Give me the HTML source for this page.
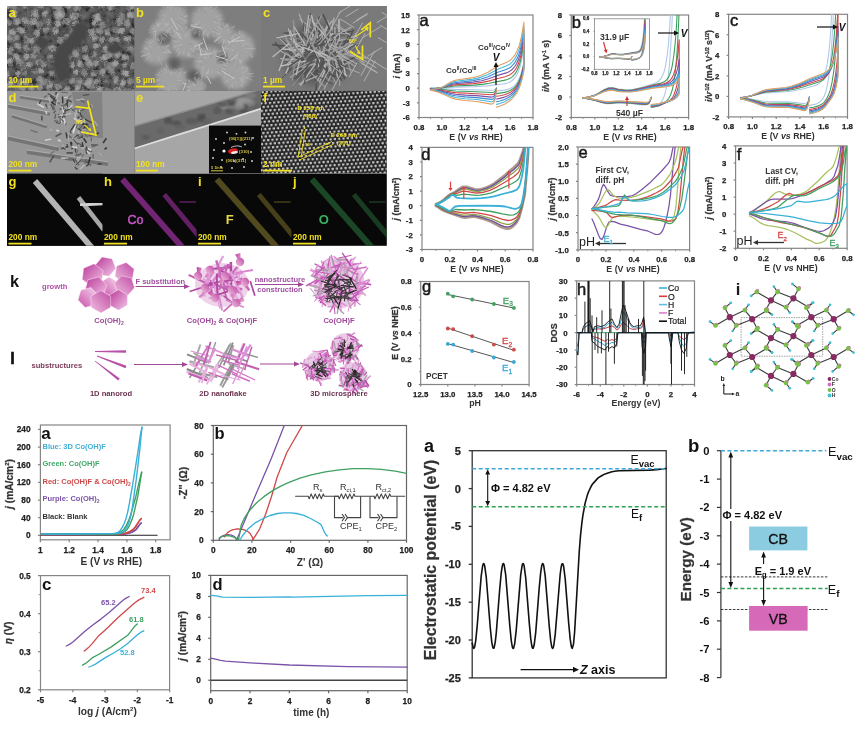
<!DOCTYPE html>
<html><head><meta charset="utf-8"><style>
html,body{margin:0;padding:0;background:#fff;width:858px;height:729px;overflow:hidden}
svg{position:absolute;left:0;top:0;display:block;will-change:transform}
text{font-family:"Liberation Sans",sans-serif}
</style></head><body>
<svg width="858" height="729" viewBox="0 0 858 729" font-family="Liberation Sans, sans-serif">
<defs>
<filter id="nzA" x="7" y="6" width="128" height="85" filterUnits="userSpaceOnUse">
 <feTurbulence type="fractalNoise" baseFrequency="0.16" numOctaves="3" seed="4"/>
 <feColorMatrix type="matrix" values="0 0 0 1.5 -0.42  0 0 0 1.5 -0.42  0 0 0 1.5 -0.42  0 0 0 0 1"/>
</filter>
<filter id="nzB" x="134" y="6" width="128" height="85" filterUnits="userSpaceOnUse">
 <feTurbulence type="fractalNoise" baseFrequency="0.09" numOctaves="4" seed="9"/>
 <feColorMatrix type="matrix" values="0 0 0 1.6 -0.35  0 0 0 1.6 -0.35  0 0 0 1.6 -0.35  0 0 0 0 1"/>
</filter>
<filter id="fuzz" x="7" y="6" width="128" height="85" filterUnits="userSpaceOnUse">
 <feTurbulence type="fractalNoise" baseFrequency="0.7" numOctaves="2" seed="3" result="t"/>
 <feDisplacementMap in="SourceGraphic" in2="t" scale="4" xChannelSelector="R" yChannelSelector="G"/>
</filter>
<filter id="blur03"><feGaussianBlur stdDeviation="0.3"/></filter>
<filter id="blur05"><feGaussianBlur stdDeviation="0.5"/></filter>
<filter id="blur1"><feGaussianBlur stdDeviation="1"/></filter>
<filter id="blur2"><feGaussianBlur stdDeviation="2"/></filter>
<filter id="blur4"><feGaussianBlur stdDeviation="4"/></filter>
<pattern id="lat" x="261" y="90.8" width="4.3" height="7.4" patternUnits="userSpaceOnUse" patternTransform="rotate(-4)">
 <circle cx="1.1" cy="1.0" r="1.3" fill="#c4c4c4"/><circle cx="3.25" cy="4.7" r="1.3" fill="#c4c4c4"/>
</pattern>
<clipPath id="cA"><rect x="7" y="6" width="127.5" height="84.8"/></clipPath>
<clipPath id="cB"><rect x="134.5" y="6" width="126.5" height="84.8"/></clipPath>
<clipPath id="cC"><rect x="261" y="6" width="125.8" height="84.8"/></clipPath>
<clipPath id="cD"><rect x="7" y="90.8" width="127.5" height="82.7"/></clipPath>
<clipPath id="cE"><rect x="134.5" y="90.8" width="126.5" height="82.7"/></clipPath>
<clipPath id="cF"><rect x="261" y="90.8" width="125.8" height="82.7"/></clipPath>
<clipPath id="cG"><rect x="7" y="173.5" width="95.5" height="72.3"/></clipPath>
<clipPath id="cH"><rect x="102.5" y="173.5" width="94.1" height="72.3"/></clipPath>
<clipPath id="cI"><rect x="196.6" y="173.5" width="94.8" height="72.3"/></clipPath>
<clipPath id="cJ"><rect x="291.4" y="173.5" width="95.4" height="72.3"/></clipPath>
</defs>
<rect x="7.0" y="173.5" width="379.8" height="72.3" fill="#080808" />
<rect x="7.0" y="6.0" width="379.8" height="167.5" fill="#777" />
<g clip-path="url(#cA)">
<rect x="7.0" y="6.0" width="127.5" height="84.8" fill="#3e3e3e" />
<g filter="url(#fuzz)">
<circle cx="6.1" cy="5.5" r="3.4" fill="#999" opacity="0.6"/>
<circle cx="8.7" cy="5.4" r="3.5" fill="#999" opacity="0.6"/>
<circle cx="6.9" cy="5.3" r="3.1" fill="#999" opacity="0.6"/>
<circle cx="13.1" cy="7.6" r="2.5" fill="#7e7e7e" opacity="0.6"/>
<circle cx="12.6" cy="6.6" r="2.4" fill="#7e7e7e" opacity="0.6"/>
<circle cx="14.4" cy="7.1" r="2.5" fill="#7e7e7e" opacity="0.6"/>
<circle cx="25.7" cy="6.3" r="2.3" fill="#8a8a8a" opacity="0.6"/>
<circle cx="25.9" cy="5.9" r="2.5" fill="#8a8a8a" opacity="0.6"/>
<circle cx="24.6" cy="6.5" r="2.3" fill="#8a8a8a" opacity="0.6"/>
<circle cx="41.0" cy="5.0" r="2.8" fill="#7e7e7e" opacity="0.6"/>
<circle cx="40.8" cy="4.9" r="3.3" fill="#7e7e7e" opacity="0.6"/>
<circle cx="38.8" cy="4.9" r="3.3" fill="#7e7e7e" opacity="0.6"/>
<circle cx="53.3" cy="3.7" r="3.1" fill="#999" opacity="0.6"/>
<circle cx="53.1" cy="5.8" r="3.1" fill="#999" opacity="0.6"/>
<circle cx="51.2" cy="3.9" r="3.1" fill="#999" opacity="0.6"/>
<circle cx="58.5" cy="7.9" r="3.1" fill="#929292" opacity="0.6"/>
<circle cx="59.4" cy="7.6" r="3.3" fill="#929292" opacity="0.6"/>
<circle cx="61.3" cy="8.9" r="3.0" fill="#929292" opacity="0.6"/>
<circle cx="67.2" cy="5.0" r="2.9" fill="#999" opacity="0.6"/>
<circle cx="69.3" cy="5.6" r="2.3" fill="#999" opacity="0.6"/>
<circle cx="68.6" cy="7.3" r="2.2" fill="#999" opacity="0.6"/>
<circle cx="75.7" cy="8.1" r="3.1" fill="#7e7e7e" opacity="0.6"/>
<circle cx="76.6" cy="8.9" r="2.8" fill="#7e7e7e" opacity="0.6"/>
<circle cx="77.8" cy="8.1" r="3.1" fill="#7e7e7e" opacity="0.6"/>
<circle cx="90.5" cy="3.4" r="2.7" fill="#7e7e7e" opacity="0.6"/>
<circle cx="90.7" cy="5.3" r="2.7" fill="#7e7e7e" opacity="0.6"/>
<circle cx="91.6" cy="5.2" r="2.3" fill="#7e7e7e" opacity="0.6"/>
<circle cx="100.6" cy="7.1" r="2.7" fill="#7e7e7e" opacity="0.6"/>
<circle cx="100.8" cy="5.9" r="2.4" fill="#7e7e7e" opacity="0.6"/>
<circle cx="102.9" cy="8.0" r="2.6" fill="#7e7e7e" opacity="0.6"/>
<circle cx="112.5" cy="6.2" r="3.6" fill="#999" opacity="0.6"/>
<circle cx="109.6" cy="7.1" r="3.5" fill="#999" opacity="0.6"/>
<circle cx="111.8" cy="7.2" r="3.3" fill="#999" opacity="0.6"/>
<circle cx="128.8" cy="8.2" r="2.3" fill="#999" opacity="0.6"/>
<circle cx="129.9" cy="7.3" r="2.3" fill="#999" opacity="0.6"/>
<circle cx="128.5" cy="6.7" r="2.7" fill="#999" opacity="0.6"/>
<circle cx="133.8" cy="4.3" r="2.4" fill="#929292" opacity="0.6"/>
<circle cx="134.0" cy="6.3" r="2.8" fill="#929292" opacity="0.6"/>
<circle cx="134.0" cy="4.8" r="2.6" fill="#929292" opacity="0.6"/>
<circle cx="14.7" cy="13.2" r="3.7" fill="#999" opacity="0.6"/>
<circle cx="13.3" cy="14.6" r="3.6" fill="#999" opacity="0.6"/>
<circle cx="13.8" cy="13.1" r="3.1" fill="#999" opacity="0.6"/>
<circle cx="35.0" cy="14.6" r="3.3" fill="#999" opacity="0.6"/>
<circle cx="36.8" cy="14.8" r="2.9" fill="#999" opacity="0.6"/>
<circle cx="34.6" cy="12.9" r="3.3" fill="#999" opacity="0.6"/>
<circle cx="45.5" cy="12.8" r="2.4" fill="#999" opacity="0.6"/>
<circle cx="44.1" cy="14.9" r="2.4" fill="#999" opacity="0.6"/>
<circle cx="44.2" cy="13.1" r="2.4" fill="#999" opacity="0.6"/>
<circle cx="56.4" cy="15.8" r="3.2" fill="#7e7e7e" opacity="0.6"/>
<circle cx="56.9" cy="13.9" r="3.6" fill="#7e7e7e" opacity="0.6"/>
<circle cx="55.4" cy="14.0" r="2.9" fill="#7e7e7e" opacity="0.6"/>
<circle cx="59.1" cy="13.8" r="2.8" fill="#999" opacity="0.6"/>
<circle cx="59.4" cy="16.6" r="3.5" fill="#999" opacity="0.6"/>
<circle cx="61.8" cy="14.2" r="3.4" fill="#999" opacity="0.6"/>
<circle cx="73.5" cy="15.7" r="3.2" fill="#929292" opacity="0.6"/>
<circle cx="73.7" cy="16.4" r="3.3" fill="#929292" opacity="0.6"/>
<circle cx="74.2" cy="16.1" r="3.6" fill="#929292" opacity="0.6"/>
<circle cx="77.2" cy="15.7" r="2.5" fill="#999" opacity="0.6"/>
<circle cx="76.7" cy="16.7" r="2.3" fill="#999" opacity="0.6"/>
<circle cx="76.7" cy="15.2" r="2.1" fill="#999" opacity="0.6"/>
<circle cx="96.5" cy="15.9" r="3.4" fill="#999" opacity="0.6"/>
<circle cx="98.6" cy="18.2" r="3.4" fill="#999" opacity="0.6"/>
<circle cx="97.5" cy="18.5" r="3.4" fill="#999" opacity="0.6"/>
<circle cx="122.0" cy="16.5" r="3.1" fill="#7e7e7e" opacity="0.6"/>
<circle cx="121.1" cy="16.5" r="3.1" fill="#7e7e7e" opacity="0.6"/>
<circle cx="121.0" cy="14.9" r="2.7" fill="#7e7e7e" opacity="0.6"/>
<circle cx="130.5" cy="14.7" r="3.3" fill="#929292" opacity="0.6"/>
<circle cx="132.5" cy="14.7" r="3.6" fill="#929292" opacity="0.6"/>
<circle cx="130.3" cy="15.0" r="3.5" fill="#929292" opacity="0.6"/>
<circle cx="139.3" cy="15.4" r="2.6" fill="#929292" opacity="0.6"/>
<circle cx="138.2" cy="13.4" r="2.4" fill="#929292" opacity="0.6"/>
<circle cx="139.1" cy="13.8" r="2.9" fill="#929292" opacity="0.6"/>
<circle cx="8.8" cy="22.6" r="2.9" fill="#7e7e7e" opacity="0.6"/>
<circle cx="9.2" cy="21.8" r="3.0" fill="#7e7e7e" opacity="0.6"/>
<circle cx="8.4" cy="22.9" r="2.9" fill="#7e7e7e" opacity="0.6"/>
<circle cx="15.9" cy="20.5" r="3.2" fill="#929292" opacity="0.6"/>
<circle cx="17.9" cy="21.5" r="3.1" fill="#929292" opacity="0.6"/>
<circle cx="16.4" cy="22.2" r="2.9" fill="#929292" opacity="0.6"/>
<circle cx="26.0" cy="20.3" r="3.0" fill="#8a8a8a" opacity="0.6"/>
<circle cx="26.5" cy="22.2" r="2.9" fill="#8a8a8a" opacity="0.6"/>
<circle cx="24.5" cy="19.9" r="2.6" fill="#8a8a8a" opacity="0.6"/>
<circle cx="34.5" cy="21.1" r="3.1" fill="#999" opacity="0.6"/>
<circle cx="32.4" cy="21.8" r="3.5" fill="#999" opacity="0.6"/>
<circle cx="34.4" cy="21.3" r="3.2" fill="#999" opacity="0.6"/>
<circle cx="39.2" cy="25.1" r="3.2" fill="#7e7e7e" opacity="0.6"/>
<circle cx="39.5" cy="25.6" r="2.9" fill="#7e7e7e" opacity="0.6"/>
<circle cx="40.1" cy="24.1" r="3.1" fill="#7e7e7e" opacity="0.6"/>
<circle cx="48.9" cy="21.3" r="2.8" fill="#929292" opacity="0.6"/>
<circle cx="49.1" cy="23.1" r="2.4" fill="#929292" opacity="0.6"/>
<circle cx="49.4" cy="20.6" r="2.4" fill="#929292" opacity="0.6"/>
<circle cx="57.9" cy="22.5" r="3.2" fill="#929292" opacity="0.6"/>
<circle cx="57.4" cy="24.0" r="2.6" fill="#929292" opacity="0.6"/>
<circle cx="57.8" cy="23.4" r="2.8" fill="#929292" opacity="0.6"/>
<circle cx="65.8" cy="21.1" r="3.1" fill="#8a8a8a" opacity="0.6"/>
<circle cx="67.1" cy="21.0" r="2.9" fill="#8a8a8a" opacity="0.6"/>
<circle cx="64.9" cy="22.2" r="3.2" fill="#8a8a8a" opacity="0.6"/>
<circle cx="76.2" cy="24.2" r="3.2" fill="#999" opacity="0.6"/>
<circle cx="75.8" cy="24.0" r="3.3" fill="#999" opacity="0.6"/>
<circle cx="76.4" cy="23.4" r="3.0" fill="#999" opacity="0.6"/>
<circle cx="94.1" cy="23.1" r="2.6" fill="#999" opacity="0.6"/>
<circle cx="94.3" cy="22.8" r="2.6" fill="#999" opacity="0.6"/>
<circle cx="94.5" cy="23.1" r="2.4" fill="#999" opacity="0.6"/>
<circle cx="101.5" cy="25.6" r="3.2" fill="#7e7e7e" opacity="0.6"/>
<circle cx="102.4" cy="24.7" r="3.2" fill="#7e7e7e" opacity="0.6"/>
<circle cx="102.6" cy="24.8" r="3.0" fill="#7e7e7e" opacity="0.6"/>
<circle cx="118.8" cy="21.2" r="3.3" fill="#929292" opacity="0.6"/>
<circle cx="119.4" cy="22.5" r="3.4" fill="#929292" opacity="0.6"/>
<circle cx="119.8" cy="21.6" r="3.0" fill="#929292" opacity="0.6"/>
<circle cx="127.7" cy="23.3" r="3.4" fill="#7e7e7e" opacity="0.6"/>
<circle cx="126.6" cy="23.7" r="3.0" fill="#7e7e7e" opacity="0.6"/>
<circle cx="126.7" cy="22.4" r="3.2" fill="#7e7e7e" opacity="0.6"/>
<circle cx="137.0" cy="24.0" r="2.3" fill="#929292" opacity="0.6"/>
<circle cx="137.9" cy="24.4" r="2.6" fill="#929292" opacity="0.6"/>
<circle cx="137.5" cy="24.3" r="2.3" fill="#929292" opacity="0.6"/>
<circle cx="12.4" cy="32.5" r="3.2" fill="#929292" opacity="0.6"/>
<circle cx="12.8" cy="32.5" r="3.0" fill="#929292" opacity="0.6"/>
<circle cx="11.7" cy="32.0" r="2.8" fill="#929292" opacity="0.6"/>
<circle cx="22.2" cy="30.5" r="3.1" fill="#999" opacity="0.6"/>
<circle cx="21.3" cy="30.3" r="3.3" fill="#999" opacity="0.6"/>
<circle cx="19.8" cy="29.6" r="3.0" fill="#999" opacity="0.6"/>
<circle cx="36.5" cy="31.8" r="3.3" fill="#929292" opacity="0.6"/>
<circle cx="36.8" cy="33.6" r="3.3" fill="#929292" opacity="0.6"/>
<circle cx="37.2" cy="33.9" r="2.9" fill="#929292" opacity="0.6"/>
<circle cx="46.0" cy="29.9" r="2.8" fill="#7e7e7e" opacity="0.6"/>
<circle cx="46.4" cy="29.8" r="2.9" fill="#7e7e7e" opacity="0.6"/>
<circle cx="46.2" cy="30.6" r="3.2" fill="#7e7e7e" opacity="0.6"/>
<circle cx="55.6" cy="30.4" r="3.1" fill="#999" opacity="0.6"/>
<circle cx="56.0" cy="29.2" r="2.8" fill="#999" opacity="0.6"/>
<circle cx="55.1" cy="31.0" r="2.7" fill="#999" opacity="0.6"/>
<circle cx="74.4" cy="33.4" r="3.3" fill="#929292" opacity="0.6"/>
<circle cx="74.4" cy="34.2" r="3.4" fill="#929292" opacity="0.6"/>
<circle cx="72.6" cy="32.2" r="2.9" fill="#929292" opacity="0.6"/>
<circle cx="77.0" cy="33.4" r="2.5" fill="#999" opacity="0.6"/>
<circle cx="79.1" cy="32.7" r="2.9" fill="#999" opacity="0.6"/>
<circle cx="78.2" cy="31.0" r="2.8" fill="#999" opacity="0.6"/>
<circle cx="91.3" cy="31.6" r="3.4" fill="#999" opacity="0.6"/>
<circle cx="91.3" cy="31.7" r="3.6" fill="#999" opacity="0.6"/>
<circle cx="90.6" cy="31.1" r="2.9" fill="#999" opacity="0.6"/>
<circle cx="97.8" cy="30.7" r="2.7" fill="#8a8a8a" opacity="0.6"/>
<circle cx="100.3" cy="31.5" r="2.9" fill="#8a8a8a" opacity="0.6"/>
<circle cx="99.2" cy="30.0" r="2.7" fill="#8a8a8a" opacity="0.6"/>
<circle cx="107.7" cy="32.4" r="2.5" fill="#999" opacity="0.6"/>
<circle cx="108.1" cy="33.5" r="2.7" fill="#999" opacity="0.6"/>
<circle cx="106.9" cy="31.6" r="2.6" fill="#999" opacity="0.6"/>
<circle cx="115.1" cy="29.9" r="2.9" fill="#7e7e7e" opacity="0.6"/>
<circle cx="117.2" cy="30.1" r="2.5" fill="#7e7e7e" opacity="0.6"/>
<circle cx="115.3" cy="30.4" r="3.0" fill="#7e7e7e" opacity="0.6"/>
<circle cx="121.4" cy="30.5" r="3.3" fill="#999" opacity="0.6"/>
<circle cx="122.1" cy="31.2" r="2.9" fill="#999" opacity="0.6"/>
<circle cx="120.1" cy="31.1" r="2.5" fill="#999" opacity="0.6"/>
<circle cx="132.3" cy="31.1" r="2.8" fill="#8a8a8a" opacity="0.6"/>
<circle cx="134.2" cy="31.6" r="3.0" fill="#8a8a8a" opacity="0.6"/>
<circle cx="134.0" cy="31.4" r="3.1" fill="#8a8a8a" opacity="0.6"/>
<circle cx="141.3" cy="29.7" r="2.8" fill="#999" opacity="0.6"/>
<circle cx="142.1" cy="29.0" r="3.4" fill="#999" opacity="0.6"/>
<circle cx="141.3" cy="29.4" r="3.3" fill="#999" opacity="0.6"/>
<circle cx="9.5" cy="39.6" r="3.2" fill="#7e7e7e" opacity="0.6"/>
<circle cx="10.3" cy="37.9" r="2.7" fill="#7e7e7e" opacity="0.6"/>
<circle cx="8.2" cy="37.3" r="2.9" fill="#7e7e7e" opacity="0.6"/>
<circle cx="16.3" cy="37.1" r="2.9" fill="#7e7e7e" opacity="0.6"/>
<circle cx="17.4" cy="37.6" r="2.8" fill="#7e7e7e" opacity="0.6"/>
<circle cx="16.2" cy="38.1" r="2.5" fill="#7e7e7e" opacity="0.6"/>
<circle cx="25.3" cy="38.2" r="2.7" fill="#8a8a8a" opacity="0.6"/>
<circle cx="26.4" cy="40.1" r="2.7" fill="#8a8a8a" opacity="0.6"/>
<circle cx="26.9" cy="41.2" r="2.5" fill="#8a8a8a" opacity="0.6"/>
<circle cx="31.7" cy="41.1" r="2.9" fill="#999" opacity="0.6"/>
<circle cx="30.6" cy="40.6" r="2.3" fill="#999" opacity="0.6"/>
<circle cx="30.8" cy="39.9" r="2.7" fill="#999" opacity="0.6"/>
<circle cx="60.0" cy="40.2" r="3.5" fill="#8a8a8a" opacity="0.6"/>
<circle cx="60.2" cy="40.5" r="3.2" fill="#8a8a8a" opacity="0.6"/>
<circle cx="59.6" cy="41.1" r="2.9" fill="#8a8a8a" opacity="0.6"/>
<circle cx="68.0" cy="37.5" r="2.8" fill="#999" opacity="0.6"/>
<circle cx="66.9" cy="36.5" r="3.0" fill="#999" opacity="0.6"/>
<circle cx="68.4" cy="38.6" r="2.9" fill="#999" opacity="0.6"/>
<circle cx="75.1" cy="39.2" r="3.2" fill="#7e7e7e" opacity="0.6"/>
<circle cx="73.6" cy="39.5" r="3.4" fill="#7e7e7e" opacity="0.6"/>
<circle cx="74.4" cy="40.4" r="3.5" fill="#7e7e7e" opacity="0.6"/>
<circle cx="95.4" cy="36.7" r="2.7" fill="#999" opacity="0.6"/>
<circle cx="94.7" cy="36.8" r="3.3" fill="#999" opacity="0.6"/>
<circle cx="93.8" cy="38.7" r="2.7" fill="#999" opacity="0.6"/>
<circle cx="102.7" cy="39.5" r="2.7" fill="#929292" opacity="0.6"/>
<circle cx="102.5" cy="40.9" r="2.4" fill="#929292" opacity="0.6"/>
<circle cx="101.6" cy="39.4" r="2.6" fill="#929292" opacity="0.6"/>
<circle cx="112.5" cy="39.9" r="2.5" fill="#8a8a8a" opacity="0.6"/>
<circle cx="111.4" cy="39.3" r="2.6" fill="#8a8a8a" opacity="0.6"/>
<circle cx="110.9" cy="39.8" r="2.8" fill="#8a8a8a" opacity="0.6"/>
<circle cx="117.7" cy="39.5" r="2.8" fill="#7e7e7e" opacity="0.6"/>
<circle cx="117.3" cy="39.3" r="2.4" fill="#7e7e7e" opacity="0.6"/>
<circle cx="117.9" cy="40.1" r="2.6" fill="#7e7e7e" opacity="0.6"/>
<circle cx="128.3" cy="37.8" r="3.1" fill="#999" opacity="0.6"/>
<circle cx="126.4" cy="38.2" r="2.7" fill="#999" opacity="0.6"/>
<circle cx="126.7" cy="39.3" r="2.8" fill="#999" opacity="0.6"/>
<circle cx="137.2" cy="40.1" r="2.8" fill="#8a8a8a" opacity="0.6"/>
<circle cx="137.8" cy="39.7" r="2.5" fill="#8a8a8a" opacity="0.6"/>
<circle cx="137.1" cy="40.3" r="2.8" fill="#8a8a8a" opacity="0.6"/>
<circle cx="10.6" cy="50.6" r="2.9" fill="#8a8a8a" opacity="0.6"/>
<circle cx="11.5" cy="49.4" r="2.7" fill="#8a8a8a" opacity="0.6"/>
<circle cx="11.1" cy="51.6" r="3.4" fill="#8a8a8a" opacity="0.6"/>
<circle cx="16.8" cy="45.8" r="3.0" fill="#8a8a8a" opacity="0.6"/>
<circle cx="18.3" cy="45.4" r="2.5" fill="#8a8a8a" opacity="0.6"/>
<circle cx="19.1" cy="46.6" r="2.9" fill="#8a8a8a" opacity="0.6"/>
<circle cx="27.6" cy="46.0" r="3.1" fill="#7e7e7e" opacity="0.6"/>
<circle cx="27.9" cy="48.1" r="3.4" fill="#7e7e7e" opacity="0.6"/>
<circle cx="26.2" cy="47.9" r="3.2" fill="#7e7e7e" opacity="0.6"/>
<circle cx="37.3" cy="49.9" r="3.2" fill="#7e7e7e" opacity="0.6"/>
<circle cx="36.7" cy="51.2" r="3.5" fill="#7e7e7e" opacity="0.6"/>
<circle cx="36.7" cy="48.7" r="3.3" fill="#7e7e7e" opacity="0.6"/>
<circle cx="52.3" cy="48.4" r="2.8" fill="#999" opacity="0.6"/>
<circle cx="51.6" cy="48.6" r="3.1" fill="#999" opacity="0.6"/>
<circle cx="53.1" cy="48.2" r="3.1" fill="#999" opacity="0.6"/>
<circle cx="63.2" cy="48.1" r="2.6" fill="#8a8a8a" opacity="0.6"/>
<circle cx="63.4" cy="49.6" r="2.7" fill="#8a8a8a" opacity="0.6"/>
<circle cx="62.0" cy="50.2" r="2.6" fill="#8a8a8a" opacity="0.6"/>
<circle cx="72.4" cy="48.0" r="2.7" fill="#999" opacity="0.6"/>
<circle cx="71.1" cy="45.7" r="3.0" fill="#999" opacity="0.6"/>
<circle cx="70.5" cy="47.2" r="3.1" fill="#999" opacity="0.6"/>
<circle cx="85.2" cy="47.5" r="2.8" fill="#7e7e7e" opacity="0.6"/>
<circle cx="85.7" cy="49.0" r="3.0" fill="#7e7e7e" opacity="0.6"/>
<circle cx="85.4" cy="49.1" r="3.3" fill="#7e7e7e" opacity="0.6"/>
<circle cx="95.9" cy="46.0" r="2.9" fill="#8a8a8a" opacity="0.6"/>
<circle cx="97.9" cy="45.1" r="2.3" fill="#8a8a8a" opacity="0.6"/>
<circle cx="96.0" cy="45.9" r="2.5" fill="#8a8a8a" opacity="0.6"/>
<circle cx="105.2" cy="49.5" r="2.5" fill="#999" opacity="0.6"/>
<circle cx="106.6" cy="49.5" r="2.9" fill="#999" opacity="0.6"/>
<circle cx="105.3" cy="48.4" r="2.6" fill="#999" opacity="0.6"/>
<circle cx="129.9" cy="49.7" r="3.2" fill="#7e7e7e" opacity="0.6"/>
<circle cx="131.5" cy="49.2" r="2.6" fill="#7e7e7e" opacity="0.6"/>
<circle cx="132.3" cy="51.0" r="2.9" fill="#7e7e7e" opacity="0.6"/>
<circle cx="139.8" cy="47.4" r="2.9" fill="#8a8a8a" opacity="0.6"/>
<circle cx="139.0" cy="44.9" r="3.0" fill="#8a8a8a" opacity="0.6"/>
<circle cx="141.1" cy="46.5" r="3.7" fill="#8a8a8a" opacity="0.6"/>
<circle cx="16.4" cy="56.3" r="3.2" fill="#929292" opacity="0.6"/>
<circle cx="16.6" cy="56.8" r="2.6" fill="#929292" opacity="0.6"/>
<circle cx="16.1" cy="56.2" r="2.9" fill="#929292" opacity="0.6"/>
<circle cx="27.3" cy="55.9" r="2.5" fill="#929292" opacity="0.6"/>
<circle cx="26.1" cy="57.1" r="3.0" fill="#929292" opacity="0.6"/>
<circle cx="26.6" cy="55.9" r="2.6" fill="#929292" opacity="0.6"/>
<circle cx="33.4" cy="55.7" r="2.9" fill="#929292" opacity="0.6"/>
<circle cx="34.5" cy="54.2" r="2.4" fill="#929292" opacity="0.6"/>
<circle cx="34.2" cy="54.8" r="2.6" fill="#929292" opacity="0.6"/>
<circle cx="51.7" cy="59.5" r="3.4" fill="#8a8a8a" opacity="0.6"/>
<circle cx="50.1" cy="57.5" r="2.9" fill="#8a8a8a" opacity="0.6"/>
<circle cx="49.5" cy="57.4" r="2.9" fill="#8a8a8a" opacity="0.6"/>
<circle cx="67.9" cy="54.7" r="2.7" fill="#929292" opacity="0.6"/>
<circle cx="69.1" cy="55.7" r="2.9" fill="#929292" opacity="0.6"/>
<circle cx="69.6" cy="55.8" r="2.9" fill="#929292" opacity="0.6"/>
<circle cx="75.2" cy="52.8" r="3.2" fill="#8a8a8a" opacity="0.6"/>
<circle cx="74.1" cy="54.0" r="3.4" fill="#8a8a8a" opacity="0.6"/>
<circle cx="75.9" cy="54.3" r="2.9" fill="#8a8a8a" opacity="0.6"/>
<circle cx="86.9" cy="58.4" r="2.3" fill="#929292" opacity="0.6"/>
<circle cx="85.6" cy="58.1" r="2.7" fill="#929292" opacity="0.6"/>
<circle cx="84.9" cy="56.7" r="2.8" fill="#929292" opacity="0.6"/>
<circle cx="93.6" cy="53.8" r="2.9" fill="#7e7e7e" opacity="0.6"/>
<circle cx="93.2" cy="54.6" r="2.7" fill="#7e7e7e" opacity="0.6"/>
<circle cx="92.6" cy="53.8" r="2.6" fill="#7e7e7e" opacity="0.6"/>
<circle cx="105.4" cy="56.7" r="2.9" fill="#999" opacity="0.6"/>
<circle cx="103.1" cy="58.0" r="3.1" fill="#999" opacity="0.6"/>
<circle cx="105.5" cy="57.5" r="2.8" fill="#999" opacity="0.6"/>
<circle cx="108.1" cy="54.5" r="3.0" fill="#8a8a8a" opacity="0.6"/>
<circle cx="108.6" cy="54.9" r="3.6" fill="#8a8a8a" opacity="0.6"/>
<circle cx="109.7" cy="55.1" r="3.4" fill="#8a8a8a" opacity="0.6"/>
<circle cx="118.7" cy="54.2" r="2.9" fill="#929292" opacity="0.6"/>
<circle cx="117.3" cy="54.2" r="3.1" fill="#929292" opacity="0.6"/>
<circle cx="116.6" cy="55.7" r="3.3" fill="#929292" opacity="0.6"/>
<circle cx="124.0" cy="57.7" r="2.8" fill="#999" opacity="0.6"/>
<circle cx="126.4" cy="58.0" r="2.9" fill="#999" opacity="0.6"/>
<circle cx="124.5" cy="56.4" r="3.1" fill="#999" opacity="0.6"/>
<circle cx="136.8" cy="55.3" r="2.4" fill="#7e7e7e" opacity="0.6"/>
<circle cx="137.5" cy="54.7" r="2.5" fill="#7e7e7e" opacity="0.6"/>
<circle cx="136.3" cy="53.9" r="2.7" fill="#7e7e7e" opacity="0.6"/>
<circle cx="9.4" cy="61.9" r="3.0" fill="#999" opacity="0.6"/>
<circle cx="9.7" cy="60.7" r="2.5" fill="#999" opacity="0.6"/>
<circle cx="10.1" cy="63.4" r="2.8" fill="#999" opacity="0.6"/>
<circle cx="21.5" cy="63.6" r="3.0" fill="#7e7e7e" opacity="0.6"/>
<circle cx="19.6" cy="61.8" r="3.3" fill="#7e7e7e" opacity="0.6"/>
<circle cx="18.8" cy="61.7" r="3.3" fill="#7e7e7e" opacity="0.6"/>
<circle cx="30.2" cy="64.2" r="2.8" fill="#999" opacity="0.6"/>
<circle cx="28.1" cy="64.6" r="2.5" fill="#999" opacity="0.6"/>
<circle cx="28.1" cy="64.2" r="2.3" fill="#999" opacity="0.6"/>
<circle cx="40.5" cy="62.3" r="2.8" fill="#929292" opacity="0.6"/>
<circle cx="38.7" cy="61.7" r="2.6" fill="#929292" opacity="0.6"/>
<circle cx="38.3" cy="62.3" r="2.6" fill="#929292" opacity="0.6"/>
<circle cx="43.7" cy="64.3" r="2.5" fill="#8a8a8a" opacity="0.6"/>
<circle cx="43.9" cy="65.4" r="2.6" fill="#8a8a8a" opacity="0.6"/>
<circle cx="43.6" cy="64.6" r="2.5" fill="#8a8a8a" opacity="0.6"/>
<circle cx="72.0" cy="64.1" r="2.7" fill="#999" opacity="0.6"/>
<circle cx="71.9" cy="66.7" r="2.8" fill="#999" opacity="0.6"/>
<circle cx="72.6" cy="66.1" r="2.3" fill="#999" opacity="0.6"/>
<circle cx="81.1" cy="64.4" r="3.0" fill="#999" opacity="0.6"/>
<circle cx="80.5" cy="64.1" r="3.2" fill="#999" opacity="0.6"/>
<circle cx="79.5" cy="62.7" r="3.2" fill="#999" opacity="0.6"/>
<circle cx="90.0" cy="63.7" r="3.2" fill="#8a8a8a" opacity="0.6"/>
<circle cx="88.7" cy="62.2" r="3.6" fill="#8a8a8a" opacity="0.6"/>
<circle cx="89.6" cy="63.7" r="3.0" fill="#8a8a8a" opacity="0.6"/>
<circle cx="96.1" cy="63.8" r="2.9" fill="#999" opacity="0.6"/>
<circle cx="96.6" cy="63.9" r="2.9" fill="#999" opacity="0.6"/>
<circle cx="96.3" cy="62.9" r="3.1" fill="#999" opacity="0.6"/>
<circle cx="106.9" cy="63.9" r="3.2" fill="#7e7e7e" opacity="0.6"/>
<circle cx="107.3" cy="66.8" r="3.1" fill="#7e7e7e" opacity="0.6"/>
<circle cx="107.9" cy="65.7" r="3.5" fill="#7e7e7e" opacity="0.6"/>
<circle cx="115.2" cy="63.2" r="2.9" fill="#929292" opacity="0.6"/>
<circle cx="115.5" cy="62.9" r="3.0" fill="#929292" opacity="0.6"/>
<circle cx="113.5" cy="65.3" r="3.3" fill="#929292" opacity="0.6"/>
<circle cx="125.2" cy="65.8" r="2.3" fill="#8a8a8a" opacity="0.6"/>
<circle cx="123.6" cy="65.8" r="2.3" fill="#8a8a8a" opacity="0.6"/>
<circle cx="125.6" cy="64.3" r="2.1" fill="#8a8a8a" opacity="0.6"/>
<circle cx="132.7" cy="65.8" r="3.1" fill="#8a8a8a" opacity="0.6"/>
<circle cx="133.6" cy="66.0" r="2.9" fill="#8a8a8a" opacity="0.6"/>
<circle cx="134.0" cy="64.8" r="3.0" fill="#8a8a8a" opacity="0.6"/>
<circle cx="140.9" cy="65.0" r="2.6" fill="#999" opacity="0.6"/>
<circle cx="142.1" cy="64.6" r="2.4" fill="#999" opacity="0.6"/>
<circle cx="141.6" cy="63.4" r="2.8" fill="#999" opacity="0.6"/>
<circle cx="5.0" cy="75.5" r="2.5" fill="#8a8a8a" opacity="0.6"/>
<circle cx="7.3" cy="75.2" r="2.4" fill="#8a8a8a" opacity="0.6"/>
<circle cx="5.6" cy="73.4" r="2.8" fill="#8a8a8a" opacity="0.6"/>
<circle cx="18.1" cy="74.2" r="2.6" fill="#929292" opacity="0.6"/>
<circle cx="17.9" cy="73.9" r="3.0" fill="#929292" opacity="0.6"/>
<circle cx="17.7" cy="73.1" r="2.7" fill="#929292" opacity="0.6"/>
<circle cx="23.8" cy="70.9" r="3.0" fill="#7e7e7e" opacity="0.6"/>
<circle cx="23.3" cy="69.6" r="2.9" fill="#7e7e7e" opacity="0.6"/>
<circle cx="24.2" cy="72.4" r="2.9" fill="#7e7e7e" opacity="0.6"/>
<circle cx="34.8" cy="70.6" r="2.3" fill="#8a8a8a" opacity="0.6"/>
<circle cx="35.6" cy="71.8" r="2.6" fill="#8a8a8a" opacity="0.6"/>
<circle cx="33.7" cy="70.4" r="2.1" fill="#8a8a8a" opacity="0.6"/>
<circle cx="40.6" cy="70.8" r="2.7" fill="#929292" opacity="0.6"/>
<circle cx="41.0" cy="70.7" r="2.5" fill="#929292" opacity="0.6"/>
<circle cx="40.8" cy="70.4" r="2.4" fill="#929292" opacity="0.6"/>
<circle cx="50.0" cy="72.6" r="2.4" fill="#7e7e7e" opacity="0.6"/>
<circle cx="52.6" cy="73.1" r="2.7" fill="#7e7e7e" opacity="0.6"/>
<circle cx="52.5" cy="73.7" r="2.5" fill="#7e7e7e" opacity="0.6"/>
<circle cx="67.1" cy="75.6" r="3.6" fill="#929292" opacity="0.6"/>
<circle cx="66.9" cy="75.0" r="3.1" fill="#929292" opacity="0.6"/>
<circle cx="66.6" cy="76.1" r="3.6" fill="#929292" opacity="0.6"/>
<circle cx="75.6" cy="73.0" r="2.8" fill="#929292" opacity="0.6"/>
<circle cx="76.2" cy="72.6" r="2.5" fill="#929292" opacity="0.6"/>
<circle cx="75.8" cy="71.6" r="2.4" fill="#929292" opacity="0.6"/>
<circle cx="85.9" cy="71.6" r="3.1" fill="#8a8a8a" opacity="0.6"/>
<circle cx="84.1" cy="71.8" r="3.0" fill="#8a8a8a" opacity="0.6"/>
<circle cx="84.9" cy="73.2" r="3.0" fill="#8a8a8a" opacity="0.6"/>
<circle cx="96.2" cy="72.7" r="2.7" fill="#999" opacity="0.6"/>
<circle cx="94.7" cy="73.0" r="3.0" fill="#999" opacity="0.6"/>
<circle cx="94.3" cy="74.4" r="2.5" fill="#999" opacity="0.6"/>
<circle cx="102.0" cy="72.3" r="2.9" fill="#929292" opacity="0.6"/>
<circle cx="103.2" cy="71.1" r="2.7" fill="#929292" opacity="0.6"/>
<circle cx="102.0" cy="70.5" r="2.3" fill="#929292" opacity="0.6"/>
<circle cx="111.7" cy="71.5" r="2.7" fill="#7e7e7e" opacity="0.6"/>
<circle cx="110.9" cy="70.2" r="2.7" fill="#7e7e7e" opacity="0.6"/>
<circle cx="111.7" cy="71.5" r="3.0" fill="#7e7e7e" opacity="0.6"/>
<circle cx="125.8" cy="73.7" r="3.0" fill="#999" opacity="0.6"/>
<circle cx="125.9" cy="73.4" r="2.9" fill="#999" opacity="0.6"/>
<circle cx="123.9" cy="72.9" r="2.8" fill="#999" opacity="0.6"/>
<circle cx="136.8" cy="71.1" r="2.8" fill="#7e7e7e" opacity="0.6"/>
<circle cx="137.9" cy="73.2" r="2.5" fill="#7e7e7e" opacity="0.6"/>
<circle cx="137.4" cy="72.2" r="2.7" fill="#7e7e7e" opacity="0.6"/>
<circle cx="10.4" cy="83.0" r="2.6" fill="#999" opacity="0.6"/>
<circle cx="12.9" cy="81.8" r="2.7" fill="#999" opacity="0.6"/>
<circle cx="11.2" cy="83.2" r="2.3" fill="#999" opacity="0.6"/>
<circle cx="19.3" cy="82.3" r="2.4" fill="#8a8a8a" opacity="0.6"/>
<circle cx="19.3" cy="84.2" r="2.3" fill="#8a8a8a" opacity="0.6"/>
<circle cx="18.5" cy="81.6" r="2.8" fill="#8a8a8a" opacity="0.6"/>
<circle cx="27.5" cy="81.2" r="2.7" fill="#999" opacity="0.6"/>
<circle cx="24.9" cy="82.0" r="2.8" fill="#999" opacity="0.6"/>
<circle cx="25.9" cy="83.6" r="2.8" fill="#999" opacity="0.6"/>
<circle cx="38.8" cy="81.0" r="2.9" fill="#7e7e7e" opacity="0.6"/>
<circle cx="39.3" cy="79.0" r="2.9" fill="#7e7e7e" opacity="0.6"/>
<circle cx="39.9" cy="78.7" r="2.9" fill="#7e7e7e" opacity="0.6"/>
<circle cx="44.7" cy="82.2" r="3.2" fill="#7e7e7e" opacity="0.6"/>
<circle cx="43.9" cy="80.3" r="3.3" fill="#7e7e7e" opacity="0.6"/>
<circle cx="42.8" cy="81.9" r="2.9" fill="#7e7e7e" opacity="0.6"/>
<circle cx="50.9" cy="81.2" r="2.5" fill="#8a8a8a" opacity="0.6"/>
<circle cx="51.2" cy="84.0" r="2.5" fill="#8a8a8a" opacity="0.6"/>
<circle cx="51.8" cy="83.9" r="2.4" fill="#8a8a8a" opacity="0.6"/>
<circle cx="72.7" cy="83.3" r="3.1" fill="#8a8a8a" opacity="0.6"/>
<circle cx="72.3" cy="80.6" r="3.1" fill="#8a8a8a" opacity="0.6"/>
<circle cx="71.8" cy="80.6" r="3.0" fill="#8a8a8a" opacity="0.6"/>
<circle cx="79.2" cy="80.4" r="2.9" fill="#8a8a8a" opacity="0.6"/>
<circle cx="80.5" cy="81.9" r="3.4" fill="#8a8a8a" opacity="0.6"/>
<circle cx="78.9" cy="81.5" r="3.1" fill="#8a8a8a" opacity="0.6"/>
<circle cx="87.7" cy="83.5" r="3.0" fill="#999" opacity="0.6"/>
<circle cx="87.6" cy="83.2" r="3.7" fill="#999" opacity="0.6"/>
<circle cx="89.7" cy="81.8" r="3.8" fill="#999" opacity="0.6"/>
<circle cx="96.0" cy="82.1" r="2.3" fill="#999" opacity="0.6"/>
<circle cx="98.5" cy="81.7" r="2.7" fill="#999" opacity="0.6"/>
<circle cx="96.4" cy="81.7" r="2.8" fill="#999" opacity="0.6"/>
<circle cx="104.0" cy="83.1" r="2.4" fill="#7e7e7e" opacity="0.6"/>
<circle cx="106.3" cy="82.0" r="2.4" fill="#7e7e7e" opacity="0.6"/>
<circle cx="104.4" cy="81.9" r="2.6" fill="#7e7e7e" opacity="0.6"/>
<circle cx="116.1" cy="78.7" r="2.9" fill="#929292" opacity="0.6"/>
<circle cx="115.8" cy="81.1" r="2.7" fill="#929292" opacity="0.6"/>
<circle cx="115.9" cy="80.4" r="2.4" fill="#929292" opacity="0.6"/>
<circle cx="123.2" cy="81.8" r="2.7" fill="#999" opacity="0.6"/>
<circle cx="123.0" cy="83.7" r="2.7" fill="#999" opacity="0.6"/>
<circle cx="123.4" cy="83.6" r="2.7" fill="#999" opacity="0.6"/>
<circle cx="131.1" cy="81.3" r="2.3" fill="#7e7e7e" opacity="0.6"/>
<circle cx="129.7" cy="81.5" r="2.9" fill="#7e7e7e" opacity="0.6"/>
<circle cx="131.5" cy="80.4" r="2.7" fill="#7e7e7e" opacity="0.6"/>
<circle cx="141.6" cy="79.0" r="2.8" fill="#7e7e7e" opacity="0.6"/>
<circle cx="141.2" cy="79.9" r="3.0" fill="#7e7e7e" opacity="0.6"/>
<circle cx="140.3" cy="79.9" r="3.0" fill="#7e7e7e" opacity="0.6"/>
<circle cx="5.8" cy="85.6" r="3.3" fill="#929292" opacity="0.6"/>
<circle cx="5.7" cy="86.8" r="3.0" fill="#929292" opacity="0.6"/>
<circle cx="4.9" cy="87.1" r="3.5" fill="#929292" opacity="0.6"/>
<circle cx="15.0" cy="86.1" r="2.8" fill="#7e7e7e" opacity="0.6"/>
<circle cx="16.5" cy="87.9" r="2.7" fill="#7e7e7e" opacity="0.6"/>
<circle cx="15.9" cy="86.6" r="2.5" fill="#7e7e7e" opacity="0.6"/>
<circle cx="23.7" cy="88.4" r="2.6" fill="#8a8a8a" opacity="0.6"/>
<circle cx="21.7" cy="88.9" r="2.7" fill="#8a8a8a" opacity="0.6"/>
<circle cx="20.9" cy="87.8" r="2.7" fill="#8a8a8a" opacity="0.6"/>
<circle cx="31.0" cy="86.0" r="2.2" fill="#999" opacity="0.6"/>
<circle cx="30.0" cy="88.5" r="2.2" fill="#999" opacity="0.6"/>
<circle cx="31.8" cy="88.1" r="2.5" fill="#999" opacity="0.6"/>
<circle cx="40.3" cy="88.2" r="2.6" fill="#8a8a8a" opacity="0.6"/>
<circle cx="39.7" cy="89.1" r="2.8" fill="#8a8a8a" opacity="0.6"/>
<circle cx="38.8" cy="86.9" r="3.0" fill="#8a8a8a" opacity="0.6"/>
<circle cx="48.8" cy="87.7" r="3.2" fill="#929292" opacity="0.6"/>
<circle cx="49.4" cy="88.5" r="2.8" fill="#929292" opacity="0.6"/>
<circle cx="49.9" cy="87.4" r="3.2" fill="#929292" opacity="0.6"/>
<circle cx="58.0" cy="86.8" r="2.9" fill="#8a8a8a" opacity="0.6"/>
<circle cx="58.8" cy="87.2" r="2.9" fill="#8a8a8a" opacity="0.6"/>
<circle cx="58.8" cy="86.9" r="3.4" fill="#8a8a8a" opacity="0.6"/>
<circle cx="66.7" cy="90.0" r="2.5" fill="#999" opacity="0.6"/>
<circle cx="67.3" cy="90.6" r="3.0" fill="#999" opacity="0.6"/>
<circle cx="68.0" cy="88.7" r="2.9" fill="#999" opacity="0.6"/>
<circle cx="77.6" cy="87.1" r="2.5" fill="#999" opacity="0.6"/>
<circle cx="77.4" cy="88.7" r="2.4" fill="#999" opacity="0.6"/>
<circle cx="78.2" cy="87.1" r="2.7" fill="#999" opacity="0.6"/>
<circle cx="84.5" cy="92.1" r="2.5" fill="#7e7e7e" opacity="0.6"/>
<circle cx="84.2" cy="91.5" r="2.7" fill="#7e7e7e" opacity="0.6"/>
<circle cx="84.1" cy="90.6" r="2.8" fill="#7e7e7e" opacity="0.6"/>
<circle cx="91.8" cy="87.4" r="3.3" fill="#7e7e7e" opacity="0.6"/>
<circle cx="89.9" cy="87.2" r="3.0" fill="#7e7e7e" opacity="0.6"/>
<circle cx="91.0" cy="85.6" r="3.2" fill="#7e7e7e" opacity="0.6"/>
<circle cx="100.5" cy="88.8" r="2.6" fill="#929292" opacity="0.6"/>
<circle cx="99.0" cy="89.2" r="2.8" fill="#929292" opacity="0.6"/>
<circle cx="99.5" cy="88.7" r="2.6" fill="#929292" opacity="0.6"/>
<circle cx="108.3" cy="91.9" r="3.3" fill="#7e7e7e" opacity="0.6"/>
<circle cx="107.5" cy="91.3" r="3.3" fill="#7e7e7e" opacity="0.6"/>
<circle cx="110.1" cy="92.1" r="3.2" fill="#7e7e7e" opacity="0.6"/>
<circle cx="116.2" cy="91.2" r="3.3" fill="#999" opacity="0.6"/>
<circle cx="118.1" cy="90.8" r="3.0" fill="#999" opacity="0.6"/>
<circle cx="117.4" cy="90.4" r="3.5" fill="#999" opacity="0.6"/>
<circle cx="128.6" cy="92.2" r="3.2" fill="#8a8a8a" opacity="0.6"/>
<circle cx="126.9" cy="92.6" r="3.1" fill="#8a8a8a" opacity="0.6"/>
<circle cx="126.4" cy="91.1" r="3.0" fill="#8a8a8a" opacity="0.6"/>
<circle cx="133.7" cy="90.9" r="2.4" fill="#999" opacity="0.6"/>
<circle cx="135.6" cy="89.3" r="2.4" fill="#999" opacity="0.6"/>
<circle cx="135.3" cy="88.5" r="2.5" fill="#999" opacity="0.6"/>
</g>
<rect x="7.0" y="6.0" width="127.5" height="84.8" fill="#000"  filter="url(#nzA)" opacity="0.25"/>
<path d="M76,22 C73,30 70,36 62.6,42.9 C57,48 54,53 54.2,62.6 C54.5,70 56,76 60,81 L72,79 C70,72 69,64 69,58 C70,53 73,50 78,46 C84,41 88,33 88,25 Z" fill="#474747" filter="url(#blur1)"/>
<ellipse cx="43" cy="43" rx="6" ry="5" fill="#474747" filter="url(#blur1)"/><ellipse cx="114" cy="49" rx="7" ry="4.5" fill="#474747" filter="url(#blur1)"/>
</g>
<g clip-path="url(#cB)">
<rect x="134.5" y="6.0" width="126.5" height="84.8" fill="#7e7e7e" />
<circle cx="172.8" cy="19.4" r="15.0" fill="#a2a2a2" filter="url(#blur2)"/>
<circle cx="207" cy="21" r="16.0" fill="#a2a2a2" filter="url(#blur2)"/>
<circle cx="186" cy="43" r="15.0" fill="#a2a2a2" filter="url(#blur2)"/>
<circle cx="156.4" cy="50.8" r="14.0" fill="#a2a2a2" filter="url(#blur2)"/>
<circle cx="238.5" cy="47.8" r="16.0" fill="#a2a2a2" filter="url(#blur2)"/>
<circle cx="210" cy="62.7" r="16.0" fill="#a2a2a2" filter="url(#blur2)"/>
<circle cx="171.3" cy="79" r="15.0" fill="#a2a2a2" filter="url(#blur2)"/>
<circle cx="235.5" cy="75" r="15.0" fill="#a2a2a2" filter="url(#blur2)"/>
<circle cx="195" cy="88" r="10.0" fill="#a2a2a2" filter="url(#blur2)"/>
<circle cx="224" cy="34" r="10.0" fill="#a2a2a2" filter="url(#blur2)"/>
<circle cx="160" cy="30" r="9.0" fill="#a2a2a2" filter="url(#blur2)"/>
<circle cx="163.8" cy="38.8" r="6" fill="#5e5e5e" filter="url(#blur2)"/>
<circle cx="174.3" cy="64.2" r="6" fill="#5e5e5e" filter="url(#blur2)"/>
<circle cx="196.7" cy="34.4" r="5" fill="#5e5e5e" filter="url(#blur2)"/>
<circle cx="193.7" cy="76" r="6" fill="#5e5e5e" filter="url(#blur2)"/>
<circle cx="222" cy="58" r="5" fill="#5e5e5e" filter="url(#blur2)"/>
<line x1="179.6" y1="28.5" x2="181.1" y2="30.5" stroke="#b0b0b0" stroke-width="0.6" opacity="0.75"/>
<line x1="164.3" y1="27.0" x2="161.5" y2="29.4" stroke="#bdbdbd" stroke-width="0.6" opacity="0.75"/>
<line x1="171.1" y1="8.8" x2="170.4" y2="4.6" stroke="#b0b0b0" stroke-width="0.6" opacity="0.75"/>
<line x1="172.0" y1="10.3" x2="171.7" y2="7.7" stroke="#b0b0b0" stroke-width="0.6" opacity="0.75"/>
<line x1="176.7" y1="21.7" x2="178.9" y2="23.0" stroke="#8c8c8c" stroke-width="0.6" opacity="0.75"/>
<line x1="183.3" y1="11.6" x2="186.6" y2="9.1" stroke="#b0b0b0" stroke-width="0.6" opacity="0.75"/>
<line x1="163.3" y1="19.9" x2="159.9" y2="20.1" stroke="#bdbdbd" stroke-width="0.6" opacity="0.75"/>
<line x1="172.9" y1="24.7" x2="173.0" y2="27.7" stroke="#b0b0b0" stroke-width="0.6" opacity="0.75"/>
<line x1="160.4" y1="18.6" x2="157.1" y2="18.4" stroke="#8c8c8c" stroke-width="0.6" opacity="0.75"/>
<line x1="181.4" y1="29.0" x2="183.5" y2="31.3" stroke="#bdbdbd" stroke-width="0.6" opacity="0.75"/>
<line x1="163.1" y1="13.3" x2="160.3" y2="11.6" stroke="#8c8c8c" stroke-width="0.6" opacity="0.75"/>
<line x1="185.1" y1="16.6" x2="187.8" y2="16.0" stroke="#c6c6c6" stroke-width="0.6" opacity="0.75"/>
<line x1="166.4" y1="11.7" x2="163.3" y2="8.0" stroke="#8c8c8c" stroke-width="0.6" opacity="0.75"/>
<line x1="182.7" y1="9.2" x2="185.2" y2="6.7" stroke="#b0b0b0" stroke-width="0.6" opacity="0.75"/>
<line x1="163.2" y1="27.3" x2="160.3" y2="29.7" stroke="#b0b0b0" stroke-width="0.6" opacity="0.75"/>
<line x1="159.0" y1="16.4" x2="155.5" y2="15.7" stroke="#8c8c8c" stroke-width="0.6" opacity="0.75"/>
<line x1="180.2" y1="26.3" x2="183.6" y2="29.4" stroke="#c6c6c6" stroke-width="0.6" opacity="0.75"/>
<line x1="184.7" y1="25.2" x2="188.9" y2="27.3" stroke="#8c8c8c" stroke-width="0.6" opacity="0.75"/>
<line x1="171.4" y1="10.0" x2="170.7" y2="5.4" stroke="#b0b0b0" stroke-width="0.6" opacity="0.75"/>
<line x1="175.1" y1="29.0" x2="176.0" y2="32.8" stroke="#b0b0b0" stroke-width="0.6" opacity="0.75"/>
<line x1="166.8" y1="18.8" x2="163.0" y2="18.4" stroke="#b0b0b0" stroke-width="0.6" opacity="0.75"/>
<line x1="180.3" y1="19.9" x2="183.1" y2="20.1" stroke="#bdbdbd" stroke-width="0.6" opacity="0.75"/>
<line x1="177.4" y1="23.7" x2="179.8" y2="25.9" stroke="#c6c6c6" stroke-width="0.6" opacity="0.75"/>
<line x1="171.8" y1="29.1" x2="171.3" y2="33.4" stroke="#8c8c8c" stroke-width="0.6" opacity="0.75"/>
<line x1="175.9" y1="27.0" x2="177.5" y2="30.9" stroke="#b0b0b0" stroke-width="0.6" opacity="0.75"/>
<line x1="179.5" y1="20.4" x2="183.8" y2="21.0" stroke="#8c8c8c" stroke-width="0.6" opacity="0.75"/>
<line x1="166.4" y1="16.3" x2="162.6" y2="14.5" stroke="#c6c6c6" stroke-width="0.6" opacity="0.75"/>
<line x1="178.3" y1="23.0" x2="181.9" y2="25.4" stroke="#8c8c8c" stroke-width="0.6" opacity="0.75"/>
<line x1="166.7" y1="8.4" x2="164.4" y2="4.2" stroke="#8c8c8c" stroke-width="0.6" opacity="0.75"/>
<line x1="177.7" y1="25.3" x2="179.8" y2="27.8" stroke="#b0b0b0" stroke-width="0.6" opacity="0.75"/>
<line x1="165.7" y1="9.7" x2="162.8" y2="5.8" stroke="#b0b0b0" stroke-width="0.6" opacity="0.75"/>
<line x1="184.0" y1="16.5" x2="187.3" y2="15.6" stroke="#b0b0b0" stroke-width="0.6" opacity="0.75"/>
<line x1="170.9" y1="31.9" x2="170.3" y2="36.1" stroke="#bdbdbd" stroke-width="0.6" opacity="0.75"/>
<line x1="168.8" y1="8.3" x2="167.2" y2="3.8" stroke="#b0b0b0" stroke-width="0.6" opacity="0.75"/>
<line x1="162.1" y1="22.8" x2="158.8" y2="23.8" stroke="#bdbdbd" stroke-width="0.6" opacity="0.75"/>
<line x1="181.2" y1="17.0" x2="183.5" y2="16.3" stroke="#8c8c8c" stroke-width="0.6" opacity="0.75"/>
<line x1="167.5" y1="7.8" x2="165.7" y2="4.0" stroke="#c6c6c6" stroke-width="0.6" opacity="0.75"/>
<line x1="165.8" y1="15.4" x2="162.7" y2="13.6" stroke="#8c8c8c" stroke-width="0.6" opacity="0.75"/>
<line x1="179.7" y1="18.8" x2="182.0" y2="18.6" stroke="#b0b0b0" stroke-width="0.6" opacity="0.75"/>
<line x1="176.7" y1="18.4" x2="180.1" y2="17.5" stroke="#b0b0b0" stroke-width="0.6" opacity="0.75"/>
<line x1="165.0" y1="20.8" x2="160.4" y2="21.7" stroke="#b0b0b0" stroke-width="0.6" opacity="0.75"/>
<line x1="183.3" y1="16.7" x2="185.4" y2="16.1" stroke="#bdbdbd" stroke-width="0.6" opacity="0.75"/>
<line x1="182.1" y1="28.4" x2="185.0" y2="31.1" stroke="#b0b0b0" stroke-width="0.6" opacity="0.75"/>
<line x1="174.8" y1="7.5" x2="175.6" y2="3.0" stroke="#8c8c8c" stroke-width="0.6" opacity="0.75"/>
<line x1="174.7" y1="32.7" x2="175.0" y2="35.1" stroke="#c6c6c6" stroke-width="0.6" opacity="0.75"/>
<line x1="172.8" y1="11.5" x2="172.8" y2="8.7" stroke="#8c8c8c" stroke-width="0.6" opacity="0.75"/>
<line x1="173.4" y1="29.6" x2="173.6" y2="32.2" stroke="#bdbdbd" stroke-width="0.6" opacity="0.75"/>
<line x1="184.2" y1="22.3" x2="187.1" y2="23.1" stroke="#bdbdbd" stroke-width="0.6" opacity="0.75"/>
<line x1="162.4" y1="12.2" x2="159.7" y2="10.3" stroke="#b0b0b0" stroke-width="0.6" opacity="0.75"/>
<line x1="182.6" y1="20.5" x2="187.6" y2="21.1" stroke="#c6c6c6" stroke-width="0.6" opacity="0.75"/>
<line x1="159.0" y1="16.8" x2="156.8" y2="16.4" stroke="#8c8c8c" stroke-width="0.6" opacity="0.75"/>
<line x1="184.6" y1="16.8" x2="186.8" y2="16.3" stroke="#b0b0b0" stroke-width="0.6" opacity="0.75"/>
<line x1="164.1" y1="22.3" x2="159.9" y2="23.7" stroke="#b0b0b0" stroke-width="0.6" opacity="0.75"/>
<line x1="172.6" y1="26.1" x2="172.6" y2="29.0" stroke="#b0b0b0" stroke-width="0.6" opacity="0.75"/>
<line x1="179.3" y1="9.9" x2="180.9" y2="7.5" stroke="#bdbdbd" stroke-width="0.6" opacity="0.75"/>
<line x1="215.7" y1="28.6" x2="219.1" y2="31.5" stroke="#c6c6c6" stroke-width="0.6" opacity="0.75"/>
<line x1="204.3" y1="31.8" x2="203.6" y2="34.3" stroke="#bdbdbd" stroke-width="0.6" opacity="0.75"/>
<line x1="214.0" y1="22.0" x2="216.6" y2="22.4" stroke="#c6c6c6" stroke-width="0.6" opacity="0.75"/>
<line x1="212.3" y1="9.4" x2="214.4" y2="4.9" stroke="#8c8c8c" stroke-width="0.6" opacity="0.75"/>
<line x1="198.8" y1="15.3" x2="195.6" y2="13.2" stroke="#b0b0b0" stroke-width="0.6" opacity="0.75"/>
<line x1="205.4" y1="10.2" x2="204.9" y2="6.7" stroke="#bdbdbd" stroke-width="0.6" opacity="0.75"/>
<line x1="199.1" y1="24.4" x2="197.1" y2="25.2" stroke="#b0b0b0" stroke-width="0.6" opacity="0.75"/>
<line x1="204.1" y1="26.0" x2="202.5" y2="28.7" stroke="#bdbdbd" stroke-width="0.6" opacity="0.75"/>
<line x1="195.3" y1="27.1" x2="192.2" y2="28.7" stroke="#b0b0b0" stroke-width="0.6" opacity="0.75"/>
<line x1="197.5" y1="31.5" x2="194.4" y2="35.0" stroke="#bdbdbd" stroke-width="0.6" opacity="0.75"/>
<line x1="204.5" y1="29.7" x2="203.3" y2="34.1" stroke="#bdbdbd" stroke-width="0.6" opacity="0.75"/>
<line x1="205.8" y1="13.8" x2="205.3" y2="10.7" stroke="#8c8c8c" stroke-width="0.6" opacity="0.75"/>
<line x1="200.1" y1="33.2" x2="198.8" y2="35.4" stroke="#bdbdbd" stroke-width="0.6" opacity="0.75"/>
<line x1="216.8" y1="26.6" x2="220.7" y2="28.8" stroke="#bdbdbd" stroke-width="0.6" opacity="0.75"/>
<line x1="215.9" y1="16.9" x2="218.8" y2="15.5" stroke="#bdbdbd" stroke-width="0.6" opacity="0.75"/>
<line x1="215.0" y1="9.1" x2="217.4" y2="5.6" stroke="#c6c6c6" stroke-width="0.6" opacity="0.75"/>
<line x1="208.3" y1="6.0" x2="208.6" y2="1.2" stroke="#c6c6c6" stroke-width="0.6" opacity="0.75"/>
<line x1="203.9" y1="33.0" x2="202.8" y2="37.6" stroke="#b0b0b0" stroke-width="0.6" opacity="0.75"/>
<line x1="206.1" y1="28.2" x2="205.6" y2="32.5" stroke="#b0b0b0" stroke-width="0.6" opacity="0.75"/>
<line x1="202.7" y1="24.7" x2="199.7" y2="27.2" stroke="#c6c6c6" stroke-width="0.6" opacity="0.75"/>
<line x1="213.0" y1="34.1" x2="214.4" y2="37.0" stroke="#c6c6c6" stroke-width="0.6" opacity="0.75"/>
<line x1="213.9" y1="20.1" x2="217.0" y2="19.7" stroke="#8c8c8c" stroke-width="0.6" opacity="0.75"/>
<line x1="193.4" y1="24.3" x2="189.9" y2="25.1" stroke="#bdbdbd" stroke-width="0.6" opacity="0.75"/>
<line x1="200.4" y1="33.7" x2="198.7" y2="37.0" stroke="#b0b0b0" stroke-width="0.6" opacity="0.75"/>
<line x1="213.0" y1="22.4" x2="217.7" y2="23.4" stroke="#b0b0b0" stroke-width="0.6" opacity="0.75"/>
<line x1="211.9" y1="7.2" x2="212.6" y2="5.3" stroke="#8c8c8c" stroke-width="0.6" opacity="0.75"/>
<line x1="212.6" y1="11.3" x2="213.9" y2="9.2" stroke="#b0b0b0" stroke-width="0.6" opacity="0.75"/>
<line x1="195.2" y1="14.5" x2="192.2" y2="12.8" stroke="#b0b0b0" stroke-width="0.6" opacity="0.75"/>
<line x1="210.4" y1="33.2" x2="211.5" y2="37.4" stroke="#8c8c8c" stroke-width="0.6" opacity="0.75"/>
<line x1="213.6" y1="17.7" x2="215.9" y2="16.6" stroke="#b0b0b0" stroke-width="0.6" opacity="0.75"/>
<line x1="197.7" y1="23.6" x2="193.6" y2="24.7" stroke="#c6c6c6" stroke-width="0.6" opacity="0.75"/>
<line x1="200.0" y1="21.9" x2="197.8" y2="22.2" stroke="#bdbdbd" stroke-width="0.6" opacity="0.75"/>
<line x1="221.0" y1="26.0" x2="224.8" y2="27.4" stroke="#8c8c8c" stroke-width="0.6" opacity="0.75"/>
<line x1="203.1" y1="32.3" x2="201.6" y2="36.6" stroke="#b0b0b0" stroke-width="0.6" opacity="0.75"/>
<line x1="207.6" y1="33.3" x2="207.8" y2="37.2" stroke="#c6c6c6" stroke-width="0.6" opacity="0.75"/>
<line x1="208.2" y1="31.9" x2="208.6" y2="35.8" stroke="#b0b0b0" stroke-width="0.6" opacity="0.75"/>
<line x1="200.6" y1="10.7" x2="199.4" y2="8.8" stroke="#8c8c8c" stroke-width="0.6" opacity="0.75"/>
<line x1="200.0" y1="30.9" x2="197.6" y2="34.2" stroke="#c6c6c6" stroke-width="0.6" opacity="0.75"/>
<line x1="215.8" y1="9.6" x2="218.7" y2="5.8" stroke="#8c8c8c" stroke-width="0.6" opacity="0.75"/>
<line x1="203.7" y1="11.7" x2="202.9" y2="9.5" stroke="#8c8c8c" stroke-width="0.6" opacity="0.75"/>
<line x1="217.8" y1="19.7" x2="222.3" y2="19.2" stroke="#bdbdbd" stroke-width="0.6" opacity="0.75"/>
<line x1="217.2" y1="29.9" x2="220.8" y2="33.1" stroke="#b0b0b0" stroke-width="0.6" opacity="0.75"/>
<line x1="217.9" y1="16.8" x2="222.3" y2="15.2" stroke="#b0b0b0" stroke-width="0.6" opacity="0.75"/>
<line x1="202.6" y1="25.4" x2="199.6" y2="28.4" stroke="#8c8c8c" stroke-width="0.6" opacity="0.75"/>
<line x1="210.8" y1="8.0" x2="211.4" y2="6.0" stroke="#c6c6c6" stroke-width="0.6" opacity="0.75"/>
<line x1="200.4" y1="24.8" x2="197.5" y2="26.4" stroke="#8c8c8c" stroke-width="0.6" opacity="0.75"/>
<line x1="197.7" y1="24.0" x2="195.0" y2="24.9" stroke="#c6c6c6" stroke-width="0.6" opacity="0.75"/>
<line x1="206.6" y1="7.6" x2="206.6" y2="5.0" stroke="#8c8c8c" stroke-width="0.6" opacity="0.75"/>
<line x1="212.7" y1="29.1" x2="215.0" y2="32.4" stroke="#8c8c8c" stroke-width="0.6" opacity="0.75"/>
<line x1="197.1" y1="11.7" x2="195.0" y2="9.7" stroke="#8c8c8c" stroke-width="0.6" opacity="0.75"/>
<line x1="196.7" y1="13.3" x2="193.8" y2="11.2" stroke="#8c8c8c" stroke-width="0.6" opacity="0.75"/>
<line x1="213.2" y1="34.4" x2="214.3" y2="36.8" stroke="#bdbdbd" stroke-width="0.6" opacity="0.75"/>
<line x1="207.6" y1="10.1" x2="207.8" y2="5.6" stroke="#b0b0b0" stroke-width="0.6" opacity="0.75"/>
<line x1="209.6" y1="13.5" x2="211.3" y2="8.9" stroke="#b0b0b0" stroke-width="0.6" opacity="0.75"/>
<line x1="200.0" y1="10.1" x2="197.8" y2="6.6" stroke="#b0b0b0" stroke-width="0.6" opacity="0.75"/>
<line x1="176.7" y1="41.4" x2="172.9" y2="40.8" stroke="#c6c6c6" stroke-width="0.6" opacity="0.75"/>
<line x1="179.8" y1="34.9" x2="177.1" y2="31.4" stroke="#bdbdbd" stroke-width="0.6" opacity="0.75"/>
<line x1="186.0" y1="49.7" x2="186.0" y2="51.8" stroke="#8c8c8c" stroke-width="0.6" opacity="0.75"/>
<line x1="188.6" y1="53.7" x2="189.5" y2="57.2" stroke="#bdbdbd" stroke-width="0.6" opacity="0.75"/>
<line x1="196.8" y1="38.6" x2="199.2" y2="37.6" stroke="#8c8c8c" stroke-width="0.6" opacity="0.75"/>
<line x1="182.4" y1="36.4" x2="180.3" y2="32.4" stroke="#b0b0b0" stroke-width="0.6" opacity="0.75"/>
<line x1="176.8" y1="33.4" x2="173.3" y2="29.8" stroke="#c6c6c6" stroke-width="0.6" opacity="0.75"/>
<line x1="192.4" y1="48.5" x2="194.3" y2="50.1" stroke="#b0b0b0" stroke-width="0.6" opacity="0.75"/>
<line x1="176.5" y1="50.0" x2="174.3" y2="51.6" stroke="#8c8c8c" stroke-width="0.6" opacity="0.75"/>
<line x1="193.7" y1="33.2" x2="196.4" y2="29.8" stroke="#b0b0b0" stroke-width="0.6" opacity="0.75"/>
<line x1="197.0" y1="48.4" x2="200.4" y2="50.0" stroke="#c6c6c6" stroke-width="0.6" opacity="0.75"/>
<line x1="190.5" y1="48.1" x2="193.8" y2="51.7" stroke="#c6c6c6" stroke-width="0.6" opacity="0.75"/>
<line x1="177.7" y1="52.5" x2="176.0" y2="54.5" stroke="#8c8c8c" stroke-width="0.6" opacity="0.75"/>
<line x1="189.9" y1="53.7" x2="191.4" y2="57.9" stroke="#c6c6c6" stroke-width="0.6" opacity="0.75"/>
<line x1="176.6" y1="40.4" x2="172.7" y2="39.2" stroke="#8c8c8c" stroke-width="0.6" opacity="0.75"/>
<line x1="176.9" y1="45.8" x2="172.4" y2="47.1" stroke="#bdbdbd" stroke-width="0.6" opacity="0.75"/>
<line x1="186.4" y1="52.3" x2="186.7" y2="57.0" stroke="#8c8c8c" stroke-width="0.6" opacity="0.75"/>
<line x1="176.8" y1="36.2" x2="174.7" y2="34.6" stroke="#c6c6c6" stroke-width="0.6" opacity="0.75"/>
<line x1="185.8" y1="33.2" x2="185.7" y2="30.0" stroke="#8c8c8c" stroke-width="0.6" opacity="0.75"/>
<line x1="188.3" y1="52.5" x2="189.0" y2="55.5" stroke="#bdbdbd" stroke-width="0.6" opacity="0.75"/>
<line x1="180.3" y1="52.0" x2="177.7" y2="56.2" stroke="#c6c6c6" stroke-width="0.6" opacity="0.75"/>
<line x1="195.1" y1="43.9" x2="197.4" y2="44.2" stroke="#c6c6c6" stroke-width="0.6" opacity="0.75"/>
<line x1="186.3" y1="28.9" x2="186.4" y2="26.0" stroke="#c6c6c6" stroke-width="0.6" opacity="0.75"/>
<line x1="184.3" y1="50.2" x2="183.4" y2="53.8" stroke="#c6c6c6" stroke-width="0.6" opacity="0.75"/>
<line x1="176.8" y1="39.3" x2="173.1" y2="37.9" stroke="#8c8c8c" stroke-width="0.6" opacity="0.75"/>
<line x1="189.3" y1="43.8" x2="191.6" y2="44.4" stroke="#8c8c8c" stroke-width="0.6" opacity="0.75"/>
<line x1="188.2" y1="56.3" x2="189.0" y2="61.0" stroke="#8c8c8c" stroke-width="0.6" opacity="0.75"/>
<line x1="181.9" y1="56.6" x2="180.5" y2="61.2" stroke="#8c8c8c" stroke-width="0.6" opacity="0.75"/>
<line x1="196.4" y1="43.0" x2="199.9" y2="43.0" stroke="#8c8c8c" stroke-width="0.6" opacity="0.75"/>
<line x1="185.5" y1="37.7" x2="185.1" y2="34.5" stroke="#c6c6c6" stroke-width="0.6" opacity="0.75"/>
<line x1="186.8" y1="52.1" x2="187.3" y2="56.7" stroke="#c6c6c6" stroke-width="0.6" opacity="0.75"/>
<line x1="194.0" y1="39.6" x2="197.6" y2="38.1" stroke="#8c8c8c" stroke-width="0.6" opacity="0.75"/>
<line x1="185.4" y1="29.9" x2="185.1" y2="25.4" stroke="#b0b0b0" stroke-width="0.6" opacity="0.75"/>
<line x1="177.5" y1="52.8" x2="175.6" y2="55.0" stroke="#8c8c8c" stroke-width="0.6" opacity="0.75"/>
<line x1="194.8" y1="52.1" x2="198.1" y2="55.6" stroke="#8c8c8c" stroke-width="0.6" opacity="0.75"/>
<line x1="191.8" y1="41.1" x2="195.6" y2="39.9" stroke="#b0b0b0" stroke-width="0.6" opacity="0.75"/>
<line x1="190.1" y1="31.0" x2="190.8" y2="29.1" stroke="#c6c6c6" stroke-width="0.6" opacity="0.75"/>
<line x1="180.8" y1="35.8" x2="178.1" y2="32.2" stroke="#bdbdbd" stroke-width="0.6" opacity="0.75"/>
<line x1="193.7" y1="48.0" x2="195.4" y2="49.1" stroke="#c6c6c6" stroke-width="0.6" opacity="0.75"/>
<line x1="175.2" y1="37.0" x2="171.2" y2="34.8" stroke="#c6c6c6" stroke-width="0.6" opacity="0.75"/>
<line x1="192.4" y1="55.5" x2="193.5" y2="57.8" stroke="#c6c6c6" stroke-width="0.6" opacity="0.75"/>
<line x1="187.6" y1="53.7" x2="188.3" y2="58.6" stroke="#b0b0b0" stroke-width="0.6" opacity="0.75"/>
<line x1="178.5" y1="45.7" x2="174.1" y2="47.3" stroke="#bdbdbd" stroke-width="0.6" opacity="0.75"/>
<line x1="182.7" y1="44.2" x2="178.4" y2="45.7" stroke="#c6c6c6" stroke-width="0.6" opacity="0.75"/>
<line x1="186.4" y1="35.4" x2="186.7" y2="31.7" stroke="#bdbdbd" stroke-width="0.6" opacity="0.75"/>
<line x1="191.4" y1="51.3" x2="193.6" y2="54.8" stroke="#8c8c8c" stroke-width="0.6" opacity="0.75"/>
<line x1="193.4" y1="54.4" x2="196.1" y2="58.6" stroke="#bdbdbd" stroke-width="0.6" opacity="0.75"/>
<line x1="194.7" y1="49.6" x2="198.2" y2="52.3" stroke="#8c8c8c" stroke-width="0.6" opacity="0.75"/>
<line x1="193.7" y1="34.0" x2="196.1" y2="31.2" stroke="#bdbdbd" stroke-width="0.6" opacity="0.75"/>
<line x1="179.0" y1="51.6" x2="177.4" y2="53.6" stroke="#bdbdbd" stroke-width="0.6" opacity="0.75"/>
<line x1="192.4" y1="30.6" x2="193.7" y2="28.1" stroke="#b0b0b0" stroke-width="0.6" opacity="0.75"/>
<line x1="175.7" y1="38.1" x2="171.9" y2="36.3" stroke="#b0b0b0" stroke-width="0.6" opacity="0.75"/>
<line x1="180.1" y1="41.4" x2="177.4" y2="40.6" stroke="#bdbdbd" stroke-width="0.6" opacity="0.75"/>
<line x1="179.0" y1="48.7" x2="175.7" y2="51.3" stroke="#c6c6c6" stroke-width="0.6" opacity="0.75"/>
<line x1="176.4" y1="52.2" x2="174.6" y2="53.9" stroke="#8c8c8c" stroke-width="0.6" opacity="0.75"/>
<line x1="149.0" y1="54.0" x2="145.0" y2="55.7" stroke="#bdbdbd" stroke-width="0.6" opacity="0.75"/>
<line x1="145.9" y1="48.8" x2="143.8" y2="48.4" stroke="#bdbdbd" stroke-width="0.6" opacity="0.75"/>
<line x1="166.1" y1="46.6" x2="168.8" y2="45.4" stroke="#c6c6c6" stroke-width="0.6" opacity="0.75"/>
<line x1="145.1" y1="45.8" x2="143.1" y2="44.9" stroke="#8c8c8c" stroke-width="0.6" opacity="0.75"/>
<line x1="152.3" y1="38.7" x2="151.0" y2="34.9" stroke="#8c8c8c" stroke-width="0.6" opacity="0.75"/>
<line x1="149.9" y1="53.1" x2="147.8" y2="53.8" stroke="#c6c6c6" stroke-width="0.6" opacity="0.75"/>
<line x1="155.8" y1="39.8" x2="155.5" y2="35.2" stroke="#bdbdbd" stroke-width="0.6" opacity="0.75"/>
<line x1="145.5" y1="55.0" x2="141.0" y2="56.7" stroke="#c6c6c6" stroke-width="0.6" opacity="0.75"/>
<line x1="164.8" y1="42.3" x2="168.2" y2="38.9" stroke="#8c8c8c" stroke-width="0.6" opacity="0.75"/>
<line x1="150.3" y1="44.3" x2="147.5" y2="41.3" stroke="#bdbdbd" stroke-width="0.6" opacity="0.75"/>
<line x1="144.5" y1="55.0" x2="140.9" y2="56.3" stroke="#bdbdbd" stroke-width="0.6" opacity="0.75"/>
<line x1="158.4" y1="55.5" x2="159.8" y2="59.0" stroke="#bdbdbd" stroke-width="0.6" opacity="0.75"/>
<line x1="152.8" y1="50.9" x2="150.4" y2="51.0" stroke="#8c8c8c" stroke-width="0.6" opacity="0.75"/>
<line x1="161.2" y1="52.8" x2="164.0" y2="54.0" stroke="#bdbdbd" stroke-width="0.6" opacity="0.75"/>
<line x1="148.9" y1="41.3" x2="147.0" y2="38.8" stroke="#8c8c8c" stroke-width="0.6" opacity="0.75"/>
<line x1="162.1" y1="53.1" x2="164.3" y2="54.0" stroke="#8c8c8c" stroke-width="0.6" opacity="0.75"/>
<line x1="149.5" y1="47.4" x2="146.3" y2="45.8" stroke="#b0b0b0" stroke-width="0.6" opacity="0.75"/>
<line x1="160.7" y1="49.0" x2="163.0" y2="48.1" stroke="#8c8c8c" stroke-width="0.6" opacity="0.75"/>
<line x1="147.5" y1="43.3" x2="144.5" y2="40.8" stroke="#bdbdbd" stroke-width="0.6" opacity="0.75"/>
<line x1="149.4" y1="50.0" x2="145.3" y2="49.5" stroke="#b0b0b0" stroke-width="0.6" opacity="0.75"/>
<line x1="160.2" y1="43.9" x2="161.7" y2="41.1" stroke="#bdbdbd" stroke-width="0.6" opacity="0.75"/>
<line x1="150.1" y1="48.2" x2="146.2" y2="46.5" stroke="#8c8c8c" stroke-width="0.6" opacity="0.75"/>
<line x1="152.7" y1="61.9" x2="151.4" y2="65.9" stroke="#8c8c8c" stroke-width="0.6" opacity="0.75"/>
<line x1="148.0" y1="48.4" x2="144.7" y2="47.5" stroke="#c6c6c6" stroke-width="0.6" opacity="0.75"/>
<line x1="163.0" y1="52.2" x2="166.9" y2="53.1" stroke="#c6c6c6" stroke-width="0.6" opacity="0.75"/>
<line x1="162.0" y1="40.0" x2="163.6" y2="37.0" stroke="#c6c6c6" stroke-width="0.6" opacity="0.75"/>
<line x1="166.6" y1="46.1" x2="170.1" y2="44.6" stroke="#b0b0b0" stroke-width="0.6" opacity="0.75"/>
<line x1="157.6" y1="41.0" x2="157.9" y2="38.1" stroke="#c6c6c6" stroke-width="0.6" opacity="0.75"/>
<line x1="166.9" y1="51.8" x2="171.6" y2="52.3" stroke="#bdbdbd" stroke-width="0.6" opacity="0.75"/>
<line x1="151.5" y1="43.3" x2="149.2" y2="39.7" stroke="#c6c6c6" stroke-width="0.6" opacity="0.75"/>
<line x1="166.5" y1="50.3" x2="169.5" y2="50.1" stroke="#c6c6c6" stroke-width="0.6" opacity="0.75"/>
<line x1="155.0" y1="60.6" x2="154.5" y2="63.6" stroke="#8c8c8c" stroke-width="0.6" opacity="0.75"/>
<line x1="148.5" y1="53.9" x2="144.9" y2="55.4" stroke="#b0b0b0" stroke-width="0.6" opacity="0.75"/>
<line x1="167.5" y1="50.7" x2="169.5" y2="50.7" stroke="#c6c6c6" stroke-width="0.6" opacity="0.75"/>
<line x1="154.3" y1="46.4" x2="153.1" y2="43.8" stroke="#bdbdbd" stroke-width="0.6" opacity="0.75"/>
<line x1="148.2" y1="40.7" x2="146.9" y2="39.1" stroke="#bdbdbd" stroke-width="0.6" opacity="0.75"/>
<line x1="160.8" y1="49.7" x2="162.9" y2="49.1" stroke="#b0b0b0" stroke-width="0.6" opacity="0.75"/>
<line x1="160.5" y1="47.4" x2="163.0" y2="45.2" stroke="#8c8c8c" stroke-width="0.6" opacity="0.75"/>
<line x1="153.3" y1="48.8" x2="151.1" y2="47.3" stroke="#b0b0b0" stroke-width="0.6" opacity="0.75"/>
<line x1="155.0" y1="47.2" x2="153.4" y2="43.2" stroke="#8c8c8c" stroke-width="0.6" opacity="0.75"/>
<line x1="151.1" y1="47.6" x2="149.0" y2="46.4" stroke="#c6c6c6" stroke-width="0.6" opacity="0.75"/>
<line x1="151.0" y1="55.3" x2="147.8" y2="58.0" stroke="#c6c6c6" stroke-width="0.6" opacity="0.75"/>
<line x1="167.4" y1="51.8" x2="170.9" y2="52.1" stroke="#c6c6c6" stroke-width="0.6" opacity="0.75"/>
<line x1="147.9" y1="44.5" x2="146.1" y2="43.2" stroke="#8c8c8c" stroke-width="0.6" opacity="0.75"/>
<line x1="147.1" y1="59.9" x2="145.5" y2="61.5" stroke="#8c8c8c" stroke-width="0.6" opacity="0.75"/>
<line x1="164.4" y1="40.5" x2="167.2" y2="36.9" stroke="#8c8c8c" stroke-width="0.6" opacity="0.75"/>
<line x1="148.2" y1="58.2" x2="144.8" y2="61.3" stroke="#c6c6c6" stroke-width="0.6" opacity="0.75"/>
<line x1="167.9" y1="52.4" x2="172.7" y2="53.1" stroke="#bdbdbd" stroke-width="0.6" opacity="0.75"/>
<line x1="158.6" y1="57.4" x2="160.1" y2="61.8" stroke="#b0b0b0" stroke-width="0.6" opacity="0.75"/>
<line x1="152.8" y1="41.5" x2="151.9" y2="39.1" stroke="#bdbdbd" stroke-width="0.6" opacity="0.75"/>
<line x1="153.8" y1="38.7" x2="153.4" y2="36.5" stroke="#bdbdbd" stroke-width="0.6" opacity="0.75"/>
<line x1="161.5" y1="50.4" x2="164.5" y2="50.1" stroke="#8c8c8c" stroke-width="0.6" opacity="0.75"/>
<line x1="144.6" y1="51.4" x2="140.5" y2="51.6" stroke="#b0b0b0" stroke-width="0.6" opacity="0.75"/>
<line x1="160.7" y1="62.4" x2="161.8" y2="65.5" stroke="#bdbdbd" stroke-width="0.6" opacity="0.75"/>
<line x1="159.3" y1="41.5" x2="159.9" y2="39.4" stroke="#c6c6c6" stroke-width="0.6" opacity="0.75"/>
<line x1="237.9" y1="51.7" x2="237.2" y2="56.5" stroke="#bdbdbd" stroke-width="0.6" opacity="0.75"/>
<line x1="239.9" y1="32.8" x2="240.1" y2="30.4" stroke="#c6c6c6" stroke-width="0.6" opacity="0.75"/>
<line x1="240.6" y1="37.6" x2="241.5" y2="33.2" stroke="#bdbdbd" stroke-width="0.6" opacity="0.75"/>
<line x1="242.7" y1="37.3" x2="244.3" y2="33.2" stroke="#bdbdbd" stroke-width="0.6" opacity="0.75"/>
<line x1="240.4" y1="42.2" x2="241.6" y2="39.0" stroke="#b0b0b0" stroke-width="0.6" opacity="0.75"/>
<line x1="231.0" y1="45.3" x2="228.3" y2="44.4" stroke="#8c8c8c" stroke-width="0.6" opacity="0.75"/>
<line x1="230.3" y1="60.4" x2="228.0" y2="64.1" stroke="#8c8c8c" stroke-width="0.6" opacity="0.75"/>
<line x1="248.0" y1="37.9" x2="250.1" y2="35.6" stroke="#8c8c8c" stroke-width="0.6" opacity="0.75"/>
<line x1="234.4" y1="49.8" x2="232.2" y2="50.8" stroke="#c6c6c6" stroke-width="0.6" opacity="0.75"/>
<line x1="251.4" y1="48.4" x2="253.6" y2="48.5" stroke="#b0b0b0" stroke-width="0.6" opacity="0.75"/>
<line x1="235.6" y1="57.7" x2="234.8" y2="60.8" stroke="#bdbdbd" stroke-width="0.6" opacity="0.75"/>
<line x1="235.9" y1="61.8" x2="235.3" y2="65.3" stroke="#bdbdbd" stroke-width="0.6" opacity="0.75"/>
<line x1="232.9" y1="49.3" x2="229.2" y2="50.3" stroke="#bdbdbd" stroke-width="0.6" opacity="0.75"/>
<line x1="234.6" y1="46.1" x2="231.8" y2="44.8" stroke="#b0b0b0" stroke-width="0.6" opacity="0.75"/>
<line x1="251.3" y1="46.4" x2="253.6" y2="46.1" stroke="#bdbdbd" stroke-width="0.6" opacity="0.75"/>
<line x1="249.5" y1="54.2" x2="253.6" y2="56.6" stroke="#bdbdbd" stroke-width="0.6" opacity="0.75"/>
<line x1="247.2" y1="37.3" x2="250.1" y2="33.8" stroke="#8c8c8c" stroke-width="0.6" opacity="0.75"/>
<line x1="226.9" y1="47.1" x2="224.4" y2="46.9" stroke="#bdbdbd" stroke-width="0.6" opacity="0.75"/>
<line x1="247.9" y1="56.3" x2="250.3" y2="58.5" stroke="#8c8c8c" stroke-width="0.6" opacity="0.75"/>
<line x1="248.8" y1="57.1" x2="252.3" y2="60.3" stroke="#8c8c8c" stroke-width="0.6" opacity="0.75"/>
<line x1="251.0" y1="56.1" x2="253.0" y2="57.3" stroke="#c6c6c6" stroke-width="0.6" opacity="0.75"/>
<line x1="245.5" y1="46.3" x2="249.2" y2="45.6" stroke="#8c8c8c" stroke-width="0.6" opacity="0.75"/>
<line x1="242.3" y1="34.5" x2="243.4" y2="30.6" stroke="#b0b0b0" stroke-width="0.6" opacity="0.75"/>
<line x1="239.6" y1="34.6" x2="239.9" y2="30.6" stroke="#bdbdbd" stroke-width="0.6" opacity="0.75"/>
<line x1="237.2" y1="56.9" x2="236.7" y2="60.1" stroke="#c6c6c6" stroke-width="0.6" opacity="0.75"/>
<line x1="241.8" y1="54.1" x2="242.9" y2="56.1" stroke="#b0b0b0" stroke-width="0.6" opacity="0.75"/>
<line x1="230.7" y1="56.7" x2="228.4" y2="59.4" stroke="#bdbdbd" stroke-width="0.6" opacity="0.75"/>
<line x1="242.1" y1="46.2" x2="244.6" y2="45.2" stroke="#bdbdbd" stroke-width="0.6" opacity="0.75"/>
<line x1="239.5" y1="58.7" x2="239.8" y2="62.5" stroke="#bdbdbd" stroke-width="0.6" opacity="0.75"/>
<line x1="239.9" y1="60.8" x2="240.2" y2="63.9" stroke="#bdbdbd" stroke-width="0.6" opacity="0.75"/>
<line x1="232.7" y1="55.7" x2="231.0" y2="58.0" stroke="#8c8c8c" stroke-width="0.6" opacity="0.75"/>
<line x1="251.7" y1="48.7" x2="255.7" y2="49.0" stroke="#c6c6c6" stroke-width="0.6" opacity="0.75"/>
<line x1="233.5" y1="38.5" x2="232.4" y2="36.4" stroke="#c6c6c6" stroke-width="0.6" opacity="0.75"/>
<line x1="240.5" y1="60.0" x2="241.1" y2="63.5" stroke="#c6c6c6" stroke-width="0.6" opacity="0.75"/>
<line x1="225.7" y1="47.9" x2="222.2" y2="47.9" stroke="#c6c6c6" stroke-width="0.6" opacity="0.75"/>
<line x1="241.6" y1="44.9" x2="245.0" y2="41.7" stroke="#c6c6c6" stroke-width="0.6" opacity="0.75"/>
<line x1="249.1" y1="48.4" x2="252.1" y2="48.6" stroke="#bdbdbd" stroke-width="0.6" opacity="0.75"/>
<line x1="237.5" y1="43.6" x2="236.6" y2="39.7" stroke="#b0b0b0" stroke-width="0.6" opacity="0.75"/>
<line x1="228.6" y1="48.5" x2="224.5" y2="48.8" stroke="#c6c6c6" stroke-width="0.6" opacity="0.75"/>
<line x1="252.3" y1="45.4" x2="255.5" y2="44.9" stroke="#8c8c8c" stroke-width="0.6" opacity="0.75"/>
<line x1="230.6" y1="59.3" x2="227.9" y2="63.4" stroke="#8c8c8c" stroke-width="0.6" opacity="0.75"/>
<line x1="245.2" y1="34.2" x2="246.8" y2="30.9" stroke="#8c8c8c" stroke-width="0.6" opacity="0.75"/>
<line x1="244.8" y1="44.6" x2="248.5" y2="42.7" stroke="#bdbdbd" stroke-width="0.6" opacity="0.75"/>
<line x1="231.9" y1="36.0" x2="229.5" y2="31.7" stroke="#8c8c8c" stroke-width="0.6" opacity="0.75"/>
<line x1="236.2" y1="38.0" x2="235.2" y2="33.5" stroke="#8c8c8c" stroke-width="0.6" opacity="0.75"/>
<line x1="243.4" y1="39.3" x2="244.6" y2="37.3" stroke="#bdbdbd" stroke-width="0.6" opacity="0.75"/>
<line x1="229.8" y1="37.7" x2="227.3" y2="34.8" stroke="#8c8c8c" stroke-width="0.6" opacity="0.75"/>
<line x1="232.6" y1="35.7" x2="231.0" y2="32.5" stroke="#b0b0b0" stroke-width="0.6" opacity="0.75"/>
<line x1="244.8" y1="48.2" x2="249.7" y2="48.4" stroke="#bdbdbd" stroke-width="0.6" opacity="0.75"/>
<line x1="241.0" y1="40.2" x2="241.6" y2="38.1" stroke="#b0b0b0" stroke-width="0.6" opacity="0.75"/>
<line x1="233.7" y1="43.5" x2="232.2" y2="42.1" stroke="#b0b0b0" stroke-width="0.6" opacity="0.75"/>
<line x1="243.0" y1="50.1" x2="246.9" y2="52.1" stroke="#b0b0b0" stroke-width="0.6" opacity="0.75"/>
<line x1="228.7" y1="43.4" x2="225.2" y2="41.9" stroke="#bdbdbd" stroke-width="0.6" opacity="0.75"/>
<line x1="248.3" y1="39.6" x2="250.5" y2="37.7" stroke="#b0b0b0" stroke-width="0.6" opacity="0.75"/>
<line x1="246.4" y1="45.5" x2="250.2" y2="44.4" stroke="#bdbdbd" stroke-width="0.6" opacity="0.75"/>
<line x1="206.9" y1="54.9" x2="205.3" y2="50.8" stroke="#bdbdbd" stroke-width="0.6" opacity="0.75"/>
<line x1="223.8" y1="64.9" x2="227.4" y2="65.5" stroke="#bdbdbd" stroke-width="0.6" opacity="0.75"/>
<line x1="207.1" y1="59.0" x2="204.1" y2="55.2" stroke="#bdbdbd" stroke-width="0.6" opacity="0.75"/>
<line x1="209.1" y1="49.0" x2="208.9" y2="46.1" stroke="#8c8c8c" stroke-width="0.6" opacity="0.75"/>
<line x1="210.5" y1="57.8" x2="210.9" y2="53.6" stroke="#8c8c8c" stroke-width="0.6" opacity="0.75"/>
<line x1="225.0" y1="61.0" x2="229.5" y2="60.5" stroke="#b0b0b0" stroke-width="0.6" opacity="0.75"/>
<line x1="203.5" y1="68.5" x2="200.2" y2="71.3" stroke="#b0b0b0" stroke-width="0.6" opacity="0.75"/>
<line x1="207.0" y1="71.7" x2="205.6" y2="75.8" stroke="#c6c6c6" stroke-width="0.6" opacity="0.75"/>
<line x1="215.8" y1="59.8" x2="218.6" y2="58.5" stroke="#bdbdbd" stroke-width="0.6" opacity="0.75"/>
<line x1="205.8" y1="75.0" x2="204.6" y2="78.4" stroke="#b0b0b0" stroke-width="0.6" opacity="0.75"/>
<line x1="218.8" y1="50.5" x2="220.6" y2="48.1" stroke="#8c8c8c" stroke-width="0.6" opacity="0.75"/>
<line x1="222.0" y1="58.3" x2="226.5" y2="56.6" stroke="#b0b0b0" stroke-width="0.6" opacity="0.75"/>
<line x1="202.0" y1="64.6" x2="199.9" y2="65.1" stroke="#8c8c8c" stroke-width="0.6" opacity="0.75"/>
<line x1="211.9" y1="49.6" x2="212.3" y2="46.7" stroke="#8c8c8c" stroke-width="0.6" opacity="0.75"/>
<line x1="202.7" y1="61.6" x2="198.2" y2="60.9" stroke="#c6c6c6" stroke-width="0.6" opacity="0.75"/>
<line x1="204.1" y1="69.5" x2="202.8" y2="71.0" stroke="#bdbdbd" stroke-width="0.6" opacity="0.75"/>
<line x1="198.2" y1="71.7" x2="194.6" y2="74.5" stroke="#bdbdbd" stroke-width="0.6" opacity="0.75"/>
<line x1="217.4" y1="57.3" x2="219.9" y2="55.4" stroke="#b0b0b0" stroke-width="0.6" opacity="0.75"/>
<line x1="214.5" y1="55.3" x2="216.7" y2="51.7" stroke="#bdbdbd" stroke-width="0.6" opacity="0.75"/>
<line x1="208.9" y1="70.3" x2="208.4" y2="73.7" stroke="#b0b0b0" stroke-width="0.6" opacity="0.75"/>
<line x1="203.3" y1="55.1" x2="201.8" y2="53.4" stroke="#8c8c8c" stroke-width="0.6" opacity="0.75"/>
<line x1="207.1" y1="55.5" x2="205.9" y2="52.4" stroke="#c6c6c6" stroke-width="0.6" opacity="0.75"/>
<line x1="203.5" y1="50.0" x2="202.1" y2="47.3" stroke="#8c8c8c" stroke-width="0.6" opacity="0.75"/>
<line x1="208.7" y1="68.8" x2="207.7" y2="73.6" stroke="#c6c6c6" stroke-width="0.6" opacity="0.75"/>
<line x1="216.7" y1="59.5" x2="220.9" y2="57.4" stroke="#b0b0b0" stroke-width="0.6" opacity="0.75"/>
<line x1="201.9" y1="72.2" x2="199.7" y2="74.7" stroke="#c6c6c6" stroke-width="0.6" opacity="0.75"/>
<line x1="223.1" y1="63.4" x2="227.7" y2="63.7" stroke="#bdbdbd" stroke-width="0.6" opacity="0.75"/>
<line x1="219.5" y1="51.8" x2="221.0" y2="50.0" stroke="#b0b0b0" stroke-width="0.6" opacity="0.75"/>
<line x1="211.7" y1="70.0" x2="212.6" y2="73.6" stroke="#bdbdbd" stroke-width="0.6" opacity="0.75"/>
<line x1="214.2" y1="70.6" x2="215.9" y2="73.9" stroke="#b0b0b0" stroke-width="0.6" opacity="0.75"/>
<line x1="222.1" y1="55.1" x2="226.1" y2="52.5" stroke="#c6c6c6" stroke-width="0.6" opacity="0.75"/>
<line x1="197.6" y1="55.2" x2="195.9" y2="54.2" stroke="#bdbdbd" stroke-width="0.6" opacity="0.75"/>
<line x1="218.7" y1="73.1" x2="221.9" y2="76.9" stroke="#b0b0b0" stroke-width="0.6" opacity="0.75"/>
<line x1="213.1" y1="75.2" x2="213.9" y2="78.2" stroke="#b0b0b0" stroke-width="0.6" opacity="0.75"/>
<line x1="198.9" y1="71.4" x2="195.8" y2="73.8" stroke="#b0b0b0" stroke-width="0.6" opacity="0.75"/>
<line x1="203.8" y1="52.8" x2="201.5" y2="49.2" stroke="#c6c6c6" stroke-width="0.6" opacity="0.75"/>
<line x1="222.3" y1="64.9" x2="227.3" y2="65.8" stroke="#b0b0b0" stroke-width="0.6" opacity="0.75"/>
<line x1="204.4" y1="60.1" x2="201.2" y2="58.7" stroke="#8c8c8c" stroke-width="0.6" opacity="0.75"/>
<line x1="208.8" y1="57.6" x2="208.1" y2="54.9" stroke="#bdbdbd" stroke-width="0.6" opacity="0.75"/>
<line x1="204.6" y1="71.1" x2="202.0" y2="75.1" stroke="#b0b0b0" stroke-width="0.6" opacity="0.75"/>
<line x1="202.8" y1="74.4" x2="201.4" y2="76.7" stroke="#bdbdbd" stroke-width="0.6" opacity="0.75"/>
<line x1="202.7" y1="50.6" x2="201.1" y2="48.0" stroke="#c6c6c6" stroke-width="0.6" opacity="0.75"/>
<line x1="213.5" y1="53.8" x2="214.9" y2="50.2" stroke="#c6c6c6" stroke-width="0.6" opacity="0.75"/>
<line x1="220.3" y1="58.8" x2="224.7" y2="57.1" stroke="#b0b0b0" stroke-width="0.6" opacity="0.75"/>
<line x1="205.0" y1="58.9" x2="203.0" y2="57.4" stroke="#c6c6c6" stroke-width="0.6" opacity="0.75"/>
<line x1="208.2" y1="71.0" x2="207.5" y2="74.1" stroke="#c6c6c6" stroke-width="0.6" opacity="0.75"/>
<line x1="221.9" y1="62.2" x2="224.3" y2="62.1" stroke="#c6c6c6" stroke-width="0.6" opacity="0.75"/>
<line x1="203.5" y1="74.8" x2="201.5" y2="78.4" stroke="#bdbdbd" stroke-width="0.6" opacity="0.75"/>
<line x1="215.6" y1="56.6" x2="218.8" y2="53.1" stroke="#8c8c8c" stroke-width="0.6" opacity="0.75"/>
<line x1="204.3" y1="66.8" x2="202.1" y2="68.4" stroke="#c6c6c6" stroke-width="0.6" opacity="0.75"/>
<line x1="216.8" y1="70.9" x2="219.3" y2="73.9" stroke="#c6c6c6" stroke-width="0.6" opacity="0.75"/>
<line x1="198.5" y1="61.7" x2="195.9" y2="61.5" stroke="#c6c6c6" stroke-width="0.6" opacity="0.75"/>
<line x1="212.2" y1="50.9" x2="213.0" y2="46.7" stroke="#8c8c8c" stroke-width="0.6" opacity="0.75"/>
<line x1="218.9" y1="56.1" x2="222.3" y2="53.6" stroke="#c6c6c6" stroke-width="0.6" opacity="0.75"/>
<line x1="219.1" y1="61.8" x2="222.1" y2="61.4" stroke="#c6c6c6" stroke-width="0.6" opacity="0.75"/>
<line x1="168.8" y1="71.8" x2="167.9" y2="69.3" stroke="#c6c6c6" stroke-width="0.6" opacity="0.75"/>
<line x1="170.2" y1="83.7" x2="169.5" y2="86.7" stroke="#b0b0b0" stroke-width="0.6" opacity="0.75"/>
<line x1="178.2" y1="75.3" x2="180.0" y2="74.4" stroke="#bdbdbd" stroke-width="0.6" opacity="0.75"/>
<line x1="167.4" y1="67.6" x2="165.8" y2="63.0" stroke="#bdbdbd" stroke-width="0.6" opacity="0.75"/>
<line x1="184.1" y1="73.2" x2="186.5" y2="72.1" stroke="#bdbdbd" stroke-width="0.6" opacity="0.75"/>
<line x1="166.1" y1="73.9" x2="164.5" y2="72.3" stroke="#c6c6c6" stroke-width="0.6" opacity="0.75"/>
<line x1="169.5" y1="92.8" x2="169.0" y2="96.2" stroke="#c6c6c6" stroke-width="0.6" opacity="0.75"/>
<line x1="179.0" y1="74.7" x2="181.2" y2="73.5" stroke="#b0b0b0" stroke-width="0.6" opacity="0.75"/>
<line x1="178.5" y1="83.1" x2="181.3" y2="84.6" stroke="#b0b0b0" stroke-width="0.6" opacity="0.75"/>
<line x1="165.8" y1="86.1" x2="163.7" y2="88.8" stroke="#c6c6c6" stroke-width="0.6" opacity="0.75"/>
<line x1="183.7" y1="84.2" x2="187.3" y2="85.8" stroke="#8c8c8c" stroke-width="0.6" opacity="0.75"/>
<line x1="158.1" y1="82.9" x2="155.8" y2="83.6" stroke="#b0b0b0" stroke-width="0.6" opacity="0.75"/>
<line x1="184.3" y1="79.9" x2="187.1" y2="80.1" stroke="#c6c6c6" stroke-width="0.6" opacity="0.75"/>
<line x1="182.9" y1="83.0" x2="185.9" y2="84.0" stroke="#c6c6c6" stroke-width="0.6" opacity="0.75"/>
<line x1="159.9" y1="83.8" x2="157.4" y2="84.8" stroke="#bdbdbd" stroke-width="0.6" opacity="0.75"/>
<line x1="173.7" y1="83.7" x2="175.5" y2="87.3" stroke="#b0b0b0" stroke-width="0.6" opacity="0.75"/>
<line x1="166.4" y1="72.5" x2="163.7" y2="68.8" stroke="#b0b0b0" stroke-width="0.6" opacity="0.75"/>
<line x1="165.7" y1="84.4" x2="162.8" y2="87.1" stroke="#8c8c8c" stroke-width="0.6" opacity="0.75"/>
<line x1="161.8" y1="76.8" x2="157.9" y2="76.0" stroke="#8c8c8c" stroke-width="0.6" opacity="0.75"/>
<line x1="177.8" y1="74.2" x2="181.7" y2="71.4" stroke="#bdbdbd" stroke-width="0.6" opacity="0.75"/>
<line x1="181.0" y1="88.6" x2="184.0" y2="91.5" stroke="#b0b0b0" stroke-width="0.6" opacity="0.75"/>
<line x1="179.7" y1="88.8" x2="181.7" y2="91.1" stroke="#b0b0b0" stroke-width="0.6" opacity="0.75"/>
<line x1="162.2" y1="73.4" x2="158.4" y2="71.1" stroke="#8c8c8c" stroke-width="0.6" opacity="0.75"/>
<line x1="160.9" y1="87.7" x2="157.8" y2="90.3" stroke="#c6c6c6" stroke-width="0.6" opacity="0.75"/>
<line x1="177.4" y1="74.2" x2="179.3" y2="72.7" stroke="#8c8c8c" stroke-width="0.6" opacity="0.75"/>
<line x1="159.3" y1="84.3" x2="155.2" y2="86.1" stroke="#bdbdbd" stroke-width="0.6" opacity="0.75"/>
<line x1="183.1" y1="73.1" x2="186.3" y2="71.5" stroke="#bdbdbd" stroke-width="0.6" opacity="0.75"/>
<line x1="159.5" y1="80.6" x2="154.7" y2="81.3" stroke="#c6c6c6" stroke-width="0.6" opacity="0.75"/>
<line x1="165.8" y1="70.4" x2="164.4" y2="68.2" stroke="#bdbdbd" stroke-width="0.6" opacity="0.75"/>
<line x1="175.7" y1="88.2" x2="177.2" y2="91.1" stroke="#bdbdbd" stroke-width="0.6" opacity="0.75"/>
<line x1="181.1" y1="69.6" x2="182.8" y2="67.9" stroke="#c6c6c6" stroke-width="0.6" opacity="0.75"/>
<line x1="168.3" y1="66.1" x2="167.4" y2="62.1" stroke="#8c8c8c" stroke-width="0.6" opacity="0.75"/>
<line x1="160.6" y1="88.0" x2="156.8" y2="91.1" stroke="#b0b0b0" stroke-width="0.6" opacity="0.75"/>
<line x1="176.8" y1="80.0" x2="181.5" y2="80.9" stroke="#bdbdbd" stroke-width="0.6" opacity="0.75"/>
<line x1="165.2" y1="68.1" x2="163.4" y2="65.0" stroke="#8c8c8c" stroke-width="0.6" opacity="0.75"/>
<line x1="168.0" y1="73.0" x2="167.0" y2="71.1" stroke="#b0b0b0" stroke-width="0.6" opacity="0.75"/>
<line x1="174.0" y1="70.9" x2="174.8" y2="68.6" stroke="#c6c6c6" stroke-width="0.6" opacity="0.75"/>
<line x1="160.5" y1="73.2" x2="158.6" y2="72.2" stroke="#c6c6c6" stroke-width="0.6" opacity="0.75"/>
<line x1="170.9" y1="75.3" x2="170.5" y2="70.6" stroke="#b0b0b0" stroke-width="0.6" opacity="0.75"/>
<line x1="165.3" y1="90.9" x2="164.2" y2="93.1" stroke="#bdbdbd" stroke-width="0.6" opacity="0.75"/>
<line x1="159.2" y1="75.4" x2="155.6" y2="74.3" stroke="#c6c6c6" stroke-width="0.6" opacity="0.75"/>
<line x1="176.1" y1="77.4" x2="180.7" y2="75.8" stroke="#b0b0b0" stroke-width="0.6" opacity="0.75"/>
<line x1="160.9" y1="76.4" x2="157.8" y2="75.7" stroke="#b0b0b0" stroke-width="0.6" opacity="0.75"/>
<line x1="178.5" y1="69.8" x2="180.2" y2="67.7" stroke="#bdbdbd" stroke-width="0.6" opacity="0.75"/>
<line x1="174.9" y1="73.4" x2="177.4" y2="69.5" stroke="#bdbdbd" stroke-width="0.6" opacity="0.75"/>
<line x1="160.2" y1="79.2" x2="156.4" y2="79.3" stroke="#bdbdbd" stroke-width="0.6" opacity="0.75"/>
<line x1="162.3" y1="71.7" x2="160.6" y2="70.3" stroke="#c6c6c6" stroke-width="0.6" opacity="0.75"/>
<line x1="178.4" y1="81.9" x2="181.4" y2="83.2" stroke="#8c8c8c" stroke-width="0.6" opacity="0.75"/>
<line x1="168.3" y1="87.4" x2="167.1" y2="90.8" stroke="#b0b0b0" stroke-width="0.6" opacity="0.75"/>
<line x1="171.8" y1="74.7" x2="172.2" y2="70.4" stroke="#bdbdbd" stroke-width="0.6" opacity="0.75"/>
<line x1="169.9" y1="71.0" x2="169.3" y2="67.9" stroke="#8c8c8c" stroke-width="0.6" opacity="0.75"/>
<line x1="168.6" y1="89.6" x2="167.4" y2="94.3" stroke="#b0b0b0" stroke-width="0.6" opacity="0.75"/>
<line x1="168.8" y1="88.6" x2="167.6" y2="92.9" stroke="#bdbdbd" stroke-width="0.6" opacity="0.75"/>
<line x1="179.7" y1="86.6" x2="182.3" y2="88.9" stroke="#8c8c8c" stroke-width="0.6" opacity="0.75"/>
<line x1="182.0" y1="83.0" x2="186.2" y2="84.6" stroke="#c6c6c6" stroke-width="0.6" opacity="0.75"/>
<line x1="243.0" y1="76.1" x2="246.4" y2="76.6" stroke="#b0b0b0" stroke-width="0.6" opacity="0.75"/>
<line x1="230.8" y1="74.6" x2="227.5" y2="74.4" stroke="#bdbdbd" stroke-width="0.6" opacity="0.75"/>
<line x1="249.0" y1="79.1" x2="252.8" y2="80.3" stroke="#bdbdbd" stroke-width="0.6" opacity="0.75"/>
<line x1="241.5" y1="80.2" x2="244.3" y2="82.5" stroke="#bdbdbd" stroke-width="0.6" opacity="0.75"/>
<line x1="248.5" y1="76.0" x2="253.4" y2="76.4" stroke="#bdbdbd" stroke-width="0.6" opacity="0.75"/>
<line x1="236.7" y1="72.0" x2="237.5" y2="69.8" stroke="#b0b0b0" stroke-width="0.6" opacity="0.75"/>
<line x1="240.8" y1="69.9" x2="243.8" y2="67.0" stroke="#c6c6c6" stroke-width="0.6" opacity="0.75"/>
<line x1="227.0" y1="69.7" x2="223.9" y2="67.8" stroke="#8c8c8c" stroke-width="0.6" opacity="0.75"/>
<line x1="230.8" y1="85.4" x2="228.9" y2="89.6" stroke="#b0b0b0" stroke-width="0.6" opacity="0.75"/>
<line x1="241.9" y1="77.2" x2="244.0" y2="78.0" stroke="#b0b0b0" stroke-width="0.6" opacity="0.75"/>
<line x1="247.4" y1="74.0" x2="250.4" y2="73.7" stroke="#c6c6c6" stroke-width="0.6" opacity="0.75"/>
<line x1="241.3" y1="76.5" x2="243.8" y2="77.1" stroke="#b0b0b0" stroke-width="0.6" opacity="0.75"/>
<line x1="244.8" y1="71.8" x2="248.3" y2="70.6" stroke="#bdbdbd" stroke-width="0.6" opacity="0.75"/>
<line x1="239.6" y1="77.5" x2="242.9" y2="79.5" stroke="#c6c6c6" stroke-width="0.6" opacity="0.75"/>
<line x1="241.0" y1="62.8" x2="242.9" y2="58.7" stroke="#bdbdbd" stroke-width="0.6" opacity="0.75"/>
<line x1="242.6" y1="64.6" x2="244.7" y2="61.5" stroke="#b0b0b0" stroke-width="0.6" opacity="0.75"/>
<line x1="243.3" y1="73.9" x2="245.8" y2="73.5" stroke="#b0b0b0" stroke-width="0.6" opacity="0.75"/>
<line x1="246.0" y1="77.4" x2="249.4" y2="78.2" stroke="#c6c6c6" stroke-width="0.6" opacity="0.75"/>
<line x1="233.0" y1="78.0" x2="230.8" y2="80.6" stroke="#c6c6c6" stroke-width="0.6" opacity="0.75"/>
<line x1="228.7" y1="64.7" x2="226.8" y2="61.9" stroke="#c6c6c6" stroke-width="0.6" opacity="0.75"/>
<line x1="243.4" y1="77.7" x2="247.3" y2="79.0" stroke="#b0b0b0" stroke-width="0.6" opacity="0.75"/>
<line x1="231.8" y1="86.6" x2="230.7" y2="89.9" stroke="#8c8c8c" stroke-width="0.6" opacity="0.75"/>
<line x1="242.7" y1="68.0" x2="244.8" y2="66.0" stroke="#c6c6c6" stroke-width="0.6" opacity="0.75"/>
<line x1="245.0" y1="70.4" x2="249.4" y2="68.3" stroke="#b0b0b0" stroke-width="0.6" opacity="0.75"/>
<line x1="241.6" y1="78.4" x2="243.5" y2="79.4" stroke="#c6c6c6" stroke-width="0.6" opacity="0.75"/>
<line x1="226.9" y1="66.4" x2="224.0" y2="63.5" stroke="#bdbdbd" stroke-width="0.6" opacity="0.75"/>
<line x1="222.8" y1="75.0" x2="217.9" y2="75.0" stroke="#b0b0b0" stroke-width="0.6" opacity="0.75"/>
<line x1="240.7" y1="84.2" x2="242.5" y2="87.5" stroke="#c6c6c6" stroke-width="0.6" opacity="0.75"/>
<line x1="231.8" y1="84.0" x2="229.9" y2="88.4" stroke="#b0b0b0" stroke-width="0.6" opacity="0.75"/>
<line x1="241.0" y1="80.3" x2="243.8" y2="83.0" stroke="#c6c6c6" stroke-width="0.6" opacity="0.75"/>
<line x1="222.1" y1="73.2" x2="217.5" y2="72.5" stroke="#bdbdbd" stroke-width="0.6" opacity="0.75"/>
<line x1="225.2" y1="69.4" x2="222.0" y2="67.7" stroke="#c6c6c6" stroke-width="0.6" opacity="0.75"/>
<line x1="228.8" y1="73.3" x2="226.0" y2="72.5" stroke="#8c8c8c" stroke-width="0.6" opacity="0.75"/>
<line x1="235.4" y1="66.9" x2="235.4" y2="64.8" stroke="#b0b0b0" stroke-width="0.6" opacity="0.75"/>
<line x1="235.6" y1="81.3" x2="235.6" y2="83.5" stroke="#c6c6c6" stroke-width="0.6" opacity="0.75"/>
<line x1="233.1" y1="84.4" x2="232.2" y2="87.8" stroke="#bdbdbd" stroke-width="0.6" opacity="0.75"/>
<line x1="243.2" y1="64.7" x2="245.2" y2="62.0" stroke="#8c8c8c" stroke-width="0.6" opacity="0.75"/>
<line x1="241.6" y1="72.9" x2="244.5" y2="71.9" stroke="#bdbdbd" stroke-width="0.6" opacity="0.75"/>
<line x1="245.7" y1="69.3" x2="248.1" y2="68.0" stroke="#c6c6c6" stroke-width="0.6" opacity="0.75"/>
<line x1="226.2" y1="69.9" x2="222.9" y2="68.1" stroke="#c6c6c6" stroke-width="0.6" opacity="0.75"/>
<line x1="236.8" y1="67.2" x2="237.3" y2="63.9" stroke="#8c8c8c" stroke-width="0.6" opacity="0.75"/>
<line x1="233.0" y1="81.7" x2="231.4" y2="86.2" stroke="#b0b0b0" stroke-width="0.6" opacity="0.75"/>
<line x1="228.6" y1="79.6" x2="224.5" y2="82.3" stroke="#c6c6c6" stroke-width="0.6" opacity="0.75"/>
<line x1="227.5" y1="74.4" x2="223.5" y2="74.2" stroke="#c6c6c6" stroke-width="0.6" opacity="0.75"/>
<line x1="244.5" y1="68.4" x2="247.3" y2="66.3" stroke="#bdbdbd" stroke-width="0.6" opacity="0.75"/>
<line x1="249.6" y1="73.9" x2="253.8" y2="73.6" stroke="#c6c6c6" stroke-width="0.6" opacity="0.75"/>
<line x1="227.0" y1="73.3" x2="224.5" y2="72.8" stroke="#b0b0b0" stroke-width="0.6" opacity="0.75"/>
<line x1="241.6" y1="83.6" x2="243.0" y2="85.6" stroke="#bdbdbd" stroke-width="0.6" opacity="0.75"/>
<line x1="229.2" y1="80.6" x2="226.9" y2="82.6" stroke="#bdbdbd" stroke-width="0.6" opacity="0.75"/>
<line x1="234.5" y1="61.9" x2="234.3" y2="58.5" stroke="#8c8c8c" stroke-width="0.6" opacity="0.75"/>
<line x1="228.2" y1="63.5" x2="226.3" y2="60.4" stroke="#c6c6c6" stroke-width="0.6" opacity="0.75"/>
<line x1="225.6" y1="77.0" x2="222.7" y2="77.6" stroke="#c6c6c6" stroke-width="0.6" opacity="0.75"/>
<line x1="239.8" y1="79.1" x2="242.5" y2="81.7" stroke="#c6c6c6" stroke-width="0.6" opacity="0.75"/>
<line x1="249.0" y1="75.3" x2="253.1" y2="75.4" stroke="#8c8c8c" stroke-width="0.6" opacity="0.75"/>
<line x1="232.3" y1="75.2" x2="229.8" y2="75.4" stroke="#8c8c8c" stroke-width="0.6" opacity="0.75"/>
<line x1="195.3" y1="81.2" x2="195.5" y2="76.7" stroke="#bdbdbd" stroke-width="0.6" opacity="0.75"/>
<line x1="192.8" y1="83.3" x2="191.7" y2="80.7" stroke="#b0b0b0" stroke-width="0.6" opacity="0.75"/>
<line x1="189.8" y1="84.1" x2="187.9" y2="82.6" stroke="#bdbdbd" stroke-width="0.6" opacity="0.75"/>
<line x1="186.6" y1="83.8" x2="183.6" y2="82.3" stroke="#c6c6c6" stroke-width="0.6" opacity="0.75"/>
<line x1="197.8" y1="82.5" x2="199.4" y2="79.5" stroke="#bdbdbd" stroke-width="0.6" opacity="0.75"/>
<line x1="198.0" y1="81.5" x2="200.0" y2="77.3" stroke="#8c8c8c" stroke-width="0.6" opacity="0.75"/>
<line x1="197.2" y1="81.9" x2="198.9" y2="77.3" stroke="#c6c6c6" stroke-width="0.6" opacity="0.75"/>
<line x1="195.6" y1="83.6" x2="196.3" y2="79.1" stroke="#8c8c8c" stroke-width="0.6" opacity="0.75"/>
<line x1="189.9" y1="90.2" x2="187.1" y2="91.5" stroke="#c6c6c6" stroke-width="0.6" opacity="0.75"/>
<line x1="187.1" y1="90.1" x2="184.9" y2="90.7" stroke="#b0b0b0" stroke-width="0.6" opacity="0.75"/>
<line x1="201.9" y1="85.5" x2="206.1" y2="84.0" stroke="#bdbdbd" stroke-width="0.6" opacity="0.75"/>
<line x1="200.8" y1="81.1" x2="202.0" y2="79.6" stroke="#c6c6c6" stroke-width="0.6" opacity="0.75"/>
<line x1="200.6" y1="84.0" x2="203.7" y2="81.7" stroke="#c6c6c6" stroke-width="0.6" opacity="0.75"/>
<line x1="192.4" y1="93.5" x2="190.5" y2="97.3" stroke="#bdbdbd" stroke-width="0.6" opacity="0.75"/>
<line x1="200.9" y1="91.2" x2="204.5" y2="93.2" stroke="#8c8c8c" stroke-width="0.6" opacity="0.75"/>
<line x1="190.9" y1="82.3" x2="188.7" y2="79.2" stroke="#bdbdbd" stroke-width="0.6" opacity="0.75"/>
<line x1="198.2" y1="83.1" x2="199.5" y2="81.2" stroke="#bdbdbd" stroke-width="0.6" opacity="0.75"/>
<line x1="196.1" y1="97.0" x2="196.7" y2="102.0" stroke="#b0b0b0" stroke-width="0.6" opacity="0.75"/>
<line x1="200.3" y1="81.9" x2="203.4" y2="78.5" stroke="#8c8c8c" stroke-width="0.6" opacity="0.75"/>
<line x1="187.8" y1="92.5" x2="185.7" y2="93.8" stroke="#c6c6c6" stroke-width="0.6" opacity="0.75"/>
<line x1="199.9" y1="81.0" x2="201.8" y2="78.2" stroke="#b0b0b0" stroke-width="0.6" opacity="0.75"/>
<line x1="190.3" y1="83.5" x2="188.3" y2="81.6" stroke="#8c8c8c" stroke-width="0.6" opacity="0.75"/>
<line x1="191.4" y1="92.4" x2="188.8" y2="95.7" stroke="#c6c6c6" stroke-width="0.6" opacity="0.75"/>
<line x1="192.8" y1="83.2" x2="191.0" y2="79.0" stroke="#8c8c8c" stroke-width="0.6" opacity="0.75"/>
<line x1="193.2" y1="95.4" x2="192.5" y2="98.1" stroke="#8c8c8c" stroke-width="0.6" opacity="0.75"/>
<line x1="194.2" y1="92.9" x2="193.6" y2="96.1" stroke="#8c8c8c" stroke-width="0.6" opacity="0.75"/>
<line x1="197.5" y1="89.3" x2="199.6" y2="90.5" stroke="#b0b0b0" stroke-width="0.6" opacity="0.75"/>
<line x1="190.1" y1="84.9" x2="186.3" y2="82.5" stroke="#8c8c8c" stroke-width="0.6" opacity="0.75"/>
<line x1="186.0" y1="86.3" x2="182.2" y2="85.6" stroke="#8c8c8c" stroke-width="0.6" opacity="0.75"/>
<line x1="187.3" y1="87.0" x2="184.2" y2="86.5" stroke="#bdbdbd" stroke-width="0.6" opacity="0.75"/>
<line x1="189.5" y1="81.6" x2="188.2" y2="80.0" stroke="#c6c6c6" stroke-width="0.6" opacity="0.75"/>
<line x1="190.4" y1="87.2" x2="187.1" y2="86.6" stroke="#c6c6c6" stroke-width="0.6" opacity="0.75"/>
<line x1="196.4" y1="92.6" x2="197.2" y2="95.4" stroke="#b0b0b0" stroke-width="0.6" opacity="0.75"/>
<line x1="191.3" y1="96.5" x2="190.4" y2="98.6" stroke="#c6c6c6" stroke-width="0.6" opacity="0.75"/>
<line x1="199.3" y1="88.1" x2="203.0" y2="88.2" stroke="#b0b0b0" stroke-width="0.6" opacity="0.75"/>
<line x1="204.0" y1="86.8" x2="206.4" y2="86.5" stroke="#bdbdbd" stroke-width="0.6" opacity="0.75"/>
<line x1="196.3" y1="95.5" x2="196.9" y2="99.0" stroke="#b0b0b0" stroke-width="0.6" opacity="0.75"/>
<line x1="190.3" y1="82.7" x2="188.5" y2="80.5" stroke="#bdbdbd" stroke-width="0.6" opacity="0.75"/>
<line x1="190.7" y1="89.7" x2="187.0" y2="91.0" stroke="#bdbdbd" stroke-width="0.6" opacity="0.75"/>
<line x1="201.3" y1="93.7" x2="202.8" y2="95.1" stroke="#c6c6c6" stroke-width="0.6" opacity="0.75"/>
<line x1="189.5" y1="93.6" x2="186.3" y2="96.9" stroke="#8c8c8c" stroke-width="0.6" opacity="0.75"/>
<line x1="194.3" y1="79.9" x2="194.1" y2="76.7" stroke="#c6c6c6" stroke-width="0.6" opacity="0.75"/>
<line x1="189.8" y1="89.8" x2="185.7" y2="91.3" stroke="#c6c6c6" stroke-width="0.6" opacity="0.75"/>
<line x1="200.0" y1="92.8" x2="203.1" y2="95.9" stroke="#c6c6c6" stroke-width="0.6" opacity="0.75"/>
<line x1="198.4" y1="90.5" x2="200.8" y2="92.3" stroke="#bdbdbd" stroke-width="0.6" opacity="0.75"/>
<line x1="189.8" y1="94.6" x2="188.5" y2="96.3" stroke="#c6c6c6" stroke-width="0.6" opacity="0.75"/>
<line x1="193.7" y1="85.0" x2="192.5" y2="82.3" stroke="#bdbdbd" stroke-width="0.6" opacity="0.75"/>
<line x1="189.2" y1="92.0" x2="185.7" y2="94.3" stroke="#8c8c8c" stroke-width="0.6" opacity="0.75"/>
<line x1="198.4" y1="94.6" x2="200.4" y2="98.6" stroke="#b0b0b0" stroke-width="0.6" opacity="0.75"/>
<line x1="195.3" y1="95.7" x2="195.5" y2="100.0" stroke="#b0b0b0" stroke-width="0.6" opacity="0.75"/>
<line x1="189.9" y1="95.8" x2="187.8" y2="99.0" stroke="#c6c6c6" stroke-width="0.6" opacity="0.75"/>
<line x1="190.4" y1="92.6" x2="187.7" y2="95.3" stroke="#bdbdbd" stroke-width="0.6" opacity="0.75"/>
<line x1="196.6" y1="80.6" x2="197.1" y2="78.2" stroke="#b0b0b0" stroke-width="0.6" opacity="0.75"/>
<line x1="199.9" y1="83.7" x2="201.6" y2="82.2" stroke="#b0b0b0" stroke-width="0.6" opacity="0.75"/>
<line x1="194.3" y1="86.0" x2="193.5" y2="83.7" stroke="#c6c6c6" stroke-width="0.6" opacity="0.75"/>
<line x1="221.9" y1="40.1" x2="221.2" y2="42.0" stroke="#8c8c8c" stroke-width="0.6" opacity="0.75"/>
<line x1="225.0" y1="39.7" x2="225.5" y2="42.1" stroke="#c6c6c6" stroke-width="0.6" opacity="0.75"/>
<line x1="215.4" y1="32.3" x2="211.8" y2="31.6" stroke="#b0b0b0" stroke-width="0.6" opacity="0.75"/>
<line x1="227.9" y1="42.6" x2="229.1" y2="45.1" stroke="#b0b0b0" stroke-width="0.6" opacity="0.75"/>
<line x1="230.7" y1="37.9" x2="234.5" y2="40.2" stroke="#bdbdbd" stroke-width="0.6" opacity="0.75"/>
<line x1="220.6" y1="42.0" x2="218.6" y2="46.6" stroke="#8c8c8c" stroke-width="0.6" opacity="0.75"/>
<line x1="231.7" y1="28.7" x2="235.0" y2="26.4" stroke="#bdbdbd" stroke-width="0.6" opacity="0.75"/>
<line x1="230.6" y1="33.1" x2="233.0" y2="32.8" stroke="#8c8c8c" stroke-width="0.6" opacity="0.75"/>
<line x1="222.2" y1="35.8" x2="219.8" y2="38.3" stroke="#b0b0b0" stroke-width="0.6" opacity="0.75"/>
<line x1="216.9" y1="39.3" x2="215.1" y2="40.6" stroke="#bdbdbd" stroke-width="0.6" opacity="0.75"/>
<line x1="217.0" y1="38.8" x2="213.8" y2="41.0" stroke="#b0b0b0" stroke-width="0.6" opacity="0.75"/>
<line x1="218.0" y1="39.3" x2="216.5" y2="40.6" stroke="#c6c6c6" stroke-width="0.6" opacity="0.75"/>
<line x1="233.4" y1="34.7" x2="236.9" y2="34.9" stroke="#c6c6c6" stroke-width="0.6" opacity="0.75"/>
<line x1="218.3" y1="34.3" x2="214.7" y2="34.5" stroke="#8c8c8c" stroke-width="0.6" opacity="0.75"/>
<line x1="226.5" y1="31.8" x2="229.7" y2="28.9" stroke="#b0b0b0" stroke-width="0.6" opacity="0.75"/>
<line x1="227.1" y1="37.5" x2="229.1" y2="39.7" stroke="#b0b0b0" stroke-width="0.6" opacity="0.75"/>
<line x1="227.1" y1="41.4" x2="228.4" y2="44.5" stroke="#8c8c8c" stroke-width="0.6" opacity="0.75"/>
<line x1="215.4" y1="35.0" x2="210.6" y2="35.5" stroke="#8c8c8c" stroke-width="0.6" opacity="0.75"/>
<line x1="229.7" y1="30.3" x2="232.9" y2="28.2" stroke="#8c8c8c" stroke-width="0.6" opacity="0.75"/>
<line x1="223.4" y1="41.4" x2="223.1" y2="45.0" stroke="#c6c6c6" stroke-width="0.6" opacity="0.75"/>
<line x1="217.0" y1="32.4" x2="212.6" y2="31.4" stroke="#c6c6c6" stroke-width="0.6" opacity="0.75"/>
<line x1="227.8" y1="41.2" x2="230.0" y2="45.3" stroke="#c6c6c6" stroke-width="0.6" opacity="0.75"/>
<line x1="227.8" y1="39.7" x2="229.8" y2="42.7" stroke="#c6c6c6" stroke-width="0.6" opacity="0.75"/>
<line x1="219.3" y1="42.0" x2="218.1" y2="44.1" stroke="#b0b0b0" stroke-width="0.6" opacity="0.75"/>
<line x1="230.8" y1="34.0" x2="233.9" y2="34.0" stroke="#8c8c8c" stroke-width="0.6" opacity="0.75"/>
<line x1="225.8" y1="28.0" x2="227.1" y2="23.5" stroke="#c6c6c6" stroke-width="0.6" opacity="0.75"/>
<line x1="221.6" y1="40.4" x2="220.6" y2="42.9" stroke="#bdbdbd" stroke-width="0.6" opacity="0.75"/>
<line x1="221.1" y1="41.9" x2="219.5" y2="46.3" stroke="#8c8c8c" stroke-width="0.6" opacity="0.75"/>
<line x1="228.1" y1="36.8" x2="230.8" y2="38.7" stroke="#b0b0b0" stroke-width="0.6" opacity="0.75"/>
<line x1="218.0" y1="29.0" x2="216.2" y2="27.6" stroke="#8c8c8c" stroke-width="0.6" opacity="0.75"/>
<line x1="226.8" y1="26.7" x2="227.6" y2="24.7" stroke="#c6c6c6" stroke-width="0.6" opacity="0.75"/>
<line x1="227.7" y1="37.9" x2="230.2" y2="40.5" stroke="#8c8c8c" stroke-width="0.6" opacity="0.75"/>
<line x1="224.5" y1="28.9" x2="224.9" y2="25.5" stroke="#bdbdbd" stroke-width="0.6" opacity="0.75"/>
<line x1="222.3" y1="26.0" x2="221.4" y2="21.3" stroke="#8c8c8c" stroke-width="0.6" opacity="0.75"/>
<line x1="220.4" y1="25.9" x2="218.5" y2="21.8" stroke="#c6c6c6" stroke-width="0.6" opacity="0.75"/>
<line x1="226.7" y1="30.1" x2="228.9" y2="26.9" stroke="#c6c6c6" stroke-width="0.6" opacity="0.75"/>
<line x1="220.5" y1="34.1" x2="216.5" y2="34.3" stroke="#c6c6c6" stroke-width="0.6" opacity="0.75"/>
<line x1="228.2" y1="31.0" x2="230.0" y2="29.7" stroke="#c6c6c6" stroke-width="0.6" opacity="0.75"/>
<line x1="218.5" y1="34.4" x2="215.1" y2="34.6" stroke="#b0b0b0" stroke-width="0.6" opacity="0.75"/>
<line x1="230.9" y1="28.5" x2="234.5" y2="25.6" stroke="#bdbdbd" stroke-width="0.6" opacity="0.75"/>
<line x1="228.2" y1="32.9" x2="231.6" y2="32.1" stroke="#bdbdbd" stroke-width="0.6" opacity="0.75"/>
<line x1="230.7" y1="36.1" x2="235.5" y2="37.6" stroke="#b0b0b0" stroke-width="0.6" opacity="0.75"/>
<line x1="223.9" y1="39.1" x2="223.7" y2="43.6" stroke="#c6c6c6" stroke-width="0.6" opacity="0.75"/>
<line x1="231.7" y1="29.3" x2="235.1" y2="27.2" stroke="#8c8c8c" stroke-width="0.6" opacity="0.75"/>
<line x1="216.8" y1="31.6" x2="214.7" y2="30.9" stroke="#8c8c8c" stroke-width="0.6" opacity="0.75"/>
<line x1="222.4" y1="42.5" x2="221.6" y2="47.3" stroke="#8c8c8c" stroke-width="0.6" opacity="0.75"/>
<line x1="225.6" y1="29.3" x2="226.6" y2="26.6" stroke="#8c8c8c" stroke-width="0.6" opacity="0.75"/>
<line x1="223.0" y1="25.5" x2="222.7" y2="22.7" stroke="#c6c6c6" stroke-width="0.6" opacity="0.75"/>
<line x1="226.8" y1="27.1" x2="227.7" y2="24.7" stroke="#c6c6c6" stroke-width="0.6" opacity="0.75"/>
<line x1="227.5" y1="40.6" x2="229.1" y2="43.4" stroke="#c6c6c6" stroke-width="0.6" opacity="0.75"/>
<line x1="219.2" y1="33.6" x2="216.8" y2="33.4" stroke="#b0b0b0" stroke-width="0.6" opacity="0.75"/>
<line x1="225.0" y1="40.7" x2="225.5" y2="43.5" stroke="#b0b0b0" stroke-width="0.6" opacity="0.75"/>
<line x1="221.8" y1="30.4" x2="220.4" y2="28.2" stroke="#c6c6c6" stroke-width="0.6" opacity="0.75"/>
<line x1="219.2" y1="28.0" x2="217.4" y2="25.8" stroke="#c6c6c6" stroke-width="0.6" opacity="0.75"/>
<line x1="226.9" y1="29.1" x2="228.5" y2="26.3" stroke="#8c8c8c" stroke-width="0.6" opacity="0.75"/>
<line x1="157.9" y1="25.2" x2="156.0" y2="21.0" stroke="#bdbdbd" stroke-width="0.6" opacity="0.75"/>
<line x1="161.2" y1="34.6" x2="162.1" y2="38.5" stroke="#bdbdbd" stroke-width="0.6" opacity="0.75"/>
<line x1="165.7" y1="30.9" x2="167.6" y2="31.3" stroke="#c6c6c6" stroke-width="0.6" opacity="0.75"/>
<line x1="167.1" y1="34.4" x2="169.1" y2="35.6" stroke="#8c8c8c" stroke-width="0.6" opacity="0.75"/>
<line x1="161.0" y1="37.6" x2="161.6" y2="41.7" stroke="#bdbdbd" stroke-width="0.6" opacity="0.75"/>
<line x1="164.1" y1="36.8" x2="166.1" y2="40.0" stroke="#bdbdbd" stroke-width="0.6" opacity="0.75"/>
<line x1="163.8" y1="25.5" x2="166.4" y2="22.4" stroke="#b0b0b0" stroke-width="0.6" opacity="0.75"/>
<line x1="156.7" y1="33.4" x2="153.5" y2="36.7" stroke="#c6c6c6" stroke-width="0.6" opacity="0.75"/>
<line x1="165.3" y1="34.7" x2="167.0" y2="36.2" stroke="#c6c6c6" stroke-width="0.6" opacity="0.75"/>
<line x1="152.6" y1="28.1" x2="150.5" y2="27.6" stroke="#8c8c8c" stroke-width="0.6" opacity="0.75"/>
<line x1="165.6" y1="25.6" x2="167.3" y2="24.3" stroke="#b0b0b0" stroke-width="0.6" opacity="0.75"/>
<line x1="155.8" y1="32.5" x2="152.9" y2="34.1" stroke="#c6c6c6" stroke-width="0.6" opacity="0.75"/>
<line x1="166.7" y1="30.6" x2="170.0" y2="30.9" stroke="#bdbdbd" stroke-width="0.6" opacity="0.75"/>
<line x1="153.7" y1="26.9" x2="150.7" y2="25.5" stroke="#b0b0b0" stroke-width="0.6" opacity="0.75"/>
<line x1="162.9" y1="37.4" x2="164.5" y2="41.3" stroke="#bdbdbd" stroke-width="0.6" opacity="0.75"/>
<line x1="160.6" y1="34.6" x2="161.2" y2="38.6" stroke="#8c8c8c" stroke-width="0.6" opacity="0.75"/>
<line x1="165.7" y1="26.7" x2="168.8" y2="25.0" stroke="#b0b0b0" stroke-width="0.6" opacity="0.75"/>
<line x1="151.9" y1="30.0" x2="147.9" y2="29.9" stroke="#b0b0b0" stroke-width="0.6" opacity="0.75"/>
<line x1="153.6" y1="29.7" x2="151.3" y2="29.6" stroke="#b0b0b0" stroke-width="0.6" opacity="0.75"/>
<line x1="166.1" y1="25.8" x2="168.8" y2="24.0" stroke="#b0b0b0" stroke-width="0.6" opacity="0.75"/>
<line x1="161.1" y1="21.8" x2="161.7" y2="17.6" stroke="#8c8c8c" stroke-width="0.6" opacity="0.75"/>
<line x1="157.2" y1="30.8" x2="152.7" y2="32.1" stroke="#c6c6c6" stroke-width="0.6" opacity="0.75"/>
<line x1="164.3" y1="24.5" x2="166.2" y2="22.0" stroke="#bdbdbd" stroke-width="0.6" opacity="0.75"/>
<line x1="167.7" y1="31.3" x2="172.4" y2="32.0" stroke="#c6c6c6" stroke-width="0.6" opacity="0.75"/>
<line x1="165.4" y1="26.1" x2="168.9" y2="23.5" stroke="#c6c6c6" stroke-width="0.6" opacity="0.75"/>
<line x1="168.5" y1="31.3" x2="172.6" y2="31.9" stroke="#8c8c8c" stroke-width="0.6" opacity="0.75"/>
<line x1="166.7" y1="32.1" x2="168.7" y2="32.8" stroke="#bdbdbd" stroke-width="0.6" opacity="0.75"/>
<line x1="162.4" y1="35.1" x2="163.5" y2="37.5" stroke="#8c8c8c" stroke-width="0.6" opacity="0.75"/>
<line x1="156.9" y1="26.5" x2="155.5" y2="24.9" stroke="#b0b0b0" stroke-width="0.6" opacity="0.75"/>
<line x1="165.9" y1="35.6" x2="169.1" y2="38.8" stroke="#b0b0b0" stroke-width="0.6" opacity="0.75"/>
<line x1="159.3" y1="23.3" x2="158.9" y2="19.0" stroke="#bdbdbd" stroke-width="0.6" opacity="0.75"/>
<line x1="158.5" y1="25.1" x2="157.9" y2="23.0" stroke="#bdbdbd" stroke-width="0.6" opacity="0.75"/>
<line x1="159.9" y1="24.6" x2="159.8" y2="22.0" stroke="#8c8c8c" stroke-width="0.6" opacity="0.75"/>
<line x1="168.2" y1="28.9" x2="171.3" y2="28.6" stroke="#c6c6c6" stroke-width="0.6" opacity="0.75"/>
<line x1="159.0" y1="21.9" x2="158.6" y2="19.5" stroke="#8c8c8c" stroke-width="0.6" opacity="0.75"/>
<line x1="156.0" y1="27.0" x2="152.2" y2="24.0" stroke="#bdbdbd" stroke-width="0.6" opacity="0.75"/>
<line x1="158.7" y1="26.6" x2="157.5" y2="23.6" stroke="#c6c6c6" stroke-width="0.6" opacity="0.75"/>
<line x1="152.2" y1="31.5" x2="149.0" y2="32.2" stroke="#b0b0b0" stroke-width="0.6" opacity="0.75"/>
<line x1="162.6" y1="32.6" x2="165.3" y2="35.3" stroke="#bdbdbd" stroke-width="0.6" opacity="0.75"/>
<line x1="165.2" y1="25.2" x2="168.6" y2="22.1" stroke="#c6c6c6" stroke-width="0.6" opacity="0.75"/>
<line x1="162.3" y1="37.6" x2="163.3" y2="41.1" stroke="#8c8c8c" stroke-width="0.6" opacity="0.75"/>
<line x1="156.4" y1="34.7" x2="155.2" y2="36.4" stroke="#b0b0b0" stroke-width="0.6" opacity="0.75"/>
<line x1="158.7" y1="38.2" x2="158.3" y2="41.2" stroke="#b0b0b0" stroke-width="0.6" opacity="0.75"/>
<line x1="154.5" y1="25.5" x2="152.5" y2="24.0" stroke="#8c8c8c" stroke-width="0.6" opacity="0.75"/>
<line x1="155.9" y1="31.0" x2="153.5" y2="31.6" stroke="#c6c6c6" stroke-width="0.6" opacity="0.75"/>
<line x1="159.9" y1="26.3" x2="159.7" y2="22.8" stroke="#c6c6c6" stroke-width="0.6" opacity="0.75"/>
<line x1="163.6" y1="33.4" x2="166.6" y2="36.2" stroke="#c6c6c6" stroke-width="0.6" opacity="0.75"/>
<line x1="165.2" y1="32.3" x2="168.4" y2="33.7" stroke="#b0b0b0" stroke-width="0.6" opacity="0.75"/>
<line x1="152.4" y1="32.1" x2="148.0" y2="33.3" stroke="#b0b0b0" stroke-width="0.6" opacity="0.75"/>
<line x1="158.5" y1="27.2" x2="157.3" y2="24.8" stroke="#c6c6c6" stroke-width="0.6" opacity="0.75"/>
<line x1="151.5" y1="29.0" x2="149.5" y2="28.8" stroke="#8c8c8c" stroke-width="0.6" opacity="0.75"/>
<line x1="155.2" y1="28.8" x2="150.5" y2="27.6" stroke="#c6c6c6" stroke-width="0.6" opacity="0.75"/>
<line x1="167.3" y1="28.8" x2="171.6" y2="28.1" stroke="#b0b0b0" stroke-width="0.6" opacity="0.75"/>
<line x1="165.6" y1="27.2" x2="169.2" y2="25.4" stroke="#b0b0b0" stroke-width="0.6" opacity="0.75"/>
<line x1="153.4" y1="33.8" x2="150.8" y2="35.3" stroke="#b0b0b0" stroke-width="0.6" opacity="0.75"/>
<line x1="222.3" y1="45.6" x2="225.8" y2="56.7" stroke="#c8c8c8" stroke-width="1.0" />
<line x1="176.1" y1="32.1" x2="181.3" y2="39.1" stroke="#c8c8c8" stroke-width="1.0" />
<line x1="206.9" y1="75.9" x2="211.0" y2="83.8" stroke="#c8c8c8" stroke-width="1.0" />
<line x1="185.7" y1="83.0" x2="182.9" y2="90.9" stroke="#c8c8c8" stroke-width="1.0" />
<line x1="199.0" y1="44.1" x2="201.3" y2="55.5" stroke="#c8c8c8" stroke-width="1.0" />
<line x1="203.2" y1="37.9" x2="207.6" y2="49.9" stroke="#c8c8c8" stroke-width="1.0" />
<line x1="171.0" y1="18.1" x2="177.8" y2="30.3" stroke="#c8c8c8" stroke-width="1.0" />
<line x1="215.6" y1="55.9" x2="228.1" y2="60.0" stroke="#c8c8c8" stroke-width="1.0" />
<line x1="237.6" y1="54.5" x2="229.9" y2="61.1" stroke="#c8c8c8" stroke-width="1.0" />
<line x1="191.0" y1="25.7" x2="201.8" y2="28.2" stroke="#c8c8c8" stroke-width="1.0" />
<line x1="220.1" y1="36.3" x2="214.3" y2="42.5" stroke="#c8c8c8" stroke-width="1.0" />
<line x1="239.9" y1="36.9" x2="228.9" y2="42.6" stroke="#c8c8c8" stroke-width="1.0" />
<line x1="202.9" y1="42.9" x2="193.9" y2="47.0" stroke="#c8c8c8" stroke-width="1.0" />
<line x1="211.6" y1="53.6" x2="199.9" y2="54.9" stroke="#c8c8c8" stroke-width="1.0" />
<line x1="244.4" y1="40.5" x2="231.0" y2="41.4" stroke="#c8c8c8" stroke-width="1.0" />
<line x1="221.1" y1="70.5" x2="234.7" y2="78.7" stroke="#c8c8c8" stroke-width="1.0" />
</g>
<g clip-path="url(#cC)">
<rect x="261.0" y="6.0" width="125.8" height="84.8" fill="#7a7a7a" />
<ellipse cx="318" cy="55" rx="36" ry="30" fill="#5a5a5a" filter="url(#blur4)"/>
<line x1="332.9" y1="46.3" x2="355.3" y2="52.4" stroke="#949494" stroke-width="1.4512680177571653" />
<line x1="337.8" y1="41.0" x2="355.4" y2="36.0" stroke="#acacac" stroke-width="1.5977202336507603" />
<line x1="314.1" y1="54.8" x2="338.3" y2="60.9" stroke="#a0a0a0" stroke-width="0.9352473153184822" />
<line x1="341.9" y1="46.4" x2="357.1" y2="45.7" stroke="#505050" stroke-width="1.227554672127581" />
<line x1="317.6" y1="38.3" x2="311.4" y2="15.0" stroke="#b8b8b8" stroke-width="1.5170886267838486" />
<line x1="316.4" y1="47.5" x2="302.7" y2="44.7" stroke="#505050" stroke-width="1.3946719438427904" />
<line x1="304.6" y1="50.7" x2="292.8" y2="58.0" stroke="#b8b8b8" stroke-width="1.6092682647903032" />
<line x1="333.0" y1="40.8" x2="347.7" y2="36.4" stroke="#7e7e7e" stroke-width="1.5662379571529712" />
<line x1="337.0" y1="58.4" x2="336.9" y2="77.1" stroke="#acacac" stroke-width="0.9773466994790978" />
<line x1="333.7" y1="37.7" x2="327.4" y2="20.0" stroke="#a0a0a0" stroke-width="1.6894898826660771" />
<line x1="291.9" y1="47.1" x2="281.0" y2="36.5" stroke="#b8b8b8" stroke-width="1.2818675017174472" />
<line x1="303.4" y1="46.0" x2="297.7" y2="32.5" stroke="#a0a0a0" stroke-width="1.041241660385645" />
<line x1="322.9" y1="40.2" x2="321.0" y2="30.2" stroke="#949494" stroke-width="1.3523135974274234" />
<line x1="313.2" y1="47.5" x2="296.0" y2="36.5" stroke="#505050" stroke-width="1.4360047601465131" />
<line x1="338.5" y1="58.9" x2="349.2" y2="52.2" stroke="#a0a0a0" stroke-width="1.1622138695408744" />
<line x1="308.4" y1="39.7" x2="299.1" y2="13.6" stroke="#acacac" stroke-width="1.2172969276879027" />
<line x1="322.6" y1="56.5" x2="330.3" y2="75.7" stroke="#505050" stroke-width="1.3915926434889032" />
<line x1="337.0" y1="34.7" x2="351.4" y2="27.2" stroke="#acacac" stroke-width="1.4178353824087528" />
<line x1="315.9" y1="32.7" x2="319.4" y2="16.2" stroke="#505050" stroke-width="1.030288764300341" />
<line x1="306.5" y1="60.6" x2="291.7" y2="57.4" stroke="#505050" stroke-width="1.6342154606806338" />
<line x1="298.9" y1="46.3" x2="288.5" y2="48.1" stroke="#b8b8b8" stroke-width="1.2610553761014756" />
<line x1="331.5" y1="35.1" x2="325.4" y2="17.9" stroke="#7e7e7e" stroke-width="1.6160236834205128" />
<line x1="302.8" y1="44.9" x2="309.1" y2="18.8" stroke="#a0a0a0" stroke-width="0.9953476219635907" />
<line x1="344.7" y1="48.2" x2="353.6" y2="29.4" stroke="#505050" stroke-width="1.4418390415706366" />
<line x1="333.3" y1="54.0" x2="328.2" y2="26.5" stroke="#505050" stroke-width="1.3402735146450626" />
<line x1="324.0" y1="46.7" x2="325.6" y2="66.2" stroke="#a0a0a0" stroke-width="1.5008843593675985" />
<line x1="325.7" y1="46.6" x2="323.7" y2="29.0" stroke="#a0a0a0" stroke-width="1.5353921311726184" />
<line x1="319.4" y1="35.9" x2="319.4" y2="22.4" stroke="#505050" stroke-width="1.642766759715232" />
<line x1="300.1" y1="46.7" x2="288.8" y2="38.1" stroke="#acacac" stroke-width="0.9857154807789092" />
<line x1="315.0" y1="68.5" x2="306.8" y2="81.2" stroke="#7e7e7e" stroke-width="1.2686926805978913" />
<line x1="320.4" y1="50.1" x2="317.3" y2="40.2" stroke="#949494" stroke-width="1.317520360779703" />
<line x1="340.3" y1="49.9" x2="353.8" y2="40.5" stroke="#7e7e7e" stroke-width="1.1630337309720056" />
<line x1="325.9" y1="45.6" x2="324.4" y2="69.3" stroke="#505050" stroke-width="1.6401834861881852" />
<line x1="340.4" y1="63.0" x2="339.6" y2="85.9" stroke="#acacac" stroke-width="0.9788110647271075" />
<line x1="314.8" y1="55.4" x2="300.3" y2="60.3" stroke="#505050" stroke-width="1.2861784418515376" />
<line x1="302.9" y1="44.8" x2="303.4" y2="22.2" stroke="#505050" stroke-width="1.1167833032133951" />
<line x1="313.9" y1="35.1" x2="305.8" y2="28.8" stroke="#acacac" stroke-width="1.40857179100509" />
<line x1="322.5" y1="31.8" x2="343.5" y2="25.8" stroke="#7e7e7e" stroke-width="0.9818053082668883" />
<line x1="306.3" y1="66.8" x2="289.7" y2="77.7" stroke="#a0a0a0" stroke-width="1.4386957945099415" />
<line x1="338.5" y1="34.1" x2="338.5" y2="19.0" stroke="#acacac" stroke-width="1.1093526131302167" />
<line x1="334.5" y1="35.6" x2="349.0" y2="32.7" stroke="#505050" stroke-width="1.0244991552669043" />
<line x1="301.9" y1="49.1" x2="286.0" y2="65.3" stroke="#b8b8b8" stroke-width="1.0741506264121998" />
<line x1="329.9" y1="41.5" x2="349.8" y2="25.9" stroke="#7e7e7e" stroke-width="1.160927825665103" />
<line x1="324.5" y1="55.0" x2="339.2" y2="61.4" stroke="#949494" stroke-width="1.2568831960617242" />
<line x1="319.2" y1="36.6" x2="332.4" y2="20.5" stroke="#acacac" stroke-width="1.5022144421574675" />
<line x1="311.6" y1="28.1" x2="299.7" y2="19.0" stroke="#b8b8b8" stroke-width="0.9943766690841147" />
<line x1="298.8" y1="60.2" x2="280.3" y2="58.7" stroke="#b8b8b8" stroke-width="1.1555673425703823" />
<line x1="315.9" y1="71.9" x2="333.0" y2="81.5" stroke="#7e7e7e" stroke-width="1.0143032355136978" />
<line x1="318.2" y1="61.2" x2="293.9" y2="72.4" stroke="#505050" stroke-width="1.2588083089067732" />
<line x1="321.7" y1="47.4" x2="329.2" y2="69.2" stroke="#7e7e7e" stroke-width="1.0597673288494607" />
<line x1="318.6" y1="53.1" x2="318.9" y2="69.7" stroke="#7e7e7e" stroke-width="1.3807662018437603" />
<line x1="300.3" y1="32.5" x2="283.5" y2="33.2" stroke="#505050" stroke-width="1.3573047672675569" />
<line x1="331.1" y1="57.9" x2="352.2" y2="61.3" stroke="#7e7e7e" stroke-width="1.046090720901965" />
<line x1="308.0" y1="57.2" x2="292.6" y2="57.3" stroke="#505050" stroke-width="1.5375695652519914" />
<line x1="329.5" y1="52.4" x2="332.5" y2="25.3" stroke="#b8b8b8" stroke-width="0.9140851860610127" />
<line x1="325.2" y1="33.1" x2="327.9" y2="23.0" stroke="#b8b8b8" stroke-width="1.195602608011567" />
<line x1="307.0" y1="46.0" x2="284.6" y2="39.9" stroke="#acacac" stroke-width="0.916801815213523" />
<line x1="305.2" y1="58.0" x2="302.2" y2="83.1" stroke="#7e7e7e" stroke-width="1.4706579714405432" />
<line x1="330.6" y1="72.1" x2="336.0" y2="84.1" stroke="#949494" stroke-width="1.4994455218258471" />
<line x1="312.2" y1="51.1" x2="300.4" y2="65.2" stroke="#7e7e7e" stroke-width="1.4570921305191282" />
<line x1="293.6" y1="42.8" x2="293.6" y2="19.7" stroke="#949494" stroke-width="1.270980129810442" />
<line x1="329.6" y1="44.1" x2="353.1" y2="43.9" stroke="#7e7e7e" stroke-width="1.4446337927571107" />
<line x1="336.7" y1="58.2" x2="348.8" y2="35.4" stroke="#505050" stroke-width="1.376644565563235" />
<line x1="338.5" y1="56.6" x2="361.7" y2="56.5" stroke="#949494" stroke-width="1.1668035091194382" />
<line x1="295.5" y1="45.8" x2="293.0" y2="29.1" stroke="#949494" stroke-width="1.4754272885533974" />
<line x1="342.4" y1="58.8" x2="345.5" y2="75.2" stroke="#b8b8b8" stroke-width="1.4595703563074154" />
<line x1="328.2" y1="43.9" x2="334.2" y2="17.6" stroke="#acacac" stroke-width="1.551632809496635" />
<line x1="297.1" y1="47.3" x2="293.1" y2="20.7" stroke="#949494" stroke-width="1.3088618519760025" />
<line x1="317.2" y1="69.6" x2="315.9" y2="93.4" stroke="#505050" stroke-width="1.6063174654977326" />
<line x1="324.0" y1="60.3" x2="350.4" y2="52.2" stroke="#a0a0a0" stroke-width="1.3757300974612106" />
<line x1="336.7" y1="60.8" x2="346.8" y2="56.9" stroke="#7e7e7e" stroke-width="1.0180385341586065" />
<line x1="332.1" y1="53.3" x2="339.6" y2="38.3" stroke="#acacac" stroke-width="1.3813809294358455" />
<line x1="321.9" y1="51.4" x2="341.2" y2="47.0" stroke="#a0a0a0" stroke-width="1.067941092699887" />
<line x1="348.9" y1="47.4" x2="361.0" y2="43.4" stroke="#505050" stroke-width="1.4811957162223124" />
<line x1="289.1" y1="45.3" x2="278.0" y2="41.7" stroke="#7e7e7e" stroke-width="1.0844853546454445" />
<line x1="287.8" y1="43.6" x2="280.4" y2="35.1" stroke="#7e7e7e" stroke-width="1.6730288875093353" />
<line x1="308.2" y1="52.6" x2="289.4" y2="58.1" stroke="#a0a0a0" stroke-width="1.2253556480829402" />
<line x1="300.6" y1="62.9" x2="281.5" y2="50.0" stroke="#949494" stroke-width="1.6118168065122003" />
<line x1="335.1" y1="45.0" x2="334.9" y2="27.0" stroke="#a0a0a0" stroke-width="1.6013128670947752" />
<line x1="319.7" y1="64.0" x2="329.5" y2="82.9" stroke="#7e7e7e" stroke-width="1.3661828105154452" />
<line x1="292.3" y1="47.2" x2="272.1" y2="44.8" stroke="#505050" stroke-width="1.580804921173666" />
<line x1="287.9" y1="56.1" x2="274.8" y2="42.5" stroke="#505050" stroke-width="1.6249551071037143" />
<line x1="331.2" y1="44.9" x2="346.6" y2="51.4" stroke="#acacac" stroke-width="1.4140783047461283" />
<line x1="299.2" y1="61.8" x2="289.7" y2="66.4" stroke="#acacac" stroke-width="1.6107875213515475" />
<line x1="334.9" y1="65.3" x2="342.2" y2="75.9" stroke="#505050" stroke-width="1.3029601157315336" />
<line x1="327.7" y1="72.4" x2="341.0" y2="79.2" stroke="#505050" stroke-width="1.1300704450478185" />
<line x1="295.4" y1="54.1" x2="284.4" y2="58.3" stroke="#505050" stroke-width="1.064832151798201" />
<line x1="327.5" y1="59.7" x2="322.6" y2="70.1" stroke="#b8b8b8" stroke-width="1.5329404328585614" />
<line x1="336.9" y1="56.7" x2="351.4" y2="42.4" stroke="#acacac" stroke-width="0.9216038668357469" />
<line x1="317.0" y1="56.4" x2="309.5" y2="35.9" stroke="#a0a0a0" stroke-width="1.479415231752257" />
<line x1="298.0" y1="50.5" x2="290.0" y2="30.3" stroke="#b8b8b8" stroke-width="1.523029052586392" />
<line x1="310.8" y1="33.7" x2="302.8" y2="21.0" stroke="#7e7e7e" stroke-width="1.0282160319304223" />
<line x1="342.1" y1="56.4" x2="351.8" y2="61.2" stroke="#acacac" stroke-width="1.5034929314817655" />
<line x1="337.7" y1="52.3" x2="353.4" y2="44.3" stroke="#b8b8b8" stroke-width="1.4786612029583102" />
<line x1="293.6" y1="52.9" x2="284.3" y2="33.9" stroke="#949494" stroke-width="1.6810995393339327" />
<line x1="311.6" y1="68.9" x2="294.0" y2="79.0" stroke="#505050" stroke-width="1.3605482314522719" />
<line x1="314.3" y1="44.2" x2="339.9" y2="33.0" stroke="#505050" stroke-width="1.5500989161292587" />
<line x1="302.3" y1="42.1" x2="285.7" y2="45.4" stroke="#949494" stroke-width="1.2200874648146078" />
<line x1="320.6" y1="49.7" x2="314.2" y2="64.5" stroke="#949494" stroke-width="1.2660263326616399" />
<line x1="338.4" y1="48.3" x2="344.4" y2="37.7" stroke="#949494" stroke-width="1.172129705895532" />
<line x1="299.4" y1="60.9" x2="280.6" y2="79.5" stroke="#505050" stroke-width="0.920643351960429" />
<line x1="311.6" y1="33.8" x2="322.4" y2="14.2" stroke="#a0a0a0" stroke-width="0.9290396287092787" />
<line x1="321.5" y1="74.6" x2="315.6" y2="83.2" stroke="#7e7e7e" stroke-width="1.0566997004277248" />
<line x1="304.3" y1="34.2" x2="310.7" y2="12.9" stroke="#505050" stroke-width="0.9523334187811523" />
<line x1="307.6" y1="36.5" x2="310.4" y2="18.2" stroke="#acacac" stroke-width="1.1053377104985704" />
<line x1="344.1" y1="51.7" x2="363.4" y2="56.2" stroke="#7e7e7e" stroke-width="1.4830995262616973" />
<line x1="319.1" y1="40.7" x2="330.6" y2="23.3" stroke="#acacac" stroke-width="0.9654031408928792" />
<line x1="325.1" y1="52.2" x2="335.8" y2="52.0" stroke="#505050" stroke-width="1.5919574400293364" />
<line x1="322.8" y1="46.3" x2="334.4" y2="56.0" stroke="#949494" stroke-width="1.130564053552865" />
<line x1="336.5" y1="51.5" x2="342.2" y2="61.4" stroke="#a0a0a0" stroke-width="1.479671089410703" />
<line x1="346.3" y1="55.3" x2="365.1" y2="35.8" stroke="#a0a0a0" stroke-width="0.9001448537308322" />
<line x1="311.8" y1="48.6" x2="303.8" y2="54.5" stroke="#505050" stroke-width="1.0273437658640703" />
<line x1="291.9" y1="58.3" x2="285.9" y2="73.7" stroke="#b8b8b8" stroke-width="1.40678002393709" />
<line x1="335.4" y1="58.5" x2="337.7" y2="78.1" stroke="#acacac" stroke-width="1.4185296309702191" />
<line x1="330.9" y1="57.8" x2="319.3" y2="82.6" stroke="#b8b8b8" stroke-width="1.5157971313956862" />
<line x1="306.4" y1="60.9" x2="281.0" y2="66.0" stroke="#b8b8b8" stroke-width="1.4399943733647014" />
<line x1="316.6" y1="58.9" x2="292.7" y2="70.6" stroke="#acacac" stroke-width="0.9969005519981575" />
<line x1="328.1" y1="39.4" x2="312.2" y2="20.7" stroke="#b8b8b8" stroke-width="1.3443411140598818" />
<line x1="331.8" y1="33.2" x2="322.8" y2="14.1" stroke="#505050" stroke-width="1.6265319862672265" />
<line x1="339.0" y1="70.0" x2="347.2" y2="76.2" stroke="#b8b8b8" stroke-width="1.5490587056488931" />
<line x1="313.5" y1="50.9" x2="330.8" y2="30.5" stroke="#a0a0a0" stroke-width="1.1894392574277333" />
<line x1="315.3" y1="46.6" x2="335.0" y2="40.7" stroke="#505050" stroke-width="1.3270685301009535" />
<line x1="314.6" y1="63.6" x2="301.8" y2="68.0" stroke="#a0a0a0" stroke-width="1.6492491604174733" />
<line x1="319.7" y1="59.3" x2="318.1" y2="69.7" stroke="#b8b8b8" stroke-width="1.325755626118738" />
<line x1="336.2" y1="65.0" x2="324.0" y2="89.5" stroke="#a0a0a0" stroke-width="1.4744120999059416" />
<line x1="325.0" y1="61.0" x2="309.0" y2="79.6" stroke="#505050" stroke-width="1.4760655839689587" />
<line x1="314.0" y1="50.7" x2="300.1" y2="58.0" stroke="#acacac" stroke-width="1.080093294090107" />
<line x1="326.4" y1="61.1" x2="327.1" y2="73.9" stroke="#505050" stroke-width="1.5176731565756318" />
<line x1="315.8" y1="51.9" x2="326.3" y2="58.9" stroke="#b8b8b8" stroke-width="1.3737511773403492" />
<line x1="300.1" y1="61.7" x2="292.3" y2="68.1" stroke="#7e7e7e" stroke-width="1.5973223414768718" />
<line x1="340.7" y1="36.7" x2="366.2" y2="45.2" stroke="#7e7e7e" stroke-width="1.4796748160709834" />
<line x1="330.8" y1="48.9" x2="322.0" y2="26.0" stroke="#949494" stroke-width="1.4444614128857722" />
<line x1="347.1" y1="56.6" x2="361.7" y2="65.8" stroke="#7e7e7e" stroke-width="1.354945689218137" />
<line x1="286.7" y1="43.7" x2="278.1" y2="36.2" stroke="#505050" stroke-width="0.9265381072125111" />
<line x1="332.0" y1="58.9" x2="341.5" y2="80.8" stroke="#505050" stroke-width="1.3467627938382238" />
<line x1="305.8" y1="34.7" x2="308.8" y2="15.2" stroke="#b8b8b8" stroke-width="1.3783709728978408" />
<line x1="326.3" y1="36.2" x2="316.8" y2="19.1" stroke="#a0a0a0" stroke-width="1.5114829592417798" />
<line x1="336.2" y1="67.5" x2="353.7" y2="60.9" stroke="#a0a0a0" stroke-width="1.42744928919885" />
<line x1="346.6" y1="57.8" x2="351.3" y2="72.8" stroke="#949494" stroke-width="1.4587563817686986" />
<line x1="330.1" y1="52.5" x2="328.7" y2="73.9" stroke="#949494" stroke-width="1.5407609669544708" />
<line x1="291.7" y1="39.8" x2="288.3" y2="28.3" stroke="#b8b8b8" stroke-width="1.140952697135241" />
<line x1="313.7" y1="51.6" x2="323.0" y2="71.2" stroke="#505050" stroke-width="1.265590372782134" />
<line x1="300.8" y1="51.5" x2="289.0" y2="50.0" stroke="#b8b8b8" stroke-width="1.46811982573246" />
<line x1="304.0" y1="44.5" x2="304.6" y2="29.5" stroke="#949494" stroke-width="1.6208500657804679" />
<line x1="330.7" y1="67.0" x2="333.9" y2="81.2" stroke="#acacac" stroke-width="1.0238266415763713" />
<line x1="335.8" y1="63.9" x2="359.9" y2="73.1" stroke="#acacac" stroke-width="0.9402520160796642" />
<line x1="320.2" y1="56.8" x2="310.2" y2="45.8" stroke="#acacac" stroke-width="0.948305863656275" />
<line x1="308.2" y1="50.5" x2="313.3" y2="34.5" stroke="#b8b8b8" stroke-width="1.4615935461124625" />
<line x1="327.8" y1="49.5" x2="334.1" y2="65.8" stroke="#7e7e7e" stroke-width="1.2602743783295474" />
<line x1="285.4" y1="53.3" x2="278.9" y2="70.9" stroke="#b8b8b8" stroke-width="1.2992885996571502" />
<line x1="299.0" y1="62.4" x2="282.2" y2="59.4" stroke="#949494" stroke-width="1.374302620310839" />
<line x1="299.5" y1="48.2" x2="287.9" y2="61.4" stroke="#7e7e7e" stroke-width="1.422268159995217" />
<line x1="319.2" y1="50.8" x2="305.3" y2="41.5" stroke="#949494" stroke-width="1.410600057421676" />
<line x1="304.4" y1="49.2" x2="282.8" y2="49.2" stroke="#b8b8b8" stroke-width="1.6216476832277535" />
<line x1="304.0" y1="49.3" x2="293.5" y2="41.7" stroke="#b8b8b8" stroke-width="1.2072276457180862" />
<line x1="295.0" y1="62.1" x2="292.2" y2="80.5" stroke="#949494" stroke-width="1.3486597619505312" />
<line x1="333.4" y1="59.5" x2="346.2" y2="67.5" stroke="#505050" stroke-width="1.012162385700209" />
<line x1="327.8" y1="56.5" x2="333.9" y2="82.1" stroke="#7e7e7e" stroke-width="1.2937620946926038" />
<line x1="299.5" y1="58.3" x2="279.7" y2="38.7" stroke="#acacac" stroke-width="1.0150862851154199" />
<line x1="318.5" y1="50.8" x2="339.5" y2="63.1" stroke="#acacac" stroke-width="1.5664418234730482" />
<line x1="310.1" y1="43.1" x2="316.6" y2="34.1" stroke="#949494" stroke-width="1.2722021189910444" />
<line x1="313.5" y1="51.0" x2="303.2" y2="34.7" stroke="#505050" stroke-width="1.3589541034223847" />
<line x1="295.8" y1="65.6" x2="288.0" y2="76.7" stroke="#7e7e7e" stroke-width="1.335962048983144" />
<line x1="295.2" y1="53.6" x2="287.0" y2="40.0" stroke="#a0a0a0" stroke-width="1.5485943636531325" />
<line x1="339.6" y1="39.5" x2="339.6" y2="19.1" stroke="#b8b8b8" stroke-width="0.9018081253472799" />
<line x1="327.7" y1="56.1" x2="330.6" y2="71.2" stroke="#acacac" stroke-width="1.3377750072253618" />
<line x1="329.7" y1="58.8" x2="317.5" y2="80.8" stroke="#acacac" stroke-width="1.3100603923748122" />
<line x1="316.5" y1="42.9" x2="292.3" y2="37.3" stroke="#7e7e7e" stroke-width="1.5925682981556406" />
<line x1="322.5" y1="66.9" x2="334.0" y2="76.8" stroke="#505050" stroke-width="1.6242597410486608" />
<line x1="303.0" y1="48.8" x2="296.1" y2="75.0" stroke="#b8b8b8" stroke-width="1.5101985129752422" />
<line x1="299.3" y1="33.3" x2="276.5" y2="37.9" stroke="#b8b8b8" stroke-width="1.2862238826389343" />
<line x1="342.9" y1="54.2" x2="367.3" y2="58.1" stroke="#a0a0a0" stroke-width="1.6354727266802955" />
<line x1="315.6" y1="63.6" x2="300.3" y2="85.7" stroke="#acacac" stroke-width="1.6028770724238859" />
<line x1="314.5" y1="38.9" x2="301.4" y2="31.6" stroke="#7e7e7e" stroke-width="0.9311400477799836" />
<line x1="310.0" y1="52.2" x2="288.5" y2="66.8" stroke="#505050" stroke-width="1.571418734804425" />
<line x1="336.8" y1="53.3" x2="358.0" y2="58.9" stroke="#7e7e7e" stroke-width="1.1370270120442831" />
<line x1="305.5" y1="45.1" x2="293.9" y2="26.5" stroke="#b8b8b8" stroke-width="1.337749381960183" />
<line x1="347.5" y1="57.1" x2="354.4" y2="66.8" stroke="#7e7e7e" stroke-width="1.1111594566561886" />
<line x1="312.0" y1="46.9" x2="318.5" y2="26.4" stroke="#949494" stroke-width="1.0791682578811206" />
<line x1="295.1" y1="59.1" x2="281.0" y2="51.1" stroke="#a0a0a0" stroke-width="1.4666674761365401" />
<line x1="333.6" y1="34.2" x2="351.9" y2="31.3" stroke="#505050" stroke-width="1.2394078056111308" />
<line x1="313.1" y1="59.1" x2="301.3" y2="74.0" stroke="#505050" stroke-width="1.2623426960490298" />
<line x1="304.9" y1="58.2" x2="287.7" y2="39.3" stroke="#7e7e7e" stroke-width="1.4954065549842719" />
<line x1="327.4" y1="62.0" x2="343.7" y2="75.5" stroke="#acacac" stroke-width="0.9499107517425317" />
<line x1="317.6" y1="75.9" x2="298.4" y2="84.2" stroke="#acacac" stroke-width="1.2132408862346524" />
<line x1="309.3" y1="71.1" x2="325.3" y2="87.3" stroke="#a0a0a0" stroke-width="1.017724853849672" />
<line x1="330.4" y1="34.0" x2="349.1" y2="33.5" stroke="#acacac" stroke-width="0.9548713416468914" />
<line x1="321.8" y1="76.4" x2="319.5" y2="87.2" stroke="#949494" stroke-width="1.053056647699726" />
<line x1="309.1" y1="65.9" x2="292.7" y2="85.4" stroke="#949494" stroke-width="0.9352924473345091" />
<line x1="307.2" y1="66.2" x2="304.2" y2="84.2" stroke="#505050" stroke-width="0.9992821351197054" />
<line x1="319.5" y1="77.2" x2="332.3" y2="84.2" stroke="#505050" stroke-width="0.9308691771794507" />
<line x1="337.5" y1="59.5" x2="344.8" y2="79.2" stroke="#505050" stroke-width="1.6670269572741847" />
<line x1="343.4" y1="62.4" x2="356.5" y2="56.5" stroke="#505050" stroke-width="1.5078144440113972" />
<line x1="330.0" y1="53.2" x2="346.6" y2="45.0" stroke="#949494" stroke-width="1.5648749735551486" />
<line x1="328.4" y1="45.1" x2="343.7" y2="55.6" stroke="#a0a0a0" stroke-width="1.4697921588254326" />
<line x1="305.7" y1="45.8" x2="316.6" y2="22.6" stroke="#a0a0a0" stroke-width="1.2885203617104968" />
<line x1="313.1" y1="44.0" x2="318.3" y2="32.0" stroke="#949494" stroke-width="1.4727822179609644" />
<line x1="289.4" y1="43.2" x2="272.6" y2="57.1" stroke="#b8b8b8" stroke-width="1.320711550198374" />
<line x1="341.2" y1="49.7" x2="368.2" y2="55.4" stroke="#7e7e7e" stroke-width="1.3167184641018104" />
<line x1="327.7" y1="55.9" x2="301.7" y2="46.8" stroke="#b8b8b8" stroke-width="1.337153982636674" />
<line x1="361.6" y1="63.4" x2="377.7" y2="73.3" stroke="#b0b0b0" stroke-width="1.0" />
<line x1="359.4" y1="61.5" x2="377.2" y2="72.4" stroke="#b0b0b0" stroke-width="1.0" />
<line x1="362.6" y1="22.7" x2="351.3" y2="43.3" stroke="#b0b0b0" stroke-width="1.0" />
<line x1="374.5" y1="50.9" x2="367.3" y2="64.1" stroke="#b0b0b0" stroke-width="1.0" />
<line x1="330.7" y1="67.1" x2="318.3" y2="89.8" stroke="#b0b0b0" stroke-width="1.0" />
<line x1="381.7" y1="12.3" x2="402.2" y2="24.9" stroke="#b0b0b0" stroke-width="1.0" />
<line x1="336.1" y1="51.6" x2="356.2" y2="63.9" stroke="#b0b0b0" stroke-width="1.0" />
<line x1="356.2" y1="20.4" x2="367.7" y2="13.3" stroke="#b0b0b0" stroke-width="1.0" />
<line x1="375.3" y1="60.6" x2="364.0" y2="81.3" stroke="#b0b0b0" stroke-width="1.0" />
<line x1="342.9" y1="70.4" x2="330.9" y2="92.4" stroke="#b0b0b0" stroke-width="1.0" />
<line x1="370.8" y1="59.7" x2="390.8" y2="72.0" stroke="#b0b0b0" stroke-width="1.0" />
<line x1="339.5" y1="46.0" x2="357.7" y2="57.1" stroke="#b0b0b0" stroke-width="1.0" />
<line x1="336.7" y1="55.2" x2="355.4" y2="66.6" stroke="#b0b0b0" stroke-width="1.0" />
<line x1="335.5" y1="24.3" x2="347.0" y2="31.4" stroke="#b0b0b0" stroke-width="1.0" />
<line x1="352.7" y1="23.3" x2="367.4" y2="14.3" stroke="#b0b0b0" stroke-width="1.0" />
<line x1="336.9" y1="26.9" x2="350.4" y2="35.1" stroke="#b0b0b0" stroke-width="1.0" />
<line x1="360.5" y1="58.1" x2="376.3" y2="67.8" stroke="#b0b0b0" stroke-width="1.0" />
<line x1="369.5" y1="60.0" x2="360.9" y2="75.8" stroke="#b0b0b0" stroke-width="1.0" />
<line x1="340.8" y1="10.8" x2="329.6" y2="31.4" stroke="#b0b0b0" stroke-width="1.0" />
<line x1="332.1" y1="34.0" x2="321.6" y2="53.2" stroke="#b0b0b0" stroke-width="1.0" />
<line x1="377.9" y1="37.5" x2="393.2" y2="46.8" stroke="#b0b0b0" stroke-width="1.0" />
<line x1="345.6" y1="16.8" x2="358.4" y2="8.9" stroke="#b0b0b0" stroke-width="1.0" />
<line x1="344.7" y1="50.8" x2="364.9" y2="63.1" stroke="#b0b0b0" stroke-width="1.0" />
<line x1="376.8" y1="22.6" x2="390.8" y2="14.0" stroke="#b0b0b0" stroke-width="1.0" />
<line x1="367.5" y1="56.4" x2="382.1" y2="47.5" stroke="#b0b0b0" stroke-width="1.0" />
<line x1="363.0" y1="37.5" x2="380.7" y2="26.6" stroke="#b0b0b0" stroke-width="1.0" />
<line x1="334.7" y1="36.7" x2="345.8" y2="29.9" stroke="#b0b0b0" stroke-width="1.0" />
<line x1="340.1" y1="18.9" x2="354.4" y2="27.7" stroke="#b0b0b0" stroke-width="1.0" />
<line x1="337.2" y1="34.6" x2="328.0" y2="51.4" stroke="#b0b0b0" stroke-width="1.0" />
<line x1="356.9" y1="62.9" x2="349.1" y2="77.2" stroke="#b0b0b0" stroke-width="1.0" />
<line x1="345.3" y1="45.0" x2="358.2" y2="37.1" stroke="#b0b0b0" stroke-width="1.0" />
<line x1="338.3" y1="13.2" x2="360.0" y2="-0.1" stroke="#b0b0b0" stroke-width="1.0" />
<line x1="365.0" y1="33.3" x2="356.0" y2="49.8" stroke="#b0b0b0" stroke-width="1.0" />
<line x1="359.6" y1="53.2" x2="374.4" y2="62.3" stroke="#b0b0b0" stroke-width="1.0" />
<line x1="380.1" y1="25.2" x2="400.8" y2="37.9" stroke="#b0b0b0" stroke-width="1.0" />
<line x1="356.6" y1="32.4" x2="346.8" y2="50.4" stroke="#b0b0b0" stroke-width="1.0" />
</g>
<g clip-path="url(#cD)">
<rect x="7.0" y="90.8" width="127.5" height="82.7" fill="#979797" />
<path d="M71.7,92 L102,92 L103,138 L80.8,136.5 Z" fill="#828282"/>
<line x1="8.0" y1="106.0" x2="50.0" y2="114.0" stroke="#6e6e6e" stroke-width="3.5" opacity="0.85"/>
<line x1="8.0" y1="104.2" x2="50.0" y2="112.2" stroke="#c8c8c8" stroke-width="0.6" />
<line x1="12.0" y1="116.0" x2="47.0" y2="127.0" stroke="#6e6e6e" stroke-width="3" opacity="0.85"/>
<line x1="12.0" y1="114.5" x2="47.0" y2="125.5" stroke="#c8c8c8" stroke-width="0.6" />
<line x1="8.0" y1="138.0" x2="58.0" y2="149.0" stroke="#6e6e6e" stroke-width="4" opacity="0.85"/>
<line x1="8.0" y1="136.0" x2="58.0" y2="147.0" stroke="#c8c8c8" stroke-width="0.6" />
<line x1="27.0" y1="152.0" x2="108.0" y2="164.0" stroke="#6e6e6e" stroke-width="4" opacity="0.85"/>
<line x1="27.0" y1="150.0" x2="108.0" y2="162.0" stroke="#c8c8c8" stroke-width="0.6" />
<line x1="20.0" y1="97.0" x2="60.0" y2="103.0" stroke="#6e6e6e" stroke-width="3" opacity="0.85"/>
<line x1="20.0" y1="95.5" x2="60.0" y2="101.5" stroke="#c8c8c8" stroke-width="0.6" />
<line x1="99.0" y1="153.0" x2="102.2" y2="155.8" stroke="#bbb" stroke-width="0.9251128227018521" opacity="0.8"/>
<line x1="86.4" y1="148.7" x2="89.0" y2="150.0" stroke="#666" stroke-width="1.1297044066246436" opacity="0.8"/>
<line x1="88.5" y1="131.9" x2="90.0" y2="135.9" stroke="#222" stroke-width="0.9715585338198637" opacity="0.8"/>
<line x1="80.3" y1="114.0" x2="85.9" y2="119.4" stroke="#666" stroke-width="1.3685805085231824" opacity="0.8"/>
<line x1="47.1" y1="95.6" x2="43.7" y2="97.6" stroke="#555" stroke-width="1.1418697038546062" opacity="0.8"/>
<line x1="53.4" y1="94.7" x2="50.9" y2="96.4" stroke="#bbb" stroke-width="1.4675775607001267" opacity="0.8"/>
<line x1="68.4" y1="146.6" x2="60.7" y2="148.8" stroke="#444" stroke-width="1.6605171928009543" opacity="0.8"/>
<line x1="63.1" y1="105.3" x2="63.6" y2="108.9" stroke="#555" stroke-width="0.8844850544792348" opacity="0.8"/>
<line x1="88.6" y1="105.0" x2="90.7" y2="107.0" stroke="#222" stroke-width="1.3613520496902707" opacity="0.8"/>
<line x1="77.6" y1="117.1" x2="81.6" y2="119.8" stroke="#333" stroke-width="1.6426256758212419" opacity="0.8"/>
<line x1="98.9" y1="132.7" x2="94.2" y2="135.3" stroke="#222" stroke-width="1.513946444792206" opacity="0.8"/>
<line x1="61.2" y1="92.3" x2="68.0" y2="92.8" stroke="#555" stroke-width="0.9248920939362784" opacity="0.8"/>
<line x1="69.9" y1="109.2" x2="64.2" y2="111.3" stroke="#333" stroke-width="1.3649173170261641" opacity="0.8"/>
<line x1="66.5" y1="152.8" x2="72.8" y2="153.0" stroke="#444" stroke-width="1.7994152721971566" opacity="0.8"/>
<line x1="59.5" y1="118.6" x2="65.5" y2="122.5" stroke="#666" stroke-width="1.0494380369126506" opacity="0.8"/>
<line x1="86.9" y1="150.5" x2="92.1" y2="151.4" stroke="#444" stroke-width="1.308664857825542" opacity="0.8"/>
<line x1="61.0" y1="158.1" x2="68.2" y2="158.2" stroke="#e0e0e0" stroke-width="1.362570013754794" opacity="0.8"/>
<line x1="41.8" y1="115.8" x2="41.9" y2="120.5" stroke="#444" stroke-width="1.7266629247396508" opacity="0.8"/>
<line x1="86.8" y1="133.3" x2="92.0" y2="134.5" stroke="#222" stroke-width="1.1558256703615601" opacity="0.8"/>
<line x1="91.0" y1="144.9" x2="96.6" y2="145.1" stroke="#555" stroke-width="1.6863750772881052" opacity="0.8"/>
<line x1="55.5" y1="110.5" x2="53.5" y2="113.2" stroke="#555" stroke-width="1.5977589825072287" opacity="0.8"/>
<line x1="59.4" y1="108.9" x2="64.3" y2="109.1" stroke="#333" stroke-width="1.0443909928162638" opacity="0.8"/>
<line x1="85.1" y1="131.2" x2="81.0" y2="137.2" stroke="#e0e0e0" stroke-width="0.8948385727003904" opacity="0.8"/>
<line x1="63.8" y1="118.1" x2="65.6" y2="125.8" stroke="#bbb" stroke-width="1.6210647326810506" opacity="0.8"/>
<line x1="65.8" y1="104.8" x2="67.0" y2="107.7" stroke="#e0e0e0" stroke-width="0.9427471388907253" opacity="0.8"/>
<line x1="74.8" y1="167.1" x2="77.6" y2="169.5" stroke="#444" stroke-width="1.6699202971429037" opacity="0.8"/>
<line x1="53.7" y1="100.3" x2="50.9" y2="102.0" stroke="#bbb" stroke-width="0.8325486273012475" opacity="0.8"/>
<line x1="97.5" y1="164.0" x2="101.6" y2="164.0" stroke="#222" stroke-width="1.2631530581617738" opacity="0.8"/>
<line x1="37.4" y1="103.6" x2="44.0" y2="107.6" stroke="#e0e0e0" stroke-width="1.7892346543366666" opacity="0.8"/>
<line x1="89.5" y1="131.4" x2="88.2" y2="135.0" stroke="#555" stroke-width="1.1710349629932124" opacity="0.8"/>
<line x1="52.3" y1="103.3" x2="55.5" y2="105.1" stroke="#666" stroke-width="0.9175011394221537" opacity="0.8"/>
<line x1="61.2" y1="117.5" x2="61.7" y2="122.4" stroke="#e0e0e0" stroke-width="1.2703223161575468" opacity="0.8"/>
<line x1="55.3" y1="97.0" x2="52.0" y2="103.2" stroke="#333" stroke-width="1.1983326652394475" opacity="0.8"/>
<line x1="58.0" y1="139.8" x2="60.7" y2="141.3" stroke="#e0e0e0" stroke-width="1.6483286519163522" opacity="0.8"/>
<line x1="63.3" y1="148.2" x2="65.8" y2="149.3" stroke="#333" stroke-width="1.2903562743522254" opacity="0.8"/>
<line x1="76.0" y1="135.1" x2="82.8" y2="137.7" stroke="#333" stroke-width="1.0765443855159993" opacity="0.8"/>
<line x1="86.2" y1="124.8" x2="83.4" y2="128.7" stroke="#444" stroke-width="1.5668675199384883" opacity="0.8"/>
<line x1="45.6" y1="111.2" x2="46.9" y2="114.1" stroke="#e0e0e0" stroke-width="1.6002414540105467" opacity="0.8"/>
<line x1="61.0" y1="89.3" x2="65.5" y2="90.6" stroke="#222" stroke-width="0.8395725823788251" opacity="0.8"/>
<line x1="73.8" y1="118.2" x2="79.6" y2="122.4" stroke="#e0e0e0" stroke-width="1.4969502937067185" opacity="0.8"/>
<line x1="85.1" y1="160.7" x2="91.2" y2="165.6" stroke="#555" stroke-width="1.3875905875271242" opacity="0.8"/>
<line x1="75.6" y1="125.1" x2="73.1" y2="132.6" stroke="#e0e0e0" stroke-width="1.759303835296575" opacity="0.8"/>
<line x1="78.4" y1="98.7" x2="84.6" y2="102.6" stroke="#333" stroke-width="0.841086258183041" opacity="0.8"/>
<line x1="54.2" y1="151.3" x2="49.8" y2="154.8" stroke="#666" stroke-width="1.2722641449674277" opacity="0.8"/>
<line x1="82.9" y1="136.7" x2="77.4" y2="138.3" stroke="#444" stroke-width="1.5224003114516227" opacity="0.8"/>
<line x1="91.4" y1="104.4" x2="92.9" y2="107.3" stroke="#bbb" stroke-width="0.897188685667861" opacity="0.8"/>
<line x1="48.7" y1="97.0" x2="50.3" y2="103.4" stroke="#bbb" stroke-width="1.3996726854907835" opacity="0.8"/>
<line x1="72.2" y1="146.5" x2="76.8" y2="149.7" stroke="#555" stroke-width="0.8627010962288058" opacity="0.8"/>
<line x1="58.4" y1="114.2" x2="60.5" y2="117.4" stroke="#444" stroke-width="1.6207201605384682" opacity="0.8"/>
<line x1="70.8" y1="142.0" x2="71.9" y2="144.4" stroke="#222" stroke-width="1.7727950105685977" opacity="0.8"/>
<line x1="86.5" y1="126.3" x2="84.2" y2="127.8" stroke="#333" stroke-width="1.487988499600342" opacity="0.8"/>
<line x1="55.6" y1="113.8" x2="54.8" y2="118.9" stroke="#555" stroke-width="1.3662851467415214" opacity="0.8"/>
<line x1="77.7" y1="112.1" x2="80.6" y2="113.5" stroke="#333" stroke-width="1.576576645044869" opacity="0.8"/>
<line x1="77.6" y1="123.9" x2="76.1" y2="128.2" stroke="#555" stroke-width="1.1445878775080653" opacity="0.8"/>
<line x1="86.9" y1="108.0" x2="79.9" y2="111.0" stroke="#444" stroke-width="1.285449378312089" opacity="0.8"/>
<line x1="65.5" y1="159.1" x2="72.2" y2="159.8" stroke="#666" stroke-width="1.668912937510993" opacity="0.8"/>
<line x1="90.3" y1="157.1" x2="88.3" y2="163.5" stroke="#222" stroke-width="1.7234418760491024" opacity="0.8"/>
<line x1="66.9" y1="103.3" x2="64.7" y2="105.1" stroke="#222" stroke-width="1.16046453717005" opacity="0.8"/>
<line x1="84.2" y1="99.0" x2="76.5" y2="100.0" stroke="#bbb" stroke-width="1.706046344745472" opacity="0.8"/>
<line x1="52.1" y1="129.3" x2="49.7" y2="130.5" stroke="#bbb" stroke-width="1.0659420803569386" opacity="0.8"/>
<line x1="70.7" y1="141.9" x2="72.3" y2="149.3" stroke="#333" stroke-width="1.7829149771050148" opacity="0.8"/>
<line x1="74.0" y1="129.6" x2="73.2" y2="133.4" stroke="#e0e0e0" stroke-width="1.1509462016044931" opacity="0.8"/>
<line x1="94.4" y1="134.4" x2="90.2" y2="135.9" stroke="#555" stroke-width="1.5779605067307585" opacity="0.8"/>
<line x1="57.7" y1="100.0" x2="56.3" y2="105.0" stroke="#bbb" stroke-width="1.3322942742861508" opacity="0.8"/>
<line x1="63.6" y1="112.7" x2="65.7" y2="114.7" stroke="#444" stroke-width="1.2816389502864705" opacity="0.8"/>
<line x1="63.2" y1="111.0" x2="64.7" y2="115.1" stroke="#e0e0e0" stroke-width="1.6303078858611864" opacity="0.8"/>
<line x1="67.7" y1="99.9" x2="71.9" y2="102.0" stroke="#444" stroke-width="1.7669860051394428" opacity="0.8"/>
<line x1="80.1" y1="109.0" x2="79.1" y2="114.1" stroke="#e0e0e0" stroke-width="0.9465216278238805" opacity="0.8"/>
<line x1="81.4" y1="153.6" x2="76.3" y2="155.9" stroke="#555" stroke-width="1.7233548458523553" opacity="0.8"/>
<line x1="73.3" y1="158.2" x2="78.0" y2="163.7" stroke="#bbb" stroke-width="1.5266154837114743" opacity="0.8"/>
<line x1="85.7" y1="148.5" x2="86.7" y2="154.2" stroke="#444" stroke-width="1.3584188090122726" opacity="0.8"/>
<line x1="68.0" y1="99.4" x2="67.6" y2="103.3" stroke="#555" stroke-width="1.394929330176316" opacity="0.8"/>
<line x1="67.3" y1="105.1" x2="61.3" y2="105.6" stroke="#666" stroke-width="1.693708442426629" opacity="0.8"/>
<line x1="66.9" y1="134.3" x2="71.5" y2="137.9" stroke="#555" stroke-width="1.6153214670993972" opacity="0.8"/>
<line x1="98.1" y1="144.6" x2="91.9" y2="146.9" stroke="#555" stroke-width="1.2889991324644077" opacity="0.8"/>
<line x1="61.5" y1="133.4" x2="55.5" y2="136.5" stroke="#444" stroke-width="1.5176466942565523" opacity="0.8"/>
<line x1="62.6" y1="144.7" x2="66.1" y2="149.5" stroke="#bbb" stroke-width="0.942312388730319" opacity="0.8"/>
<line x1="68.1" y1="133.0" x2="68.5" y2="140.1" stroke="#bbb" stroke-width="1.1115818690221277" opacity="0.8"/>
<line x1="50.9" y1="103.9" x2="53.6" y2="109.9" stroke="#444" stroke-width="1.4046225505942784" opacity="0.8"/>
<line x1="78.2" y1="156.9" x2="76.7" y2="160.1" stroke="#bbb" stroke-width="1.7992028678860734" opacity="0.8"/>
<line x1="62.4" y1="112.8" x2="65.3" y2="117.2" stroke="#444" stroke-width="1.7532577459099061" opacity="0.8"/>
<line x1="82.5" y1="131.6" x2="87.9" y2="137.2" stroke="#666" stroke-width="1.471526814942555" opacity="0.8"/>
<line x1="106.9" y1="147.6" x2="104.6" y2="149.3" stroke="#222" stroke-width="1.7140524746199708" opacity="0.8"/>
<line x1="63.5" y1="118.6" x2="65.3" y2="124.1" stroke="#e0e0e0" stroke-width="1.7668107483343274" opacity="0.8"/>
<line x1="89.4" y1="126.3" x2="83.4" y2="129.3" stroke="#555" stroke-width="1.5517613207586394" opacity="0.8"/>
<line x1="45.5" y1="103.9" x2="47.6" y2="108.4" stroke="#444" stroke-width="1.428753741833932" opacity="0.8"/>
<line x1="56.4" y1="130.1" x2="59.0" y2="131.3" stroke="#e0e0e0" stroke-width="1.7152052857570588" opacity="0.8"/>
<line x1="86.4" y1="146.8" x2="87.7" y2="150.1" stroke="#444" stroke-width="1.302778903980209" opacity="0.8"/>
<line x1="52.1" y1="86.3" x2="55.9" y2="90.7" stroke="#555" stroke-width="0.9944026218923933" opacity="0.8"/>
<line x1="106.4" y1="138.2" x2="103.1" y2="143.0" stroke="#222" stroke-width="1.5435425171369364" opacity="0.8"/>
<line x1="52.9" y1="102.9" x2="54.7" y2="109.6" stroke="#444" stroke-width="0.865747881541529" opacity="0.8"/>
<line x1="50.9" y1="101.9" x2="55.7" y2="105.0" stroke="#222" stroke-width="1.0771177537208385" opacity="0.8"/>
<line x1="71.1" y1="113.4" x2="66.4" y2="114.5" stroke="#bbb" stroke-width="1.7640637446924061" opacity="0.8"/>
<line x1="77.3" y1="143.0" x2="81.7" y2="144.7" stroke="#444" stroke-width="1.0763288454626496" opacity="0.8"/>
<line x1="94.1" y1="120.7" x2="97.6" y2="126.0" stroke="#bbb" stroke-width="1.1562755652966623" opacity="0.8"/>
<line x1="72.4" y1="104.9" x2="68.6" y2="108.8" stroke="#e0e0e0" stroke-width="1.1598718395833667" opacity="0.8"/>
<line x1="80.6" y1="160.7" x2="75.4" y2="165.2" stroke="#222" stroke-width="0.9007880700842665" opacity="0.8"/>
<line x1="79.5" y1="112.3" x2="82.4" y2="118.5" stroke="#333" stroke-width="0.9945663101550978" opacity="0.8"/>
<line x1="84.0" y1="154.1" x2="81.2" y2="157.3" stroke="#666" stroke-width="1.3588571295311567" opacity="0.8"/>
<line x1="84.6" y1="145.9" x2="81.6" y2="148.9" stroke="#bbb" stroke-width="1.7331161149120828" opacity="0.8"/>
<line x1="90.4" y1="85.5" x2="93.3" y2="89.2" stroke="#222" stroke-width="1.3797604395826908" opacity="0.8"/>
<line x1="82.2" y1="142.1" x2="82.9" y2="146.1" stroke="#222" stroke-width="1.260057331451501" opacity="0.8"/>
<line x1="84.8" y1="164.6" x2="79.7" y2="169.3" stroke="#bbb" stroke-width="1.4937981490921473" opacity="0.8"/>
<line x1="65.7" y1="108.9" x2="64.8" y2="111.5" stroke="#555" stroke-width="1.470066631206164" opacity="0.8"/>
<line x1="65.9" y1="132.3" x2="67.1" y2="138.3" stroke="#222" stroke-width="1.334767218395462" opacity="0.8"/>
<line x1="83.7" y1="123.7" x2="78.7" y2="129.6" stroke="#555" stroke-width="1.1194987121857611" opacity="0.8"/>
<line x1="82.9" y1="134.2" x2="78.5" y2="138.4" stroke="#666" stroke-width="1.3494910080508788" opacity="0.8"/>
<line x1="74.8" y1="124.4" x2="70.7" y2="130.7" stroke="#222" stroke-width="1.356365300904199" opacity="0.8"/>
<line x1="47.7" y1="93.4" x2="53.8" y2="96.7" stroke="#333" stroke-width="1.143225589900375" opacity="0.8"/>
<line x1="51.1" y1="139.1" x2="44.9" y2="140.2" stroke="#e0e0e0" stroke-width="1.396113808552978" opacity="0.8"/>
<line x1="66.1" y1="122.7" x2="65.5" y2="125.4" stroke="#333" stroke-width="0.970161716528506" opacity="0.8"/>
<line x1="40.9" y1="100.2" x2="39.2" y2="103.9" stroke="#333" stroke-width="1.339377257364963" opacity="0.8"/>
<line x1="75.1" y1="111.5" x2="75.7" y2="118.9" stroke="#bbb" stroke-width="1.5353614981258152" opacity="0.8"/>
<line x1="77.6" y1="128.4" x2="81.7" y2="130.9" stroke="#222" stroke-width="1.016115529546512" opacity="0.8"/>
<line x1="80.7" y1="136.3" x2="78.1" y2="138.2" stroke="#bbb" stroke-width="0.8757685608559741" opacity="0.8"/>
<line x1="77.4" y1="120.0" x2="82.8" y2="120.9" stroke="#e0e0e0" stroke-width="0.9910698859938395" opacity="0.8"/>
<line x1="86.8" y1="132.6" x2="94.0" y2="134.0" stroke="#e0e0e0" stroke-width="1.124665567771845" opacity="0.8"/>
<line x1="62.4" y1="109.2" x2="62.6" y2="114.7" stroke="#bbb" stroke-width="1.1287382032938518" opacity="0.8"/>
<line x1="75.2" y1="148.6" x2="75.6" y2="152.5" stroke="#333" stroke-width="1.1596886234810628" opacity="0.8"/>
<line x1="75.6" y1="108.6" x2="72.0" y2="110.2" stroke="#444" stroke-width="0.909846550615031" opacity="0.8"/>
<line x1="70.3" y1="107.9" x2="75.8" y2="112.3" stroke="#555" stroke-width="1.0234021366312769" opacity="0.8"/>
<line x1="68.0" y1="97.0" x2="63.9" y2="97.8" stroke="#e0e0e0" stroke-width="0.9161029554002661" opacity="0.8"/>
<line x1="91.4" y1="137.6" x2="91.2" y2="141.1" stroke="#555" stroke-width="1.116992558339341" opacity="0.8"/>
<line x1="59.6" y1="120.3" x2="60.7" y2="122.6" stroke="#444" stroke-width="1.0317348419563168" opacity="0.8"/>
<line x1="58.2" y1="116.4" x2="63.8" y2="121.8" stroke="#666" stroke-width="1.5312966910325283" opacity="0.8"/>
<line x1="67.7" y1="87.7" x2="60.1" y2="89.2" stroke="#666" stroke-width="1.2433303731645875" opacity="0.8"/>
<line x1="50.4" y1="95.9" x2="56.2" y2="101.4" stroke="#333" stroke-width="1.7799953567319702" opacity="0.8"/>
<line x1="81.5" y1="117.6" x2="78.2" y2="119.9" stroke="#bbb" stroke-width="1.3093752590424383" opacity="0.8"/>
<line x1="84.1" y1="118.7" x2="85.1" y2="124.5" stroke="#bbb" stroke-width="1.6199430660496232" opacity="0.8"/>
<line x1="56.5" y1="92.0" x2="55.5" y2="94.8" stroke="#333" stroke-width="1.449063278028158" opacity="0.8"/>
<line x1="89.3" y1="94.6" x2="82.7" y2="95.3" stroke="#444" stroke-width="1.2516741320675924" opacity="0.8"/>
<line x1="69.9" y1="130.8" x2="71.3" y2="133.6" stroke="#333" stroke-width="1.1278404068209147" opacity="0.8"/>
<line x1="85.7" y1="129.2" x2="81.8" y2="130.3" stroke="#bbb" stroke-width="1.260153119778559" opacity="0.8"/>
<line x1="80.9" y1="156.3" x2="76.9" y2="162.7" stroke="#bbb" stroke-width="1.487328380316329" opacity="0.8"/>
<line x1="65.5" y1="111.7" x2="62.3" y2="117.7" stroke="#222" stroke-width="1.045373170575445" opacity="0.8"/>
<line x1="55.8" y1="122.4" x2="60.2" y2="123.6" stroke="#333" stroke-width="1.0178233981703526" opacity="0.8"/>
<line x1="79.1" y1="134.2" x2="74.4" y2="137.6" stroke="#444" stroke-width="1.1468040008885705" opacity="0.8"/>
<line x1="87.8" y1="148.2" x2="91.2" y2="150.4" stroke="#e0e0e0" stroke-width="1.7834725816895154" opacity="0.8"/>
<line x1="77.8" y1="149.7" x2="75.7" y2="156.4" stroke="#666" stroke-width="1.4790252449204382" opacity="0.8"/>
<line x1="73.1" y1="139.0" x2="77.8" y2="144.7" stroke="#444" stroke-width="1.0469902825241773" opacity="0.8"/>
<line x1="81.7" y1="123.7" x2="88.3" y2="124.5" stroke="#222" stroke-width="1.5483949707090474" opacity="0.8"/>
<line x1="58.3" y1="93.5" x2="56.4" y2="98.2" stroke="#e0e0e0" stroke-width="0.9336660676322335" opacity="0.8"/>
<line x1="53.8" y1="155.6" x2="49.7" y2="162.3" stroke="#444" stroke-width="1.536914614215054" opacity="0.8"/>
<line x1="62.5" y1="96.5" x2="62.8" y2="103.4" stroke="#222" stroke-width="1.4409615513533267" opacity="0.8"/>
<line x1="86.5" y1="146.5" x2="86.1" y2="149.4" stroke="#444" stroke-width="1.1246901491517705" opacity="0.8"/>
<line x1="67.0" y1="99.9" x2="67.4" y2="107.4" stroke="#222" stroke-width="1.1043997306620532" opacity="0.8"/>
<line x1="58.6" y1="147.9" x2="57.5" y2="150.7" stroke="#666" stroke-width="1.170784445491818" opacity="0.8"/>
<line x1="75.6" y1="110.0" x2="77.6" y2="115.1" stroke="#bbb" stroke-width="1.5928076890006417" opacity="0.8"/>
<line x1="67.2" y1="143.9" x2="67.1" y2="147.1" stroke="#222" stroke-width="1.181490557097808" opacity="0.8"/>
<line x1="88.8" y1="164.3" x2="86.3" y2="166.1" stroke="#222" stroke-width="1.3472686410824037" opacity="0.8"/>
<line x1="61.8" y1="107.0" x2="63.7" y2="111.4" stroke="#e0e0e0" stroke-width="1.128459918119192" opacity="0.8"/>
<line x1="78.4" y1="130.9" x2="79.0" y2="133.8" stroke="#bbb" stroke-width="1.4128177599316682" opacity="0.8"/>
<line x1="71.4" y1="146.6" x2="76.9" y2="147.7" stroke="#e0e0e0" stroke-width="1.7408128726414023" opacity="0.8"/>
<line x1="80.3" y1="146.2" x2="84.0" y2="146.3" stroke="#333" stroke-width="1.4453793300749442" opacity="0.8"/>
<line x1="50.3" y1="106.4" x2="46.6" y2="107.5" stroke="#bbb" stroke-width="0.8650225101198398" opacity="0.8"/>
<line x1="86.7" y1="159.0" x2="84.8" y2="163.9" stroke="#666" stroke-width="1.5657373636037528" opacity="0.8"/>
<line x1="54.2" y1="120.6" x2="58.2" y2="121.4" stroke="#555" stroke-width="1.317412427677882" opacity="0.8"/>
<line x1="78.6" y1="121.3" x2="83.0" y2="123.1" stroke="#e0e0e0" stroke-width="1.0996013581226198" opacity="0.8"/>
<line x1="56.5" y1="88.2" x2="63.8" y2="90.9" stroke="#e0e0e0" stroke-width="0.9121695655716822" opacity="0.8"/>
<line x1="74.5" y1="158.7" x2="78.9" y2="165.3" stroke="#555" stroke-width="1.6285119813624864" opacity="0.8"/>
<line x1="71.3" y1="95.2" x2="68.6" y2="98.0" stroke="#666" stroke-width="1.3680500499594" opacity="0.8"/>
<line x1="85.0" y1="119.3" x2="91.9" y2="122.8" stroke="#222" stroke-width="1.0138984355931928" opacity="0.8"/>
<line x1="48.5" y1="87.4" x2="44.6" y2="90.4" stroke="#222" stroke-width="1.139973151359869" opacity="0.8"/>
<line x1="30.4" y1="130.1" x2="37.5" y2="132.5" stroke="#666" stroke-width="1.359300701378734" opacity="0.8"/>
<line x1="72.8" y1="158.5" x2="74.9" y2="162.8" stroke="#222" stroke-width="1.0880625047115127" opacity="0.8"/>
<line x1="83.6" y1="138.2" x2="86.5" y2="142.9" stroke="#222" stroke-width="1.671398578094637" opacity="0.8"/>
<line x1="92.9" y1="154.1" x2="93.3" y2="158.5" stroke="#555" stroke-width="1.2741963340500986" opacity="0.8"/>
<line x1="82.9" y1="135.6" x2="78.6" y2="138.6" stroke="#555" stroke-width="1.6984133340283476" opacity="0.8"/>
<line x1="66.3" y1="114.7" x2="58.5" y2="115.5" stroke="#e0e0e0" stroke-width="1.1013095289132495" opacity="0.8"/>
<line x1="87.0" y1="150.7" x2="89.9" y2="154.1" stroke="#e0e0e0" stroke-width="1.343894926361871" opacity="0.8"/>
</g>
<g clip-path="url(#cE)">
<rect x="134.5" y="90.8" width="126.5" height="82.7" fill="#a6a6a6" />
<path d="M134.5,126 L180,113 L225,100 L262,89 L262,108 L225,120 L180,133 L134.5,148 Z" fill="#6a6a6a" filter="url(#blur05)"/>
<ellipse cx="246.0" cy="101.7" rx="6.2" ry="3.9" fill="#8a8a8a" opacity="0.7" filter="url(#blur1)"/>
<ellipse cx="201.1" cy="118.2" rx="4.2" ry="3.7" fill="#4a4a4a" opacity="0.7" filter="url(#blur1)"/>
<ellipse cx="229.9" cy="103.4" rx="5.6" ry="2.7" fill="#4a4a4a" opacity="0.7" filter="url(#blur1)"/>
<ellipse cx="242.0" cy="106.9" rx="6.3" ry="3.0" fill="#4a4a4a" opacity="0.7" filter="url(#blur1)"/>
<ellipse cx="224.3" cy="105.6" rx="4.2" ry="3.8" fill="#9a9a9a" opacity="0.7" filter="url(#blur1)"/>
<ellipse cx="251.0" cy="96.0" rx="4.3" ry="3.6" fill="#555" opacity="0.7" filter="url(#blur1)"/>
<ellipse cx="180.0" cy="126.6" rx="5.7" ry="2.4" fill="#606060" opacity="0.7" filter="url(#blur1)"/>
<ellipse cx="256.0" cy="106.8" rx="5.3" ry="3.3" fill="#606060" opacity="0.7" filter="url(#blur1)"/>
<ellipse cx="239.4" cy="106.2" rx="5.4" ry="3.9" fill="#9a9a9a" opacity="0.7" filter="url(#blur1)"/>
<ellipse cx="223.2" cy="105.0" rx="4.7" ry="2.6" fill="#8a8a8a" opacity="0.7" filter="url(#blur1)"/>
<ellipse cx="206.3" cy="121.9" rx="5.2" ry="3.7" fill="#606060" opacity="0.7" filter="url(#blur1)"/>
<ellipse cx="244.7" cy="111.4" rx="5.3" ry="2.0" fill="#4a4a4a" opacity="0.7" filter="url(#blur1)"/>
<ellipse cx="160.4" cy="130.6" rx="3.7" ry="3.5" fill="#606060" opacity="0.7" filter="url(#blur1)"/>
<ellipse cx="191.8" cy="121.1" rx="6.4" ry="3.3" fill="#555" opacity="0.7" filter="url(#blur1)"/>
<ellipse cx="222.9" cy="104.4" rx="5.3" ry="2.6" fill="#4a4a4a" opacity="0.7" filter="url(#blur1)"/>
<ellipse cx="217.2" cy="110.4" rx="4.2" ry="3.7" fill="#555" opacity="0.7" filter="url(#blur1)"/>
<ellipse cx="251.2" cy="102.4" rx="3.7" ry="3.7" fill="#8a8a8a" opacity="0.7" filter="url(#blur1)"/>
<ellipse cx="145.6" cy="137.2" rx="4.1" ry="2.4" fill="#555" opacity="0.7" filter="url(#blur1)"/>
<ellipse cx="244.0" cy="99.9" rx="7.0" ry="3.0" fill="#9a9a9a" opacity="0.7" filter="url(#blur1)"/>
<ellipse cx="239.8" cy="102.5" rx="3.5" ry="3.7" fill="#9a9a9a" opacity="0.7" filter="url(#blur1)"/>
<ellipse cx="202.4" cy="116.3" rx="3.0" ry="2.3" fill="#4a4a4a" opacity="0.7" filter="url(#blur1)"/>
<ellipse cx="231.1" cy="109.5" rx="3.2" ry="3.5" fill="#8a8a8a" opacity="0.7" filter="url(#blur1)"/>
<ellipse cx="229.8" cy="111.2" rx="4.4" ry="2.7" fill="#4a4a4a" opacity="0.7" filter="url(#blur1)"/>
<ellipse cx="176.1" cy="122.7" rx="5.6" ry="2.2" fill="#4a4a4a" opacity="0.7" filter="url(#blur1)"/>
<ellipse cx="168.0" cy="120.5" rx="4.1" ry="3.6" fill="#4a4a4a" opacity="0.7" filter="url(#blur1)"/>
<ellipse cx="251.0" cy="95.6" rx="5.7" ry="3.1" fill="#8a8a8a" opacity="0.7" filter="url(#blur1)"/>
<path d="M134.5,126 L262,89" stroke="#8e8e8e" stroke-width="1.5" fill="none"/>
<path d="M134.5,148.5 L262,108.5" stroke="#dedede" stroke-width="1.8" fill="none"/>
<rect x="209.0" y="125.6" width="52.0" height="48.0" fill="#0a0a0a" />
<circle cx="227" cy="132.5" r="0.9" fill="#e0e0e0"/>
<circle cx="236.5" cy="133.8" r="0.9" fill="#e0e0e0"/>
<circle cx="245.5" cy="132.5" r="0.9" fill="#e0e0e0"/>
<circle cx="216" cy="139" r="0.9" fill="#e0e0e0"/>
<circle cx="253" cy="138" r="0.9" fill="#e0e0e0"/>
<circle cx="224" cy="143" r="0.9" fill="#e0e0e0"/>
<circle cx="245" cy="144.5" r="0.9" fill="#e0e0e0"/>
<circle cx="214" cy="150" r="0.9" fill="#e0e0e0"/>
<circle cx="224" cy="151" r="0.9" fill="#e0e0e0"/>
<circle cx="251" cy="152" r="0.9" fill="#e0e0e0"/>
<circle cx="213" cy="158" r="0.9" fill="#e0e0e0"/>
<circle cx="222" cy="160" r="0.9" fill="#e0e0e0"/>
<circle cx="234" cy="161" r="0.9" fill="#e0e0e0"/>
<circle cx="243" cy="159" r="0.9" fill="#e0e0e0"/>
<circle cx="252" cy="161" r="0.9" fill="#e0e0e0"/>
<circle cx="221" cy="167" r="0.9" fill="#e0e0e0"/>
<circle cx="232" cy="168" r="0.9" fill="#e0e0e0"/>
<circle cx="244" cy="167" r="0.9" fill="#e0e0e0"/>
<circle cx="224" cy="151" r="1.6" fill="#fff" filter="url(#blur05)"/>
<ellipse cx="233" cy="151" rx="5" ry="2.6" fill="#d82020" transform="rotate(-10 233 151)"/>
<ellipse cx="234.5" cy="152.5" rx="3.5" ry="1.3" fill="#fff" opacity="0.9" transform="rotate(-10 234.5 152.5)"/>
<path d="M231,147.5 C236,145 240,146 242,147" stroke="#eee" stroke-width="0.8" fill="none"/>
<text x="229.0" y="139.9" font-size="4.4" font-weight="bold" text-anchor="start" fill="#d8c840" >(00[1])(211)</text>
<text x="239.0" y="153.3" font-size="4.4" font-weight="bold" text-anchor="start" fill="#d8c840" >(310)</text>
<text x="226.0" y="162.0" font-size="4.4" font-weight="bold" text-anchor="start" fill="#d8c840" >(001)(311)</text>
<text x="211.0" y="169.0" font-size="3.8" font-weight="bold" text-anchor="start" fill="#d8c840" >5 1/nm</text>
<rect x="211.0" y="170.3" width="12.0" height="1.0" fill="#d8c840" />
</g>
<g clip-path="url(#cF)">
<rect x="261.0" y="90.8" width="125.8" height="82.7" fill="#262626" />
<rect x="261.0" y="90.8" width="125.8" height="82.7" fill="url(#lat)" filter="url(#blur05)"/>
</g>
<g clip-path="url(#cG)">
<rect x="7.0" y="173.5" width="95.5" height="72.3" fill="#080808" />
<path d="M35,181 L92,248" stroke="#b4b4b4" stroke-width="5.8" fill="none" filter="url(#blur05)"/>
<path d="M78.5,197.5 L104,230" stroke="#a8a8a8" stroke-width="4.5" fill="none" filter="url(#blur05)"/>
<path d="M80,205 L103,203.8" stroke="#d0d0d0" stroke-width="3" fill="none" filter="url(#blur05)"/>
</g>
<g clip-path="url(#cH)">
<path d="M122.4,179.3 L182,247" stroke="#a030a0" stroke-width="6" fill="none" opacity="0.7" filter="url(#blur05)"/>
<path d="M164.3,194.5 L202,240" stroke="#a030a0" stroke-width="5" fill="none" opacity="0.59" filter="url(#blur05)"/>
<path d="M179.5,202.6 L196,201.5" stroke="#a030a0" stroke-width="3" fill="none" opacity="0.42" filter="url(#blur05)"/>
</g>
<g clip-path="url(#cI)">
<path d="M216.9,179.3 L276.5,247" stroke="#6a6026" stroke-width="6" fill="none" opacity="0.75" filter="url(#blur05)"/>
<path d="M258.8,194.5 L296.5,240" stroke="#6a6026" stroke-width="5" fill="none" opacity="0.64" filter="url(#blur05)"/>
<path d="M274.0,202.6 L290.5,201.5" stroke="#6a6026" stroke-width="3" fill="none" opacity="0.45" filter="url(#blur05)"/>
</g>
<g clip-path="url(#cJ)">
<path d="M311.9,179.3 L371.5,247" stroke="#245c30" stroke-width="6" fill="none" opacity="0.75" filter="url(#blur05)"/>
<path d="M353.8,194.5 L391.5,240" stroke="#245c30" stroke-width="5" fill="none" opacity="0.64" filter="url(#blur05)"/>
<path d="M369.0,202.6 L385.5,201.5" stroke="#245c30" stroke-width="3" fill="none" opacity="0.45" filter="url(#blur05)"/>
</g>
<text x="8.5" y="17.0" font-size="13" font-weight="bold" text-anchor="start" fill="#f0e020" >a</text>
<text x="136.0" y="17.0" font-size="13" font-weight="bold" text-anchor="start" fill="#f0e020" >b</text>
<text x="263.0" y="17.0" font-size="13" font-weight="bold" text-anchor="start" fill="#f0e020" >c</text>
<text x="8.5" y="102.0" font-size="13" font-weight="bold" text-anchor="start" fill="#f0e020" >d</text>
<text x="136.0" y="102.0" font-size="13" font-weight="bold" text-anchor="start" fill="#f0e020" >e</text>
<text x="263.0" y="102.0" font-size="13" font-weight="bold" text-anchor="start" fill="#f0e020" >f</text>
<text x="8.5" y="186.0" font-size="13" font-weight="bold" text-anchor="start" fill="#f0e020" >g</text>
<text x="104.0" y="186.0" font-size="13" font-weight="bold" text-anchor="start" fill="#f0e020" >h</text>
<text x="198.0" y="186.0" font-size="13" font-weight="bold" text-anchor="start" fill="#f0e020" >i</text>
<text x="293.0" y="186.0" font-size="13" font-weight="bold" text-anchor="start" fill="#f0e020" >j</text>
<text x="8.5" y="82.8" font-size="8.3" font-weight="bold" text-anchor="start" fill="#f0e020" >10 µm</text>
<rect x="8.5" y="85.7" width="30.0" height="1.8" fill="#f0e020" />
<text x="136.0" y="82.8" font-size="8.3" font-weight="bold" text-anchor="start" fill="#f0e020" >5 µm</text>
<rect x="136.0" y="85.7" width="28.0" height="1.8" fill="#f0e020" />
<text x="263.0" y="82.8" font-size="8.3" font-weight="bold" text-anchor="start" fill="#f0e020" >1 µm</text>
<rect x="263.0" y="85.7" width="22.0" height="1.8" fill="#f0e020" />
<text x="8.5" y="166.8" font-size="8.3" font-weight="bold" text-anchor="start" fill="#f0e020" >200 nm</text>
<rect x="8.5" y="169.7" width="23.0" height="1.8" fill="#f0e020" />
<text x="136.0" y="166.8" font-size="8.3" font-weight="bold" text-anchor="start" fill="#f0e020" >100 nm</text>
<rect x="136.0" y="169.7" width="22.0" height="1.8" fill="#f0e020" />
<text x="263.0" y="166.8" font-size="8.3" font-weight="bold" text-anchor="start" fill="#f0e020" >2 nm</text>
<rect x="263.0" y="169.7" width="29.0" height="1.8" fill="#f0e020" />
<text x="8.5" y="239.8" font-size="8.3" font-weight="bold" text-anchor="start" fill="#f0e020" >200 nm</text>
<rect x="8.5" y="242.7" width="23.0" height="1.8" fill="#f0e020" />
<text x="104.0" y="239.8" font-size="8.3" font-weight="bold" text-anchor="start" fill="#f0e020" >200 nm</text>
<rect x="104.0" y="242.7" width="23.0" height="1.8" fill="#f0e020" />
<text x="198.0" y="239.8" font-size="8.3" font-weight="bold" text-anchor="start" fill="#f0e020" >200 nm</text>
<rect x="198.0" y="242.7" width="23.0" height="1.8" fill="#f0e020" />
<text x="293.0" y="239.8" font-size="8.3" font-weight="bold" text-anchor="start" fill="#f0e020" >200 nm</text>
<rect x="293.0" y="242.7" width="23.0" height="1.8" fill="#f0e020" />
<text x="127.5" y="223.5" font-size="12.5" font-weight="normal" text-anchor="start" fill="#c456c4" stroke="#c456c4" stroke-width="0.5">Co</text>
<text x="225.8" y="223.7" font-size="13" font-weight="bold" text-anchor="start" fill="#e8d848" >F</text>
<text x="318.8" y="223.7" font-size="13" font-weight="bold" text-anchor="start" fill="#38b060" >O</text>
<path d="M361.3,29.8 L370.3,22.8 L370.3,37.2 M349.8,51.2 L362.5,59.4 L362.5,45.4" stroke="#f0e020" stroke-width="1.7" fill="none" stroke-linejoin="miter"/>
<path d="M355,37 L367,28.8 M355.3,45.6 L358.8,52.5" stroke="#f0e020" stroke-width="1.1" fill="none"/>
<path d="M368.2,27 L367.6,30.6 L365.2,28.2 Z M357.5,53.2 L360,53.4 L358.8,50.5 Z" fill="#f0e020" stroke="#f0e020" stroke-width="0.8"/>
<text x="349.0" y="42.6" font-size="5.2" font-weight="bold" text-anchor="start" fill="#f0e020" >60°</text>
<path d="M75.5,106.6 L89.5,108.4 M87.6,100.5 L96,135.2 L81,131.8" stroke="#f0e020" stroke-width="1.7" fill="none"/>
<path d="M84.5,125 L90,129.8" stroke="#f0e020" stroke-width="1.1" fill="none"/><path d="M91.6,131 L88,130.6 L90.4,128 Z" fill="#f0e020"/>
<text x="76.0" y="123.5" font-size="6" font-weight="bold" text-anchor="start" fill="#f0e020" >60°</text>
<path d="M302.2,130.5 L298.2,157.2 M305.2,130.5 L301.2,157.2 M298.2,157.2 L332,141.5 M299.5,160 L333.3,144.3" stroke="#f0e020" stroke-width="0.9" fill="none"/>
<circle cx="304.5" cy="128" r="1" fill="#f0e020"/><circle cx="327" cy="144" r="1" fill="#f0e020"/>
<text x="297.5" y="110.0" font-size="6" font-weight="bold" text-anchor="start" fill="#f0e020" >D 258 nm</text>
<text x="303.0" y="118.2" font-size="6" font-weight="bold" text-anchor="start" fill="#f0e020" >(400)</text>
<text x="330.5" y="136.7" font-size="6" font-weight="bold" text-anchor="start" fill="#f0e020" >D 268 nm</text>
<text x="336.8" y="145.4" font-size="6" font-weight="bold" text-anchor="start" fill="#f0e020" >(201)</text>
<text x="305.3" y="146.0" font-size="4" font-weight="bold" text-anchor="start" fill="#f0e020" >50°</text>
<rect x="419.0" y="15.0" width="114.0" height="102.5" fill="none" stroke="#858585" stroke-width="1.2"/>
<line x1="430.4" y1="117.5" x2="430.4" y2="119.1" stroke="#858585" stroke-width="0.8" />
<line x1="453.2" y1="117.5" x2="453.2" y2="119.1" stroke="#858585" stroke-width="0.8" />
<line x1="476.0" y1="117.5" x2="476.0" y2="119.1" stroke="#858585" stroke-width="0.8" />
<line x1="498.8" y1="117.5" x2="498.8" y2="119.1" stroke="#858585" stroke-width="0.8" />
<line x1="521.6" y1="117.5" x2="521.6" y2="119.1" stroke="#858585" stroke-width="0.8" />
<line x1="419.0" y1="117.5" x2="419.0" y2="119.5" stroke="#858585" stroke-width="1.2" />
<text x="419.0" y="129.8" font-size="7.8" font-weight="bold" text-anchor="middle" fill="#222" stroke="#222" stroke-width="0.25">0.8</text>
<line x1="441.8" y1="117.5" x2="441.8" y2="119.5" stroke="#858585" stroke-width="1.2" />
<text x="441.8" y="129.8" font-size="7.8" font-weight="bold" text-anchor="middle" fill="#222" stroke="#222" stroke-width="0.25">1.0</text>
<line x1="464.6" y1="117.5" x2="464.6" y2="119.5" stroke="#858585" stroke-width="1.2" />
<text x="464.6" y="129.8" font-size="7.8" font-weight="bold" text-anchor="middle" fill="#222" stroke="#222" stroke-width="0.25">1.2</text>
<line x1="487.4" y1="117.5" x2="487.4" y2="119.5" stroke="#858585" stroke-width="1.2" />
<text x="487.4" y="129.8" font-size="7.8" font-weight="bold" text-anchor="middle" fill="#222" stroke="#222" stroke-width="0.25">1.4</text>
<line x1="510.2" y1="117.5" x2="510.2" y2="119.5" stroke="#858585" stroke-width="1.2" />
<text x="510.2" y="129.8" font-size="7.8" font-weight="bold" text-anchor="middle" fill="#222" stroke="#222" stroke-width="0.25">1.6</text>
<line x1="533.0" y1="117.5" x2="533.0" y2="119.5" stroke="#858585" stroke-width="1.2" />
<text x="533.0" y="129.8" font-size="7.8" font-weight="bold" text-anchor="middle" fill="#222" stroke="#222" stroke-width="0.25">1.8</text>
<line x1="419.0" y1="117.5" x2="417.0" y2="117.5" stroke="#858585" stroke-width="1.2" />
<text x="409.8" y="120.3" font-size="7.8" font-weight="bold" text-anchor="end" fill="#222" stroke="#222" stroke-width="0.25">-6</text>
<line x1="419.0" y1="102.9" x2="417.0" y2="102.9" stroke="#858585" stroke-width="1.2" />
<text x="409.8" y="105.7" font-size="7.8" font-weight="bold" text-anchor="end" fill="#222" stroke="#222" stroke-width="0.25">-3</text>
<line x1="419.0" y1="88.2" x2="417.0" y2="88.2" stroke="#858585" stroke-width="1.2" />
<text x="409.8" y="91.0" font-size="7.8" font-weight="bold" text-anchor="end" fill="#222" stroke="#222" stroke-width="0.25">0</text>
<line x1="419.0" y1="73.6" x2="417.0" y2="73.6" stroke="#858585" stroke-width="1.2" />
<text x="409.8" y="76.4" font-size="7.8" font-weight="bold" text-anchor="end" fill="#222" stroke="#222" stroke-width="0.25">3</text>
<line x1="419.0" y1="58.9" x2="417.0" y2="58.9" stroke="#858585" stroke-width="1.2" />
<text x="409.8" y="61.7" font-size="7.8" font-weight="bold" text-anchor="end" fill="#222" stroke="#222" stroke-width="0.25">6</text>
<line x1="419.0" y1="44.3" x2="417.0" y2="44.3" stroke="#858585" stroke-width="1.2" />
<text x="409.8" y="47.1" font-size="7.8" font-weight="bold" text-anchor="end" fill="#222" stroke="#222" stroke-width="0.25">9</text>
<line x1="419.0" y1="29.6" x2="417.0" y2="29.6" stroke="#858585" stroke-width="1.2" />
<text x="409.8" y="32.5" font-size="7.8" font-weight="bold" text-anchor="end" fill="#222" stroke="#222" stroke-width="0.25">12</text>
<line x1="419.0" y1="15.0" x2="417.0" y2="15.0" stroke="#858585" stroke-width="1.2" />
<text x="409.8" y="17.8" font-size="7.8" font-weight="bold" text-anchor="end" fill="#222" stroke="#222" stroke-width="0.25">15</text>
<g clip-path="url(#ca)">
<path d="M430.4 88.4 441.8 88.1 454.3 87.1 474.9 86.6 486.8 85.9 502.8 84 506.2 83.4 509.1 82.4 511.9 80.8 514.2 78.7 516.5 75.5 518.2 72 519.9 67.1 521 62.9 522.7 54.5 523.9 47.2 523.9 62.2 522.7 67.7 521 74 519.3 78.5 517.6 81.8 515.9 84.2 514.2 85.9 512.5 87.2 510.2 88.4 507.4 89.4 504.5 90.1 496.5 90.9" fill="none" stroke="#b0c8e8" stroke-width="1.1" stroke-linejoin="round" stroke-linecap="round" />
<path d="M496.5 87.9 495.9 88.8 494.8 89.7 493.7 90 491.4 90.2 455.5 89.4 430.4 88.1" fill="none" stroke="#b0c8e8" stroke-width="1.1" stroke-linejoin="round" stroke-linecap="round" />
<path d="M430.4 88.6 441.8 87.9 454.3 86 474.3 85.1 484 84.1 489.1 83.3 503.9 80.4 507.4 79.5 509.6 78.6 512.5 76.6 514.8 74.2 516.5 71.6 518.2 68 519.9 63.1 521 58.8 522.7 50.4 523.9 43.1 523.9 63.6 522.7 69.1 521 75.5 519.9 78.7 518.2 82.4 516.5 85.1 514.8 87.1 512.5 89.1 510.2 90.4 507.4 91.6 504.5 92.4 496.5 93.6" fill="none" stroke="#3aa060" stroke-width="1.1" stroke-linejoin="round" stroke-linecap="round" />
<path d="M496.5 88.1 495.9 89.8 494.8 91.5 493.7 92.2 491.4 92.5 476.6 91.7 455.5 91 438.4 89.1 430.4 88.4" fill="none" stroke="#3aa060" stroke-width="1.1" stroke-linejoin="round" stroke-linecap="round" />
<path d="M430.4 88.8 436.7 88.4 441.8 87.8 450.9 85.5 454.3 84.9 473.7 83.6 482.3 82.4 488.5 81.1 497.7 78.5 505.1 76.7 509.6 75 512.5 72.9 514.8 70.3 516.5 67.7 518.2 64.1 519.9 59.1 521 54.8 522.7 46.3 523.9 38.9 523.9 65 521.6 75 520.5 78.6 518.8 82.8 517 85.9 515.3 88.2 513 90.5 510.8 92.1 507.9 93.5 504.5 94.8 499.9 95.8 496.5 96.3" fill="none" stroke="#d04848" stroke-width="1.1" stroke-linejoin="round" stroke-linecap="round" />
<path d="M496.5 88.4 495.9 90.8 494.8 93.4 493.7 94.4 491.4 94.8 476.6 93.7 455.5 92.6 451.5 92.1 438.4 89.7 430.4 88.8" fill="none" stroke="#d04848" stroke-width="1.1" stroke-linejoin="round" stroke-linecap="round" />
<path d="M430.4 89.1 436.7 88.5 441.8 87.7 450.9 84.6 454.3 83.8 473.1 82.1 481.7 80.7 488.5 78.8 497.7 75.4 506.2 72.9 509.6 71.4 512.5 69.2 514.8 66.5 516.5 63.8 518.2 60.1 519.9 55 521 50.7 522.7 42.2 523.9 34.8 523.9 66.4 521.6 76.5 519.3 83.1 517.6 86.6 515.9 89.2 513.6 91.8 511.3 93.7 508.5 95.4 504.5 97.1 499.9 98.4 496.5 99" fill="none" stroke="#7a52a8" stroke-width="1.1" stroke-linejoin="round" stroke-linecap="round" />
<path d="M496.5 88.6 495.9 91.8 494.8 95.2 493.7 96.5 492.5 97 491.4 97.1 476.6 95.6 465.2 95.1 455.5 94.2 451.5 93.6 438.4 90.4 430.4 89.1" fill="none" stroke="#7a52a8" stroke-width="1.1" stroke-linejoin="round" stroke-linecap="round" />
<path d="M430.4 89.3 436.7 88.6 441.8 87.5 444.6 86.5 450.9 83.7 454.3 82.7 473.1 80.6 481.1 79 488 76.8 497.7 72.3 506.2 69.4 510.2 67.5 512.5 65.4 514.8 62.7 517 58.8 518.8 54.6 520.5 48.9 521.6 44.1 523.9 30.6 523.9 67.8 522.2 75.7 519.9 83.2 518.2 87.1 516.5 90 514.2 93 511.3 95.6 508.5 97.5 504.5 99.5 499.9 101 496.5 101.7" fill="none" stroke="#3c8cd0" stroke-width="1.1" stroke-linejoin="round" stroke-linecap="round" />
<path d="M496.5 88.8 495.9 92.8 494.8 97 493.7 98.7 492.5 99.3 491.4 99.4 476.6 97.6 465.2 96.9 455.5 95.8 451.5 95 443.5 92.4 438.4 91 430.4 89.5" fill="none" stroke="#3c8cd0" stroke-width="1.1" stroke-linejoin="round" stroke-linecap="round" />
<path d="M430.4 89.5 436.7 88.7 441.8 87.4 444.6 86.2 450.9 82.8 454.3 81.6 457.8 81 473.1 79.1 476.6 78.4 481.1 77.1 488 74.5 497.7 69.2 506.8 65.7 510.2 63.9 512.5 61.7 514.8 58.9 517 54.8 518.8 50.6 520.5 44.9 521.6 40 523.9 26.5 523.9 69.1 522.2 77.2 520.5 83.1 518.8 87.5 517 90.8 514.8 94 511.9 97.1 508.5 99.6 504.5 101.8 499.9 103.5 496.5 104.4" fill="none" stroke="#48b8d8" stroke-width="1.1" stroke-linejoin="round" stroke-linecap="round" />
<path d="M496.5 89 495.9 93.8 494.8 98.9 493.7 100.9 492.5 101.6 491.4 101.7 476.6 99.5 465.2 98.7 455.5 97.5 451.5 96.4 443.5 93.3 438.4 91.7 433.8 90.4 430.4 89.8" fill="none" stroke="#48b8d8" stroke-width="1.1" stroke-linejoin="round" stroke-linecap="round" />
<path d="M430.4 89.7 436.7 88.7 441.8 87.2 444.6 85.8 450.9 81.9 454.3 80.5 457.8 79.8 473.1 77.6 476.6 76.8 480.6 75.5 488 72.3 498.2 65.8 506.8 62.2 510.2 60.3 513 57.4 514.8 55.1 517 50.9 518.8 46.6 520.5 40.8 521.6 35.9 523.9 22.3 523.9 70.5 522.2 78.6 520.5 84.6 518.8 89 517 92.4 514.8 95.7 511.9 99 508.5 101.7 504.5 104.2 499.4 106.3 496.5 107.1" fill="none" stroke="#e0a064" stroke-width="1.1" stroke-linejoin="round" stroke-linecap="round" />
<path d="M496.5 89.2 495.9 94.8 494.8 100.7 493.7 103 492.5 103.8 491.4 104.1 476.6 101.5 465.2 100.5 455.5 99.1 451.5 97.9 443.5 94.3 438.4 92.3 433.8 90.9 430.4 90.2" fill="none" stroke="#e0a064" stroke-width="1.1" stroke-linejoin="round" stroke-linecap="round" />
</g>
<clipPath id="ca"><rect x="419" y="15" width="114" height="102.5"/></clipPath>
<text x="419.6" y="25.9" font-size="16.5" font-weight="normal" text-anchor="start" fill="#1a1a1a" stroke="#1a1a1a" stroke-width="0.5">a</text>
<text x="0" y="0" font-size="8.8" font-weight="bold" text-anchor="middle" fill="#333" stroke="#333" stroke-width="0.25" transform="translate(400.0,66.0) rotate(-90)"><tspan font-style="italic">i</tspan> (mA)</text>
<text x="476.0" y="140.0" font-size="8.8" font-weight="bold" text-anchor="middle" fill="#333" >E (V <tspan font-style="italic">vs</tspan> RHE)</text>
<text x="478.0" y="50.0" font-size="8" font-weight="bold" text-anchor="start" fill="#333" >Co<tspan font-size="5" dy="-3">III</tspan><tspan dy="3">/Co</tspan><tspan font-size="5" dy="-3">IV</tspan></text>
<text x="446.0" y="73.0" font-size="8" font-weight="bold" text-anchor="start" fill="#333" >Co<tspan font-size="5" dy="-3">II</tspan><tspan dy="3">/Co</tspan><tspan font-size="5" dy="-3">III</tspan></text>
<text x="496.0" y="61.0" font-size="10" font-weight="bold" text-anchor="middle" fill="#111" font-style="italic">V</text>
<line x1="496.0" y1="85.0" x2="496.0" y2="66.0" stroke="#111" stroke-width="1.3" />
<path d="M493.5,67 L496,62 L498.5,67 Z" fill="#111"/>
<rect x="571.3" y="15.0" width="117.3" height="102.5" fill="none" stroke="#858585" stroke-width="1.2"/>
<line x1="583.0" y1="117.5" x2="583.0" y2="119.1" stroke="#858585" stroke-width="0.8" />
<line x1="606.5" y1="117.5" x2="606.5" y2="119.1" stroke="#858585" stroke-width="0.8" />
<line x1="630.0" y1="117.5" x2="630.0" y2="119.1" stroke="#858585" stroke-width="0.8" />
<line x1="653.4" y1="117.5" x2="653.4" y2="119.1" stroke="#858585" stroke-width="0.8" />
<line x1="676.9" y1="117.5" x2="676.9" y2="119.1" stroke="#858585" stroke-width="0.8" />
<line x1="571.3" y1="117.5" x2="571.3" y2="119.5" stroke="#858585" stroke-width="1.2" />
<text x="571.3" y="129.8" font-size="7.8" font-weight="bold" text-anchor="middle" fill="#222" stroke="#222" stroke-width="0.25">0.8</text>
<line x1="594.8" y1="117.5" x2="594.8" y2="119.5" stroke="#858585" stroke-width="1.2" />
<text x="594.8" y="129.8" font-size="7.8" font-weight="bold" text-anchor="middle" fill="#222" stroke="#222" stroke-width="0.25">1.0</text>
<line x1="618.2" y1="117.5" x2="618.2" y2="119.5" stroke="#858585" stroke-width="1.2" />
<text x="618.2" y="129.8" font-size="7.8" font-weight="bold" text-anchor="middle" fill="#222" stroke="#222" stroke-width="0.25">1.2</text>
<line x1="641.7" y1="117.5" x2="641.7" y2="119.5" stroke="#858585" stroke-width="1.2" />
<text x="641.7" y="129.8" font-size="7.8" font-weight="bold" text-anchor="middle" fill="#222" stroke="#222" stroke-width="0.25">1.4</text>
<line x1="665.1" y1="117.5" x2="665.1" y2="119.5" stroke="#858585" stroke-width="1.2" />
<text x="665.1" y="129.8" font-size="7.8" font-weight="bold" text-anchor="middle" fill="#222" stroke="#222" stroke-width="0.25">1.6</text>
<line x1="688.6" y1="117.5" x2="688.6" y2="119.5" stroke="#858585" stroke-width="1.2" />
<text x="688.6" y="129.8" font-size="7.8" font-weight="bold" text-anchor="middle" fill="#222" stroke="#222" stroke-width="0.25">1.8</text>
<line x1="571.3" y1="117.5" x2="569.3" y2="117.5" stroke="#858585" stroke-width="1.2" />
<text x="562.1" y="120.3" font-size="7.8" font-weight="bold" text-anchor="end" fill="#222" stroke="#222" stroke-width="0.25">-2</text>
<line x1="571.3" y1="97.0" x2="569.3" y2="97.0" stroke="#858585" stroke-width="1.2" />
<text x="562.1" y="99.8" font-size="7.8" font-weight="bold" text-anchor="end" fill="#222" stroke="#222" stroke-width="0.25">0</text>
<line x1="571.3" y1="76.5" x2="569.3" y2="76.5" stroke="#858585" stroke-width="1.2" />
<text x="562.1" y="79.3" font-size="7.8" font-weight="bold" text-anchor="end" fill="#222" stroke="#222" stroke-width="0.25">2</text>
<line x1="571.3" y1="56.0" x2="569.3" y2="56.0" stroke="#858585" stroke-width="1.2" />
<text x="562.1" y="58.8" font-size="7.8" font-weight="bold" text-anchor="end" fill="#222" stroke="#222" stroke-width="0.25">4</text>
<line x1="571.3" y1="35.5" x2="569.3" y2="35.5" stroke="#858585" stroke-width="1.2" />
<text x="562.1" y="38.3" font-size="7.8" font-weight="bold" text-anchor="end" fill="#222" stroke="#222" stroke-width="0.25">6</text>
<line x1="571.3" y1="15.0" x2="569.3" y2="15.0" stroke="#858585" stroke-width="1.2" />
<text x="562.1" y="17.8" font-size="7.8" font-weight="bold" text-anchor="end" fill="#222" stroke="#222" stroke-width="0.25">8</text>
<clipPath id="cb"><rect x="571.3" y="15" width="117.3" height="102.5"/></clipPath><g clip-path="url(#cb)">
<path d="M583 98.2 588.9 97.1 594.8 95.1 597.1 93.9 604.1 89.5 608.8 87.5 612.9 87.5 618.2 89 623.5 89.6 627.6 89.9 631.1 89.7 635.8 88.9 644 86.8 653.4 83.7 656.9 82.2 658.7 81 660.4 79.2 662.2 76.4 663.4 73.7 664.6 70 665.7 64.8 667.5 53.1 668.7 41.4 669.8 25.1 671 2.5 672.2 -29.1 673.9 -101.3 675.1 -173.8 676.3 -274.9 677.5 -416 679.2 -738.7 679.2 -513.2 677.5 -271 676.3 -165.1 675.1 -89.2 673.9 -34.7 672.8 4.4 671.6 32.5 669.8 60.6 668.1 77.7 666.3 88.3 664.6 94.9 663.4 98.1 662.2 100.6 660.4 103.2 659.3 104.5 656.9 106 654 107.1 651.1 107.7" fill="none" stroke="#b0c8e8" stroke-width="1.1" stroke-linejoin="round" stroke-linecap="round" />
<path d="M651.1 97.5 650.5 100.1 649.3 103 648.7 103.7 647.5 104.5 645.2 104.9 640.5 104.6 630.5 103.5 621.7 102.9 617 102.9 610 103.7 606.5 103.7 603 103 595.9 100.8 589.5 99.2 583 98" fill="none" stroke="#b0c8e8" stroke-width="1.1" stroke-linejoin="round" stroke-linecap="round" />
<path d="M583 98.1 588.9 97.1 594.8 95.2 597.1 94.1 604.1 89.9 608.8 88 612.9 88 618.2 89.4 624.7 90.1 628.8 90.2 632.9 89.8 642.3 87.8 651.7 85.2 661 83.1 664.6 81.5 666.3 80.1 667.5 78.7 668.7 76.9 669.8 74.3 671 70.8 672.2 66 673.9 55 675.1 44.1 676.3 28.8 677.5 7.6 679.2 -40.9 679.2 9.3 678.6 23.5 677.5 45.8 676.3 61.8 675.1 73.3 673.4 84.9 672.2 90.1 670.4 95.3 668.7 98.6 666.9 100.7 662.8 103.9 659.3 105.8 655.2 106.8 651.1 107.3" fill="none" stroke="#3aa060" stroke-width="1.1" stroke-linejoin="round" stroke-linecap="round" />
<path d="M651.1 97.4 650.5 99.9 649.3 102.7 648.7 103.4 647.5 104.1 645.2 104.5 640.5 104.2 630.5 103.1 621.7 102.6 617 102.6 610 103.4 606.5 103.3 603 102.7 595.9 100.6 589.5 99.1 583 97.9" fill="none" stroke="#3aa060" stroke-width="1.1" stroke-linejoin="round" stroke-linecap="round" />
<path d="M583 98.1 588.9 97.1 594.8 95.3 597.1 94.3 604.1 90.3 608.8 88.5 612.9 88.4 618.2 89.8 623.5 90.4 627.6 90.6 631.1 90.5 637.6 89.3 652.8 85.6 663.4 83.8 666.3 82.9 668.1 82 670.4 80 672.2 77.6 673.9 73.6 675.1 69.7 676.3 64.4 677.5 56.9 679.2 39.8 679.2 69 678 78.3 676.9 85 675.7 89.8 673.9 94.7 672.8 97 671 99.3 669.2 100.9 667.5 101.9 659.3 105.5 655.2 106.3 651.1 106.8" fill="none" stroke="#d04848" stroke-width="1.1" stroke-linejoin="round" stroke-linecap="round" />
<path d="M651.1 97.4 650.5 99.8 649.3 102.4 648.7 103 647.5 103.7 645.2 104.1 640.5 103.8 630.5 102.8 621.7 102.3 617 102.3 610 103 606.5 103 603 102.4 595.9 100.4 589.5 98.9 583 97.9" fill="none" stroke="#d04848" stroke-width="1.1" stroke-linejoin="round" stroke-linecap="round" />
<path d="M583 98 588.9 97.1 594.8 95.4 597.1 94.4 604.1 90.7 608.8 89 612.9 88.9 618.2 90.2 623.5 90.7 627.6 91 631.1 90.8 637.6 89.7 652.8 86.3 664 84.6 668.1 83.5 670.4 82.3 672.2 80.8 673.9 78.5 675.1 76.3 676.3 73.2 677.5 68.9 679.2 59.1 679.2 82.6 677.5 90 676.3 93.3 675.1 95.8 673.9 97.6 672.2 99.4 670.4 100.7 668.7 101.6 659.3 105.1 651.1 106.2" fill="none" stroke="#7a52a8" stroke-width="1.1" stroke-linejoin="round" stroke-linecap="round" />
<path d="M651.1 97.4 650.5 99.6 649.3 102.1 648.7 102.7 647.5 103.3 645.2 103.7 640.5 103.4 630.5 102.5 621.7 102 617 102 610 102.6 606.5 102.6 603 102.1 595.9 100.2 589.5 98.8 583 97.8" fill="none" stroke="#7a52a8" stroke-width="1.1" stroke-linejoin="round" stroke-linecap="round" />
<path d="M583 98 588.9 97.1 594.8 95.5 597.1 94.6 604.1 91 608.8 89.5 612.9 89.4 618.2 90.6 623.5 91.1 627.6 91.3 631.1 91.2 637.6 90.2 652.8 86.9 664 85.5 668.7 84.5 672.2 83 673.9 81.6 675.1 80.3 676.3 78.4 677.5 75.9 679.2 70.1 679.2 90.1 677.5 94.4 675.7 97.2 674.5 98.5 672.8 99.8 669.2 101.5 665.1 102.5 659.3 104.6 651.1 105.7" fill="none" stroke="#3c8cd0" stroke-width="1.1" stroke-linejoin="round" stroke-linecap="round" />
<path d="M651.1 97.3 650.5 99.4 649.3 101.7 648.7 102.3 647.5 103 645.2 103.3 640.5 103 630.5 102.1 621.7 101.7 617 101.7 610 102.3 606.5 102.3 603 101.7 595.9 100 589.5 98.7 583 97.7" fill="none" stroke="#3c8cd0" stroke-width="1.1" stroke-linejoin="round" stroke-linecap="round" />
<path d="M583 97.9 588.9 97.1 594.8 95.6 604.1 91.4 608.8 89.9 612.9 89.9 618.2 91 623.5 91.5 630.5 91.6 637 90.7 652.8 87.6 664 86.2 668.7 85.4 672.2 84.2 673.9 83.1 675.1 82 676.3 80.5 677.5 78.5 679.2 74 679.2 92.1 678 94.6 676.3 97.2 675.1 98.3 673.4 99.6 669.8 101.1 665.1 102.2 659.3 104.1 651.1 105.1" fill="none" stroke="#48b8d8" stroke-width="1.1" stroke-linejoin="round" stroke-linecap="round" />
<path d="M651.1 97.3 650.5 99.3 649.3 101.4 647.5 102.6 645.2 102.8 621.7 101.4 617 101.4 610 101.9 606.5 101.9 603 101.4 589.5 98.6 583 97.7" fill="none" stroke="#48b8d8" stroke-width="1.1" stroke-linejoin="round" stroke-linecap="round" />
<path d="M583 97.8 588.9 97.1 594.8 95.7 604.1 91.8 608.8 90.4 612.9 90.4 618.2 91.5 623.5 91.9 630.5 92 637 91.2 653.4 88.1 664.6 86.9 669.2 86.2 672.8 85.1 675.1 83.7 677.5 81.2 679.2 77.9 679.2 94.2 676.9 97.4 673.9 99.5 670.4 100.8 665.1 101.9 659.3 103.6 651.1 104.6" fill="none" stroke="#e0a064" stroke-width="1.1" stroke-linejoin="round" stroke-linecap="round" />
<path d="M651.1 97.2 650.5 99.1 649.3 101.1 647.5 102.2 645.2 102.4 621.7 101.1 617 101.1 610 101.6 606.5 101.6 603 101.1 589.5 98.4 583 97.6" fill="none" stroke="#e0a064" stroke-width="1.1" stroke-linejoin="round" stroke-linecap="round" />
</g>
<text x="571.7" y="27.5" font-size="16.5" font-weight="normal" text-anchor="start" fill="#1a1a1a" stroke="#1a1a1a" stroke-width="0.5">b</text>
<text x="0" y="0" font-size="8.8" font-weight="bold" text-anchor="middle" fill="#333" stroke="#333" stroke-width="0.25" transform="translate(549.0,66.0) rotate(-90)"><tspan font-style="italic">i/ν</tspan> (mA V<tspan font-size="5" dy="-3">-1</tspan><tspan dy="3"> s)</tspan></text>
<text x="630.0" y="140.0" font-size="8.8" font-weight="bold" text-anchor="middle" fill="#333" >E (V <tspan font-style="italic">vs</tspan> RHE)</text>
<rect x="594.5" y="18.8" width="54.9" height="50.5" fill="#fff" />
<rect x="594.5" y="18.8" width="54.9" height="50.5" fill="none" stroke="#858585" stroke-width="0.8"/>
<line x1="594.5" y1="69.3" x2="594.5" y2="70.3" stroke="#858585" stroke-width="0.8" />
<text x="594.5" y="75.3" font-size="4.5" font-weight="bold" text-anchor="middle" fill="#222" stroke="#222" stroke-width="0.25">0.8</text>
<line x1="605.5" y1="69.3" x2="605.5" y2="70.3" stroke="#858585" stroke-width="0.8" />
<text x="605.5" y="75.3" font-size="4.5" font-weight="bold" text-anchor="middle" fill="#222" stroke="#222" stroke-width="0.25">1.0</text>
<line x1="616.5" y1="69.3" x2="616.5" y2="70.3" stroke="#858585" stroke-width="0.8" />
<text x="616.5" y="75.3" font-size="4.5" font-weight="bold" text-anchor="middle" fill="#222" stroke="#222" stroke-width="0.25">1.2</text>
<line x1="627.4" y1="69.3" x2="627.4" y2="70.3" stroke="#858585" stroke-width="0.8" />
<text x="627.4" y="75.3" font-size="4.5" font-weight="bold" text-anchor="middle" fill="#222" stroke="#222" stroke-width="0.25">1.4</text>
<line x1="638.4" y1="69.3" x2="638.4" y2="70.3" stroke="#858585" stroke-width="0.8" />
<text x="638.4" y="75.3" font-size="4.5" font-weight="bold" text-anchor="middle" fill="#222" stroke="#222" stroke-width="0.25">1.6</text>
<line x1="649.4" y1="69.3" x2="649.4" y2="70.3" stroke="#858585" stroke-width="0.8" />
<text x="649.4" y="75.3" font-size="4.5" font-weight="bold" text-anchor="middle" fill="#222" stroke="#222" stroke-width="0.25">1.8</text>
<line x1="594.5" y1="69.3" x2="593.5" y2="69.3" stroke="#858585" stroke-width="0.8" />
<text x="589.2" y="70.9" font-size="4.5" font-weight="bold" text-anchor="end" fill="#222" stroke="#222" stroke-width="0.25">-0.2</text>
<line x1="594.5" y1="56.7" x2="593.5" y2="56.7" stroke="#858585" stroke-width="0.8" />
<text x="589.2" y="58.3" font-size="4.5" font-weight="bold" text-anchor="end" fill="#222" stroke="#222" stroke-width="0.25">0.0</text>
<line x1="594.5" y1="44.0" x2="593.5" y2="44.0" stroke="#858585" stroke-width="0.8" />
<text x="589.2" y="45.7" font-size="4.5" font-weight="bold" text-anchor="end" fill="#222" stroke="#222" stroke-width="0.25">0.2</text>
<line x1="594.5" y1="31.4" x2="593.5" y2="31.4" stroke="#858585" stroke-width="0.8" />
<text x="589.2" y="33.0" font-size="4.5" font-weight="bold" text-anchor="end" fill="#222" stroke="#222" stroke-width="0.25">0.4</text>
<line x1="594.5" y1="18.8" x2="593.5" y2="18.8" stroke="#858585" stroke-width="0.8" />
<text x="589.2" y="20.4" font-size="4.5" font-weight="bold" text-anchor="end" fill="#222" stroke="#222" stroke-width="0.25">0.6</text>
<clipPath id="cbi"><rect x="594.5" y="18.8" width="54.9" height="50.5"/></clipPath><g clip-path="url(#cbi)">
<path d="M600 57.1 605.5 56.1 611.8 53.6 614 53.6 616.5 54.1 620 54.3 623.6 54.2 636.5 51.8 638.1 51.2 639.5 50.1 640.6 48.3 641.7 44.9 643.1 35.9 644.2 20.9 645 1 645 20.4 644.7 26.2 643.6 41.9 642.3 51.4 640.9 55.6 639.2 57.8 635.9 59.6 631.8 60.2" fill="none" stroke="#b0c8e8" stroke-width="0.8" stroke-linejoin="round" stroke-linecap="round" />
<path d="M631.8 56.8 631 58.6 630.2 59.1 629.1 59.3 618.1 58.6 611 58.9 600 57" fill="none" stroke="#b0c8e8" stroke-width="0.8" stroke-linejoin="round" stroke-linecap="round" />
<path d="M600 57 605.5 56.1 609.9 54.3 612.1 53.7 614 53.7 616.5 54.2 619.5 54.4 623.3 54.3 636.8 52 638.4 51.5 639.5 50.7 640.6 49.4 641.7 46.8 643.1 40.1 644.2 28.8 645 13.9 645 29.8 644.7 34.1 643.6 45.9 642.3 53.1 640.9 56.3 639.2 58 635.7 59.6 631.8 60.1" fill="none" stroke="#3aa060" stroke-width="0.8" stroke-linejoin="round" stroke-linecap="round" />
<path d="M631.8 56.8 631 58.6 630.2 59 629.1 59.2 618.1 58.5 611 58.8 600 57" fill="none" stroke="#3aa060" stroke-width="0.8" stroke-linejoin="round" stroke-linecap="round" />
<path d="M600 57 605.5 56.1 609.9 54.4 612.1 53.8 614 53.8 616.5 54.3 619.5 54.5 623 54.4 636.8 52.3 638.4 51.8 639.5 51.2 640.6 50 641.7 47.9 643.1 42.2 644.2 32.9 645 20.4 645 34.4 644.7 38.1 643.6 47.9 642.3 53.9 640.9 56.6 639.2 58 635.7 59.5 631.8 59.9" fill="none" stroke="#d04848" stroke-width="0.8" stroke-linejoin="round" stroke-linecap="round" />
<path d="M631.8 56.8 631 58.5 630.2 58.9 629.1 59 618.1 58.4 611 58.7 600 57" fill="none" stroke="#d04848" stroke-width="0.8" stroke-linejoin="round" stroke-linecap="round" />
<path d="M600 57 605.5 56.1 612.1 54 614 54 616.5 54.4 619.5 54.6 623 54.6 636.8 52.5 638.4 52.1 639.8 51.3 640.9 50.1 641.7 48.5 643.1 43.4 644.2 35 645 23.8 645 36.7 644.7 40 643.6 48.9 642.3 54.3 640.9 56.7 639.2 58 635.7 59.3 631.8 59.8" fill="none" stroke="#7a52a8" stroke-width="0.8" stroke-linejoin="round" stroke-linecap="round" />
<path d="M631.8 56.8 631 58.4 630.2 58.8 629.1 58.9 618.1 58.4 611 58.6 600 56.9" fill="none" stroke="#7a52a8" stroke-width="0.8" stroke-linejoin="round" stroke-linecap="round" />
<path d="M600 57 605.5 56.2 612.1 54.1 614 54.1 619.5 54.7 623 54.7 637 52.7 638.7 52.2 639.8 51.6 640.9 50.6 641.7 49.2 643.1 44.6 644.2 37.1 645 27.2 645 39 644.7 42 643.6 49.8 642.3 54.6 640.9 56.8 639.2 58 635.7 59.2 631.8 59.6" fill="none" stroke="#3c8cd0" stroke-width="0.8" stroke-linejoin="round" stroke-linecap="round" />
<path d="M631.8 56.8 631 58.3 630.2 58.7 629.1 58.8 618.1 58.3 611 58.5 600 56.9" fill="none" stroke="#3c8cd0" stroke-width="0.8" stroke-linejoin="round" stroke-linecap="round" />
<path d="M600 57 605.5 56.2 612.1 54.2 614 54.2 619.5 54.8 623 54.8 637 52.9 639.8 52 640.9 51 641.7 49.8 643.1 45.8 644.2 39.3 645 30.6 645 41.3 643.9 49.5 642.5 54.4 641.2 56.6 639.5 57.8 635.7 59.1 631.8 59.5" fill="none" stroke="#48b8d8" stroke-width="0.8" stroke-linejoin="round" stroke-linecap="round" />
<path d="M631.8 56.8 631 58.2 630.2 58.6 629.1 58.7 618.1 58.2 611 58.4 600 56.9" fill="none" stroke="#48b8d8" stroke-width="0.8" stroke-linejoin="round" stroke-linecap="round" />
<path d="M600 57 605.5 56.2 612.1 54.4 619.5 54.9 623 54.9 637 53.1 639.8 52.3 640.9 51.5 641.7 50.5 643.1 47 644.2 41.4 645 33.9 645 43.6 643.9 50.6 642.5 54.8 641.2 56.8 639.5 57.8 635.7 58.9 631.8 59.3" fill="none" stroke="#e0a064" stroke-width="0.8" stroke-linejoin="round" stroke-linecap="round" />
<path d="M631.8 56.8 631 58.1 630.2 58.5 629.1 58.6 618.1 58.1 611 58.3 600 56.9" fill="none" stroke="#e0a064" stroke-width="0.8" stroke-linejoin="round" stroke-linecap="round" />
</g>
<text x="600.0" y="39.5" font-size="8.6" font-weight="bold" text-anchor="start" fill="#333" >31.9 µF</text>
<line x1="603.5" y1="42.0" x2="606.0" y2="51.0" stroke="#d03030" stroke-width="1.1" />
<path d="M603.8,50 L606.5,53.5 L607.5,49.5 Z" fill="#d03030"/>
<text x="616.0" y="115.5" font-size="8.6" font-weight="bold" text-anchor="start" fill="#333" >540 µF</text>
<line x1="627.0" y1="106.0" x2="627.0" y2="99.0" stroke="#d03030" stroke-width="1.1" />
<path d="M625,100 L627,96 L629,100 Z" fill="#d03030"/>
<line x1="658.0" y1="33.0" x2="675.0" y2="33.0" stroke="#111" stroke-width="1.2" />
<path d="M674,30.5 L679,33 L674,35.5 Z" fill="#111"/>
<text x="684.0" y="37.0" font-size="10" font-weight="bold" text-anchor="middle" fill="#111" font-style="italic">V</text>
<rect x="728.6" y="14.3" width="118.9" height="102.6" fill="none" stroke="#858585" stroke-width="1.2"/>
<line x1="740.5" y1="116.9" x2="740.5" y2="118.5" stroke="#858585" stroke-width="0.8" />
<line x1="764.3" y1="116.9" x2="764.3" y2="118.5" stroke="#858585" stroke-width="0.8" />
<line x1="788.0" y1="116.9" x2="788.0" y2="118.5" stroke="#858585" stroke-width="0.8" />
<line x1="811.8" y1="116.9" x2="811.8" y2="118.5" stroke="#858585" stroke-width="0.8" />
<line x1="835.6" y1="116.9" x2="835.6" y2="118.5" stroke="#858585" stroke-width="0.8" />
<line x1="728.6" y1="116.9" x2="728.6" y2="118.9" stroke="#858585" stroke-width="1.2" />
<text x="728.6" y="129.2" font-size="7.8" font-weight="bold" text-anchor="middle" fill="#222" stroke="#222" stroke-width="0.25">0.8</text>
<line x1="752.4" y1="116.9" x2="752.4" y2="118.9" stroke="#858585" stroke-width="1.2" />
<text x="752.4" y="129.2" font-size="7.8" font-weight="bold" text-anchor="middle" fill="#222" stroke="#222" stroke-width="0.25">1.0</text>
<line x1="776.2" y1="116.9" x2="776.2" y2="118.9" stroke="#858585" stroke-width="1.2" />
<text x="776.2" y="129.2" font-size="7.8" font-weight="bold" text-anchor="middle" fill="#222" stroke="#222" stroke-width="0.25">1.2</text>
<line x1="799.9" y1="116.9" x2="799.9" y2="118.9" stroke="#858585" stroke-width="1.2" />
<text x="799.9" y="129.2" font-size="7.8" font-weight="bold" text-anchor="middle" fill="#222" stroke="#222" stroke-width="0.25">1.4</text>
<line x1="823.7" y1="116.9" x2="823.7" y2="118.9" stroke="#858585" stroke-width="1.2" />
<text x="823.7" y="129.2" font-size="7.8" font-weight="bold" text-anchor="middle" fill="#222" stroke="#222" stroke-width="0.25">1.6</text>
<line x1="847.5" y1="116.9" x2="847.5" y2="118.9" stroke="#858585" stroke-width="1.2" />
<text x="847.5" y="129.2" font-size="7.8" font-weight="bold" text-anchor="middle" fill="#222" stroke="#222" stroke-width="0.25">1.8</text>
<line x1="728.6" y1="116.9" x2="726.6" y2="116.9" stroke="#858585" stroke-width="1.2" />
<text x="719.4" y="119.7" font-size="7.8" font-weight="bold" text-anchor="end" fill="#222" stroke="#222" stroke-width="0.25">-2</text>
<line x1="728.6" y1="96.4" x2="726.6" y2="96.4" stroke="#858585" stroke-width="1.2" />
<text x="719.4" y="99.2" font-size="7.8" font-weight="bold" text-anchor="end" fill="#222" stroke="#222" stroke-width="0.25">0</text>
<line x1="728.6" y1="75.9" x2="726.6" y2="75.9" stroke="#858585" stroke-width="1.2" />
<text x="719.4" y="78.7" font-size="7.8" font-weight="bold" text-anchor="end" fill="#222" stroke="#222" stroke-width="0.25">2</text>
<line x1="728.6" y1="55.3" x2="726.6" y2="55.3" stroke="#858585" stroke-width="1.2" />
<text x="719.4" y="58.1" font-size="7.8" font-weight="bold" text-anchor="end" fill="#222" stroke="#222" stroke-width="0.25">4</text>
<line x1="728.6" y1="34.8" x2="726.6" y2="34.8" stroke="#858585" stroke-width="1.2" />
<text x="719.4" y="37.6" font-size="7.8" font-weight="bold" text-anchor="end" fill="#222" stroke="#222" stroke-width="0.25">6</text>
<line x1="728.6" y1="14.3" x2="726.6" y2="14.3" stroke="#858585" stroke-width="1.2" />
<text x="719.4" y="17.1" font-size="7.8" font-weight="bold" text-anchor="end" fill="#222" stroke="#222" stroke-width="0.25">8</text>
<clipPath id="cc"><rect x="728.6" y="14.3" width="118.9" height="102.6"/></clipPath><g clip-path="url(#cc)">
<path d="M740.5 97.4 745.8 96.9 751.8 95.9 761.9 93.6 765.5 93 785.7 91.8 791 91.2 801.7 89.2 813.6 86 816 85.2 818.4 83.9 820.2 82.6 821.3 81.3 822.5 79.6 823.7 77.3 824.9 74 826.1 69.6 827.3 63.6 828.5 55.3 829.7 43.9 830.9 28 832.6 -8.3 833.8 -44.7 835 -95.4 836.2 -166 838 -327.6 838 -209.1 836.8 -121.8 835.6 -59.2 834.4 -14.3 833.2 18 831.4 50.2 830.3 64.4 828.5 78.9 826.7 88.3 825.5 92.6 824.3 95.8 823.1 98.2 821.9 99.9 820.7 101.2 819 102.6 817.2 103.5 814.8 104.4 809.5 105.4" fill="none" stroke="#b0c8e8" stroke-width="1.1" stroke-linejoin="round" stroke-linecap="round" />
<path d="M809.5 96.5 808.3 100.5 807.1 102.5 805.9 103.3 804.1 103.6 788.6 101.9 771.4 101.8 765.5 101.5 761.9 101 749.4 98.6 740.5 97.5" fill="none" stroke="#b0c8e8" stroke-width="1.1" stroke-linejoin="round" stroke-linecap="round" />
<path d="M740.5 97.7 745.8 97 751.8 95.8 761.9 92.9 765.5 92.2 770.2 91.6 786.9 90.5 796.4 88.7 802.9 87 819.6 81.8 821.9 80.7 823.7 79.5 826.1 76.7 827.3 74.7 828.5 72 829.7 68.4 830.9 63.5 832.6 52.4 833.8 41.3 835 26 836.2 4.7 838 -43.9 838 6.9 837.4 21.1 836.2 43.4 835 59.4 833.8 71 832 82.6 830.3 89.9 828.5 94.9 826.7 98.6 824.3 102.1 821.9 104.1 818.4 105.9 813.6 107.2 809.5 107.8" fill="none" stroke="#3aa060" stroke-width="1.1" stroke-linejoin="round" stroke-linecap="round" />
<path d="M809.5 96.7 808.3 101.7 807.1 104.2 805.9 105.2 804.1 105.5 799.9 104.8 788.6 103.4 771.4 103.3 765.5 103 761.9 102.4 749.4 99.3 740.5 97.9" fill="none" stroke="#3aa060" stroke-width="1.1" stroke-linejoin="round" stroke-linecap="round" />
<path d="M740.5 97.9 745.8 97.1 751.8 95.7 761.9 92.4 765.5 91.5 770.2 90.9 786.3 89.7 793.4 88.3 801.1 86.1 820.2 79.9 823.7 78.4 826.1 76.4 828.5 73.6 830.9 68.7 832.6 62.5 833.8 56.4 835 48 836.2 36.4 838 9.9 838 49.7 836.8 64 835.6 74.3 834.4 81.7 832.6 89.3 830.9 94.2 829.1 97.5 826.1 102.1 823.7 104.7 821.3 106.2 817.8 107.7 813 108.9 809.5 109.5" fill="none" stroke="#d04848" stroke-width="1.1" stroke-linejoin="round" stroke-linecap="round" />
<path d="M809.5 96.8 808.3 102.6 807.1 105.4 805.9 106.6 804.1 107 799.9 106.1 788.6 104.5 771.4 104.4 765.5 104 761.9 103.3 754.2 101 749.4 99.8 740.5 98.2" fill="none" stroke="#d04848" stroke-width="1.1" stroke-linejoin="round" stroke-linecap="round" />
<path d="M740.5 98 745.8 97.1 751.8 95.6 761.9 92 765.5 91 770.2 90.4 785.7 89.1 792.2 87.8 800.5 85.3 810.6 81.5 820.7 78.1 823.7 77 825.5 75.7 827.9 73.7 830.3 70.4 832 66.4 833.2 62.6 834.4 57.3 835.6 50.1 836.8 40.1 838 26.3 838 63.8 836.8 74.2 835.6 81.7 834.4 87.2 833.2 91.2 832 94.2 830.3 97.5 826.1 103.4 823.7 105.9 821.3 107.4 817.8 109 813 110.3 809.5 110.9" fill="none" stroke="#7a52a8" stroke-width="1.1" stroke-linejoin="round" stroke-linecap="round" />
<path d="M809.5 96.9 808.3 103.3 807.1 106.4 805.9 107.7 804.1 108.1 799.9 107.2 788.6 105.4 771.4 105.3 765.5 104.9 761.9 104.1 754.2 101.5 749.4 100.3 744.7 99.1 740.5 98.5" fill="none" stroke="#7a52a8" stroke-width="1.1" stroke-linejoin="round" stroke-linecap="round" />
<path d="M740.5 98.1 745.8 97.2 751.8 95.6 761.9 91.6 765.5 90.6 770.2 89.9 785.7 88.5 791.6 87.3 801.1 84.2 810.6 80.3 822.5 76.1 824.9 74.8 827.9 72.6 830.3 69.7 832 66.3 833.2 63.1 834.4 58.6 835.6 52.6 836.8 44.3 838 32.8 838 70.3 836.2 82.3 835 87.7 833.8 91.6 832.6 94.6 830.9 97.7 826.1 104.3 823.7 106.8 821.3 108.4 817.8 110 813 111.4 809.5 112.1" fill="none" stroke="#3c8cd0" stroke-width="1.1" stroke-linejoin="round" stroke-linecap="round" />
<path d="M809.5 97 808.3 103.9 807.1 107.2 805.9 108.6 804.1 109.1 799.9 108.1 788.6 106.2 771.4 106 765.5 105.6 761.9 104.8 754.2 102 749.4 100.6 744.7 99.4 740.5 98.7" fill="none" stroke="#3c8cd0" stroke-width="1.1" stroke-linejoin="round" stroke-linecap="round" />
<path d="M740.5 98.3 745.8 97.2 751.8 95.5 761.9 91.3 765.5 90.2 770.2 89.5 785.7 88 791.6 86.7 800.5 83.6 810.6 79.3 823.7 74.4 827.3 71.9 829.7 69.6 831.4 67 833.2 62.9 834.4 59 835.6 53.7 836.8 46.4 838 36.4 838 74.4 836.2 84.9 835 89.6 833.8 93.1 832.6 95.7 830.9 98.6 826.1 105 823.7 107.6 821.3 109.2 817.8 110.9 813 112.4 809.5 113.1" fill="none" stroke="#48b8d8" stroke-width="1.1" stroke-linejoin="round" stroke-linecap="round" />
<path d="M809.5 97 808.3 104.4 807.1 107.9 805.9 109.5 804.1 110 799.9 108.9 788.6 106.9 771.4 106.7 765.5 106.2 761.9 105.3 754.2 102.4 749.4 100.9 744.7 99.6 740.5 98.9" fill="none" stroke="#48b8d8" stroke-width="1.1" stroke-linejoin="round" stroke-linecap="round" />
<path d="M740.5 98.4 745.8 97.3 751.8 95.5 761.9 91 765.5 89.9 770.2 89.1 785.7 87.5 791 86.3 800.5 82.9 811.2 78.1 823.7 73.3 827.3 70.9 829.7 68.6 831.4 66.1 833.2 62.4 834.4 58.8 835.6 53.9 836.8 47.3 838 38.1 838 76.9 836.2 86.6 834.4 92.6 833.2 95.4 831.4 98.4 825.5 106.4 823.7 108.3 821.3 110 817.8 111.7 813 113.3 809.5 114" fill="none" stroke="#e0a064" stroke-width="1.1" stroke-linejoin="round" stroke-linecap="round" />
<path d="M809.5 97.1 808.3 104.9 807.1 108.6 805.9 110.2 805.3 110.5 804.1 110.7 799.9 109.6 788.6 107.5 785.1 107.3 777.9 107.4 771.4 107.3 765.5 106.8 761.9 105.8 754.2 102.7 749.4 101.2 744.7 99.8 740.5 99" fill="none" stroke="#e0a064" stroke-width="1.1" stroke-linejoin="round" stroke-linecap="round" />
</g>
<text x="729.9" y="26.1" font-size="16.5" font-weight="normal" text-anchor="start" fill="#1a1a1a" stroke="#1a1a1a" stroke-width="0.5">c</text>
<text x="0" y="0" font-size="8.8" font-weight="bold" text-anchor="middle" fill="#333" stroke="#333" stroke-width="0.25" transform="translate(712.0,66.0) rotate(-90)"><tspan font-style="italic">i/ν</tspan><tspan font-size="5" dy="-3">-1/2</tspan><tspan dy="3"> (mA V</tspan><tspan font-size="5" dy="-3">-1/2</tspan><tspan dy="3"> s</tspan><tspan font-size="5" dy="-3">1/2</tspan><tspan dy="3">)</tspan></text>
<text x="788.0" y="139.0" font-size="8.8" font-weight="bold" text-anchor="middle" fill="#333" >E (V <tspan font-style="italic">vs</tspan> RHE)</text>
<line x1="817.0" y1="27.0" x2="834.0" y2="27.0" stroke="#111" stroke-width="1.2" />
<path d="M833,24.5 L838,27 L833,29.5 Z" fill="#111"/>
<text x="842.0" y="31.0" font-size="10" font-weight="bold" text-anchor="middle" fill="#111" font-style="italic">V</text>
<rect x="422.0" y="147.4" width="111.0" height="102.1" fill="none" stroke="#858585" stroke-width="1.2"/>
<line x1="435.9" y1="249.5" x2="435.9" y2="251.1" stroke="#858585" stroke-width="0.8" />
<line x1="463.6" y1="249.5" x2="463.6" y2="251.1" stroke="#858585" stroke-width="0.8" />
<line x1="491.4" y1="249.5" x2="491.4" y2="251.1" stroke="#858585" stroke-width="0.8" />
<line x1="519.1" y1="249.5" x2="519.1" y2="251.1" stroke="#858585" stroke-width="0.8" />
<line x1="422.0" y1="249.5" x2="422.0" y2="251.5" stroke="#858585" stroke-width="1.2" />
<text x="422.0" y="261.8" font-size="7.8" font-weight="bold" text-anchor="middle" fill="#222" stroke="#222" stroke-width="0.25">0</text>
<line x1="449.8" y1="249.5" x2="449.8" y2="251.5" stroke="#858585" stroke-width="1.2" />
<text x="449.8" y="261.8" font-size="7.8" font-weight="bold" text-anchor="middle" fill="#222" stroke="#222" stroke-width="0.25">0.2</text>
<line x1="477.5" y1="249.5" x2="477.5" y2="251.5" stroke="#858585" stroke-width="1.2" />
<text x="477.5" y="261.8" font-size="7.8" font-weight="bold" text-anchor="middle" fill="#222" stroke="#222" stroke-width="0.25">0.4</text>
<line x1="505.2" y1="249.5" x2="505.2" y2="251.5" stroke="#858585" stroke-width="1.2" />
<text x="505.2" y="261.8" font-size="7.8" font-weight="bold" text-anchor="middle" fill="#222" stroke="#222" stroke-width="0.25">0.6</text>
<line x1="533.0" y1="249.5" x2="533.0" y2="251.5" stroke="#858585" stroke-width="1.2" />
<text x="533.0" y="261.8" font-size="7.8" font-weight="bold" text-anchor="middle" fill="#222" stroke="#222" stroke-width="0.25">0.8</text>
<line x1="422.0" y1="249.5" x2="420.0" y2="249.5" stroke="#858585" stroke-width="1.2" />
<text x="412.8" y="252.3" font-size="7.8" font-weight="bold" text-anchor="end" fill="#222" stroke="#222" stroke-width="0.25">-3</text>
<line x1="422.0" y1="234.9" x2="420.0" y2="234.9" stroke="#858585" stroke-width="1.2" />
<text x="412.8" y="237.7" font-size="7.8" font-weight="bold" text-anchor="end" fill="#222" stroke="#222" stroke-width="0.25">-2</text>
<line x1="422.0" y1="220.3" x2="420.0" y2="220.3" stroke="#858585" stroke-width="1.2" />
<text x="412.8" y="223.1" font-size="7.8" font-weight="bold" text-anchor="end" fill="#222" stroke="#222" stroke-width="0.25">-1</text>
<line x1="422.0" y1="205.7" x2="420.0" y2="205.7" stroke="#858585" stroke-width="1.2" />
<text x="412.8" y="208.6" font-size="7.8" font-weight="bold" text-anchor="end" fill="#222" stroke="#222" stroke-width="0.25">0</text>
<line x1="422.0" y1="191.2" x2="420.0" y2="191.2" stroke="#858585" stroke-width="1.2" />
<text x="412.8" y="194.0" font-size="7.8" font-weight="bold" text-anchor="end" fill="#222" stroke="#222" stroke-width="0.25">1</text>
<line x1="422.0" y1="176.6" x2="420.0" y2="176.6" stroke="#858585" stroke-width="1.2" />
<text x="412.8" y="179.4" font-size="7.8" font-weight="bold" text-anchor="end" fill="#222" stroke="#222" stroke-width="0.25">2</text>
<line x1="422.0" y1="162.0" x2="420.0" y2="162.0" stroke="#858585" stroke-width="1.2" />
<text x="412.8" y="164.8" font-size="7.8" font-weight="bold" text-anchor="end" fill="#222" stroke="#222" stroke-width="0.25">3</text>
<line x1="422.0" y1="147.4" x2="420.0" y2="147.4" stroke="#858585" stroke-width="1.2" />
<text x="412.8" y="150.2" font-size="7.8" font-weight="bold" text-anchor="end" fill="#222" stroke="#222" stroke-width="0.25">4</text>
<clipPath id="cd"><rect x="421.7" y="147.3" width="111.3" height="102.2"/></clipPath><g clip-path="url(#cd)">
<path d="M435.9 204.3 438.6 203.2 441.4 201.6 444.2 199.6 448.4 195.8 449.8 194.8 455.3 191.9 460.9 187.9 462.2 187.2 463.6 186.8 466.4 186.9 474.7 189.4 476.1 189.7 478.9 189.6 481.7 189.1 485.8 187.8 490 186 494.1 183.6 505.2 175.1 509.4 171.2 513.6 167.8 517.7 163.8 519.1 162 520.5 158.5 523.3 150.3 524.7 144.5 526.1 140.1 528.8 140.1 527.5 162 524.7 194.1 521.9 207.2 519.1 217.4 517.7 220.3 516.4 222.6 515 224.3 512.2 226.9 510.8 227.8 509.4 228.4 508 228.7 506.6 228.7 503.9 228 501.1 226.9 491.4 221.8 481.7 218.3 476.1 216.9 473.3 216.5 471.9 216.6 465 217.5 460.9 216.8 449.8 213 444.2 210.8 441.4 209.3 437.3 206.4 435.9 205.7" fill="none" stroke="#a08878" stroke-width="2.8" stroke-linejoin="round" stroke-linecap="round" opacity="0.85"/>
<path d="M435.9 204.3 438.6 203.2 442.8 200.7 448.4 195.9 451.1 194.1 455.3 192.3 462.2 188.1 463.6 187.7 466.4 187.8 474.7 190.2 476.1 190.4 478.9 190.3 481.7 189.8 485.8 188.6 490 186.9 494.1 184.6 505.2 176.6 508 174 513.6 169.7 517.7 165.8 519.1 164 523.3 151.8 524.7 145.2 526.1 140.1 528.8 140.1 527.5 161.6 524.7 193.5 521.9 206.8 519.1 216.6 517.7 219.4 516.4 221.5 515 223.1 512.2 225.4 510.8 226.2 508 227 506.6 226.9 503.9 226.3 501.1 225.3 491.4 220.5 481.7 217.3 476.1 216 471.9 215.7 465 216.6 460.9 216 453.9 213.8 449.8 212.9 442.8 209.9 437.3 206.2 435.9 205.6" fill="none" stroke="#7050a0" stroke-width="1.3" stroke-linejoin="round" stroke-linecap="round" />
<path d="M435.9 204.3 438.6 203.2 442.8 200.8 448.4 196.2 451.1 194.2 456.7 192.3 462.2 189.4 463.6 189.1 466.4 189.2 473.3 191 476.1 191.4 478.9 191.3 483.1 190.6 487.2 189.4 492.8 187 505.2 178.8 508 176.4 513.6 172.5 516.4 170.1 517.7 168.8 519.1 166.9 520.5 163.2 523.3 154.1 524.7 146.3 526.1 140.1 528.8 140.1 527.5 160.9 524.7 192.6 521.9 206.3 520.5 211.4 519.1 215.4 517.7 217.9 516.4 219.8 513.6 222.3 510.8 223.9 509.4 224.3 506.6 224.3 501.1 222.8 491.4 218.6 478.9 215.1 473.3 214.4 466.4 215.1 463.6 215.1 460.9 214.6 455.3 213.2 449.8 212.6 442.8 209.5 437.3 206 435.9 205.5" fill="none" stroke="#90a050" stroke-width="1.3" stroke-linejoin="round" stroke-linecap="round" />
<path d="M435.9 204.3 438.6 203.3 442.8 200.9 451.1 194.5 453.9 193.7 456.7 193.5 462.2 191.4 463.6 191.2 466.4 191.3 474.7 192.9 477.5 193 483.1 192.3 490 190.3 495.5 187.7 505.2 182 513.6 176.7 517.7 173.3 519.1 171.4 520.5 167.5 523.3 157.5 526.1 140.1 528.8 140.1 526.1 177.4 524.7 191.3 521.9 205.5 520.5 210.2 519.1 213.7 517.7 215.7 516.4 217.3 515 218.4 513.6 219.2 510.8 220.3 508 220.5 502.5 219.4 491.4 215.7 483.1 213.8 477.5 212.8 473.3 212.4 466.4 213 463.6 213 455.3 211.7 449.8 212.2 445.6 210.4 437.3 205.7 435.9 205.2" fill="none" stroke="#d04848" stroke-width="1.3" stroke-linejoin="round" stroke-linecap="round" />
<path d="M435.9 204.3 438.6 203.3 442.8 201.1 449.8 196.2 451.1 194.9 452.5 194.3 453.9 194.4 456.7 195.3 463.6 194.2 476.1 195.3 480.3 195.1 485.8 194.2 491.4 192.8 495.5 191.2 512.2 183.5 516.4 181 517.7 179.8 519.1 177.9 520.5 173.8 521.9 168.5 523.3 162.5 526.1 140.1 528.8 140.1 526.1 177.1 524.7 189.4 523.3 197.7 521.9 204.4 520.5 208.4 519.1 211.1 517.7 212.6 516.4 213.7 513.6 214.8 509.4 215.1 502.5 213.9 491.4 211.5 480.3 210.1 473.3 209.6 465 210 455.3 209.5 451.1 211.4 449.8 211.6 447 210.6 438.6 205.9 435.9 204.8" fill="none" stroke="#40a060" stroke-width="1.3" stroke-linejoin="round" stroke-linecap="round" />
<path d="M435.9 204.3 438.6 203.4 442.8 201.4 449.8 197 451.1 195.4 452.5 194.8 453.9 195.5 456.7 197.7 459.5 198.2 471.9 198.6 481.7 198.2 488.6 197.4 494.1 196.4 502.5 194 512.2 191.6 516.4 189.9 517.7 188.8 519.1 186.8 520.5 182.4 521.9 176.5 523.3 169.3 526.1 140.1 528.8 140.1 526.1 176.6 524.7 186.8 523.3 196 521.9 202.8 520.5 205.9 519.1 207.5 516.4 208.7 515 208.8 512.2 208.4 505.2 206.5 499.7 206 483.1 205.7 459.5 205.8 455.3 206.5 453.9 207.5 451.1 210.2 449.8 210.8 448.4 210.6 442.8 207.2 438.6 205.2 435.9 204.3" fill="none" stroke="#38b0d8" stroke-width="1.8" stroke-linejoin="round" stroke-linecap="round" />
</g>
<text x="421.3" y="159.7" font-size="16.5" font-weight="normal" text-anchor="start" fill="#1a1a1a" stroke="#1a1a1a" stroke-width="0.5">d</text>
<text x="0" y="0" font-size="8.8" font-weight="bold" text-anchor="middle" fill="#333" stroke="#333" stroke-width="0.25" transform="translate(399.0,199.0) rotate(-90)"><tspan font-style="italic">j</tspan> (mA/cm<tspan font-size="5" dy="-3">2</tspan><tspan dy="3">)</tspan></text>
<text x="477.0" y="272.0" font-size="8.8" font-weight="bold" text-anchor="middle" fill="#333" >E (V <tspan font-style="italic">vs</tspan> NHE)</text>
<line x1="450.5" y1="181.6" x2="450.5" y2="188.0" stroke="#e04040" stroke-width="1.2" />
<path d="M448.3,188.0 L450.5,191.0 L452.7,188.0 Z" fill="#e04040"/>
<line x1="463.8" y1="198.5" x2="463.8" y2="189.2" stroke="#e04040" stroke-width="1.2" />
<path d="M461.6,189.2 L463.8,186.2 L466.0,189.2 Z" fill="#e04040"/>
<line x1="508.9" y1="188.6" x2="508.9" y2="173.5" stroke="#e04040" stroke-width="1.2" />
<path d="M506.7,173.5 L508.9,170.5 L511.1,173.5 Z" fill="#e04040"/>
<rect x="578.0" y="147.0" width="111.6" height="102.8" fill="none" stroke="#858585" stroke-width="1.2"/>
<line x1="592.0" y1="249.8" x2="592.0" y2="251.4" stroke="#858585" stroke-width="0.8" />
<line x1="619.9" y1="249.8" x2="619.9" y2="251.4" stroke="#858585" stroke-width="0.8" />
<line x1="647.8" y1="249.8" x2="647.8" y2="251.4" stroke="#858585" stroke-width="0.8" />
<line x1="675.6" y1="249.8" x2="675.6" y2="251.4" stroke="#858585" stroke-width="0.8" />
<line x1="578.0" y1="249.8" x2="578.0" y2="251.8" stroke="#858585" stroke-width="1.2" />
<text x="578.0" y="262.1" font-size="7.8" font-weight="bold" text-anchor="middle" fill="#222" stroke="#222" stroke-width="0.25">0</text>
<line x1="605.9" y1="249.8" x2="605.9" y2="251.8" stroke="#858585" stroke-width="1.2" />
<text x="605.9" y="262.1" font-size="7.8" font-weight="bold" text-anchor="middle" fill="#222" stroke="#222" stroke-width="0.25">0.2</text>
<line x1="633.8" y1="249.8" x2="633.8" y2="251.8" stroke="#858585" stroke-width="1.2" />
<text x="633.8" y="262.1" font-size="7.8" font-weight="bold" text-anchor="middle" fill="#222" stroke="#222" stroke-width="0.25">0.4</text>
<line x1="661.7" y1="249.8" x2="661.7" y2="251.8" stroke="#858585" stroke-width="1.2" />
<text x="661.7" y="262.1" font-size="7.8" font-weight="bold" text-anchor="middle" fill="#222" stroke="#222" stroke-width="0.25">0.6</text>
<line x1="689.6" y1="249.8" x2="689.6" y2="251.8" stroke="#858585" stroke-width="1.2" />
<text x="689.6" y="262.1" font-size="7.8" font-weight="bold" text-anchor="middle" fill="#222" stroke="#222" stroke-width="0.25">0.8</text>
<line x1="578.0" y1="249.8" x2="576.0" y2="249.8" stroke="#858585" stroke-width="1.2" />
<text x="568.8" y="252.6" font-size="7.8" font-weight="bold" text-anchor="end" fill="#222" stroke="#222" stroke-width="0.25">-1.0</text>
<line x1="578.0" y1="232.7" x2="576.0" y2="232.7" stroke="#858585" stroke-width="1.2" />
<text x="568.8" y="235.5" font-size="7.8" font-weight="bold" text-anchor="end" fill="#222" stroke="#222" stroke-width="0.25">-0.5</text>
<line x1="578.0" y1="215.5" x2="576.0" y2="215.5" stroke="#858585" stroke-width="1.2" />
<text x="568.8" y="218.3" font-size="7.8" font-weight="bold" text-anchor="end" fill="#222" stroke="#222" stroke-width="0.25">0.0</text>
<line x1="578.0" y1="198.4" x2="576.0" y2="198.4" stroke="#858585" stroke-width="1.2" />
<text x="568.8" y="201.2" font-size="7.8" font-weight="bold" text-anchor="end" fill="#222" stroke="#222" stroke-width="0.25">0.5</text>
<line x1="578.0" y1="181.3" x2="576.0" y2="181.3" stroke="#858585" stroke-width="1.2" />
<text x="568.8" y="184.1" font-size="7.8" font-weight="bold" text-anchor="end" fill="#222" stroke="#222" stroke-width="0.25">1.0</text>
<line x1="578.0" y1="164.1" x2="576.0" y2="164.1" stroke="#858585" stroke-width="1.2" />
<text x="568.8" y="166.9" font-size="7.8" font-weight="bold" text-anchor="end" fill="#222" stroke="#222" stroke-width="0.25">1.5</text>
<line x1="578.0" y1="147.0" x2="576.0" y2="147.0" stroke="#858585" stroke-width="1.2" />
<text x="568.8" y="149.8" font-size="7.8" font-weight="bold" text-anchor="end" fill="#222" stroke="#222" stroke-width="0.25">2.0</text>
<clipPath id="ce"><rect x="577.3" y="146.9" width="112.3" height="102.6"/></clipPath><g clip-path="url(#ce)">
<path d="M592 208.7 593.6 207 595.2 204.7 598.5 199.1 600.2 194 601.8 187.7 603.5 184.3 605.1 186.4 608.4 192.4 610.1 194.9 611.7 195.6 615 196.4 618.3 196.7 624.9 196.7 628.2 196.4 631.5 195.8 633.1 195.3 636.4 193.6 641.3 190.1 649.6 183.1 661.1 171.5 667.7 164.1 669.3 161.9 671 157.2 672.6 149.4 674.3 143.6 675.6 143.6 674 156.9 670.6 193.8 669 205.9 667.3 215 665.6 222 663.9 227.5 662.3 231.2 660.6 233.3 658.9 234.4 657.2 234.5 655.6 234.3 653.9 233.8 647.2 230.8 640.5 229.3 627.1 225.6 620.4 224.2 615.4 222.1 613.7 221.6 612 221.4 610.4 221.6 608.7 222.4 607 225.9 603.7 236.4 602 239.4 600.3 238.6 598.6 235.2 593.6 222.2 592 219" fill="none" stroke="#7a52a8" stroke-width="1.25" stroke-linejoin="round" stroke-linecap="round" />
<path d="M592 208.7 595.5 206.9 597.2 205.5 599 203.5 600.7 200.8 604.3 193.8 606 191 607.8 189.6 609.5 190.6 613 195.1 616.6 197.2 618.3 198 620.1 198.4 623.6 198.4 630.6 197.4 635.9 196.1 639.4 194.9 651.7 189.8 660.5 185.4 662.3 184.1 665.8 180.1 669.3 175.5 671 172.3 674.6 163.6 676.3 158 678.1 149.7 679.8 143.6 681.2 143.6 679.4 161.4 677.7 186.5 675.9 207 674.1 216.2 672.3 219.3 668.7 221.4 666.9 221.7 665.2 221.5 661.6 220.7 654.4 219.9 636.6 217.5 624.1 216.4 616.9 216.5 613.4 217.1 611.6 218.8 608 225.6 606.2 227.5 604.4 226.7 602.7 223.9 599.1 217.5 597.3 215.3 593.7 211.6 592 210.4" fill="none" stroke="#a8c060" stroke-width="1.25" stroke-linejoin="round" stroke-linecap="round" />
<path d="M592 208.7 597.5 207.7 604.8 205.6 606.7 204.8 612.2 201.1 614 200.2 615.9 199.7 619.6 200.1 630.6 200.3 636.1 199.8 641.7 198.6 647.2 196.9 650.9 195.4 656.4 192.7 661.9 189.6 665.6 186.2 669.3 182.3 673 177.3 676.7 171.3 678.5 167.4 682.2 150.1 684 143.6 685.4 143.6 683.5 157.7 679.8 198.3 677.9 211.8 676.1 218.2 674.2 219.9 672.3 220.9 670.5 221.2 668.6 221.1 661.1 218.9 640.6 216.2 629.3 215.2 620 215.5 614.4 217.1 612.5 217.3 610.6 216.8 606.9 212.9 605 211.9 599.4 211 592 210.4" fill="none" stroke="#d04848" stroke-width="1.25" stroke-linejoin="round" stroke-linecap="round" />
<path d="M592 208.7 607.4 206.8 615.1 206.5 618.9 205.6 620.8 203.1 622.8 197.3 624.7 195 628.5 200.2 630.5 200.6 642 199.4 649.7 197.9 653.6 196.9 657.4 195.5 661.3 193.5 663.2 192.3 667 189.3 674.7 182.1 676.7 179.5 678.6 176.2 680.5 172.5 682.4 168.1 684.4 160.1 686.3 150.5 688.2 143.6 689.6 143.6 687.6 154 683.7 185.3 681.8 198.9 679.8 207.7 677.9 213.8 675.9 218.1 674 221.1 672 223 670.1 223.6 668.1 223.4 662.3 220.9 636.9 215.9 631 215.1 623.2 214.9 615.4 214.4 607.6 212.7 595.9 209.4 592 208.7" fill="none" stroke="#40a060" stroke-width="1.25" stroke-linejoin="round" stroke-linecap="round" />
<path d="M592 208.7 599.8 207.9 605.6 207 613.4 205.4 619.3 203.7 621.2 201.1 623.2 197.5 625.2 196.8 629.1 199.8 631 200.7 633 201.1 634.9 201.1 642.7 200.9 648.6 199.9 654.4 198.2 660.3 195.7 664.2 193.5 670.1 189.3 675.9 184.3 679.8 178.7 681.8 175.5 683.7 171.6 685.7 163.8 687.6 154 689.6 147 689.6 181.3 687.6 189.6 685.7 201 683.7 209.1 681.8 211.8 679.8 213.8 677.9 215.3 675.9 216.3 674 217 672 217.3 668.1 217.3 662.3 216.5 652.5 214.5 648.6 213.9 640.8 213.3 627.1 212.8 619.3 212.1 615.4 212.3 613.4 212.2 607.6 211.4 595.9 209.2 592 208.7" fill="none" stroke="#38b0d8" stroke-width="1.25" stroke-linejoin="round" stroke-linecap="round" />
</g>
<text x="578.5" y="157.7" font-size="16.5" font-weight="normal" text-anchor="start" fill="#1a1a1a" stroke="#1a1a1a" stroke-width="0.5">e</text>
<text x="0" y="0" font-size="8.8" font-weight="bold" text-anchor="middle" fill="#333" stroke="#333" stroke-width="0.25" transform="translate(555.0,199.0) rotate(-90)"><tspan font-style="italic">j</tspan> (mA/cm<tspan font-size="5" dy="-3">2</tspan><tspan dy="3">)</tspan></text>
<text x="633.0" y="272.0" font-size="8.8" font-weight="bold" text-anchor="middle" fill="#333" >E (V <tspan font-style="italic">vs</tspan> NHE)</text>
<text x="595.5" y="173.0" font-size="8.4" font-weight="bold" text-anchor="start" fill="#333" >First CV,</text>
<text x="595.5" y="183.0" font-size="8.4" font-weight="bold" text-anchor="start" fill="#333" >diff. pH</text>
<text x="579.0" y="246.0" font-size="12.5" font-weight="normal" text-anchor="start" fill="#222" >pH</text>
<line x1="597.0" y1="243.5" x2="626.0" y2="243.5" stroke="#333" stroke-width="1.3" />
<path d="M600,241 L595,243.5 L600,246 Z" fill="#333"/>
<text x="603.5" y="241.5" font-size="9" font-weight="normal" text-anchor="start" fill="#38b0d8" stroke="#38b0d8" stroke-width="0.3">E<tspan font-size="6" dy="2.5">1</tspan></text>
<rect x="735.6" y="145.9" width="111.5" height="102.4" fill="none" stroke="#858585" stroke-width="1.2"/>
<line x1="749.5" y1="248.3" x2="749.5" y2="249.9" stroke="#858585" stroke-width="0.8" />
<line x1="777.4" y1="248.3" x2="777.4" y2="249.9" stroke="#858585" stroke-width="0.8" />
<line x1="805.3" y1="248.3" x2="805.3" y2="249.9" stroke="#858585" stroke-width="0.8" />
<line x1="833.2" y1="248.3" x2="833.2" y2="249.9" stroke="#858585" stroke-width="0.8" />
<line x1="735.6" y1="248.3" x2="735.6" y2="250.3" stroke="#858585" stroke-width="1.2" />
<text x="735.6" y="260.6" font-size="7.8" font-weight="bold" text-anchor="middle" fill="#222" stroke="#222" stroke-width="0.25">0</text>
<line x1="763.5" y1="248.3" x2="763.5" y2="250.3" stroke="#858585" stroke-width="1.2" />
<text x="763.5" y="260.6" font-size="7.8" font-weight="bold" text-anchor="middle" fill="#222" stroke="#222" stroke-width="0.25">0.2</text>
<line x1="791.4" y1="248.3" x2="791.4" y2="250.3" stroke="#858585" stroke-width="1.2" />
<text x="791.4" y="260.6" font-size="7.8" font-weight="bold" text-anchor="middle" fill="#222" stroke="#222" stroke-width="0.25">0.4</text>
<line x1="819.2" y1="248.3" x2="819.2" y2="250.3" stroke="#858585" stroke-width="1.2" />
<text x="819.2" y="260.6" font-size="7.8" font-weight="bold" text-anchor="middle" fill="#222" stroke="#222" stroke-width="0.25">0.6</text>
<line x1="847.1" y1="248.3" x2="847.1" y2="250.3" stroke="#858585" stroke-width="1.2" />
<text x="847.1" y="260.6" font-size="7.8" font-weight="bold" text-anchor="middle" fill="#222" stroke="#222" stroke-width="0.25">0.8</text>
<line x1="735.6" y1="248.3" x2="733.6" y2="248.3" stroke="#858585" stroke-width="1.2" />
<text x="726.4" y="251.1" font-size="7.8" font-weight="bold" text-anchor="end" fill="#222" stroke="#222" stroke-width="0.25">-2</text>
<line x1="735.6" y1="231.2" x2="733.6" y2="231.2" stroke="#858585" stroke-width="1.2" />
<text x="726.4" y="234.0" font-size="7.8" font-weight="bold" text-anchor="end" fill="#222" stroke="#222" stroke-width="0.25">-1</text>
<line x1="735.6" y1="214.2" x2="733.6" y2="214.2" stroke="#858585" stroke-width="1.2" />
<text x="726.4" y="217.0" font-size="7.8" font-weight="bold" text-anchor="end" fill="#222" stroke="#222" stroke-width="0.25">0</text>
<line x1="735.6" y1="197.1" x2="733.6" y2="197.1" stroke="#858585" stroke-width="1.2" />
<text x="726.4" y="199.9" font-size="7.8" font-weight="bold" text-anchor="end" fill="#222" stroke="#222" stroke-width="0.25">1</text>
<line x1="735.6" y1="180.0" x2="733.6" y2="180.0" stroke="#858585" stroke-width="1.2" />
<text x="726.4" y="182.8" font-size="7.8" font-weight="bold" text-anchor="end" fill="#222" stroke="#222" stroke-width="0.25">2</text>
<line x1="735.6" y1="163.0" x2="733.6" y2="163.0" stroke="#858585" stroke-width="1.2" />
<text x="726.4" y="165.8" font-size="7.8" font-weight="bold" text-anchor="end" fill="#222" stroke="#222" stroke-width="0.25">3</text>
<line x1="735.6" y1="145.9" x2="733.6" y2="145.9" stroke="#858585" stroke-width="1.2" />
<text x="726.4" y="148.7" font-size="7.8" font-weight="bold" text-anchor="end" fill="#222" stroke="#222" stroke-width="0.25">4</text>
<clipPath id="cf"><rect x="735.6" y="145.9" width="111.5" height="102.4"/></clipPath><g clip-path="url(#cf)">
<path d="M749.5 212.5 753.2 210.9 758.6 207.5 765.8 201.9 773.1 194.8 774.9 193.3 778.5 191.5 780.3 191.7 784 193.6 787.6 194.8 789.4 195.3 791.2 195.4 796.6 194.9 800.3 194.1 803.9 192.7 807.5 190.5 818.4 180.7 825.6 173.2 829.3 169.9 831.1 168.7 832.9 166.8 834.7 162.5 836.5 156.9 840.1 142.5 841.5 142.5 839.7 164.3 837.8 191.5 836 207.8 834.2 217.9 832.3 225.7 830.5 231.4 828.6 235.9 826.8 239 825 240.7 823.1 241.8 821.3 242.6 817.6 243.4 815.8 243.3 813.9 242.6 812.1 241.4 806.6 239.1 795.5 233 788.2 229.8 784.5 228.6 777.1 226.9 767.9 225.6 764.3 224.7 760.6 222.9 753.2 217.7 749.5 215.9" fill="none" stroke="#a8c060" stroke-width="1.25" stroke-linejoin="round" stroke-linecap="round" />
<path d="M749.5 212.5 753.2 210.7 766.1 201.8 769.8 199.9 771.6 199.4 773.5 199.2 788.2 199.2 791.9 198.7 795.5 197.7 801.1 195.5 812.1 190.6 825 183.8 830.5 180.4 832.3 179 834.2 176 837.8 165.8 839.7 155.6 841.5 142.5 842.9 142.5 841.1 160.7 839.2 185.9 837.3 205.9 835.4 217.1 833.6 221.6 831.7 224.9 829.8 226.9 828 228.4 824.2 230.5 822.4 231.1 820.5 231.3 816.8 231 813 230.2 805.6 227.9 794.4 223.6 790.6 222.5 786.9 221.9 770.1 220.3 764.5 219.5 760.7 218.4 753.3 215.3 749.5 214.2" fill="none" stroke="#7a52a8" stroke-width="1.25" stroke-linejoin="round" stroke-linecap="round" />
<path d="M749.5 212.5 753.3 211.9 759 210.5 764.7 208.6 768.5 206.9 778 201.8 783.7 196.8 787.4 194.1 789.3 193.4 791.2 194 793.1 195.2 795 195.4 800.7 194.9 804.5 194 810.2 191.7 817.8 187.6 832.9 180.2 836.7 177.1 838.6 174.7 840.5 169.5 842.4 154.8 844.3 142.5 842.4 163.6 840.5 192.8 838.6 215 836.7 224.8 834.8 228.7 831 235.1 829.1 236.3 827.3 236.3 825.4 235.8 819.7 233.1 804.5 227.6 791.2 224.4 779.9 222.4 776.1 221.5 762.8 217.4 755.2 214.7 749.5 213.3" fill="none" stroke="#d04848" stroke-width="1.25" stroke-linejoin="round" stroke-linecap="round" />
<path d="M749.5 212.5 757.3 211.7 767.1 210.1 773 208.9 776.9 207.6 778.8 206.5 786.6 200.1 788.6 198.8 790.5 197.1 792.5 196 794.4 195.4 796.4 195.3 802.2 195.8 804.2 195.7 806.1 195.2 810 193.6 819.8 188.3 829.5 183.8 833.4 181.5 837.3 178 839.3 175.7 841.2 172.1 843.2 163.3 845.1 151.2 847.1 142.5 845.1 164.4 843.2 194.4 841.2 216.3 839.3 225.5 835.4 232.3 833.4 234.8 831.5 236.1 829.5 236.4 827.6 236.1 825.6 235.6 819.8 233.2 804.2 227.5 765.1 218 753.4 214.2 749.5 213.3" fill="none" stroke="#40a060" stroke-width="1.25" stroke-linejoin="round" stroke-linecap="round" />
<path d="M749.5 212.5 759.3 211.5 778.8 208.7 790.5 205.9 792.5 204.8 796.4 201.6 798.3 201.2 804.2 202.2 808.1 202.1 825.6 199.6 829.5 198.8 833.4 196.9 835.4 195.3 843.2 186.6 845.1 184.7 847.1 183.4 847.1 205.6 845.1 210.4 843.2 216.8 841.2 221.3 839.3 222.7 837.3 223.3 829.5 223.6 819.8 222.8 808.1 220.7 794.4 217.4 788.6 216.3 765.1 213.5 749.5 212.5" fill="none" stroke="#38b0d8" stroke-width="1.25" stroke-linejoin="round" stroke-linecap="round" />
</g>
<text x="736.8" y="159.6" font-size="16.5" font-weight="normal" text-anchor="start" fill="#1a1a1a" stroke="#1a1a1a" stroke-width="0.5">f</text>
<text x="0" y="0" font-size="8.8" font-weight="bold" text-anchor="middle" fill="#333" stroke="#333" stroke-width="0.25" transform="translate(712.0,198.0) rotate(-90)"><tspan font-style="italic">j</tspan> (mA/cm<tspan font-size="5" dy="-3">2</tspan><tspan dy="3">)</tspan></text>
<text x="791.0" y="271.0" font-size="8.8" font-weight="bold" text-anchor="middle" fill="#333" >E (V <tspan font-style="italic">vs</tspan> NHE)</text>
<text x="765.3" y="174.0" font-size="8.4" font-weight="bold" text-anchor="start" fill="#333" >Last CV,</text>
<text x="765.3" y="184.0" font-size="8.4" font-weight="bold" text-anchor="start" fill="#333" >diff. pH</text>
<text x="736.5" y="245.0" font-size="12.5" font-weight="normal" text-anchor="start" fill="#222" >pH</text>
<line x1="755.0" y1="242.5" x2="784.0" y2="242.5" stroke="#333" stroke-width="1.3" />
<path d="M758,240 L753,242.5 L758,245 Z" fill="#333"/>
<text x="777.5" y="238.0" font-size="9" font-weight="normal" text-anchor="start" fill="#d04848" stroke="#d04848" stroke-width="0.3">E<tspan font-size="6" dy="2.5">2</tspan></text>
<text x="829.5" y="245.5" font-size="9" font-weight="normal" text-anchor="start" fill="#40a060" stroke="#40a060" stroke-width="0.3">E<tspan font-size="6" dy="2.5">3</tspan></text>
<rect x="420.7" y="281.5" width="108.4" height="103.0" fill="none" stroke="#858585" stroke-width="1.2"/>
<line x1="420.7" y1="371.6" x2="419.1" y2="371.6" stroke="#858585" stroke-width="0.8" />
<line x1="420.7" y1="345.9" x2="419.1" y2="345.9" stroke="#858585" stroke-width="0.8" />
<line x1="420.7" y1="320.1" x2="419.1" y2="320.1" stroke="#858585" stroke-width="0.8" />
<line x1="420.7" y1="294.4" x2="419.1" y2="294.4" stroke="#858585" stroke-width="0.8" />
<line x1="420.7" y1="384.5" x2="420.7" y2="386.5" stroke="#858585" stroke-width="1.2" />
<text x="420.7" y="396.8" font-size="7.8" font-weight="bold" text-anchor="middle" fill="#222" stroke="#222" stroke-width="0.25">12.5</text>
<line x1="447.8" y1="384.5" x2="447.8" y2="386.5" stroke="#858585" stroke-width="1.2" />
<text x="447.8" y="396.8" font-size="7.8" font-weight="bold" text-anchor="middle" fill="#222" stroke="#222" stroke-width="0.25">13.0</text>
<line x1="474.9" y1="384.5" x2="474.9" y2="386.5" stroke="#858585" stroke-width="1.2" />
<text x="474.9" y="396.8" font-size="7.8" font-weight="bold" text-anchor="middle" fill="#222" stroke="#222" stroke-width="0.25">13.5</text>
<line x1="502.0" y1="384.5" x2="502.0" y2="386.5" stroke="#858585" stroke-width="1.2" />
<text x="502.0" y="396.8" font-size="7.8" font-weight="bold" text-anchor="middle" fill="#222" stroke="#222" stroke-width="0.25">14.0</text>
<line x1="529.1" y1="384.5" x2="529.1" y2="386.5" stroke="#858585" stroke-width="1.2" />
<text x="529.1" y="396.8" font-size="7.8" font-weight="bold" text-anchor="middle" fill="#222" stroke="#222" stroke-width="0.25">14.5</text>
<line x1="420.7" y1="384.5" x2="418.7" y2="384.5" stroke="#858585" stroke-width="1.2" />
<text x="411.5" y="387.3" font-size="7.8" font-weight="bold" text-anchor="end" fill="#222" stroke="#222" stroke-width="0.25">0</text>
<line x1="420.7" y1="358.8" x2="418.7" y2="358.8" stroke="#858585" stroke-width="1.2" />
<text x="411.5" y="361.6" font-size="7.8" font-weight="bold" text-anchor="end" fill="#222" stroke="#222" stroke-width="0.25">0.2</text>
<line x1="420.7" y1="333.0" x2="418.7" y2="333.0" stroke="#858585" stroke-width="1.2" />
<text x="411.5" y="335.8" font-size="7.8" font-weight="bold" text-anchor="end" fill="#222" stroke="#222" stroke-width="0.25">0.4</text>
<line x1="420.7" y1="307.2" x2="418.7" y2="307.2" stroke="#858585" stroke-width="1.2" />
<text x="411.5" y="310.1" font-size="7.8" font-weight="bold" text-anchor="end" fill="#222" stroke="#222" stroke-width="0.25">0.6</text>
<line x1="420.7" y1="281.5" x2="418.7" y2="281.5" stroke="#858585" stroke-width="1.2" />
<text x="411.5" y="284.3" font-size="7.8" font-weight="bold" text-anchor="end" fill="#222" stroke="#222" stroke-width="0.25">0.8</text>
<line x1="447.8" y1="294.5" x2="513.9" y2="308.0" stroke="#444" stroke-width="0.9" />
<circle cx="447.8" cy="293.7" r="1.9" fill="#40a060"/>
<circle cx="453.2" cy="296.3" r="1.9" fill="#40a060"/>
<circle cx="472.2" cy="299.5" r="1.9" fill="#40a060"/>
<circle cx="493.9" cy="304.0" r="1.9" fill="#40a060"/>
<circle cx="513.9" cy="307.9" r="1.9" fill="#40a060"/>
<line x1="447.8" y1="328.1" x2="513.9" y2="350.3" stroke="#444" stroke-width="0.9" />
<circle cx="447.8" cy="328.5" r="1.9" fill="#d04848"/>
<circle cx="453.2" cy="329.1" r="1.9" fill="#d04848"/>
<circle cx="472.2" cy="336.2" r="1.9" fill="#d04848"/>
<circle cx="493.9" cy="344.6" r="1.9" fill="#d04848"/>
<circle cx="513.9" cy="349.7" r="1.9" fill="#d04848"/>
<line x1="447.8" y1="343.7" x2="513.9" y2="362.5" stroke="#444" stroke-width="0.9" />
<circle cx="447.8" cy="343.9" r="1.9" fill="#38a8d8"/>
<circle cx="453.2" cy="344.6" r="1.9" fill="#38a8d8"/>
<circle cx="472.2" cy="351.0" r="1.9" fill="#38a8d8"/>
<circle cx="493.9" cy="357.5" r="1.9" fill="#38a8d8"/>
<circle cx="513.9" cy="362.0" r="1.9" fill="#38a8d8"/>
<text x="422.0" y="291.5" font-size="16.5" font-weight="normal" text-anchor="start" fill="#1a1a1a" stroke="#1a1a1a" stroke-width="0.5">g</text>
<text x="0" y="0" font-size="8.8" font-weight="bold" text-anchor="middle" fill="#333" stroke="#333" stroke-width="0.25" transform="translate(398.0,333.0) rotate(-90)">E (V <tspan font-style="italic">vs</tspan> NHE)</text>
<text x="475.0" y="406.0" font-size="8.8" font-weight="bold" text-anchor="middle" fill="#333" >pH</text>
<text x="426.0" y="379.0" font-size="8.2" font-weight="bold" text-anchor="start" fill="#333" >PCET</text>
<text x="502.8" y="303.5" font-size="9.6" font-weight="normal" text-anchor="start" fill="#40a060" stroke="#40a060" stroke-width="0.3">E<tspan font-size="6.5" dy="2.5">3</tspan></text>
<text x="502.0" y="344.3" font-size="9.6" font-weight="normal" text-anchor="start" fill="#d04848" stroke="#d04848" stroke-width="0.3">E<tspan font-size="6.5" dy="2.5">2</tspan></text>
<text x="502.0" y="371.4" font-size="9.6" font-weight="normal" text-anchor="start" fill="#38a8d8" stroke="#38a8d8" stroke-width="0.3">E<tspan font-size="6.5" dy="2.5">1</tspan></text>
<rect x="576.7" y="280.9" width="117.8" height="103.6" fill="none" stroke="#858585" stroke-width="1.2"/>
<line x1="588.5" y1="384.5" x2="588.5" y2="386.1" stroke="#858585" stroke-width="0.8" />
<line x1="612.0" y1="384.5" x2="612.0" y2="386.1" stroke="#858585" stroke-width="0.8" />
<line x1="635.6" y1="384.5" x2="635.6" y2="386.1" stroke="#858585" stroke-width="0.8" />
<line x1="659.2" y1="384.5" x2="659.2" y2="386.1" stroke="#858585" stroke-width="0.8" />
<line x1="682.7" y1="384.5" x2="682.7" y2="386.1" stroke="#858585" stroke-width="0.8" />
<line x1="576.7" y1="384.5" x2="576.7" y2="386.5" stroke="#858585" stroke-width="1.2" />
<text x="576.7" y="396.8" font-size="7.8" font-weight="bold" text-anchor="middle" fill="#222" stroke="#222" stroke-width="0.25">-6</text>
<line x1="600.3" y1="384.5" x2="600.3" y2="386.5" stroke="#858585" stroke-width="1.2" />
<text x="600.3" y="396.8" font-size="7.8" font-weight="bold" text-anchor="middle" fill="#222" stroke="#222" stroke-width="0.25">-4</text>
<line x1="623.8" y1="384.5" x2="623.8" y2="386.5" stroke="#858585" stroke-width="1.2" />
<text x="623.8" y="396.8" font-size="7.8" font-weight="bold" text-anchor="middle" fill="#222" stroke="#222" stroke-width="0.25">-2</text>
<line x1="647.4" y1="384.5" x2="647.4" y2="386.5" stroke="#858585" stroke-width="1.2" />
<text x="647.4" y="396.8" font-size="7.8" font-weight="bold" text-anchor="middle" fill="#222" stroke="#222" stroke-width="0.25">0</text>
<line x1="670.9" y1="384.5" x2="670.9" y2="386.5" stroke="#858585" stroke-width="1.2" />
<text x="670.9" y="396.8" font-size="7.8" font-weight="bold" text-anchor="middle" fill="#222" stroke="#222" stroke-width="0.25">2</text>
<line x1="694.5" y1="384.5" x2="694.5" y2="386.5" stroke="#858585" stroke-width="1.2" />
<text x="694.5" y="396.8" font-size="7.8" font-weight="bold" text-anchor="middle" fill="#222" stroke="#222" stroke-width="0.25">4</text>
<line x1="576.7" y1="384.5" x2="574.7" y2="384.5" stroke="#858585" stroke-width="1.2" />
<text x="567.5" y="387.3" font-size="7.8" font-weight="bold" text-anchor="end" fill="#222" stroke="#222" stroke-width="0.25">-30</text>
<line x1="576.7" y1="367.2" x2="574.7" y2="367.2" stroke="#858585" stroke-width="1.2" />
<text x="567.5" y="370.0" font-size="7.8" font-weight="bold" text-anchor="end" fill="#222" stroke="#222" stroke-width="0.25">-20</text>
<line x1="576.7" y1="350.0" x2="574.7" y2="350.0" stroke="#858585" stroke-width="1.2" />
<text x="567.5" y="352.8" font-size="7.8" font-weight="bold" text-anchor="end" fill="#222" stroke="#222" stroke-width="0.25">-10</text>
<line x1="576.7" y1="332.7" x2="574.7" y2="332.7" stroke="#858585" stroke-width="1.2" />
<text x="567.5" y="335.5" font-size="7.8" font-weight="bold" text-anchor="end" fill="#222" stroke="#222" stroke-width="0.25">0</text>
<line x1="576.7" y1="315.4" x2="574.7" y2="315.4" stroke="#858585" stroke-width="1.2" />
<text x="567.5" y="318.2" font-size="7.8" font-weight="bold" text-anchor="end" fill="#222" stroke="#222" stroke-width="0.25">10</text>
<line x1="576.7" y1="298.2" x2="574.7" y2="298.2" stroke="#858585" stroke-width="1.2" />
<text x="567.5" y="301.0" font-size="7.8" font-weight="bold" text-anchor="end" fill="#222" stroke="#222" stroke-width="0.25">20</text>
<line x1="576.7" y1="280.9" x2="574.7" y2="280.9" stroke="#858585" stroke-width="1.2" />
<text x="567.5" y="283.7" font-size="7.8" font-weight="bold" text-anchor="end" fill="#222" stroke="#222" stroke-width="0.25">30</text>
<clipPath id="ch"><rect x="576.7" y="280.9" width="117.8" height="103.6"/></clipPath><g clip-path="url(#ch)">
<line x1="576.7" y1="332.7" x2="694.5" y2="332.7" stroke="#40a060" stroke-width="1.0" />
<path d="M576.7 332.7 582 332.7 583.2 328.4 584.9 326.7 589.7 324.9 591.4 327.5 593 331.8 594.4 329.2 597.9 328.9 601.4 329.2 605 328.4 612 325.8 614.4 327.5 616.8 330.1 619.1 328.4 621.5 324.1 623.2 322.3 625 324.1 627.4 325.8 629.7 328.4 632.1 329.2 634.4 329.6 636.8 328.9 640.3 328.4 642.1 327.5 643.6 318.9 644.4 324.1 645.3 332.7 694.5 332.7" fill="none" stroke="#d04040" stroke-width="1.0" stroke-linejoin="round" stroke-linecap="round" />
<path d="M576.7 343.1 577.9 346.5 579.1 332.7 591.4 332.7 592 336.2 594.4 337 597.9 337.9 605 341.3 607.3 339.6 609.7 340.5 612 339.6 614.4 340.5 616.8 337.9 617.9 332.7 641.5 332.7 642.1 336.2 643.8 337.9 646.2 332.7 668.6 332.7 670.9 336.2 672.7 332.7 678 332.7 679.2 336.2 683.9 339.6 686.3 337.9 687.4 332.7 694.5 332.7" fill="none" stroke="#d04040" stroke-width="1.0" stroke-linejoin="round" stroke-linecap="round" />
<path d="M576.7 332.7 582 332.7 583.2 329.2 584.9 327.5 589.7 324.1 591.4 327.5 593 331.8 594.4 328.4 597.9 327.5 601.4 328.4 605 327.2 607.3 324.1 612 322.3 614.4 325.8 616.8 328.4 619.1 326.7 621.5 318.9 623.2 312 625 313.7 629.7 324.1 632.1 327.5 634.4 328.4 636.8 327.5 640.3 327.5 643.8 324.1 645.3 332.7 694.5 332.7" fill="none" stroke="#38a8d8" stroke-width="1.0" stroke-linejoin="round" stroke-linecap="round" />
<path d="M576.7 350 577.9 353.4 579.1 332.7 591.4 332.7 592 337.9 594.4 338.7 597.9 341.3 601.4 343.1 605 345.6 607.3 343.1 609.7 343.9 612 342.2 614.4 343.1 616.8 339.6 617.9 332.7 641.5 332.7 642.1 339.6 643.8 343.1 645.6 339.6 646.2 332.7 668.6 332.7 669.2 336.2 670.9 341.3 672.1 337.9 672.7 332.7 678 332.7 679.2 337.9 681.5 343.1 683.9 346.5 686.3 343.1 687.4 334.4 688.6 332.7 693.3 331.8 694.5 331" fill="none" stroke="#38a8d8" stroke-width="1.0" stroke-linejoin="round" stroke-linecap="round" />
<path d="M576.7 332.7 582 332.7 583.2 327.5 584.9 324.1 589.7 320.6 591.4 325.8 593 331.8 594.4 326.7 597.9 325.8 601.4 326.7 605 324.9 607.3 322.3 612 318.9 614.4 324.1 616.8 327.5 619.1 324.1 621.5 312 623.2 305.1 625 308.5 629.7 322.3 632.1 325.8 634.4 326.7 636.8 325.8 640.3 325.8 642.1 322.3 643.6 317.2 644.4 322.3 645.3 332.7 694.5 332.7" fill="none" stroke="#111" stroke-width="0.9" stroke-linejoin="round" stroke-linecap="round" />
<path d="M576.7 351.7 577.9 355.1 579.1 332.7 591.4 332.7 592 341.3 594.4 343.1 597.9 346.5 605 350 607.3 346.5 609.7 348.2 612 346.5 614.4 348.2 616.8 343.1 617.9 332.7 641.5 332.7 642.1 346.5 643.8 353.4 645.6 346.5 646.2 332.7 668.6 332.7 669.2 337.9 670.9 346.5 672.1 339.6 672.7 332.7 678 332.7 679.2 341.3 681.5 350 683.9 353.4 686.3 348.2 687.4 336.2 688.6 332.7 694.5 332.7" fill="none" stroke="#111" stroke-width="0.9" stroke-linejoin="round" stroke-linecap="round" />
<line x1="584.9" y1="332.7" x2="584.9" y2="301.6" stroke="#111" stroke-width="0.9" />
<line x1="587.9" y1="332.7" x2="587.9" y2="277.4" stroke="#111" stroke-width="0.9" />
<line x1="588.5" y1="332.7" x2="588.5" y2="277.4" stroke="#111" stroke-width="0.9" />
<line x1="589.1" y1="332.7" x2="589.1" y2="277.4" stroke="#111" stroke-width="0.9" />
<line x1="590.2" y1="332.7" x2="590.2" y2="298.2" stroke="#111" stroke-width="0.9" />
<line x1="592.0" y1="332.7" x2="592.0" y2="315.4" stroke="#111" stroke-width="0.9" />
<line x1="596.7" y1="332.7" x2="596.7" y2="317.2" stroke="#111" stroke-width="0.9" />
<line x1="602.0" y1="332.7" x2="602.0" y2="310.3" stroke="#111" stroke-width="0.9" />
<line x1="609.7" y1="332.7" x2="609.7" y2="277.4" stroke="#111" stroke-width="0.9" />
<line x1="610.9" y1="332.7" x2="610.9" y2="308.5" stroke="#111" stroke-width="0.9" />
<line x1="622.4" y1="332.7" x2="622.4" y2="277.4" stroke="#111" stroke-width="0.9" />
<line x1="623.2" y1="332.7" x2="623.2" y2="277.4" stroke="#111" stroke-width="0.9" />
<line x1="624.1" y1="332.7" x2="624.1" y2="280.9" stroke="#111" stroke-width="0.9" />
<line x1="625.0" y1="332.7" x2="625.0" y2="305.1" stroke="#111" stroke-width="0.9" />
<line x1="626.2" y1="332.7" x2="626.2" y2="312.0" stroke="#111" stroke-width="0.9" />
<line x1="628.5" y1="332.7" x2="628.5" y2="318.9" stroke="#111" stroke-width="0.9" />
<line x1="638.5" y1="332.7" x2="638.5" y2="318.9" stroke="#111" stroke-width="0.9" />
<line x1="643.8" y1="332.7" x2="643.8" y2="277.4" stroke="#111" stroke-width="0.9" />
<line x1="592.2" y1="332.7" x2="592.2" y2="388.0" stroke="#111" stroke-width="0.9" />
<line x1="595.0" y1="332.7" x2="595.0" y2="350.0" stroke="#111" stroke-width="0.9" />
<line x1="597.9" y1="332.7" x2="597.9" y2="353.4" stroke="#111" stroke-width="0.9" />
<line x1="601.4" y1="332.7" x2="601.4" y2="353.4" stroke="#111" stroke-width="0.9" />
<line x1="605.9" y1="332.7" x2="605.9" y2="388.0" stroke="#111" stroke-width="0.9" />
<line x1="608.5" y1="332.7" x2="608.5" y2="351.7" stroke="#111" stroke-width="0.9" />
<line x1="614.4" y1="332.7" x2="614.4" y2="363.8" stroke="#111" stroke-width="0.9" />
<line x1="616.8" y1="332.7" x2="616.8" y2="346.5" stroke="#111" stroke-width="0.9" />
<line x1="642.4" y1="332.7" x2="642.4" y2="375.9" stroke="#111" stroke-width="0.9" />
<line x1="643.3" y1="332.7" x2="643.3" y2="384.5" stroke="#111" stroke-width="0.9" />
<line x1="644.1" y1="332.7" x2="644.1" y2="388.0" stroke="#111" stroke-width="0.9" />
<line x1="645.0" y1="332.7" x2="645.0" y2="381.0" stroke="#111" stroke-width="0.9" />
<line x1="645.6" y1="332.7" x2="645.6" y2="370.7" stroke="#111" stroke-width="0.9" />
<line x1="670.9" y1="332.7" x2="670.9" y2="363.8" stroke="#111" stroke-width="0.9" />
<line x1="671.5" y1="332.7" x2="671.5" y2="388.0" stroke="#111" stroke-width="0.9" />
<line x1="681.5" y1="332.7" x2="681.5" y2="370.7" stroke="#111" stroke-width="0.9" />
<line x1="684.5" y1="332.7" x2="684.5" y2="374.1" stroke="#111" stroke-width="0.9" />
<line x1="686.8" y1="332.7" x2="686.8" y2="356.9" stroke="#111" stroke-width="0.9" />
</g>
<line x1="659.0" y1="288.0" x2="667.0" y2="288.0" stroke="#38b0d8" stroke-width="1.6" />
<text x="668.0" y="291.2" font-size="8.7" font-weight="normal" text-anchor="start" fill="#222" stroke="#222" stroke-width="0.2">Co</text>
<line x1="659.0" y1="296.3" x2="667.0" y2="296.3" stroke="#d04040" stroke-width="1.6" />
<text x="668.0" y="299.5" font-size="8.7" font-weight="normal" text-anchor="start" fill="#222" stroke="#222" stroke-width="0.2">O</text>
<line x1="659.0" y1="304.6" x2="667.0" y2="304.6" stroke="#60c0e0" stroke-width="1.6" />
<text x="668.0" y="307.8" font-size="8.7" font-weight="normal" text-anchor="start" fill="#222" stroke="#222" stroke-width="0.2">H</text>
<line x1="659.0" y1="312.9" x2="667.0" y2="312.9" stroke="#e080c8" stroke-width="1.6" />
<text x="668.0" y="316.1" font-size="8.7" font-weight="normal" text-anchor="start" fill="#222" stroke="#222" stroke-width="0.2">F</text>
<line x1="659.0" y1="321.2" x2="667.0" y2="321.2" stroke="#111" stroke-width="1.6" />
<text x="668.0" y="324.4" font-size="8.7" font-weight="normal" text-anchor="start" fill="#222" stroke="#222" stroke-width="0.2">Total</text>
<text x="577.0" y="294.6" font-size="16.5" font-weight="normal" text-anchor="start" fill="#1a1a1a" stroke="#1a1a1a" stroke-width="0.5">h</text>
<text x="0" y="0" font-size="8.8" font-weight="bold" text-anchor="middle" fill="#333" stroke="#333" stroke-width="0.25" transform="translate(557.0,333.0) rotate(-90)">DOS</text>
<text x="636.0" y="406.0" font-size="8.8" font-weight="bold" text-anchor="middle" fill="#333" >Energy (eV)</text>
<text x="735.8" y="294.9" font-size="16.5" font-weight="bold" text-anchor="start" fill="#1a1a1a" >i</text>
<rect x="741.1" y="317.6" width="81.6" height="38.6" fill="none" stroke="#888" stroke-width="0.8" stroke-dasharray="1.5,1"/>
<line x1="771.0" y1="300.3" x2="777.4" y2="291.9" stroke="#3a3a3a" stroke-width="1.1" />
<line x1="777.4" y1="291.9" x2="793.4" y2="298.3" stroke="#3a3a3a" stroke-width="1.1" />
<line x1="793.4" y1="298.3" x2="785.9" y2="307.3" stroke="#3a3a3a" stroke-width="1.1" />
<line x1="785.9" y1="307.3" x2="771.0" y2="300.3" stroke="#3a3a3a" stroke-width="1.1" />
<line x1="771.0" y1="300.3" x2="756.6" y2="291.9" stroke="#3a3a3a" stroke-width="1.1" />
<line x1="771.0" y1="300.3" x2="766.0" y2="309.7" stroke="#3a3a3a" stroke-width="1.1" />
<line x1="793.4" y1="298.3" x2="807.8" y2="306.7" stroke="#3a3a3a" stroke-width="1.1" />
<line x1="793.4" y1="298.3" x2="798.4" y2="288.9" stroke="#3a3a3a" stroke-width="1.1" />
<line x1="777.4" y1="291.9" x2="773.9" y2="286.5" stroke="#3a3a3a" stroke-width="1.1" />
<line x1="785.9" y1="307.3" x2="789.8" y2="312.7" stroke="#3a3a3a" stroke-width="1.1" />
<line x1="756.6" y1="291.9" x2="751.2" y2="295.9" stroke="#3a3a3a" stroke-width="1.1" />
<line x1="766.0" y1="309.7" x2="772.0" y2="314.7" stroke="#3a3a3a" stroke-width="1.1" />
<line x1="807.8" y1="306.7" x2="813.2" y2="302.7" stroke="#3a3a3a" stroke-width="1.1" />
<line x1="798.4" y1="288.9" x2="792.4" y2="283.9" stroke="#3a3a3a" stroke-width="1.1" />
<line x1="771.0" y1="338.1" x2="777.4" y2="329.7" stroke="#3a3a3a" stroke-width="1.1" />
<line x1="777.4" y1="329.7" x2="793.4" y2="336.1" stroke="#3a3a3a" stroke-width="1.1" />
<line x1="793.4" y1="336.1" x2="785.9" y2="345.1" stroke="#3a3a3a" stroke-width="1.1" />
<line x1="785.9" y1="345.1" x2="771.0" y2="338.1" stroke="#3a3a3a" stroke-width="1.1" />
<line x1="771.0" y1="338.1" x2="756.6" y2="329.7" stroke="#3a3a3a" stroke-width="1.1" />
<line x1="771.0" y1="338.1" x2="766.0" y2="347.5" stroke="#3a3a3a" stroke-width="1.1" />
<line x1="793.4" y1="336.1" x2="807.8" y2="344.5" stroke="#3a3a3a" stroke-width="1.1" />
<line x1="793.4" y1="336.1" x2="798.4" y2="326.7" stroke="#3a3a3a" stroke-width="1.1" />
<line x1="777.4" y1="329.7" x2="773.9" y2="324.3" stroke="#3a3a3a" stroke-width="1.1" />
<line x1="785.9" y1="345.1" x2="789.8" y2="350.5" stroke="#3a3a3a" stroke-width="1.1" />
<line x1="756.6" y1="329.7" x2="751.2" y2="333.7" stroke="#3a3a3a" stroke-width="1.1" />
<line x1="766.0" y1="347.5" x2="772.0" y2="352.5" stroke="#3a3a3a" stroke-width="1.1" />
<line x1="807.8" y1="344.5" x2="813.2" y2="340.5" stroke="#3a3a3a" stroke-width="1.1" />
<line x1="798.4" y1="326.7" x2="792.4" y2="321.7" stroke="#3a3a3a" stroke-width="1.1" />
<line x1="771.0" y1="375.9" x2="777.4" y2="367.5" stroke="#3a3a3a" stroke-width="1.1" />
<line x1="777.4" y1="367.5" x2="793.4" y2="373.9" stroke="#3a3a3a" stroke-width="1.1" />
<line x1="793.4" y1="373.9" x2="785.9" y2="382.9" stroke="#3a3a3a" stroke-width="1.1" />
<line x1="785.9" y1="382.9" x2="771.0" y2="375.9" stroke="#3a3a3a" stroke-width="1.1" />
<line x1="771.0" y1="375.9" x2="756.6" y2="367.5" stroke="#3a3a3a" stroke-width="1.1" />
<line x1="771.0" y1="375.9" x2="766.0" y2="385.3" stroke="#3a3a3a" stroke-width="1.1" />
<line x1="793.4" y1="373.9" x2="807.8" y2="382.3" stroke="#3a3a3a" stroke-width="1.1" />
<line x1="793.4" y1="373.9" x2="798.4" y2="364.5" stroke="#3a3a3a" stroke-width="1.1" />
<line x1="777.4" y1="367.5" x2="773.9" y2="362.1" stroke="#3a3a3a" stroke-width="1.1" />
<line x1="785.9" y1="382.9" x2="789.8" y2="388.3" stroke="#3a3a3a" stroke-width="1.1" />
<line x1="756.6" y1="367.5" x2="751.2" y2="371.5" stroke="#3a3a3a" stroke-width="1.1" />
<line x1="766.0" y1="385.3" x2="772.0" y2="390.3" stroke="#3a3a3a" stroke-width="1.1" />
<line x1="807.8" y1="382.3" x2="813.2" y2="378.3" stroke="#3a3a3a" stroke-width="1.1" />
<line x1="798.4" y1="364.5" x2="792.4" y2="359.5" stroke="#3a3a3a" stroke-width="1.1" />
<line x1="729.8" y1="317.2" x2="736.2" y2="325.6" stroke="#3a3a3a" stroke-width="1.1" />
<line x1="736.2" y1="325.6" x2="752.2" y2="319.2" stroke="#3a3a3a" stroke-width="1.1" />
<line x1="752.2" y1="319.2" x2="744.7" y2="310.2" stroke="#3a3a3a" stroke-width="1.1" />
<line x1="744.7" y1="310.2" x2="729.8" y2="317.2" stroke="#3a3a3a" stroke-width="1.1" />
<line x1="729.8" y1="317.2" x2="715.4" y2="325.6" stroke="#3a3a3a" stroke-width="1.1" />
<line x1="729.8" y1="317.2" x2="724.8" y2="307.8" stroke="#3a3a3a" stroke-width="1.1" />
<line x1="752.2" y1="319.2" x2="766.6" y2="310.8" stroke="#3a3a3a" stroke-width="1.1" />
<line x1="752.2" y1="319.2" x2="757.2" y2="328.6" stroke="#3a3a3a" stroke-width="1.1" />
<line x1="736.2" y1="325.6" x2="732.7" y2="331.0" stroke="#3a3a3a" stroke-width="1.1" />
<line x1="744.7" y1="310.2" x2="748.6" y2="304.8" stroke="#3a3a3a" stroke-width="1.1" />
<line x1="715.4" y1="325.6" x2="710.0" y2="321.6" stroke="#3a3a3a" stroke-width="1.1" />
<line x1="724.8" y1="307.8" x2="730.8" y2="302.8" stroke="#3a3a3a" stroke-width="1.1" />
<line x1="766.6" y1="310.8" x2="772.0" y2="314.8" stroke="#3a3a3a" stroke-width="1.1" />
<line x1="757.2" y1="328.6" x2="751.2" y2="333.6" stroke="#3a3a3a" stroke-width="1.1" />
<line x1="729.8" y1="355.0" x2="736.2" y2="363.4" stroke="#3a3a3a" stroke-width="1.1" />
<line x1="736.2" y1="363.4" x2="752.2" y2="357.0" stroke="#3a3a3a" stroke-width="1.1" />
<line x1="752.2" y1="357.0" x2="744.7" y2="348.0" stroke="#3a3a3a" stroke-width="1.1" />
<line x1="744.7" y1="348.0" x2="729.8" y2="355.0" stroke="#3a3a3a" stroke-width="1.1" />
<line x1="729.8" y1="355.0" x2="715.4" y2="363.4" stroke="#3a3a3a" stroke-width="1.1" />
<line x1="729.8" y1="355.0" x2="724.8" y2="345.6" stroke="#3a3a3a" stroke-width="1.1" />
<line x1="752.2" y1="357.0" x2="766.6" y2="348.6" stroke="#3a3a3a" stroke-width="1.1" />
<line x1="752.2" y1="357.0" x2="757.2" y2="366.4" stroke="#3a3a3a" stroke-width="1.1" />
<line x1="736.2" y1="363.4" x2="732.7" y2="368.8" stroke="#3a3a3a" stroke-width="1.1" />
<line x1="744.7" y1="348.0" x2="748.6" y2="342.6" stroke="#3a3a3a" stroke-width="1.1" />
<line x1="715.4" y1="363.4" x2="710.0" y2="359.4" stroke="#3a3a3a" stroke-width="1.1" />
<line x1="724.8" y1="345.6" x2="730.8" y2="340.6" stroke="#3a3a3a" stroke-width="1.1" />
<line x1="766.6" y1="348.6" x2="772.0" y2="352.6" stroke="#3a3a3a" stroke-width="1.1" />
<line x1="757.2" y1="366.4" x2="751.2" y2="371.4" stroke="#3a3a3a" stroke-width="1.1" />
<line x1="811.3" y1="317.2" x2="817.7" y2="325.6" stroke="#3a3a3a" stroke-width="1.1" />
<line x1="817.7" y1="325.6" x2="833.7" y2="319.2" stroke="#3a3a3a" stroke-width="1.1" />
<line x1="833.7" y1="319.2" x2="826.2" y2="310.2" stroke="#3a3a3a" stroke-width="1.1" />
<line x1="826.2" y1="310.2" x2="811.3" y2="317.2" stroke="#3a3a3a" stroke-width="1.1" />
<line x1="811.3" y1="317.2" x2="796.9" y2="325.6" stroke="#3a3a3a" stroke-width="1.1" />
<line x1="811.3" y1="317.2" x2="806.3" y2="307.8" stroke="#3a3a3a" stroke-width="1.1" />
<line x1="833.7" y1="319.2" x2="848.1" y2="310.8" stroke="#3a3a3a" stroke-width="1.1" />
<line x1="833.7" y1="319.2" x2="838.7" y2="328.6" stroke="#3a3a3a" stroke-width="1.1" />
<line x1="817.7" y1="325.6" x2="814.2" y2="331.0" stroke="#3a3a3a" stroke-width="1.1" />
<line x1="826.2" y1="310.2" x2="830.1" y2="304.8" stroke="#3a3a3a" stroke-width="1.1" />
<line x1="796.9" y1="325.6" x2="791.5" y2="321.6" stroke="#3a3a3a" stroke-width="1.1" />
<line x1="806.3" y1="307.8" x2="812.3" y2="302.8" stroke="#3a3a3a" stroke-width="1.1" />
<line x1="848.1" y1="310.8" x2="853.5" y2="314.8" stroke="#3a3a3a" stroke-width="1.1" />
<line x1="838.7" y1="328.6" x2="832.7" y2="333.6" stroke="#3a3a3a" stroke-width="1.1" />
<line x1="811.3" y1="355.0" x2="817.7" y2="363.4" stroke="#3a3a3a" stroke-width="1.1" />
<line x1="817.7" y1="363.4" x2="833.7" y2="357.0" stroke="#3a3a3a" stroke-width="1.1" />
<line x1="833.7" y1="357.0" x2="826.2" y2="348.0" stroke="#3a3a3a" stroke-width="1.1" />
<line x1="826.2" y1="348.0" x2="811.3" y2="355.0" stroke="#3a3a3a" stroke-width="1.1" />
<line x1="811.3" y1="355.0" x2="796.9" y2="363.4" stroke="#3a3a3a" stroke-width="1.1" />
<line x1="811.3" y1="355.0" x2="806.3" y2="345.6" stroke="#3a3a3a" stroke-width="1.1" />
<line x1="833.7" y1="357.0" x2="848.1" y2="348.6" stroke="#3a3a3a" stroke-width="1.1" />
<line x1="833.7" y1="357.0" x2="838.7" y2="366.4" stroke="#3a3a3a" stroke-width="1.1" />
<line x1="817.7" y1="363.4" x2="814.2" y2="368.8" stroke="#3a3a3a" stroke-width="1.1" />
<line x1="826.2" y1="348.0" x2="830.1" y2="342.6" stroke="#3a3a3a" stroke-width="1.1" />
<line x1="796.9" y1="363.4" x2="791.5" y2="359.4" stroke="#3a3a3a" stroke-width="1.1" />
<line x1="806.3" y1="345.6" x2="812.3" y2="340.6" stroke="#3a3a3a" stroke-width="1.1" />
<line x1="848.1" y1="348.6" x2="853.5" y2="352.6" stroke="#3a3a3a" stroke-width="1.1" />
<line x1="838.7" y1="366.4" x2="832.7" y2="371.4" stroke="#3a3a3a" stroke-width="1.1" />
<circle cx="773.9" cy="286.5" r="1.35" fill="#40c0d0"/>
<circle cx="789.8" cy="312.7" r="1.35" fill="#40c0d0"/>
<circle cx="751.2" cy="295.9" r="1.35" fill="#40c0d0"/>
<circle cx="772.0" cy="314.7" r="1.35" fill="#40c0d0"/>
<circle cx="813.2" cy="302.7" r="1.35" fill="#40c0d0"/>
<circle cx="792.4" cy="283.9" r="1.35" fill="#40c0d0"/>
<circle cx="773.9" cy="324.3" r="1.35" fill="#40c0d0"/>
<circle cx="789.8" cy="350.5" r="1.35" fill="#40c0d0"/>
<circle cx="751.2" cy="333.7" r="1.35" fill="#40c0d0"/>
<circle cx="772.0" cy="352.5" r="1.35" fill="#40c0d0"/>
<circle cx="813.2" cy="340.5" r="1.35" fill="#40c0d0"/>
<circle cx="792.4" cy="321.7" r="1.35" fill="#40c0d0"/>
<circle cx="773.9" cy="362.1" r="1.35" fill="#40c0d0"/>
<circle cx="789.8" cy="388.3" r="1.35" fill="#40c0d0"/>
<circle cx="751.2" cy="371.5" r="1.35" fill="#40c0d0"/>
<circle cx="772.0" cy="390.3" r="1.35" fill="#40c0d0"/>
<circle cx="813.2" cy="378.3" r="1.35" fill="#40c0d0"/>
<circle cx="792.4" cy="359.5" r="1.35" fill="#40c0d0"/>
<circle cx="732.7" cy="331.0" r="1.35" fill="#40c0d0"/>
<circle cx="748.6" cy="304.8" r="1.35" fill="#40c0d0"/>
<circle cx="710.0" cy="321.6" r="1.35" fill="#40c0d0"/>
<circle cx="730.8" cy="302.8" r="1.35" fill="#40c0d0"/>
<circle cx="732.7" cy="368.8" r="1.35" fill="#40c0d0"/>
<circle cx="748.6" cy="342.6" r="1.35" fill="#40c0d0"/>
<circle cx="710.0" cy="359.4" r="1.35" fill="#40c0d0"/>
<circle cx="730.8" cy="340.6" r="1.35" fill="#40c0d0"/>
<circle cx="772.0" cy="352.6" r="1.35" fill="#40c0d0"/>
<circle cx="751.2" cy="371.4" r="1.35" fill="#40c0d0"/>
<circle cx="814.2" cy="331.0" r="1.35" fill="#40c0d0"/>
<circle cx="830.1" cy="304.8" r="1.35" fill="#40c0d0"/>
<circle cx="812.3" cy="302.8" r="1.35" fill="#40c0d0"/>
<circle cx="853.5" cy="314.8" r="1.35" fill="#40c0d0"/>
<circle cx="832.7" cy="333.6" r="1.35" fill="#40c0d0"/>
<circle cx="814.2" cy="368.8" r="1.35" fill="#40c0d0"/>
<circle cx="830.1" cy="342.6" r="1.35" fill="#40c0d0"/>
<circle cx="791.5" cy="359.4" r="1.35" fill="#40c0d0"/>
<circle cx="812.3" cy="340.6" r="1.35" fill="#40c0d0"/>
<circle cx="853.5" cy="352.6" r="1.35" fill="#40c0d0"/>
<circle cx="832.7" cy="371.4" r="1.35" fill="#40c0d0"/>
<circle cx="778.1" cy="291.1" r="2.0" fill="#d070c0"/><circle cx="777.4" cy="291.9" r="2.25" fill="#78c048"/>
<circle cx="786.6" cy="306.5" r="2.0" fill="#d070c0"/><circle cx="785.9" cy="307.3" r="2.25" fill="#78c048"/>
<circle cx="757.3" cy="291.1" r="2.0" fill="#d070c0"/><circle cx="756.6" cy="291.9" r="2.25" fill="#78c048"/>
<circle cx="766.7" cy="308.9" r="2.0" fill="#d070c0"/><circle cx="766.0" cy="309.7" r="2.25" fill="#78c048"/>
<circle cx="808.5" cy="305.9" r="2.0" fill="#d070c0"/><circle cx="807.8" cy="306.7" r="2.25" fill="#78c048"/>
<circle cx="799.1" cy="288.1" r="2.0" fill="#d070c0"/><circle cx="798.4" cy="288.9" r="2.25" fill="#78c048"/>
<circle cx="778.1" cy="328.9" r="2.0" fill="#d070c0"/><circle cx="777.4" cy="329.7" r="2.25" fill="#78c048"/>
<circle cx="786.6" cy="344.3" r="2.0" fill="#d070c0"/><circle cx="785.9" cy="345.1" r="2.25" fill="#78c048"/>
<circle cx="757.3" cy="328.9" r="2.0" fill="#d070c0"/><circle cx="756.6" cy="329.7" r="2.25" fill="#78c048"/>
<circle cx="766.7" cy="346.7" r="2.0" fill="#d070c0"/><circle cx="766.0" cy="347.5" r="2.25" fill="#78c048"/>
<circle cx="808.5" cy="343.7" r="2.0" fill="#d070c0"/><circle cx="807.8" cy="344.5" r="2.25" fill="#78c048"/>
<circle cx="799.1" cy="325.9" r="2.0" fill="#d070c0"/><circle cx="798.4" cy="326.7" r="2.25" fill="#78c048"/>
<circle cx="778.1" cy="366.7" r="2.0" fill="#d070c0"/><circle cx="777.4" cy="367.5" r="2.25" fill="#78c048"/>
<circle cx="786.6" cy="382.1" r="2.0" fill="#d070c0"/><circle cx="785.9" cy="382.9" r="2.25" fill="#78c048"/>
<circle cx="757.3" cy="366.7" r="2.0" fill="#d070c0"/><circle cx="756.6" cy="367.5" r="2.25" fill="#78c048"/>
<circle cx="766.7" cy="384.5" r="2.0" fill="#d070c0"/><circle cx="766.0" cy="385.3" r="2.25" fill="#78c048"/>
<circle cx="808.5" cy="381.5" r="2.0" fill="#d070c0"/><circle cx="807.8" cy="382.3" r="2.25" fill="#78c048"/>
<circle cx="799.1" cy="363.7" r="2.0" fill="#d070c0"/><circle cx="798.4" cy="364.5" r="2.25" fill="#78c048"/>
<circle cx="736.9" cy="324.8" r="2.0" fill="#d070c0"/><circle cx="736.2" cy="325.6" r="2.25" fill="#78c048"/>
<circle cx="745.4" cy="309.4" r="2.0" fill="#d070c0"/><circle cx="744.7" cy="310.2" r="2.25" fill="#78c048"/>
<circle cx="716.1" cy="324.8" r="2.0" fill="#d070c0"/><circle cx="715.4" cy="325.6" r="2.25" fill="#78c048"/>
<circle cx="725.5" cy="307.0" r="2.0" fill="#d070c0"/><circle cx="724.8" cy="307.8" r="2.25" fill="#78c048"/>
<circle cx="767.3" cy="310.0" r="2.0" fill="#d070c0"/><circle cx="766.6" cy="310.8" r="2.25" fill="#78c048"/>
<circle cx="757.9" cy="327.8" r="2.0" fill="#d070c0"/><circle cx="757.2" cy="328.6" r="2.25" fill="#78c048"/>
<circle cx="736.9" cy="362.6" r="2.0" fill="#d070c0"/><circle cx="736.2" cy="363.4" r="2.25" fill="#78c048"/>
<circle cx="745.4" cy="347.2" r="2.0" fill="#d070c0"/><circle cx="744.7" cy="348.0" r="2.25" fill="#78c048"/>
<circle cx="716.1" cy="362.6" r="2.0" fill="#d070c0"/><circle cx="715.4" cy="363.4" r="2.25" fill="#78c048"/>
<circle cx="725.5" cy="344.8" r="2.0" fill="#d070c0"/><circle cx="724.8" cy="345.6" r="2.25" fill="#78c048"/>
<circle cx="767.3" cy="347.8" r="2.0" fill="#d070c0"/><circle cx="766.6" cy="348.6" r="2.25" fill="#78c048"/>
<circle cx="757.9" cy="365.6" r="2.0" fill="#d070c0"/><circle cx="757.2" cy="366.4" r="2.25" fill="#78c048"/>
<circle cx="818.4" cy="324.8" r="2.0" fill="#d070c0"/><circle cx="817.7" cy="325.6" r="2.25" fill="#78c048"/>
<circle cx="826.9" cy="309.4" r="2.0" fill="#d070c0"/><circle cx="826.2" cy="310.2" r="2.25" fill="#78c048"/>
<circle cx="797.6" cy="324.8" r="2.0" fill="#d070c0"/><circle cx="796.9" cy="325.6" r="2.25" fill="#78c048"/>
<circle cx="807.0" cy="307.0" r="2.0" fill="#d070c0"/><circle cx="806.3" cy="307.8" r="2.25" fill="#78c048"/>
<circle cx="848.8" cy="310.0" r="2.0" fill="#d070c0"/><circle cx="848.1" cy="310.8" r="2.25" fill="#78c048"/>
<circle cx="839.4" cy="327.8" r="2.0" fill="#d070c0"/><circle cx="838.7" cy="328.6" r="2.25" fill="#78c048"/>
<circle cx="818.4" cy="362.6" r="2.0" fill="#d070c0"/><circle cx="817.7" cy="363.4" r="2.25" fill="#78c048"/>
<circle cx="826.9" cy="347.2" r="2.0" fill="#d070c0"/><circle cx="826.2" cy="348.0" r="2.25" fill="#78c048"/>
<circle cx="797.6" cy="362.6" r="2.0" fill="#d070c0"/><circle cx="796.9" cy="363.4" r="2.25" fill="#78c048"/>
<circle cx="807.0" cy="344.8" r="2.0" fill="#d070c0"/><circle cx="806.3" cy="345.6" r="2.25" fill="#78c048"/>
<circle cx="848.8" cy="347.8" r="2.0" fill="#d070c0"/><circle cx="848.1" cy="348.6" r="2.25" fill="#78c048"/>
<circle cx="839.4" cy="365.6" r="2.0" fill="#d070c0"/><circle cx="838.7" cy="366.4" r="2.25" fill="#78c048"/>
<circle cx="771.0" cy="300.3" r="3.1" fill="#8a2a62"/>
<circle cx="793.4" cy="298.3" r="3.1" fill="#8a2a62"/>
<circle cx="771.0" cy="338.1" r="3.1" fill="#8a2a62"/>
<circle cx="793.4" cy="336.1" r="3.1" fill="#8a2a62"/>
<circle cx="771.0" cy="375.9" r="3.1" fill="#8a2a62"/>
<circle cx="793.4" cy="373.9" r="3.1" fill="#8a2a62"/>
<circle cx="729.8" cy="317.2" r="3.1" fill="#8a2a62"/>
<circle cx="752.2" cy="319.2" r="3.1" fill="#8a2a62"/>
<circle cx="729.8" cy="355.0" r="3.1" fill="#8a2a62"/>
<circle cx="752.2" cy="357.0" r="3.1" fill="#8a2a62"/>
<circle cx="811.3" cy="317.2" r="3.1" fill="#8a2a62"/>
<circle cx="833.7" cy="319.2" r="3.1" fill="#8a2a62"/>
<circle cx="811.3" cy="355.0" r="3.1" fill="#8a2a62"/>
<circle cx="833.7" cy="357.0" r="3.1" fill="#8a2a62"/>
<line x1="723.8" y1="394.0" x2="723.8" y2="385.0" stroke="#222" stroke-width="1.1" />
<path d="M722.5,386 L723.8,383 L725.1,386 Z" fill="#222"/>
<line x1="723.8" y1="394.0" x2="733.0" y2="394.0" stroke="#222" stroke-width="1.1" />
<path d="M732,392.7 L735,394 L732,395.3 Z" fill="#222"/>
<text x="722.5" y="380.5" font-size="6.8" font-weight="bold" text-anchor="middle" fill="#222" >b</text>
<text x="735.5" y="396.2" font-size="6.8" font-weight="bold" text-anchor="start" fill="#222" >a</text>
<circle cx="829.5" cy="379.0" r="1.9" fill="#8a2a62"/>
<text x="831.8" y="380.8" font-size="5" font-weight="bold" text-anchor="start" fill="#333" >Co</text>
<circle cx="829.5" cy="384.5" r="1.9" fill="#d070c0"/>
<text x="831.8" y="386.3" font-size="5" font-weight="bold" text-anchor="start" fill="#333" >F</text>
<circle cx="829.5" cy="390.0" r="1.9" fill="#78c048"/>
<text x="831.8" y="391.8" font-size="5" font-weight="bold" text-anchor="start" fill="#333" >O</text>
<circle cx="829.5" cy="395.5" r="1.9" fill="#40c0d0"/>
<text x="831.8" y="397.3" font-size="5" font-weight="bold" text-anchor="start" fill="#333" >H</text>
<defs>
<linearGradient id="hx1" x1="0" y1="0" x2="1" y2="1"><stop offset="0" stop-color="#b83898"/><stop offset="1" stop-color="#f4c8e8"/></linearGradient>
<linearGradient id="hx2" x1="1" y1="0" x2="0" y2="1"><stop offset="0" stop-color="#c04aa4"/><stop offset="1" stop-color="#f0c0e0"/></linearGradient>
<linearGradient id="hx3" x1="0" y1="1" x2="1" y2="0"><stop offset="0" stop-color="#c850a8"/><stop offset="1" stop-color="#f8d8f0"/></linearGradient>
<radialGradient id="sph" cx="0.5" cy="0.5" r="0.5"><stop offset="0" stop-color="#404040"/><stop offset="0.5" stop-color="#9a6a90"/><stop offset="1" stop-color="#d8a0d0" stop-opacity="0.3"/></radialGradient>
</defs>
<text x="10.0" y="286.5" font-size="16.3" font-weight="bold" text-anchor="start" fill="#111" >k</text>
<text x="10.2" y="364.0" font-size="16.3" font-weight="bold" text-anchor="start" fill="#111" stroke="#111" stroke-width="0.6">l</text>
<text x="42.0" y="288.5" font-size="7.6" font-weight="bold" text-anchor="start" fill="#b050a8" >growth</text>
<text x="31.5" y="367.5" font-size="7.6" font-weight="bold" text-anchor="start" fill="#7a3a5a" >substructures</text>
<polygon points="115.8,268.4 109.2,276.3 99.1,274.7 95.4,265.0 102.0,257.1 112.1,258.7" fill="url(#hx1)" stroke="#fff" stroke-width="0.4"/>
<polygon points="132.4,279.3 122.8,282.9 114.9,276.3 116.6,266.1 126.2,262.5 134.1,269.1" fill="url(#hx2)" stroke="#fff" stroke-width="0.4"/>
<polygon points="101.8,281.7 91.4,286.2 82.3,279.5 83.6,268.3 94.0,263.8 103.1,270.5" fill="url(#hx1)" stroke="#fff" stroke-width="0.4"/>
<polygon points="117.7,290.7 109.8,295.7 101.6,291.4 101.1,282.1 109.0,277.1 117.2,281.4" fill="url(#hx3)" stroke="#fff" stroke-width="0.4"/>
<polygon points="134.6,287.8 127.6,295.4 117.6,293.2 114.4,283.4 121.4,275.8 131.4,278.0" fill="url(#hx2)" stroke="#fff" stroke-width="0.4"/>
<polygon points="103.7,295.9 92.8,298.8 84.9,290.7 87.9,279.9 98.8,277.0 106.7,285.1" fill="url(#hx1)" stroke="#fff" stroke-width="0.4"/>
<polygon points="95.1,304.9 85.1,307.4 78.0,299.9 80.9,290.1 90.9,287.6 98.0,295.1" fill="url(#hx3)" stroke="#fff" stroke-width="0.4"/>
<polygon points="127.5,305.1 118.6,310.3 109.6,305.2 109.5,294.9 118.4,289.7 127.4,294.8" fill="url(#hx1)" stroke="#fff" stroke-width="0.4"/>
<polygon points="110.7,307.3 101.0,313.1 91.1,307.6 90.9,296.3 100.6,290.5 110.5,296.0" fill="url(#hx2)" stroke="#fff" stroke-width="0.4"/>
<text x="109.0" y="322.5" font-size="7.6" font-weight="bold" text-anchor="middle" fill="#a0489a" >Co(OH)<tspan font-size="5" dy="2">2</tspan></text>
<text x="135.5" y="283.5" font-size="7.5" font-weight="bold" text-anchor="start" fill="#a050a0" >F substitution</text>
<line x1="135.5" y1="286.5" x2="186.0" y2="286.5" stroke="#a0489a" stroke-width="1.2" />
<path d="M184,284 L190,286.5 L184,289 Z" fill="#a0489a"/>
<ellipse cx="222" cy="285" rx="27" ry="22" fill="#e0a8d8" opacity="0.5"/>
<line x1="224.3" y1="273.9" x2="232.3" y2="296.9" stroke="#d888cc" stroke-width="2.530374481956817" />
<line x1="188.6" y1="274.9" x2="215.4" y2="287.5" stroke="#c060b0" stroke-width="2.1270333177213683" />
<line x1="230.9" y1="285.7" x2="234.1" y2="304.9" stroke="#c868b8" stroke-width="1.3303559449717959" />
<line x1="250.2" y1="280.9" x2="254.9" y2="295.8" stroke="#b04aa0" stroke-width="1.7487155207310066" />
<line x1="220.3" y1="272.8" x2="207.7" y2="287.7" stroke="#c868b8" stroke-width="1.2840741659346244" />
<line x1="223.1" y1="284.2" x2="236.4" y2="290.2" stroke="#e0a0d8" stroke-width="1.2425176003616893" />
<line x1="223.2" y1="255.9" x2="215.9" y2="270.0" stroke="#e0a0d8" stroke-width="2.221745560425971" />
<line x1="223.5" y1="295.7" x2="233.4" y2="303.8" stroke="#b04aa0" stroke-width="1.6107225944703807" />
<line x1="212.6" y1="271.6" x2="204.6" y2="287.4" stroke="#d888cc" stroke-width="2.5670030910444854" />
<line x1="240.6" y1="278.0" x2="249.3" y2="290.4" stroke="#c868b8" stroke-width="2.510347231955426" />
<line x1="222.4" y1="273.9" x2="233.1" y2="280.4" stroke="#c868b8" stroke-width="1.7246239347272696" />
<line x1="235.2" y1="273.8" x2="246.1" y2="287.5" stroke="#d888cc" stroke-width="1.3595929535979037" />
<line x1="223.5" y1="288.3" x2="227.4" y2="300.6" stroke="#c060b0" stroke-width="1.5747691656530822" />
<line x1="242.7" y1="272.8" x2="227.2" y2="274.8" stroke="#d888cc" stroke-width="2.1988436533972715" />
<line x1="230.9" y1="262.0" x2="231.1" y2="288.2" stroke="#b04aa0" stroke-width="2.404525413523321" />
<line x1="240.8" y1="270.4" x2="233.1" y2="296.7" stroke="#e0a0d8" stroke-width="1.3931034037189172" />
<line x1="231.8" y1="267.2" x2="206.0" y2="269.4" stroke="#b04aa0" stroke-width="1.8856561174370277" />
<line x1="219.8" y1="268.2" x2="229.9" y2="277.5" stroke="#c868b8" stroke-width="1.5955279471291555" />
<line x1="211.0" y1="282.7" x2="236.5" y2="293.3" stroke="#c060b0" stroke-width="2.4927131195331453" />
<line x1="253.0" y1="270.0" x2="225.8" y2="274.6" stroke="#d888cc" stroke-width="1.9762900206207625" />
<line x1="213.9" y1="271.9" x2="201.0" y2="288.6" stroke="#d888cc" stroke-width="1.9336559479868727" />
<line x1="225.5" y1="265.1" x2="212.6" y2="280.9" stroke="#d888cc" stroke-width="1.7202038822536982" />
<line x1="203.0" y1="278.7" x2="217.2" y2="288.4" stroke="#e0a0d8" stroke-width="2.0116415193799857" />
<line x1="225.7" y1="300.0" x2="243.9" y2="307.2" stroke="#d888cc" stroke-width="1.54371419797079" />
<line x1="236.8" y1="277.0" x2="220.3" y2="282.9" stroke="#c868b8" stroke-width="1.5398471048999585" />
<line x1="231.2" y1="264.1" x2="220.4" y2="270.6" stroke="#c868b8" stroke-width="2.359018108647677" />
<line x1="217.1" y1="286.4" x2="222.1" y2="310.5" stroke="#d888cc" stroke-width="1.7617959547544517" />
<line x1="220.8" y1="270.5" x2="233.7" y2="279.8" stroke="#b04aa0" stroke-width="1.6158392144517326" />
<line x1="216.7" y1="274.4" x2="239.6" y2="292.9" stroke="#c868b8" stroke-width="2.171041432554545" />
<line x1="238.4" y1="266.6" x2="227.4" y2="287.8" stroke="#e0a0d8" stroke-width="1.2472436032834586" />
<line x1="210.7" y1="280.0" x2="211.6" y2="292.0" stroke="#c060b0" stroke-width="1.5881268257763306" />
<line x1="228.2" y1="291.1" x2="212.8" y2="296.7" stroke="#b04aa0" stroke-width="1.7648280341271936" />
<line x1="228.0" y1="264.2" x2="219.2" y2="290.0" stroke="#c868b8" stroke-width="2.275650310871188" />
<line x1="237.1" y1="266.8" x2="229.6" y2="276.6" stroke="#c868b8" stroke-width="1.889419160168944" />
<line x1="225.1" y1="295.0" x2="208.8" y2="298.2" stroke="#e0a0d8" stroke-width="1.7572016995257518" />
<line x1="233.0" y1="303.1" x2="223.4" y2="311.6" stroke="#c868b8" stroke-width="1.5392318020963365" />
<line x1="232.9" y1="280.0" x2="208.8" y2="283.4" stroke="#b04aa0" stroke-width="1.5821174008882424" />
<line x1="228.3" y1="282.9" x2="241.3" y2="304.5" stroke="#e0a0d8" stroke-width="1.3969700431254772" />
<line x1="223.2" y1="286.5" x2="242.3" y2="289.2" stroke="#c868b8" stroke-width="2.4060007796928806" />
<line x1="216.8" y1="273.5" x2="217.2" y2="294.0" stroke="#b04aa0" stroke-width="1.872067980930816" />
<line x1="215.2" y1="283.2" x2="189.6" y2="291.4" stroke="#b04aa0" stroke-width="1.5292078557331912" />
<line x1="230.3" y1="271.4" x2="242.7" y2="297.5" stroke="#e0a0d8" stroke-width="2.4736431242338437" />
<line x1="212.6" y1="280.8" x2="220.0" y2="308.8" stroke="#e0a0d8" stroke-width="1.254377234250525" />
<line x1="216.2" y1="260.3" x2="224.3" y2="285.8" stroke="#c868b8" stroke-width="2.474009918019635" />
<line x1="215.0" y1="284.8" x2="199.2" y2="297.4" stroke="#d888cc" stroke-width="2.41951470240679" />
<path d="M211.4,266.3 L204.5,277.1 L209.5,279.0 Z" fill="url(#hx1)"/>
<circle cx="210" cy="270" r="4.2" fill="url(#hx2)"/>
<path d="M241.0,265.9 L240.4,253.0 L235.2,254.4 Z" fill="url(#hx1)"/>
<circle cx="240" cy="262" r="4.2" fill="url(#hx2)"/>
<path d="M230.7,286.2 L232.3,299.0 L237.4,297.2 Z" fill="url(#hx1)"/>
<circle cx="232" cy="290" r="4.2" fill="url(#hx2)"/>
<path d="M217.5,301.2 L211.8,289.6 L207.6,292.9 Z" fill="url(#hx1)"/>
<circle cx="215" cy="298" r="4.2" fill="url(#hx2)"/>
<path d="M248.9,281.2 L236.0,281.1 L237.1,286.3 Z" fill="url(#hx1)"/>
<circle cx="245" cy="282" r="4.2" fill="url(#hx2)"/>
<path d="M205.6,284.0 L201.0,296.1 L206.3,296.9 Z" fill="url(#hx1)"/>
<circle cx="205" cy="288" r="4.2" fill="url(#hx2)"/>
<path d="M227.2,272.6 L218.1,281.8 L222.6,284.7 Z" fill="url(#hx1)"/>
<circle cx="225" cy="276" r="4.2" fill="url(#hx2)"/>
<path d="M232.5,304.9 L244.8,301.1 L242.2,296.5 Z" fill="url(#hx1)"/>
<circle cx="236" cy="303" r="4.2" fill="url(#hx2)"/>
<path d="M197.4,280.0 L202.0,267.9 L196.7,267.1 Z" fill="url(#hx1)"/>
<circle cx="198" cy="276" r="4.2" fill="url(#hx2)"/>
<text x="222.0" y="322.5" font-size="7.6" font-weight="bold" text-anchor="middle" fill="#a0489a" >Co(OH)<tspan font-size="5" dy="2">2</tspan><tspan dy="-2"> &amp; Co(OH)F</tspan></text>
<text x="280.0" y="281.5" font-size="7.5" font-weight="bold" text-anchor="middle" fill="#a050a0" >nanostructure</text>
<text x="280.0" y="292.0" font-size="7.5" font-weight="bold" text-anchor="middle" fill="#a050a0" >construction</text>
<line x1="255.0" y1="284.5" x2="300.0" y2="284.5" stroke="#a0489a" stroke-width="1.2" />
<path d="M298,282 L304,284.5 L298,287 Z" fill="#a0489a"/>
<circle cx="339" cy="283" r="25.5" fill="#d8a0d0" opacity="0.55"/>
<line x1="333.3" y1="298.5" x2="346.3" y2="305.7" stroke="#e090d8" stroke-width="1.5660791906853238" />
<line x1="339.0" y1="302.4" x2="337.2" y2="313.9" stroke="#a8a0a8" stroke-width="1.3384920866698444" />
<line x1="321.2" y1="260.6" x2="328.3" y2="275.5" stroke="#d8a0d0" stroke-width="1.4577843724718402" />
<line x1="348.6" y1="279.6" x2="347.6" y2="287.3" stroke="#a8a0a8" stroke-width="1.551677113434407" />
<line x1="345.4" y1="295.4" x2="351.3" y2="308.7" stroke="#a8a0a8" stroke-width="1.054632531191584" />
<line x1="345.3" y1="262.3" x2="335.0" y2="268.0" stroke="#d070c0" stroke-width="1.6889331406727102" />
<line x1="355.4" y1="257.6" x2="344.6" y2="264.5" stroke="#e090d8" stroke-width="1.3394032715928765" />
<line x1="367.9" y1="267.6" x2="359.2" y2="280.9" stroke="#e090d8" stroke-width="1.6822645781061778" />
<line x1="333.4" y1="296.0" x2="318.9" y2="297.4" stroke="#b84aa8" stroke-width="1.1866166471830624" />
<line x1="335.1" y1="281.3" x2="325.3" y2="290.4" stroke="#d8a0d0" stroke-width="1.5639227064826735" />
<line x1="351.5" y1="255.3" x2="338.5" y2="258.1" stroke="#b84aa8" stroke-width="0.9797069103940392" />
<line x1="345.0" y1="263.3" x2="343.8" y2="274.8" stroke="#a8a0a8" stroke-width="0.9219014783356498" />
<line x1="333.7" y1="280.7" x2="330.3" y2="292.9" stroke="#b84aa8" stroke-width="1.6158563009379794" />
<line x1="333.9" y1="302.4" x2="335.0" y2="314.2" stroke="#b84aa8" stroke-width="0.9428491313615525" />
<line x1="322.1" y1="279.5" x2="317.3" y2="295.1" stroke="#b84aa8" stroke-width="1.181903361598401" />
<line x1="340.8" y1="265.8" x2="331.2" y2="273.7" stroke="#d8a0d0" stroke-width="1.6080227839043921" />
<line x1="352.0" y1="293.6" x2="338.8" y2="298.9" stroke="#a8a0a8" stroke-width="1.4282545218276286" />
<line x1="330.0" y1="256.4" x2="327.8" y2="268.2" stroke="#c858b8" stroke-width="1.3630703848822325" />
<line x1="323.2" y1="267.7" x2="325.0" y2="278.5" stroke="#a8a0a8" stroke-width="1.52037352733497" />
<line x1="341.9" y1="306.2" x2="327.4" y2="306.8" stroke="#d8a0d0" stroke-width="1.6234114519188698" />
<line x1="326.8" y1="263.5" x2="331.8" y2="279.1" stroke="#a8a0a8" stroke-width="1.1636775228537721" />
<line x1="322.1" y1="282.4" x2="318.7" y2="293.7" stroke="#d070c0" stroke-width="0.9043684240628044" />
<line x1="351.7" y1="297.9" x2="360.5" y2="304.9" stroke="#d070c0" stroke-width="1.212741302043646" />
<line x1="316.6" y1="269.9" x2="315.9" y2="277.7" stroke="#c858b8" stroke-width="1.5044978733487886" />
<line x1="359.6" y1="282.2" x2="371.1" y2="284.8" stroke="#b84aa8" stroke-width="1.6035946296648378" />
<line x1="327.9" y1="276.7" x2="320.0" y2="279.0" stroke="#d8a0d0" stroke-width="1.641510251187357" />
<line x1="340.9" y1="277.4" x2="335.2" y2="287.3" stroke="#a8a0a8" stroke-width="1.543402932789374" />
<line x1="366.6" y1="267.0" x2="352.8" y2="269.7" stroke="#d070c0" stroke-width="1.3910361500389046" />
<line x1="314.6" y1="263.7" x2="327.9" y2="271.0" stroke="#b84aa8" stroke-width="1.281962207771183" />
<line x1="355.9" y1="295.7" x2="354.6" y2="306.9" stroke="#d8a0d0" stroke-width="1.6530297103769866" />
<line x1="341.4" y1="266.0" x2="357.3" y2="269.9" stroke="#d070c0" stroke-width="1.1364097506218762" />
<line x1="345.9" y1="286.8" x2="353.1" y2="290.4" stroke="#b84aa8" stroke-width="1.0601494728229202" />
<line x1="334.5" y1="260.3" x2="345.8" y2="269.9" stroke="#d8a0d0" stroke-width="1.0844955985833025" />
<line x1="330.6" y1="262.1" x2="329.3" y2="271.0" stroke="#d8a0d0" stroke-width="1.0545191201611916" />
<line x1="344.2" y1="291.4" x2="337.3" y2="296.0" stroke="#d8a0d0" stroke-width="1.4862445223855514" />
<line x1="331.3" y1="280.7" x2="339.9" y2="286.6" stroke="#c858b8" stroke-width="1.1381245916078768" />
<line x1="355.1" y1="301.2" x2="349.6" y2="307.5" stroke="#d070c0" stroke-width="1.048474175089513" />
<line x1="308.5" y1="285.0" x2="322.4" y2="288.7" stroke="#a8a0a8" stroke-width="1.5398140463699528" />
<line x1="341.1" y1="261.7" x2="335.0" y2="275.4" stroke="#c858b8" stroke-width="1.4432822977841826" />
<line x1="343.2" y1="286.8" x2="355.1" y2="287.5" stroke="#d070c0" stroke-width="1.466685059865307" />
<line x1="366.2" y1="286.0" x2="353.7" y2="290.5" stroke="#c858b8" stroke-width="1.284426985713441" />
<line x1="359.8" y1="291.3" x2="351.1" y2="299.3" stroke="#c858b8" stroke-width="1.5708184066486317" />
<line x1="335.3" y1="273.3" x2="339.0" y2="284.8" stroke="#e090d8" stroke-width="1.040828064083587" />
<line x1="308.5" y1="283.9" x2="321.3" y2="287.4" stroke="#d8a0d0" stroke-width="1.1399552214556727" />
<line x1="327.5" y1="267.7" x2="321.3" y2="273.6" stroke="#e090d8" stroke-width="1.219835851889326" />
<line x1="330.1" y1="295.5" x2="335.2" y2="304.4" stroke="#a8a0a8" stroke-width="1.4173022721850457" />
<line x1="327.3" y1="279.8" x2="338.1" y2="289.3" stroke="#d8a0d0" stroke-width="1.031769668128589" />
<line x1="359.2" y1="285.8" x2="349.9" y2="287.5" stroke="#a8a0a8" stroke-width="1.5272510785061302" />
<line x1="355.9" y1="256.4" x2="351.0" y2="264.3" stroke="#d8a0d0" stroke-width="0.9739056312862615" />
<line x1="324.4" y1="261.1" x2="320.5" y2="270.5" stroke="#c858b8" stroke-width="1.0780468705378607" />
<line x1="346.4" y1="288.5" x2="335.5" y2="299.4" stroke="#d070c0" stroke-width="1.3952042965701954" />
<line x1="337.7" y1="293.2" x2="332.2" y2="308.6" stroke="#d070c0" stroke-width="1.568836040792756" />
<line x1="345.4" y1="266.6" x2="348.1" y2="275.8" stroke="#a8a0a8" stroke-width="1.1604441894820936" />
<line x1="369.3" y1="283.6" x2="354.3" y2="283.7" stroke="#d070c0" stroke-width="1.6393136504238637" />
<line x1="333.9" y1="303.0" x2="338.9" y2="308.7" stroke="#e090d8" stroke-width="1.1292974727233298" />
<line x1="333.5" y1="303.4" x2="344.1" y2="314.0" stroke="#a8a0a8" stroke-width="1.2169643083474284" />
<line x1="354.9" y1="282.8" x2="363.0" y2="287.7" stroke="#d8a0d0" stroke-width="1.0062833287958752" />
<line x1="315.0" y1="296.7" x2="330.3" y2="302.6" stroke="#b84aa8" stroke-width="1.0028240124814574" />
<line x1="321.2" y1="292.0" x2="314.4" y2="301.5" stroke="#d070c0" stroke-width="0.9523626140693527" />
<line x1="349.5" y1="289.3" x2="357.8" y2="300.7" stroke="#c858b8" stroke-width="1.262698887073383" />
<line x1="344.2" y1="293.5" x2="330.0" y2="297.6" stroke="#d8a0d0" stroke-width="1.1398751303385397" />
<line x1="351.2" y1="266.5" x2="345.2" y2="274.0" stroke="#a8a0a8" stroke-width="1.331731904280691" />
<line x1="319.8" y1="277.0" x2="334.0" y2="278.0" stroke="#d070c0" stroke-width="1.5118289686305446" />
<line x1="333.8" y1="291.8" x2="329.6" y2="301.8" stroke="#a8a0a8" stroke-width="1.0900293798421374" />
<line x1="328.3" y1="293.6" x2="319.9" y2="303.2" stroke="#b84aa8" stroke-width="1.2793802431410006" />
<line x1="310.2" y1="288.2" x2="317.7" y2="297.7" stroke="#d8a0d0" stroke-width="1.0976094681897806" />
<line x1="334.0" y1="290.9" x2="347.2" y2="297.7" stroke="#b84aa8" stroke-width="0.9696965275513386" />
<line x1="334.2" y1="270.6" x2="339.7" y2="281.9" stroke="#e090d8" stroke-width="1.652965589804631" />
<line x1="319.8" y1="278.3" x2="306.1" y2="285.9" stroke="#c858b8" stroke-width="1.5353127123418413" />
<line x1="315.9" y1="274.3" x2="322.4" y2="283.1" stroke="#e090d8" stroke-width="1.6748377271151171" />
<line x1="342.2" y1="294.7" x2="339.4" y2="303.2" stroke="#c858b8" stroke-width="1.6858369984104231" />
<line x1="359.0" y1="282.2" x2="352.7" y2="286.6" stroke="#b84aa8" stroke-width="1.0807250607514853" />
<line x1="326.9" y1="287.2" x2="320.6" y2="292.2" stroke="#d8a0d0" stroke-width="1.490571075854605" />
<line x1="339.3" y1="280.8" x2="340.4" y2="297.1" stroke="#c858b8" stroke-width="0.9198421179199797" />
<line x1="330.1" y1="277.8" x2="316.2" y2="279.5" stroke="#b84aa8" stroke-width="0.920327807811775" />
<line x1="333.3" y1="273.4" x2="325.0" y2="282.0" stroke="#b84aa8" stroke-width="1.0131586396019852" />
<line x1="322.5" y1="292.7" x2="316.3" y2="300.0" stroke="#e090d8" stroke-width="1.0897709127168707" />
<line x1="323.6" y1="294.9" x2="322.0" y2="307.4" stroke="#d8a0d0" stroke-width="1.098262009869207" />
<line x1="334.4" y1="303.3" x2="329.7" y2="312.3" stroke="#d070c0" stroke-width="1.430960422521008" />
<line x1="369.9" y1="279.8" x2="360.3" y2="290.1" stroke="#d070c0" stroke-width="1.1159577966680996" />
<line x1="351.2" y1="258.3" x2="348.0" y2="271.1" stroke="#c858b8" stroke-width="0.9503649497626292" />
<line x1="354.7" y1="264.8" x2="342.1" y2="271.0" stroke="#d8a0d0" stroke-width="1.220840168973342" />
<line x1="330.5" y1="288.8" x2="344.0" y2="292.8" stroke="#d070c0" stroke-width="1.2007896036010708" />
<line x1="369.5" y1="279.5" x2="357.8" y2="284.5" stroke="#e090d8" stroke-width="1.5963941284082859" />
<line x1="347.7" y1="284.3" x2="339.5" y2="289.8" stroke="#d8a0d0" stroke-width="1.1712077815559059" />
<line x1="342.7" y1="263.3" x2="354.0" y2="274.9" stroke="#a8a0a8" stroke-width="1.0787802912623359" />
<line x1="361.0" y1="293.1" x2="350.8" y2="297.8" stroke="#c858b8" stroke-width="0.9154968492973711" />
<line x1="327.0" y1="291.5" x2="323.9" y2="301.1" stroke="#d8a0d0" stroke-width="0.9632759898346291" />
<line x1="333.6" y1="271.2" x2="346.1" y2="280.4" stroke="#b84aa8" stroke-width="1.4122068363726363" />
<line x1="335.0" y1="285.7" x2="322.8" y2="292.6" stroke="#c858b8" stroke-width="1.3600358345097465" />
<line x1="346.8" y1="269.7" x2="358.4" y2="274.6" stroke="#d070c0" stroke-width="1.1535271005315013" />
<line x1="324.2" y1="268.0" x2="333.6" y2="270.7" stroke="#d8a0d0" stroke-width="0.9718951099504463" />
<line x1="345.7" y1="258.9" x2="337.4" y2="261.2" stroke="#d8a0d0" stroke-width="1.4901826702052006" />
<line x1="316.7" y1="269.9" x2="327.4" y2="270.5" stroke="#a8a0a8" stroke-width="1.6564963383048457" />
<line x1="333.7" y1="256.1" x2="340.3" y2="262.4" stroke="#e090d8" stroke-width="1.5295544526476288" />
<line x1="344.3" y1="273.8" x2="357.1" y2="282.4" stroke="#c858b8" stroke-width="1.4321446410462748" />
<line x1="320.3" y1="278.7" x2="330.5" y2="279.2" stroke="#d8a0d0" stroke-width="1.369955045334379" />
<line x1="335.2" y1="282.2" x2="333.0" y2="297.6" stroke="#a8a0a8" stroke-width="1.2351600319687466" />
<line x1="331.2" y1="255.0" x2="336.0" y2="270.7" stroke="#d070c0" stroke-width="1.2458937205286402" />
<line x1="358.6" y1="263.4" x2="347.2" y2="264.0" stroke="#e090d8" stroke-width="0.9240621000399237" />
<line x1="313.1" y1="271.1" x2="329.1" y2="273.6" stroke="#c858b8" stroke-width="0.9397417738909567" />
<line x1="354.7" y1="284.5" x2="365.7" y2="295.6" stroke="#d8a0d0" stroke-width="1.504065817927086" />
<line x1="348.5" y1="285.4" x2="348.6" y2="298.0" stroke="#d8a0d0" stroke-width="1.3369125366283434" />
<line x1="352.9" y1="286.5" x2="362.7" y2="294.3" stroke="#d8a0d0" stroke-width="1.6356895277977141" />
<line x1="343.2" y1="295.8" x2="338.7" y2="304.5" stroke="#d8a0d0" stroke-width="1.67605759360813" />
<line x1="361.8" y1="263.2" x2="351.9" y2="264.9" stroke="#d070c0" stroke-width="1.1045713817719194" />
<line x1="341.4" y1="263.6" x2="340.4" y2="275.5" stroke="#a8a0a8" stroke-width="1.1800630499845974" />
<line x1="360.3" y1="279.5" x2="357.3" y2="291.7" stroke="#e090d8" stroke-width="1.1719214040814432" />
<line x1="340.1" y1="264.3" x2="330.7" y2="267.9" stroke="#c858b8" stroke-width="1.6196680355092115" />
<line x1="329.3" y1="279.7" x2="321.3" y2="291.5" stroke="#c858b8" stroke-width="1.3017664166695058" />
<line x1="329.9" y1="264.1" x2="334.1" y2="279.6" stroke="#d8a0d0" stroke-width="1.2276444202464138" />
<line x1="311.0" y1="268.5" x2="318.3" y2="275.3" stroke="#d070c0" stroke-width="0.9682331802845671" />
<line x1="340.3" y1="298.0" x2="341.2" y2="312.5" stroke="#e090d8" stroke-width="1.346427159348107" />
<line x1="342.3" y1="281.2" x2="336.0" y2="289.0" stroke="#d8a0d0" stroke-width="1.1938256316002758" />
<line x1="337.4" y1="286.7" x2="329.3" y2="298.5" stroke="#d8a0d0" stroke-width="1.176608466161314" />
<line x1="336.5" y1="259.4" x2="348.0" y2="259.7" stroke="#a8a0a8" stroke-width="1.541031727717403" />
<line x1="361.3" y1="261.1" x2="355.8" y2="268.7" stroke="#e090d8" stroke-width="0.9419616089782994" />
<line x1="350.0" y1="303.2" x2="348.0" y2="311.6" stroke="#e090d8" stroke-width="0.9909468200697276" />
<line x1="331.7" y1="257.9" x2="334.1" y2="268.0" stroke="#a8a0a8" stroke-width="1.106423490565367" />
<line x1="329.6" y1="270.7" x2="329.9" y2="281.3" stroke="#d8a0d0" stroke-width="1.453267505695051" />
<line x1="318.4" y1="264.3" x2="312.3" y2="275.7" stroke="#e090d8" stroke-width="1.652444141926824" />
<line x1="317.1" y1="277.2" x2="321.4" y2="287.8" stroke="#d8a0d0" stroke-width="1.6944314777390734" />
<line x1="339.7" y1="293.9" x2="352.5" y2="301.6" stroke="#c858b8" stroke-width="0.9240121834004574" />
<line x1="327.8" y1="284.8" x2="329.5" y2="294.1" stroke="#b84aa8" stroke-width="1.514203294701299" />
<line x1="358.0" y1="272.9" x2="355.2" y2="281.5" stroke="#d070c0" stroke-width="1.3219856840621347" />
<line x1="320.3" y1="300.9" x2="326.0" y2="305.9" stroke="#c858b8" stroke-width="1.490908768176481" />
<line x1="330.4" y1="278.9" x2="336.5" y2="289.0" stroke="#b84aa8" stroke-width="1.69330848577568" />
<line x1="324.5" y1="277.2" x2="337.7" y2="280.7" stroke="#d8a0d0" stroke-width="1.227916619756176" />
<line x1="309.8" y1="269.9" x2="323.5" y2="276.9" stroke="#e090d8" stroke-width="1.1819930853471832" />
<line x1="323.6" y1="276.5" x2="314.5" y2="283.9" stroke="#c858b8" stroke-width="1.6694465702985937" />
<line x1="358.0" y1="266.6" x2="351.1" y2="279.0" stroke="#c858b8" stroke-width="0.9505612537184802" />
<line x1="330.3" y1="284.4" x2="341.7" y2="285.9" stroke="#e090d8" stroke-width="0.9985028328526819" />
<line x1="345.7" y1="259.7" x2="356.5" y2="272.1" stroke="#d070c0" stroke-width="1.2469104588345163" />
<line x1="310.7" y1="275.3" x2="325.1" y2="282.0" stroke="#a8a0a8" stroke-width="1.5202936680972816" />
<line x1="314.1" y1="290.2" x2="325.0" y2="291.7" stroke="#a8a0a8" stroke-width="1.6020475961431235" />
<line x1="328.4" y1="273.6" x2="322.6" y2="281.0" stroke="#b84aa8" stroke-width="1.0030192307621717" />
<line x1="347.0" y1="279.7" x2="333.4" y2="280.1" stroke="#c858b8" stroke-width="1.0811914767848287" />
<line x1="368.8" y1="287.0" x2="353.7" y2="293.7" stroke="#c858b8" stroke-width="1.3348737023548096" />
<line x1="322.6" y1="293.4" x2="312.7" y2="296.0" stroke="#a8a0a8" stroke-width="1.2530867812352937" />
<line x1="324.8" y1="266.6" x2="314.0" y2="276.0" stroke="#c858b8" stroke-width="1.1924771794760993" />
<line x1="341.4" y1="296.8" x2="334.2" y2="302.2" stroke="#d8a0d0" stroke-width="0.964184668197189" />
<line x1="347.2" y1="299.6" x2="358.6" y2="300.6" stroke="#b84aa8" stroke-width="1.3535992354639539" />
<line x1="344.6" y1="265.7" x2="338.3" y2="273.0" stroke="#e090d8" stroke-width="1.5574249749201503" />
<line x1="358.1" y1="276.2" x2="355.5" y2="286.0" stroke="#a8a0a8" stroke-width="1.367746160580045" />
<line x1="347.0" y1="264.4" x2="345.6" y2="272.6" stroke="#d8a0d0" stroke-width="1.0016243356546424" />
<line x1="337.5" y1="277.6" x2="321.3" y2="279.7" stroke="#d070c0" stroke-width="1.3457694278555308" />
<line x1="342.2" y1="252.9" x2="351.0" y2="265.8" stroke="#b84aa8" stroke-width="1.2288554678116945" />
<line x1="335.5" y1="287.1" x2="345.0" y2="292.9" stroke="#c858b8" stroke-width="1.3815735509869045" />
<line x1="324.4" y1="295.2" x2="318.5" y2="301.4" stroke="#c858b8" stroke-width="1.103261170714812" />
<line x1="330.7" y1="257.5" x2="321.5" y2="263.2" stroke="#e090d8" stroke-width="1.0933670789364514" />
<line x1="337.0" y1="297.1" x2="349.2" y2="298.6" stroke="#444" stroke-width="1.2926648824926963" />
<line x1="322.7" y1="288.5" x2="332.6" y2="291.7" stroke="#444" stroke-width="1.2539078007044329" />
<line x1="350.2" y1="281.7" x2="344.0" y2="283.5" stroke="#333" stroke-width="1.007243869901413" />
<line x1="320.7" y1="280.9" x2="331.9" y2="284.4" stroke="#333" stroke-width="1.0374431825888668" />
<line x1="329.5" y1="294.2" x2="333.3" y2="303.5" stroke="#444" stroke-width="1.0786972160724722" />
<line x1="332.3" y1="284.8" x2="343.5" y2="290.7" stroke="#333" stroke-width="1.2764192234779674" />
<line x1="337.0" y1="270.1" x2="328.7" y2="278.2" stroke="#333" stroke-width="0.9995901845672347" />
<line x1="338.7" y1="275.6" x2="334.7" y2="281.5" stroke="#222" stroke-width="1.303634584063066" />
<line x1="340.7" y1="285.4" x2="353.7" y2="286.8" stroke="#222" stroke-width="1.1566944757692512" />
<line x1="345.7" y1="289.6" x2="344.4" y2="301.4" stroke="#333" stroke-width="1.0970454610560725" />
<line x1="346.7" y1="280.1" x2="350.1" y2="292.1" stroke="#444" stroke-width="0.8851160562013364" />
<line x1="334.3" y1="297.7" x2="325.4" y2="298.6" stroke="#222" stroke-width="1.2743255921324939" />
<line x1="341.7" y1="279.8" x2="348.3" y2="284.7" stroke="#444" stroke-width="1.3183342459944223" />
<line x1="330.4" y1="292.9" x2="339.0" y2="299.0" stroke="#222" stroke-width="0.8517144202430771" />
<line x1="341.8" y1="295.6" x2="338.0" y2="308.5" stroke="#222" stroke-width="1.2444885209541896" />
<line x1="329.3" y1="275.8" x2="327.5" y2="284.9" stroke="#444" stroke-width="0.9348533811895852" />
<line x1="339.0" y1="279.4" x2="350.9" y2="279.9" stroke="#333" stroke-width="1.343947797406746" />
<line x1="331.1" y1="278.8" x2="324.9" y2="287.5" stroke="#333" stroke-width="1.1827095550776268" />
<line x1="335.8" y1="292.1" x2="329.3" y2="297.1" stroke="#333" stroke-width="1.1893589649314282" />
<line x1="354.3" y1="290.6" x2="346.2" y2="294.9" stroke="#444" stroke-width="1.2576618816843703" />
<line x1="331.6" y1="286.6" x2="324.9" y2="286.8" stroke="#444" stroke-width="1.233875580721605" />
<line x1="349.5" y1="277.4" x2="356.4" y2="288.9" stroke="#222" stroke-width="1.2934864696281823" />
<line x1="343.1" y1="284.2" x2="347.6" y2="296.0" stroke="#444" stroke-width="1.1140143398616886" />
<line x1="345.8" y1="279.0" x2="351.7" y2="284.8" stroke="#333" stroke-width="1.0123053384923195" />
<line x1="333.8" y1="297.0" x2="340.4" y2="297.0" stroke="#222" stroke-width="1.2849250410400543" />
<line x1="343.7" y1="279.6" x2="337.4" y2="280.1" stroke="#333" stroke-width="0.8960894831834255" />
<line x1="324.3" y1="285.4" x2="332.0" y2="289.4" stroke="#444" stroke-width="1.1809152953858126" />
<line x1="332.3" y1="274.8" x2="326.3" y2="278.3" stroke="#444" stroke-width="1.2385671914243557" />
<line x1="356.9" y1="290.1" x2="347.7" y2="293.6" stroke="#222" stroke-width="0.9883764636548993" />
<line x1="345.2" y1="286.9" x2="334.2" y2="291.9" stroke="#333" stroke-width="0.9859510478027165" />
<line x1="332.6" y1="284.7" x2="343.0" y2="287.9" stroke="#222" stroke-width="0.9741023540168585" />
<line x1="334.8" y1="281.5" x2="334.6" y2="288.2" stroke="#222" stroke-width="1.1451915005223137" />
<line x1="341.9" y1="274.7" x2="350.8" y2="278.0" stroke="#333" stroke-width="0.9547568382327456" />
<line x1="344.4" y1="295.4" x2="350.9" y2="298.6" stroke="#444" stroke-width="1.23937476745491" />
<line x1="333.1" y1="296.6" x2="338.3" y2="304.4" stroke="#222" stroke-width="1.1836888855834415" />
<line x1="329.2" y1="290.5" x2="326.8" y2="302.5" stroke="#444" stroke-width="1.122983626104872" />
<line x1="335.1" y1="272.8" x2="327.4" y2="281.5" stroke="#222" stroke-width="1.1882678623132203" />
<line x1="337.6" y1="273.8" x2="336.2" y2="280.6" stroke="#444" stroke-width="0.9638004461877697" />
<line x1="350.2" y1="291.8" x2="339.0" y2="294.3" stroke="#333" stroke-width="0.83163528252546" />
<line x1="342.3" y1="290.7" x2="339.9" y2="298.5" stroke="#444" stroke-width="1.189575644357274" />
<line x1="337.9" y1="279.4" x2="340.4" y2="290.4" stroke="#333" stroke-width="0.9033289711939002" />
<line x1="334.0" y1="280.1" x2="325.0" y2="280.5" stroke="#444" stroke-width="0.9035905660908921" />
<line x1="334.9" y1="286.6" x2="324.5" y2="292.6" stroke="#333" stroke-width="1.2305201504168612" />
<line x1="334.2" y1="293.0" x2="328.7" y2="301.8" stroke="#444" stroke-width="0.8301765932185591" />
<line x1="350.6" y1="286.7" x2="340.6" y2="292.5" stroke="#333" stroke-width="0.9041108929759687" />
<line x1="352.0" y1="277.5" x2="349.2" y2="286.7" stroke="#333" stroke-width="1.116026335614969" />
<line x1="329.3" y1="288.5" x2="326.5" y2="293.8" stroke="#333" stroke-width="0.9398348046384335" />
<line x1="346.0" y1="295.3" x2="337.5" y2="299.7" stroke="#444" stroke-width="1.1207795535142602" />
<line x1="324.3" y1="284.6" x2="336.5" y2="284.8" stroke="#333" stroke-width="1.376184671346747" />
<line x1="337.3" y1="291.5" x2="335.2" y2="302.7" stroke="#333" stroke-width="0.8064638783379363" />
<text x="339.0" y="322.5" font-size="7.6" font-weight="bold" text-anchor="middle" fill="#a0489a" >Co(OH)F</text>
<defs><linearGradient id="rodg" x1="0" y1="0" x2="1" y2="0"><stop offset="0" stop-color="#e8b0e0"/><stop offset="1" stop-color="#a83890"/></linearGradient></defs>
<path d="M95.0,351.9 L126.0,352.8 L126.0,350.2 L95.0,351.1 Z" fill="#b850a8"/>
<path d="M96.9,356.4 L125.5,368.2 L126.5,365.8 L97.1,355.6 Z" fill="#b850a8"/>
<path d="M94.8,361.3 L118.2,380.5 L119.8,378.5 L95.2,360.7 Z" fill="#b850a8"/>
<text x="111.0" y="396.0" font-size="7.6" font-weight="bold" text-anchor="middle" fill="#6a3050" >1D nanorod</text>
<line x1="134.0" y1="364.5" x2="184.0" y2="364.5" stroke="#a0489a" stroke-width="1.2" />
<path d="M182,362 L188,364.5 L182,367 Z" fill="#a0489a"/>
<line x1="193.3" y1="353.0" x2="211.0" y2="362.0" stroke="#a8a8a8" stroke-width="1.6834577527125139" />
<line x1="189.4" y1="370.1" x2="209.9" y2="379.6" stroke="#8a8a8a" stroke-width="1.8393945109010075" />
<line x1="200.4" y1="344.5" x2="193.1" y2="365.9" stroke="#a8a8a8" stroke-width="1.9837873373888368" />
<line x1="202.1" y1="357.0" x2="189.6" y2="377.9" stroke="#8a8a8a" stroke-width="1.472717470871195" />
<line x1="189.4" y1="361.4" x2="213.9" y2="367.3" stroke="#a8a8a8" stroke-width="2.3008272288740046" />
<line x1="187.0" y1="354.3" x2="207.5" y2="362.6" stroke="#8a8a8a" stroke-width="1.8348969004137836" />
<line x1="215.7" y1="341.9" x2="208.5" y2="363.4" stroke="#9a9a9a" stroke-width="1.4215017472456377" />
<line x1="200.3" y1="373.3" x2="217.2" y2="376.8" stroke="#9a9a9a" stroke-width="2.345732874633463" />
<line x1="207.9" y1="354.7" x2="197.3" y2="377.1" stroke="#a8a8a8" stroke-width="1.8637488597770817" />
<line x1="186.8" y1="369.0" x2="207.7" y2="378.2" stroke="#8a8a8a" stroke-width="2.386538191590499" />
<line x1="217.2" y1="363.8" x2="206.7" y2="384.3" stroke="#e8b0e0" stroke-width="1.801225553813599" />
<line x1="186.6" y1="371.8" x2="208.2" y2="379.2" stroke="#e8b0e0" stroke-width="1.988924220576994" />
<line x1="189.5" y1="363.8" x2="204.5" y2="371.6" stroke="#e8b0e0" stroke-width="2.097449610412469" />
<line x1="207.1" y1="367.3" x2="198.5" y2="382.5" stroke="#e8b0e0" stroke-width="1.9320170855564844" />
<line x1="190.7" y1="351.0" x2="209.6" y2="356.2" stroke="#e090d8" stroke-width="1.2643659233135933" />
<line x1="193.4" y1="362.2" x2="208.0" y2="367.5" stroke="#e8b0e0" stroke-width="1.876088018131227" />
<line x1="188.5" y1="373.4" x2="207.2" y2="380.5" stroke="#c060b0" stroke-width="2.0937201073094394" />
<line x1="205.4" y1="346.0" x2="224.0" y2="353.7" stroke="#e090d8" stroke-width="1.6112436155058159" />
<line x1="208.4" y1="372.3" x2="228.3" y2="379.6" stroke="#c060b0" stroke-width="1.414115922761689" />
<line x1="207.6" y1="367.1" x2="201.5" y2="383.1" stroke="#e8b0e0" stroke-width="1.811965717603289" />
<line x1="219.2" y1="364.8" x2="210.6" y2="381.8" stroke="#e8b0e0" stroke-width="1.997491971339974" />
<line x1="215.3" y1="348.2" x2="207.9" y2="363.2" stroke="#e090d8" stroke-width="2.1035501440930164" />
<line x1="208.4" y1="345.8" x2="195.6" y2="366.0" stroke="#d070c0" stroke-width="1.8105245487820498" />
<line x1="209.2" y1="367.4" x2="228.8" y2="376.3" stroke="#e8b0e0" stroke-width="2.0030433989954446" />
<line x1="196.0" y1="357.0" x2="209.5" y2="361.6" stroke="#e090d8" stroke-width="2.0728165895901562" />
<line x1="210.7" y1="341.7" x2="203.9" y2="364.6" stroke="#c060b0" stroke-width="1.8220701860179986" />
<line x1="228.9" y1="363.9" x2="245.9" y2="369.5" stroke="#a8a8a8" stroke-width="1.7273409499706873" />
<line x1="225.4" y1="353.0" x2="247.1" y2="361.4" stroke="#8a8a8a" stroke-width="1.7694493113501877" />
<line x1="233.3" y1="345.3" x2="228.0" y2="363.6" stroke="#9a9a9a" stroke-width="1.7886943668572175" />
<line x1="231.0" y1="365.0" x2="220.2" y2="385.8" stroke="#9a9a9a" stroke-width="1.912015475294817" />
<line x1="232.9" y1="342.6" x2="223.7" y2="365.4" stroke="#8a8a8a" stroke-width="1.6642625954682795" />
<line x1="234.0" y1="350.2" x2="257.9" y2="357.5" stroke="#9a9a9a" stroke-width="1.7233408617728168" />
<line x1="231.1" y1="343.0" x2="217.7" y2="363.9" stroke="#a8a8a8" stroke-width="1.5183713145282551" />
<line x1="229.7" y1="344.7" x2="219.0" y2="367.7" stroke="#9a9a9a" stroke-width="1.7458696453215992" />
<line x1="233.8" y1="366.8" x2="222.2" y2="387.5" stroke="#9a9a9a" stroke-width="1.8838442478967046" />
<line x1="233.9" y1="363.3" x2="226.2" y2="379.1" stroke="#8a8a8a" stroke-width="2.203245379125664" />
<line x1="216.0" y1="354.9" x2="237.2" y2="360.5" stroke="#c060b0" stroke-width="1.4835704106895469" />
<line x1="251.9" y1="346.7" x2="244.6" y2="369.7" stroke="#c060b0" stroke-width="1.3561157808078175" />
<line x1="234.9" y1="361.4" x2="259.1" y2="369.2" stroke="#c060b0" stroke-width="2.129063340933109" />
<line x1="239.2" y1="368.8" x2="232.7" y2="384.1" stroke="#e090d8" stroke-width="1.2613579101580503" />
<line x1="243.6" y1="343.7" x2="237.7" y2="357.5" stroke="#e8b0e0" stroke-width="2.0571899071295716" />
<line x1="231.9" y1="373.8" x2="249.9" y2="381.2" stroke="#d070c0" stroke-width="1.7501148320228186" />
<line x1="232.0" y1="369.0" x2="255.1" y2="380.0" stroke="#d070c0" stroke-width="1.286881428564586" />
<line x1="247.1" y1="346.3" x2="237.6" y2="369.1" stroke="#e090d8" stroke-width="1.818337719077339" />
<line x1="244.6" y1="343.4" x2="237.0" y2="361.5" stroke="#c060b0" stroke-width="1.9378249388601727" />
<line x1="232.1" y1="349.0" x2="248.1" y2="355.9" stroke="#e090d8" stroke-width="2.1435072987148818" />
<line x1="244.4" y1="365.5" x2="238.1" y2="379.2" stroke="#e090d8" stroke-width="1.360223722651924" />
<line x1="250.7" y1="344.7" x2="241.1" y2="359.9" stroke="#e090d8" stroke-width="2.155382256757966" />
<line x1="220.0" y1="375.0" x2="240.4" y2="380.2" stroke="#e8b0e0" stroke-width="1.2811380899099027" />
<line x1="217.9" y1="365.1" x2="237.6" y2="374.3" stroke="#d070c0" stroke-width="1.4003345712011124" />
<line x1="224.2" y1="354.7" x2="241.3" y2="358.9" stroke="#e090d8" stroke-width="1.9469885950398957" />
<line x1="222.5" y1="360.6" x2="238.5" y2="365.1" stroke="#d070c0" stroke-width="1.5478866406488923" />
<text x="223.0" y="396.0" font-size="7.6" font-weight="bold" text-anchor="middle" fill="#6a3050" >2D nanoflake</text>
<line x1="260.0" y1="364.0" x2="296.0" y2="364.0" stroke="#a0489a" stroke-width="1.2" />
<path d="M294,361.5 L300,364 L294,366.5 Z" fill="#a0489a"/>
<circle cx="345" cy="347.6" r="14.4" fill="#d8a0d0" opacity="0.55"/>
<line x1="350.7" y1="344.6" x2="346.4" y2="349.7" stroke="#c858b8" stroke-width="1.2254835905674335" />
<line x1="353.5" y1="344.6" x2="347.2" y2="344.7" stroke="#e090d8" stroke-width="1.6722042461997217" />
<line x1="345.0" y1="344.6" x2="344.1" y2="351.0" stroke="#e090d8" stroke-width="0.9554947504937846" />
<line x1="345.9" y1="350.9" x2="351.2" y2="357.2" stroke="#d8a0d0" stroke-width="0.9982562056627149" />
<line x1="355.9" y1="347.9" x2="357.6" y2="352.3" stroke="#d8a0d0" stroke-width="1.4369411581304576" />
<line x1="350.2" y1="338.5" x2="356.4" y2="341.4" stroke="#b84aa8" stroke-width="1.4628470848777924" />
<line x1="345.9" y1="354.1" x2="340.9" y2="358.1" stroke="#b84aa8" stroke-width="1.425251219961899" />
<line x1="338.9" y1="348.7" x2="346.5" y2="348.8" stroke="#b84aa8" stroke-width="1.285505190233503" />
<line x1="355.4" y1="355.7" x2="352.0" y2="358.9" stroke="#a8a0a8" stroke-width="1.379524840224219" />
<line x1="340.2" y1="354.8" x2="341.8" y2="361.7" stroke="#a8a0a8" stroke-width="1.469641439798479" />
<line x1="349.8" y1="356.8" x2="345.1" y2="359.5" stroke="#b84aa8" stroke-width="1.2624169146860307" />
<line x1="355.3" y1="340.9" x2="361.0" y2="346.1" stroke="#a8a0a8" stroke-width="1.5023159439697633" />
<line x1="355.2" y1="339.0" x2="352.8" y2="343.0" stroke="#a8a0a8" stroke-width="1.5561225601807553" />
<line x1="353.9" y1="350.7" x2="359.4" y2="350.8" stroke="#d8a0d0" stroke-width="0.9346593864490821" />
<line x1="341.5" y1="344.3" x2="336.5" y2="349.7" stroke="#b84aa8" stroke-width="1.5781460623213088" />
<line x1="356.0" y1="347.8" x2="350.8" y2="348.0" stroke="#e090d8" stroke-width="1.5347658583556272" />
<line x1="355.1" y1="358.0" x2="349.2" y2="358.1" stroke="#e090d8" stroke-width="1.1924116388106578" />
<line x1="350.2" y1="349.8" x2="343.7" y2="356.1" stroke="#d070c0" stroke-width="1.5047247415235852" />
<line x1="352.8" y1="336.4" x2="358.6" y2="340.4" stroke="#c858b8" stroke-width="1.1899473838521062" />
<line x1="345.5" y1="346.3" x2="342.5" y2="351.0" stroke="#d8a0d0" stroke-width="1.0782226611230028" />
<line x1="338.7" y1="336.8" x2="346.2" y2="341.7" stroke="#c858b8" stroke-width="1.1918952810495342" />
<line x1="333.4" y1="350.7" x2="333.7" y2="355.0" stroke="#b84aa8" stroke-width="1.4550811915466617" />
<line x1="343.7" y1="355.4" x2="343.5" y2="364.4" stroke="#d070c0" stroke-width="1.2874918547391552" />
<line x1="350.3" y1="359.3" x2="346.9" y2="363.7" stroke="#b84aa8" stroke-width="1.6343463305063102" />
<line x1="343.9" y1="360.1" x2="339.4" y2="362.5" stroke="#d070c0" stroke-width="1.1506779522249133" />
<line x1="344.1" y1="350.7" x2="346.3" y2="354.9" stroke="#a8a0a8" stroke-width="1.1860058833947844" />
<line x1="344.6" y1="349.5" x2="350.8" y2="352.3" stroke="#e090d8" stroke-width="1.11202493759899" />
<line x1="332.9" y1="340.6" x2="332.3" y2="349.9" stroke="#d070c0" stroke-width="1.672623952957745" />
<line x1="347.7" y1="345.8" x2="345.7" y2="352.8" stroke="#c858b8" stroke-width="1.169303311368087" />
<line x1="356.1" y1="343.7" x2="360.1" y2="346.8" stroke="#a8a0a8" stroke-width="1.4756981102965196" />
<line x1="342.6" y1="349.9" x2="336.8" y2="350.9" stroke="#d070c0" stroke-width="1.5857488954763206" />
<line x1="334.0" y1="341.5" x2="335.5" y2="349.2" stroke="#a8a0a8" stroke-width="1.2773020615268142" />
<line x1="357.9" y1="339.9" x2="349.6" y2="343.0" stroke="#e090d8" stroke-width="1.420775439893557" />
<line x1="355.0" y1="354.9" x2="358.4" y2="359.6" stroke="#b84aa8" stroke-width="1.5854940148296457" />
<line x1="354.3" y1="354.9" x2="357.5" y2="360.2" stroke="#a8a0a8" stroke-width="1.2391950564070688" />
<line x1="355.0" y1="355.6" x2="347.4" y2="358.2" stroke="#a8a0a8" stroke-width="1.5341750502740956" />
<line x1="346.8" y1="340.7" x2="340.2" y2="342.0" stroke="#d8a0d0" stroke-width="1.0381788452713314" />
<line x1="351.3" y1="357.6" x2="347.7" y2="364.1" stroke="#b84aa8" stroke-width="1.3255994455363669" />
<line x1="342.8" y1="347.5" x2="336.7" y2="349.7" stroke="#d070c0" stroke-width="1.3587598456939154" />
<line x1="340.0" y1="347.3" x2="341.3" y2="354.6" stroke="#a8a0a8" stroke-width="1.6224850005662332" />
<line x1="337.6" y1="361.4" x2="342.3" y2="361.6" stroke="#e090d8" stroke-width="1.1020552718087848" />
<line x1="348.2" y1="349.4" x2="343.3" y2="351.5" stroke="#b84aa8" stroke-width="1.354313973674585" />
<line x1="362.8" y1="346.0" x2="355.5" y2="346.6" stroke="#d070c0" stroke-width="1.389472434325024" />
<line x1="339.7" y1="340.6" x2="341.6" y2="347.1" stroke="#a8a0a8" stroke-width="1.4482053766865584" />
<line x1="356.0" y1="340.5" x2="358.5" y2="346.9" stroke="#d070c0" stroke-width="1.1707135664385688" />
<line x1="341.7" y1="337.7" x2="334.1" y2="338.9" stroke="#d070c0" stroke-width="1.3585972143378127" />
<line x1="344.9" y1="357.3" x2="337.1" y2="358.8" stroke="#d070c0" stroke-width="0.9492234979318104" />
<line x1="339.0" y1="354.2" x2="338.5" y2="359.9" stroke="#d8a0d0" stroke-width="1.1762338672429338" />
<line x1="346.2" y1="334.0" x2="350.9" y2="334.2" stroke="#a8a0a8" stroke-width="1.1518828923916578" />
<line x1="351.8" y1="354.3" x2="354.3" y2="360.7" stroke="#d070c0" stroke-width="0.9520113239492812" />
<line x1="357.0" y1="347.2" x2="352.7" y2="352.6" stroke="#d8a0d0" stroke-width="1.040888626329331" />
<line x1="348.0" y1="351.1" x2="350.7" y2="358.8" stroke="#e090d8" stroke-width="1.3645754433403439" />
<line x1="338.7" y1="347.3" x2="334.3" y2="351.3" stroke="#d8a0d0" stroke-width="1.5461583939562291" />
<line x1="358.8" y1="349.3" x2="350.4" y2="352.2" stroke="#d070c0" stroke-width="1.3189770943772392" />
<line x1="341.1" y1="345.4" x2="345.4" y2="345.6" stroke="#d070c0" stroke-width="1.0718096382259916" />
<line x1="355.0" y1="332.7" x2="349.3" y2="336.2" stroke="#d070c0" stroke-width="1.2509214772986066" />
<line x1="349.9" y1="348.3" x2="351.4" y2="357.0" stroke="#a8a0a8" stroke-width="1.5748715109456723" />
<line x1="338.1" y1="352.9" x2="332.2" y2="353.5" stroke="#c858b8" stroke-width="1.3691741318526884" />
<line x1="353.1" y1="341.4" x2="351.4" y2="348.7" stroke="#d8a0d0" stroke-width="1.5607724688153688" />
<line x1="330.1" y1="347.4" x2="336.8" y2="352.5" stroke="#e090d8" stroke-width="1.2409919241902438" />
<line x1="343.8" y1="347.6" x2="347.2" y2="351.9" stroke="#d8a0d0" stroke-width="1.2250693640122403" />
<line x1="347.6" y1="353.9" x2="354.3" y2="360.0" stroke="#d070c0" stroke-width="1.0813754334728212" />
<line x1="338.3" y1="348.2" x2="332.3" y2="352.7" stroke="#a8a0a8" stroke-width="1.2930540373293518" />
<line x1="338.1" y1="343.0" x2="339.3" y2="351.5" stroke="#d070c0" stroke-width="1.3187244249882921" />
<line x1="343.6" y1="352.1" x2="345.1" y2="358.7" stroke="#d8a0d0" stroke-width="1.288054596559074" />
<line x1="361.8" y1="344.5" x2="357.7" y2="348.6" stroke="#b84aa8" stroke-width="1.264702009795664" />
<line x1="341.8" y1="336.6" x2="340.5" y2="345.5" stroke="#e090d8" stroke-width="1.2144541782125775" />
<line x1="347.8" y1="335.5" x2="347.5" y2="340.8" stroke="#d8a0d0" stroke-width="1.1490511545991204" />
<line x1="338.2" y1="348.9" x2="345.9" y2="352.2" stroke="#b84aa8" stroke-width="1.5021385529837694" />
<line x1="337.2" y1="354.8" x2="332.9" y2="355.8" stroke="#b84aa8" stroke-width="1.2339446200548154" />
<line x1="347.2" y1="334.4" x2="355.5" y2="337.9" stroke="#c858b8" stroke-width="1.504252254487473" />
<line x1="343.2" y1="341.6" x2="343.7" y2="347.6" stroke="#e090d8" stroke-width="1.0850223602521547" />
<line x1="341.7" y1="354.6" x2="349.2" y2="359.6" stroke="#c858b8" stroke-width="1.4071449555966726" />
<line x1="346.7" y1="359.5" x2="350.6" y2="362.4" stroke="#a8a0a8" stroke-width="1.2022610842930732" />
<line x1="339.0" y1="357.2" x2="345.4" y2="359.1" stroke="#d070c0" stroke-width="0.9789890785692024" />
<line x1="346.0" y1="342.4" x2="340.1" y2="343.4" stroke="#333" stroke-width="0.855982507837352" />
<line x1="339.6" y1="344.9" x2="344.2" y2="349.0" stroke="#333" stroke-width="1.3761989037088962" />
<line x1="342.8" y1="351.7" x2="341.1" y2="358.3" stroke="#222" stroke-width="1.357975726783656" />
<line x1="353.3" y1="346.7" x2="347.0" y2="348.4" stroke="#444" stroke-width="1.3212092235189883" />
<line x1="344.4" y1="339.5" x2="344.5" y2="346.9" stroke="#333" stroke-width="1.0355231349114475" />
<line x1="349.6" y1="354.6" x2="344.9" y2="358.6" stroke="#222" stroke-width="1.2203668209157899" />
<line x1="348.2" y1="348.1" x2="353.2" y2="348.2" stroke="#444" stroke-width="1.3268808924694597" />
<line x1="353.6" y1="348.0" x2="352.3" y2="351.4" stroke="#333" stroke-width="0.8478200553038722" />
<line x1="347.8" y1="347.9" x2="352.6" y2="348.7" stroke="#333" stroke-width="1.125177447168975" />
<line x1="351.4" y1="342.2" x2="350.9" y2="346.4" stroke="#444" stroke-width="1.203109264792745" />
<line x1="342.3" y1="344.2" x2="343.3" y2="347.5" stroke="#333" stroke-width="0.9156618879660907" />
<line x1="337.5" y1="349.2" x2="344.3" y2="350.1" stroke="#222" stroke-width="1.3163090151408112" />
<line x1="342.9" y1="350.5" x2="339.9" y2="355.1" stroke="#444" stroke-width="1.3622505683768495" />
<line x1="350.1" y1="351.4" x2="350.0" y2="358.7" stroke="#333" stroke-width="1.392500252785356" />
<line x1="341.6" y1="350.5" x2="334.4" y2="352.3" stroke="#444" stroke-width="1.1574748520694407" />
<line x1="352.7" y1="345.7" x2="347.5" y2="348.2" stroke="#333" stroke-width="1.2891410554332623" />
<line x1="352.5" y1="353.8" x2="346.6" y2="357.9" stroke="#333" stroke-width="1.3033791098877385" />
<line x1="352.8" y1="344.5" x2="352.6" y2="348.9" stroke="#444" stroke-width="0.921990722186726" />
<line x1="351.3" y1="353.0" x2="345.0" y2="355.1" stroke="#444" stroke-width="0.928384183643207" />
<line x1="340.5" y1="355.7" x2="346.3" y2="356.3" stroke="#444" stroke-width="1.2051177045027417" />
<line x1="343.4" y1="352.7" x2="339.7" y2="355.3" stroke="#222" stroke-width="1.1243333810123814" />
<line x1="351.2" y1="342.6" x2="348.7" y2="349.1" stroke="#222" stroke-width="0.9806613940624681" />
<line x1="342.3" y1="343.2" x2="344.6" y2="346.4" stroke="#222" stroke-width="0.8680293638986587" />
<line x1="348.9" y1="355.1" x2="352.4" y2="355.2" stroke="#333" stroke-width="0.9639477781656491" />
<line x1="342.4" y1="350.2" x2="341.0" y2="354.7" stroke="#333" stroke-width="0.8541641629237637" />
<circle cx="319.4" cy="366.2" r="15.3" fill="#d8a0d0" opacity="0.55"/>
<line x1="330.5" y1="369.8" x2="338.8" y2="370.0" stroke="#c858b8" stroke-width="1.0930053195938787" />
<line x1="313.5" y1="367.2" x2="309.6" y2="370.4" stroke="#d070c0" stroke-width="0.9323790710598029" />
<line x1="314.4" y1="356.1" x2="316.1" y2="361.3" stroke="#d8a0d0" stroke-width="1.2028218008886116" />
<line x1="326.5" y1="360.1" x2="332.5" y2="361.5" stroke="#d8a0d0" stroke-width="1.587376837836418" />
<line x1="306.8" y1="367.1" x2="302.7" y2="370.0" stroke="#b84aa8" stroke-width="1.1315025113752544" />
<line x1="323.9" y1="358.8" x2="327.2" y2="362.8" stroke="#e090d8" stroke-width="1.5907951408844831" />
<line x1="324.5" y1="362.3" x2="326.4" y2="368.3" stroke="#a8a0a8" stroke-width="1.5242342776859967" />
<line x1="334.6" y1="367.6" x2="334.1" y2="372.7" stroke="#c858b8" stroke-width="1.4008278231798816" />
<line x1="323.9" y1="354.7" x2="321.3" y2="361.0" stroke="#d8a0d0" stroke-width="1.639838395188841" />
<line x1="325.6" y1="367.2" x2="319.3" y2="372.4" stroke="#d070c0" stroke-width="1.2921215347844202" />
<line x1="312.3" y1="357.0" x2="307.1" y2="359.6" stroke="#d8a0d0" stroke-width="1.345017562210019" />
<line x1="328.1" y1="355.8" x2="322.8" y2="355.8" stroke="#d070c0" stroke-width="0.9723686591825841" />
<line x1="311.9" y1="372.4" x2="313.4" y2="380.3" stroke="#b84aa8" stroke-width="1.0965916493675987" />
<line x1="309.6" y1="369.5" x2="310.8" y2="379.0" stroke="#a8a0a8" stroke-width="1.262173270092497" />
<line x1="321.2" y1="374.1" x2="327.9" y2="376.3" stroke="#c858b8" stroke-width="1.5067772770604608" />
<line x1="309.4" y1="369.1" x2="308.5" y2="373.8" stroke="#e090d8" stroke-width="1.54529151613378" />
<line x1="317.1" y1="377.2" x2="321.4" y2="386.0" stroke="#c858b8" stroke-width="1.2407584940844356" />
<line x1="326.4" y1="352.9" x2="325.0" y2="361.1" stroke="#b84aa8" stroke-width="1.470306586064769" />
<line x1="326.2" y1="350.1" x2="317.8" y2="354.7" stroke="#d070c0" stroke-width="0.9262100152783453" />
<line x1="334.4" y1="356.6" x2="327.5" y2="363.6" stroke="#d8a0d0" stroke-width="1.2224471192955022" />
<line x1="327.0" y1="352.1" x2="321.6" y2="355.7" stroke="#e090d8" stroke-width="1.544955896505221" />
<line x1="326.6" y1="357.6" x2="331.7" y2="358.5" stroke="#a8a0a8" stroke-width="1.1094805173315505" />
<line x1="317.1" y1="361.1" x2="319.8" y2="365.4" stroke="#c858b8" stroke-width="1.5484305921871688" />
<line x1="329.3" y1="357.7" x2="336.9" y2="360.2" stroke="#d8a0d0" stroke-width="1.110456875481151" />
<line x1="309.2" y1="364.1" x2="303.3" y2="364.1" stroke="#a8a0a8" stroke-width="1.0582817243395999" />
<line x1="330.9" y1="368.6" x2="329.9" y2="374.9" stroke="#c858b8" stroke-width="1.5375828578027568" />
<line x1="313.3" y1="365.2" x2="318.2" y2="372.4" stroke="#c858b8" stroke-width="1.2878309668750965" />
<line x1="335.5" y1="356.1" x2="327.8" y2="361.6" stroke="#d8a0d0" stroke-width="1.355335991248984" />
<line x1="323.9" y1="357.7" x2="317.6" y2="364.5" stroke="#a8a0a8" stroke-width="0.9167456208847443" />
<line x1="327.0" y1="357.6" x2="323.2" y2="363.7" stroke="#c858b8" stroke-width="1.0477900899996264" />
<line x1="327.3" y1="350.2" x2="319.0" y2="351.4" stroke="#d070c0" stroke-width="1.2279492603610231" />
<line x1="322.8" y1="373.8" x2="314.0" y2="378.0" stroke="#e090d8" stroke-width="1.6415408800973845" />
<line x1="318.5" y1="378.4" x2="324.3" y2="379.2" stroke="#d070c0" stroke-width="1.4263287761828458" />
<line x1="305.2" y1="371.6" x2="307.9" y2="380.5" stroke="#d070c0" stroke-width="1.1704445125512923" />
<line x1="330.6" y1="362.6" x2="327.6" y2="371.4" stroke="#e090d8" stroke-width="1.6867866570905456" />
<line x1="318.7" y1="356.2" x2="317.4" y2="365.3" stroke="#b84aa8" stroke-width="0.93584799074905" />
<line x1="333.3" y1="368.6" x2="323.9" y2="368.6" stroke="#c858b8" stroke-width="1.0844812379420223" />
<line x1="327.0" y1="349.8" x2="328.8" y2="357.1" stroke="#b84aa8" stroke-width="1.291804204946624" />
<line x1="322.0" y1="365.5" x2="318.2" y2="369.3" stroke="#c858b8" stroke-width="0.9195225309114737" />
<line x1="330.9" y1="378.3" x2="321.9" y2="379.4" stroke="#d8a0d0" stroke-width="1.6376772312845702" />
<line x1="315.3" y1="377.3" x2="309.7" y2="379.3" stroke="#b84aa8" stroke-width="1.0257548354279065" />
<line x1="308.0" y1="365.8" x2="311.8" y2="370.1" stroke="#c858b8" stroke-width="1.6800479483025084" />
<line x1="331.0" y1="370.1" x2="326.9" y2="377.7" stroke="#d070c0" stroke-width="1.1972635605299493" />
<line x1="328.8" y1="369.0" x2="328.2" y2="373.7" stroke="#d8a0d0" stroke-width="1.11791743873775" />
<line x1="334.1" y1="358.9" x2="332.5" y2="367.7" stroke="#c858b8" stroke-width="0.9818887638301226" />
<line x1="321.2" y1="367.6" x2="326.5" y2="371.5" stroke="#c858b8" stroke-width="1.1923992759983317" />
<line x1="315.7" y1="374.5" x2="316.2" y2="380.6" stroke="#d8a0d0" stroke-width="1.0431772970558233" />
<line x1="305.9" y1="370.8" x2="314.5" y2="371.9" stroke="#e090d8" stroke-width="1.2999247902445867" />
<line x1="320.3" y1="373.4" x2="312.7" y2="375.4" stroke="#a8a0a8" stroke-width="1.3628477179092093" />
<line x1="332.5" y1="365.3" x2="333.9" y2="369.8" stroke="#d070c0" stroke-width="1.4250861697779813" />
<line x1="333.0" y1="359.4" x2="335.9" y2="365.9" stroke="#b84aa8" stroke-width="1.0734855219034438" />
<line x1="321.5" y1="359.3" x2="316.2" y2="359.4" stroke="#b84aa8" stroke-width="1.4668675838667773" />
<line x1="326.7" y1="371.1" x2="322.0" y2="375.6" stroke="#d070c0" stroke-width="1.086762648517275" />
<line x1="311.3" y1="365.6" x2="311.2" y2="371.0" stroke="#d8a0d0" stroke-width="0.9854293326298135" />
<line x1="313.0" y1="366.2" x2="315.5" y2="371.9" stroke="#c858b8" stroke-width="1.6666978546462774" />
<line x1="312.3" y1="351.0" x2="321.1" y2="352.1" stroke="#e090d8" stroke-width="1.0837487554997316" />
<line x1="311.6" y1="368.7" x2="311.3" y2="378.4" stroke="#b84aa8" stroke-width="0.9138112399466035" />
<line x1="331.7" y1="360.6" x2="324.7" y2="361.0" stroke="#b84aa8" stroke-width="1.2119549524792248" />
<line x1="317.0" y1="379.5" x2="321.7" y2="383.6" stroke="#e090d8" stroke-width="1.065149433844912" />
<line x1="324.1" y1="372.8" x2="328.8" y2="374.8" stroke="#b84aa8" stroke-width="1.6354044731921706" />
<line x1="314.7" y1="363.5" x2="323.8" y2="364.8" stroke="#d070c0" stroke-width="1.2984459131243258" />
<line x1="328.7" y1="364.9" x2="334.3" y2="366.0" stroke="#c858b8" stroke-width="0.9695242428675591" />
<line x1="332.0" y1="359.1" x2="327.4" y2="361.7" stroke="#d070c0" stroke-width="1.3003147619580249" />
<line x1="300.3" y1="362.8" x2="308.7" y2="366.3" stroke="#b84aa8" stroke-width="1.4505114286696554" />
<line x1="319.9" y1="356.9" x2="313.3" y2="361.5" stroke="#d8a0d0" stroke-width="1.0068246223301263" />
<line x1="330.7" y1="363.6" x2="332.4" y2="371.5" stroke="#a8a0a8" stroke-width="1.0653722641387255" />
<line x1="330.0" y1="360.3" x2="323.4" y2="363.9" stroke="#e090d8" stroke-width="1.4946056628795605" />
<line x1="314.2" y1="370.2" x2="307.0" y2="370.2" stroke="#e090d8" stroke-width="1.0127262570691709" />
<line x1="321.7" y1="354.6" x2="328.2" y2="360.7" stroke="#e090d8" stroke-width="1.187466207003617" />
<line x1="318.0" y1="360.7" x2="323.9" y2="366.1" stroke="#c858b8" stroke-width="1.6566262544350694" />
<line x1="319.8" y1="353.3" x2="321.7" y2="357.7" stroke="#b84aa8" stroke-width="1.3150366992772027" />
<line x1="303.4" y1="364.8" x2="308.5" y2="364.9" stroke="#d070c0" stroke-width="0.9134563259578231" />
<line x1="315.4" y1="372.6" x2="312.4" y2="379.0" stroke="#c858b8" stroke-width="0.9307421281191081" />
<line x1="304.8" y1="358.9" x2="302.5" y2="367.9" stroke="#d8a0d0" stroke-width="1.6580031536698767" />
<line x1="303.7" y1="370.4" x2="309.1" y2="371.9" stroke="#d8a0d0" stroke-width="1.1883121722674286" />
<line x1="320.5" y1="373.5" x2="316.5" y2="381.2" stroke="#d070c0" stroke-width="1.4833972670546738" />
<line x1="315.4" y1="374.3" x2="308.3" y2="376.5" stroke="#d070c0" stroke-width="1.4307561193086864" />
<line x1="330.8" y1="355.4" x2="326.0" y2="356.0" stroke="#c858b8" stroke-width="1.0237353319310225" />
<line x1="308.2" y1="373.7" x2="306.2" y2="378.5" stroke="#c858b8" stroke-width="1.377834578395647" />
<line x1="328.2" y1="351.7" x2="324.2" y2="354.9" stroke="#d070c0" stroke-width="1.360601441761922" />
<line x1="317.4" y1="374.4" x2="322.6" y2="376.7" stroke="#222" stroke-width="1.251707382021938" />
<line x1="320.1" y1="370.9" x2="316.3" y2="374.8" stroke="#222" stroke-width="1.3990729321231594" />
<line x1="318.1" y1="362.3" x2="321.1" y2="364.6" stroke="#222" stroke-width="1.2400089570720036" />
<line x1="321.4" y1="370.7" x2="326.0" y2="377.1" stroke="#222" stroke-width="1.033948462111177" />
<line x1="321.8" y1="368.9" x2="323.8" y2="374.1" stroke="#444" stroke-width="0.8136835166278246" />
<line x1="313.0" y1="364.8" x2="311.7" y2="369.5" stroke="#333" stroke-width="0.8392318685039244" />
<line x1="323.4" y1="360.7" x2="320.5" y2="364.8" stroke="#222" stroke-width="1.1960591358376258" />
<line x1="324.1" y1="369.9" x2="327.8" y2="376.0" stroke="#444" stroke-width="1.3365126647381511" />
<line x1="320.2" y1="368.2" x2="324.3" y2="372.0" stroke="#222" stroke-width="0.9680515944791498" />
<line x1="318.4" y1="364.2" x2="322.3" y2="368.5" stroke="#333" stroke-width="1.0496665357586297" />
<line x1="322.6" y1="362.0" x2="321.9" y2="368.1" stroke="#444" stroke-width="1.1018358902536616" />
<line x1="326.4" y1="367.4" x2="320.3" y2="367.6" stroke="#444" stroke-width="1.0868013889171348" />
<line x1="324.9" y1="372.0" x2="320.8" y2="372.2" stroke="#333" stroke-width="1.1808317999687448" />
<line x1="322.4" y1="370.0" x2="315.2" y2="370.6" stroke="#222" stroke-width="1.0947922010450237" />
<line x1="322.0" y1="357.1" x2="316.9" y2="363.0" stroke="#444" stroke-width="0.8910851899823106" />
<line x1="319.4" y1="370.2" x2="324.5" y2="373.2" stroke="#222" stroke-width="1.2035509075572124" />
<line x1="322.6" y1="367.2" x2="323.4" y2="374.5" stroke="#444" stroke-width="1.320453848728599" />
<line x1="327.2" y1="362.5" x2="322.0" y2="367.1" stroke="#333" stroke-width="0.8371284443796734" />
<line x1="317.5" y1="363.4" x2="313.4" y2="368.2" stroke="#444" stroke-width="1.2744381468009993" />
<line x1="317.5" y1="365.9" x2="316.9" y2="372.9" stroke="#333" stroke-width="1.325852633320209" />
<line x1="314.4" y1="363.6" x2="308.7" y2="368.9" stroke="#333" stroke-width="0.9541543565290738" />
<line x1="316.5" y1="368.3" x2="323.3" y2="368.8" stroke="#444" stroke-width="1.126460606672039" />
<line x1="324.1" y1="370.5" x2="329.7" y2="371.6" stroke="#444" stroke-width="0.8734697509369648" />
<line x1="313.4" y1="361.5" x2="315.1" y2="365.9" stroke="#222" stroke-width="1.264024704086473" />
<line x1="314.8" y1="376.3" x2="321.7" y2="378.7" stroke="#444" stroke-width="0.8468551569159712" />
<line x1="316.7" y1="368.1" x2="323.0" y2="372.7" stroke="#333" stroke-width="0.8440244758019992" />
<circle cx="353.2" cy="376.7" r="14.4" fill="#d8a0d0" opacity="0.55"/>
<line x1="352.1" y1="389.5" x2="355.6" y2="394.4" stroke="#e090d8" stroke-width="1.4123990469615137" />
<line x1="347.9" y1="368.4" x2="348.5" y2="374.6" stroke="#b84aa8" stroke-width="1.1188039117517279" />
<line x1="362.7" y1="384.2" x2="368.2" y2="387.5" stroke="#c858b8" stroke-width="1.2554128339685762" />
<line x1="352.9" y1="378.3" x2="346.0" y2="381.3" stroke="#d8a0d0" stroke-width="1.1879044550185367" />
<line x1="350.2" y1="381.5" x2="346.0" y2="389.7" stroke="#d8a0d0" stroke-width="1.6795511785553798" />
<line x1="345.6" y1="384.8" x2="348.0" y2="389.1" stroke="#e090d8" stroke-width="1.3750765481632508" />
<line x1="356.3" y1="381.9" x2="358.8" y2="386.0" stroke="#b84aa8" stroke-width="1.5648105829461363" />
<line x1="360.3" y1="383.9" x2="357.8" y2="389.3" stroke="#a8a0a8" stroke-width="1.1709050049560137" />
<line x1="343.0" y1="390.1" x2="350.9" y2="390.9" stroke="#e090d8" stroke-width="0.9249192462656552" />
<line x1="366.8" y1="385.1" x2="357.8" y2="386.7" stroke="#d070c0" stroke-width="1.5924531374360282" />
<line x1="370.5" y1="375.6" x2="365.1" y2="381.5" stroke="#d8a0d0" stroke-width="1.6219368138320525" />
<line x1="366.8" y1="372.1" x2="364.0" y2="375.4" stroke="#b84aa8" stroke-width="1.0150561379461776" />
<line x1="341.2" y1="375.9" x2="341.0" y2="381.0" stroke="#b84aa8" stroke-width="1.0012673908918424" />
<line x1="338.7" y1="385.3" x2="343.8" y2="386.5" stroke="#b84aa8" stroke-width="1.4186905767681144" />
<line x1="353.6" y1="386.2" x2="357.7" y2="392.6" stroke="#d070c0" stroke-width="1.60787188143828" />
<line x1="357.5" y1="387.3" x2="363.6" y2="391.0" stroke="#a8a0a8" stroke-width="1.3094475472676803" />
<line x1="358.5" y1="374.1" x2="359.1" y2="380.2" stroke="#d8a0d0" stroke-width="1.189282531501554" />
<line x1="350.3" y1="383.1" x2="359.6" y2="383.3" stroke="#a8a0a8" stroke-width="1.0279270989157088" />
<line x1="366.9" y1="375.3" x2="362.6" y2="382.5" stroke="#a8a0a8" stroke-width="1.1537464336300884" />
<line x1="353.2" y1="363.9" x2="352.7" y2="369.8" stroke="#d8a0d0" stroke-width="1.29374235476483" />
<line x1="343.9" y1="380.9" x2="339.4" y2="384.7" stroke="#d8a0d0" stroke-width="0.9087409749436742" />
<line x1="345.9" y1="373.5" x2="339.1" y2="374.6" stroke="#d070c0" stroke-width="1.3528357761134853" />
<line x1="354.3" y1="385.2" x2="353.0" y2="390.4" stroke="#d070c0" stroke-width="1.4543956873142174" />
<line x1="362.3" y1="380.0" x2="359.5" y2="385.4" stroke="#b84aa8" stroke-width="1.1287945970534876" />
<line x1="346.8" y1="361.7" x2="345.4" y2="366.5" stroke="#e090d8" stroke-width="1.053552392283232" />
<line x1="366.2" y1="381.1" x2="360.3" y2="388.1" stroke="#c858b8" stroke-width="1.3890321358955615" />
<line x1="360.9" y1="362.1" x2="357.6" y2="370.8" stroke="#c858b8" stroke-width="0.9203173358463385" />
<line x1="344.5" y1="369.3" x2="340.2" y2="375.7" stroke="#a8a0a8" stroke-width="1.3121291476123318" />
<line x1="359.9" y1="362.9" x2="363.9" y2="370.5" stroke="#c858b8" stroke-width="1.1658288291047887" />
<line x1="343.7" y1="388.7" x2="348.6" y2="390.4" stroke="#b84aa8" stroke-width="1.140899149807305" />
<line x1="360.9" y1="368.5" x2="364.5" y2="375.5" stroke="#d070c0" stroke-width="1.118440768299302" />
<line x1="365.3" y1="379.9" x2="362.2" y2="384.6" stroke="#a8a0a8" stroke-width="1.4020786914648666" />
<line x1="347.0" y1="378.5" x2="349.7" y2="387.3" stroke="#c858b8" stroke-width="1.2449242854332563" />
<line x1="349.3" y1="377.0" x2="355.3" y2="382.3" stroke="#d070c0" stroke-width="1.6800727222192702" />
<line x1="340.2" y1="371.5" x2="346.3" y2="378.2" stroke="#c858b8" stroke-width="1.5714122231798366" />
<line x1="342.6" y1="374.9" x2="347.0" y2="381.2" stroke="#d8a0d0" stroke-width="0.9947421224061568" />
<line x1="354.8" y1="362.5" x2="360.7" y2="364.8" stroke="#c858b8" stroke-width="1.1108734197862287" />
<line x1="352.9" y1="382.0" x2="354.3" y2="387.4" stroke="#b84aa8" stroke-width="1.6308902261686438" />
<line x1="350.0" y1="371.5" x2="357.2" y2="373.4" stroke="#e090d8" stroke-width="1.4073230743914946" />
<line x1="342.1" y1="373.9" x2="350.0" y2="377.0" stroke="#e090d8" stroke-width="1.4062432226525543" />
<line x1="353.5" y1="386.5" x2="358.1" y2="391.9" stroke="#b84aa8" stroke-width="0.9906783833761331" />
<line x1="349.2" y1="370.8" x2="354.0" y2="375.6" stroke="#d070c0" stroke-width="0.9507964582340966" />
<line x1="355.8" y1="376.5" x2="348.9" y2="380.5" stroke="#c858b8" stroke-width="1.0741668561507263" />
<line x1="349.9" y1="367.9" x2="351.9" y2="371.8" stroke="#a8a0a8" stroke-width="1.480404559114252" />
<line x1="354.3" y1="372.0" x2="347.3" y2="376.8" stroke="#d070c0" stroke-width="0.9451456533507797" />
<line x1="360.3" y1="377.8" x2="363.7" y2="383.8" stroke="#b84aa8" stroke-width="1.1656059596722412" />
<line x1="360.3" y1="382.2" x2="354.8" y2="385.9" stroke="#b84aa8" stroke-width="1.1432320887476006" />
<line x1="346.0" y1="367.1" x2="347.2" y2="373.4" stroke="#e090d8" stroke-width="0.9697685382286829" />
<line x1="364.8" y1="370.4" x2="360.6" y2="377.2" stroke="#a8a0a8" stroke-width="1.346161396394208" />
<line x1="362.3" y1="365.3" x2="357.4" y2="366.8" stroke="#e090d8" stroke-width="1.2570792098399364" />
<line x1="354.8" y1="363.3" x2="359.5" y2="366.5" stroke="#d070c0" stroke-width="0.9391006197589082" />
<line x1="368.8" y1="385.7" x2="360.1" y2="387.4" stroke="#c858b8" stroke-width="1.1596908721808346" />
<line x1="354.4" y1="359.7" x2="358.0" y2="365.4" stroke="#d8a0d0" stroke-width="1.1585066874005638" />
<line x1="355.9" y1="370.2" x2="357.1" y2="377.6" stroke="#b84aa8" stroke-width="1.4362770253241375" />
<line x1="361.3" y1="370.7" x2="358.0" y2="376.0" stroke="#c858b8" stroke-width="1.3875218262770201" />
<line x1="346.7" y1="378.5" x2="343.7" y2="385.6" stroke="#b84aa8" stroke-width="1.624528926707954" />
<line x1="359.4" y1="372.9" x2="359.1" y2="379.8" stroke="#b84aa8" stroke-width="1.53162084099085" />
<line x1="359.0" y1="359.8" x2="357.3" y2="365.2" stroke="#d8a0d0" stroke-width="1.3824863595836065" />
<line x1="355.4" y1="384.0" x2="362.0" y2="384.8" stroke="#c858b8" stroke-width="1.064428104705654" />
<line x1="354.4" y1="366.1" x2="360.2" y2="371.6" stroke="#e090d8" stroke-width="0.9791017904693092" />
<line x1="339.7" y1="368.1" x2="344.9" y2="368.5" stroke="#c858b8" stroke-width="1.3267746716102269" />
<line x1="360.7" y1="379.8" x2="362.7" y2="385.6" stroke="#a8a0a8" stroke-width="1.3542959401211043" />
<line x1="354.9" y1="386.2" x2="349.1" y2="392.9" stroke="#e090d8" stroke-width="1.1070351591337977" />
<line x1="356.6" y1="364.8" x2="361.0" y2="364.8" stroke="#a8a0a8" stroke-width="1.568118129145656" />
<line x1="354.7" y1="379.8" x2="350.7" y2="383.3" stroke="#d8a0d0" stroke-width="0.9268065948942297" />
<line x1="343.7" y1="371.1" x2="340.4" y2="375.9" stroke="#d8a0d0" stroke-width="1.542608219049825" />
<line x1="352.9" y1="380.9" x2="350.7" y2="386.2" stroke="#d070c0" stroke-width="1.5799737457540552" />
<line x1="363.0" y1="368.4" x2="360.8" y2="375.8" stroke="#c858b8" stroke-width="1.5297189190158562" />
<line x1="357.9" y1="371.9" x2="350.8" y2="375.1" stroke="#a8a0a8" stroke-width="1.3096198121144598" />
<line x1="341.8" y1="380.8" x2="342.9" y2="387.8" stroke="#a8a0a8" stroke-width="1.240276579126744" />
<line x1="355.2" y1="387.6" x2="352.6" y2="393.3" stroke="#b84aa8" stroke-width="0.9533375220826714" />
<line x1="361.8" y1="381.7" x2="357.4" y2="387.9" stroke="#c858b8" stroke-width="0.9408130290419744" />
<line x1="352.7" y1="365.9" x2="350.4" y2="372.3" stroke="#d8a0d0" stroke-width="1.345344647779638" />
<line x1="359.6" y1="364.9" x2="354.6" y2="365.0" stroke="#d8a0d0" stroke-width="1.004581052697947" />
<line x1="364.9" y1="380.2" x2="368.9" y2="386.2" stroke="#b84aa8" stroke-width="1.645270553192167" />
<line x1="352.3" y1="368.9" x2="355.6" y2="375.7" stroke="#222" stroke-width="1.1555550314625336" />
<line x1="352.7" y1="384.0" x2="353.8" y2="387.2" stroke="#333" stroke-width="1.263533339419918" />
<line x1="359.1" y1="379.5" x2="354.6" y2="383.0" stroke="#444" stroke-width="0.832422401545125" />
<line x1="350.5" y1="376.0" x2="349.6" y2="379.4" stroke="#222" stroke-width="0.9172348836042522" />
<line x1="345.4" y1="371.7" x2="348.9" y2="378.2" stroke="#222" stroke-width="0.8858885936156149" />
<line x1="347.0" y1="381.0" x2="347.0" y2="386.6" stroke="#222" stroke-width="1.2607698080750014" />
<line x1="355.6" y1="376.2" x2="349.0" y2="376.2" stroke="#444" stroke-width="0.9711047731865028" />
<line x1="352.8" y1="375.1" x2="349.1" y2="381.4" stroke="#333" stroke-width="1.3072057359409417" />
<line x1="355.7" y1="371.1" x2="356.5" y2="378.1" stroke="#444" stroke-width="1.0625253575513303" />
<line x1="349.2" y1="375.2" x2="345.8" y2="377.3" stroke="#333" stroke-width="0.8038647207625469" />
<line x1="359.1" y1="375.5" x2="356.8" y2="378.7" stroke="#222" stroke-width="1.1861362351337172" />
<line x1="351.2" y1="376.1" x2="348.0" y2="382.6" stroke="#444" stroke-width="1.1537019876253574" />
<line x1="345.2" y1="378.0" x2="351.6" y2="378.2" stroke="#444" stroke-width="1.03590517921264" />
<line x1="360.3" y1="376.2" x2="356.7" y2="377.1" stroke="#333" stroke-width="1.3090659256794919" />
<line x1="354.6" y1="369.4" x2="354.4" y2="374.1" stroke="#222" stroke-width="1.0046565437179622" />
<line x1="357.0" y1="371.5" x2="352.7" y2="375.8" stroke="#222" stroke-width="1.160341352514541" />
<line x1="355.4" y1="369.8" x2="355.2" y2="375.9" stroke="#222" stroke-width="1.0874806365371752" />
<line x1="351.6" y1="373.2" x2="358.7" y2="374.1" stroke="#333" stroke-width="1.185667681260897" />
<line x1="356.1" y1="372.0" x2="361.1" y2="375.0" stroke="#444" stroke-width="1.0492859298593453" />
<line x1="356.7" y1="372.5" x2="355.8" y2="376.5" stroke="#444" stroke-width="1.3798162498185325" />
<line x1="357.6" y1="375.6" x2="352.5" y2="376.3" stroke="#444" stroke-width="1.1783686130629718" />
<line x1="358.3" y1="378.3" x2="361.5" y2="381.1" stroke="#333" stroke-width="1.160132565301672" />
<line x1="352.0" y1="374.7" x2="358.1" y2="378.6" stroke="#222" stroke-width="0.9810190077958905" />
<line x1="354.6" y1="378.5" x2="358.1" y2="382.9" stroke="#222" stroke-width="1.2915361901236047" />
<line x1="348.7" y1="373.5" x2="353.7" y2="376.1" stroke="#444" stroke-width="1.2723090225203444" />
<text x="339.0" y="396.0" font-size="7.6" font-weight="bold" text-anchor="middle" fill="#6a3050" >3D microsphere</text>
<rect x="40.4" y="425.0" width="129.7" height="114.8" fill="none" stroke="#858585" stroke-width="1.2"/>
<line x1="40.4" y1="539.8" x2="40.4" y2="542.3" stroke="#858585" stroke-width="1.2" />
<text x="40.4" y="552.7" font-size="8.3" font-weight="bold" text-anchor="middle" fill="#222" stroke="#222" stroke-width="0.25">1</text>
<line x1="69.2" y1="539.8" x2="69.2" y2="542.3" stroke="#858585" stroke-width="1.2" />
<text x="69.2" y="552.7" font-size="8.3" font-weight="bold" text-anchor="middle" fill="#222" stroke="#222" stroke-width="0.25">1.2</text>
<line x1="98.0" y1="539.8" x2="98.0" y2="542.3" stroke="#858585" stroke-width="1.2" />
<text x="98.0" y="552.7" font-size="8.3" font-weight="bold" text-anchor="middle" fill="#222" stroke="#222" stroke-width="0.25">1.4</text>
<line x1="126.9" y1="539.8" x2="126.9" y2="542.3" stroke="#858585" stroke-width="1.2" />
<text x="126.9" y="552.7" font-size="8.3" font-weight="bold" text-anchor="middle" fill="#222" stroke="#222" stroke-width="0.25">1.6</text>
<line x1="155.7" y1="539.8" x2="155.7" y2="542.3" stroke="#858585" stroke-width="1.2" />
<text x="155.7" y="552.7" font-size="8.3" font-weight="bold" text-anchor="middle" fill="#222" stroke="#222" stroke-width="0.25">1.8</text>
<line x1="40.4" y1="535.4" x2="37.9" y2="535.4" stroke="#858585" stroke-width="1.2" />
<text x="30.6" y="538.4" font-size="8.3" font-weight="bold" text-anchor="end" fill="#222" stroke="#222" stroke-width="0.25">0</text>
<line x1="40.4" y1="517.7" x2="37.9" y2="517.7" stroke="#858585" stroke-width="1.2" />
<text x="30.6" y="520.7" font-size="8.3" font-weight="bold" text-anchor="end" fill="#222" stroke="#222" stroke-width="0.25">40</text>
<line x1="40.4" y1="500.1" x2="37.9" y2="500.1" stroke="#858585" stroke-width="1.2" />
<text x="30.6" y="503.0" font-size="8.3" font-weight="bold" text-anchor="end" fill="#222" stroke="#222" stroke-width="0.25">80</text>
<line x1="40.4" y1="482.4" x2="37.9" y2="482.4" stroke="#858585" stroke-width="1.2" />
<text x="30.6" y="485.4" font-size="8.3" font-weight="bold" text-anchor="end" fill="#222" stroke="#222" stroke-width="0.25">120</text>
<line x1="40.4" y1="464.7" x2="37.9" y2="464.7" stroke="#858585" stroke-width="1.2" />
<text x="30.6" y="467.7" font-size="8.3" font-weight="bold" text-anchor="end" fill="#222" stroke="#222" stroke-width="0.25">160</text>
<line x1="40.4" y1="447.1" x2="37.9" y2="447.1" stroke="#858585" stroke-width="1.2" />
<text x="30.6" y="450.1" font-size="8.3" font-weight="bold" text-anchor="end" fill="#222" stroke="#222" stroke-width="0.25">200</text>
<line x1="40.4" y1="429.4" x2="37.9" y2="429.4" stroke="#858585" stroke-width="1.2" />
<text x="30.6" y="432.4" font-size="8.3" font-weight="bold" text-anchor="end" fill="#222" stroke="#222" stroke-width="0.25">240</text>
<clipPath id="cla"><rect x="40.4" y="425" width="129.7" height="114.8"/></clipPath><g clip-path="url(#cla)">
<path d="M40.4 535.2 157.1 535.2" fill="none" stroke="#222" stroke-width="1.1" stroke-linejoin="round" stroke-linecap="round" />
<path d="M40.4 534.5 111.9 534.3 124.5 534 129.5 532.8 132 531.8 134.6 530.4 136.2 528.9 139.6 524.6 141.3 523" fill="none" stroke="#7a52a8" stroke-width="1.4" stroke-linejoin="round" stroke-linecap="round" />
<path d="M41.2 534.5 112.7 534.3 125.3 534 130.2 532.8 132.7 531.8 135.2 530.4 136.8 528.9 139.8 524.6 141.3 523" fill="none" stroke="#7a52a8" stroke-width="1.4" stroke-linejoin="round" stroke-linecap="round" />
<path d="M40.4 534.5 116.1 534.2 123.6 533.6 126.1 533 128.7 532 131.2 530.6 132.9 529.4 135.4 526.7 139.6 520.3 141.3 518.6" fill="none" stroke="#d04848" stroke-width="1.4" stroke-linejoin="round" stroke-linecap="round" />
<path d="M41.2 534.5 116.9 534.2 124.4 533.6 126.9 533 129.4 532 131.9 530.6 133.5 529.4 135.9 526.7 139.8 520.3 141.3 518.6" fill="none" stroke="#d04848" stroke-width="1.4" stroke-linejoin="round" stroke-linecap="round" />
<path d="M40.4 534.1 114.7 533.8 118.1 533.2 121.4 531.6 124 529.2 126.5 525.1 129 519.6 130.7 514.9 135.8 496.7 139.2 481.6 141.7 472.2" fill="none" stroke="#40a060" stroke-width="1.4" stroke-linejoin="round" stroke-linecap="round" />
<path d="M43.9 534.1 118.2 533.8 121.6 533.2 124.9 531.6 127.3 529.2 129.7 525.1 132 519.6 133.5 514.9 137.7 496.7 141.7 472.2" fill="none" stroke="#40a060" stroke-width="1.4" stroke-linejoin="round" stroke-linecap="round" />
<path d="M40.4 534.1 112.4 533.6 115.8 533.1 118.3 532.1 120 530.9 122.5 526.9 124.2 523.5 125.9 518.9 127.6 512.4 129.3 503.9 132.7 484.3 138.6 447.6 140.3 435.4 142 427.2" fill="none" stroke="#38b0d8" stroke-width="1.4" stroke-linejoin="round" stroke-linecap="round" />
<path d="M45 534.1 116.9 533.6 120.3 533.1 122.8 532.1 124.5 530.9 127.7 525.4 129.3 521.4 130.8 515.9 132.2 508.4 136.3 479.2 140 447.6 141.1 435.4 142 427.2" fill="none" stroke="#38b0d8" stroke-width="1.4" stroke-linejoin="round" stroke-linecap="round" />
</g>
<text x="41.2" y="438.9" font-size="17" font-weight="bold" text-anchor="start" fill="#111" >a</text>
<text x="42.5" y="448.5" font-size="7.5" font-weight="bold" text-anchor="start" fill="#40b0d8" >Blue: 3D Co(OH)F</text>
<text x="42.5" y="466.1" font-size="7.5" font-weight="bold" text-anchor="start" fill="#40a868" >Green: Co(OH)F</text>
<text x="42.5" y="483.7" font-size="7.5" font-weight="bold" text-anchor="start" fill="#d04848" >Red: Co(OH)F &amp; Co(OH)<tspan font-size="5" dy="2">2</tspan></text>
<text x="42.5" y="501.3" font-size="7.5" font-weight="bold" text-anchor="start" fill="#7a52a8" >Purple: Co(OH)<tspan font-size="5" dy="2">2</tspan></text>
<text x="42.5" y="518.9" font-size="7.5" font-weight="bold" text-anchor="start" fill="#333" >Black: Blank</text>
<text x="111.3" y="564.8" font-size="10.2" font-weight="bold" text-anchor="middle" fill="#333" >E (V <tspan font-style="italic">vs</tspan> RHE)</text>
<text x="0" y="0" font-size="10.2" font-weight="bold" text-anchor="middle" fill="#333" stroke="#333" stroke-width="0.25" transform="translate(13.0,484.0) rotate(-90)"><tspan font-style="italic">j</tspan> (mA/cm<tspan font-size="6" dy="-4">2</tspan><tspan dy="4">)</tspan></text>
<rect x="213.3" y="425.5" width="193.2" height="114.8" fill="none" stroke="#666" stroke-width="1.2"/>
<line x1="213.3" y1="540.3" x2="213.3" y2="542.8" stroke="#666" stroke-width="1.2" />
<text x="213.3" y="553.2" font-size="8.3" font-weight="bold" text-anchor="middle" fill="#222" stroke="#222" stroke-width="0.25">0</text>
<line x1="251.9" y1="540.3" x2="251.9" y2="542.8" stroke="#666" stroke-width="1.2" />
<text x="251.9" y="553.2" font-size="8.3" font-weight="bold" text-anchor="middle" fill="#222" stroke="#222" stroke-width="0.25">20</text>
<line x1="290.6" y1="540.3" x2="290.6" y2="542.8" stroke="#666" stroke-width="1.2" />
<text x="290.6" y="553.2" font-size="8.3" font-weight="bold" text-anchor="middle" fill="#222" stroke="#222" stroke-width="0.25">40</text>
<line x1="329.2" y1="540.3" x2="329.2" y2="542.8" stroke="#666" stroke-width="1.2" />
<text x="329.2" y="553.2" font-size="8.3" font-weight="bold" text-anchor="middle" fill="#222" stroke="#222" stroke-width="0.25">60</text>
<line x1="367.9" y1="540.3" x2="367.9" y2="542.8" stroke="#666" stroke-width="1.2" />
<text x="367.9" y="553.2" font-size="8.3" font-weight="bold" text-anchor="middle" fill="#222" stroke="#222" stroke-width="0.25">80</text>
<line x1="406.5" y1="540.3" x2="406.5" y2="542.8" stroke="#666" stroke-width="1.2" />
<text x="406.5" y="553.2" font-size="8.3" font-weight="bold" text-anchor="middle" fill="#222" stroke="#222" stroke-width="0.25">100</text>
<line x1="213.3" y1="540.3" x2="210.8" y2="540.3" stroke="#666" stroke-width="1.2" />
<text x="203.5" y="543.3" font-size="8.3" font-weight="bold" text-anchor="end" fill="#222" stroke="#222" stroke-width="0.25">0</text>
<line x1="213.3" y1="511.6" x2="210.8" y2="511.6" stroke="#666" stroke-width="1.2" />
<text x="203.5" y="514.6" font-size="8.3" font-weight="bold" text-anchor="end" fill="#222" stroke="#222" stroke-width="0.25">20</text>
<line x1="213.3" y1="482.9" x2="210.8" y2="482.9" stroke="#666" stroke-width="1.2" />
<text x="203.5" y="485.9" font-size="8.3" font-weight="bold" text-anchor="end" fill="#222" stroke="#222" stroke-width="0.25">40</text>
<line x1="213.3" y1="454.2" x2="210.8" y2="454.2" stroke="#666" stroke-width="1.2" />
<text x="203.5" y="457.2" font-size="8.3" font-weight="bold" text-anchor="end" fill="#222" stroke="#222" stroke-width="0.25">60</text>
<line x1="213.3" y1="425.5" x2="210.8" y2="425.5" stroke="#666" stroke-width="1.2" />
<text x="203.5" y="428.5" font-size="8.3" font-weight="bold" text-anchor="end" fill="#222" stroke="#222" stroke-width="0.25">80</text>
<clipPath id="clb"><rect x="213.3" y="425.5" width="193.2" height="114.8"/></clipPath><g clip-path="url(#clb)">
<path d="M219.1 540.3 219.3 539.1 219.8 538 221.3 536.5 224.3 535.1 227.8 534.6 231.3 535.1 233.6 536 234.8 536.9 235.7 538 236.3 539.1 236.5 540.3 255.8 494.4 271.3 458.5 284.8 424.1" fill="none" stroke="#7a52a8" stroke-width="1.3" stroke-linejoin="round" stroke-linecap="round" />
<path d="M223 536 224.6 536.8 225.9 534.6 227.6 532.6 229.9 531 232.5 529.8 236.9 528.9 241.4 529.1 245.7 530.4 248.1 531.8 250.1 533.6 252.2 536.8 252.6 537.9 252.9 540.3 253.9 538.1 259.7 528.8 265.5 514.5 271.3 497.2 277.1 477.2 286.7 452.8 303.1 424.1" fill="none" stroke="#d04848" stroke-width="1.3" stroke-linejoin="round" stroke-linecap="round" />
<path d="M219.1 538.1 223 536 228.8 535.7 234.6 537.4 238.4 540.3 241.2 525.1 244 518.9 246.8 514.3 249.6 510.5 255.2 504.2 258 501.5 263.6 496.9 269.2 492.9 274.8 489.4 280.4 486.4 286 483.7 291.6 481.3 300 478.2 311.3 474.9 325.3 471.8 339.3 469.8 353.3 468.7 367.3 468.6 381.3 469.4 395.3 471.2 406.5 473.3" fill="none" stroke="#40a060" stroke-width="1.3" stroke-linejoin="round" stroke-linecap="round" />
<path d="M239.4 540.3 240.8 538.6 242.3 536 248.2 528.7 255.5 522.6 262.8 518.7 270.1 515.5 277.5 513.5 283.3 512.8 290.7 512.8 296.5 513.5 303.8 515.4 308.2 517.3 317 522 320 523.9 321.4 525.2 324.4 532.2 325.8 534.5 327.3 536" fill="none" stroke="#38b0d8" stroke-width="1.3" stroke-linejoin="round" stroke-linecap="round" />
</g>
<text x="214.5" y="439.4" font-size="16.5" font-weight="bold" text-anchor="start" fill="#111" >b</text>
<path d="M295.6 496.3 308.2 496.3 309.2 498.7 311.2 493.9 313.2 498.7 315.2 493.9 317.3 498.7 319.3 493.9 321.3 498.7 323.3 493.9 324.3 496.3 338.3 496.3" fill="none" stroke="#444" stroke-width="1.1" stroke-linejoin="round" stroke-linecap="round" />
<path d="M338.3 496.3 339.3 498.7 341.4 493.9 343.5 498.7 345.6 493.9 347.7 498.7 349.8 493.9 351.9 498.7 354 493.9 355 496.3 374 496.3" fill="none" stroke="#444" stroke-width="1.1" stroke-linejoin="round" stroke-linecap="round" />
<path d="M374 496.3 375 498.7 377.1 493.9 379.2 498.7 381.3 493.9 383.4 498.7 385.5 493.9 387.6 498.7 389.7 493.9 390.7 496.3 404.7 496.3" fill="none" stroke="#444" stroke-width="1.1" stroke-linejoin="round" stroke-linecap="round" />
<path d="M334.5,496.3 L334.5,517.6 L343,517.6 M347,517.6 L360.6,517.6 L360.6,496.3 M370,496.3 L370,517.6 L378.5,517.6 M382.5,517.6 L397,517.6 L397,496.3 M334.5,496.3 L338.3,496.3" stroke="#444" stroke-width="1.1" fill="none"/>
<path d="M342,514 L344.5,517.6 L342,521.2 M345,514 L347.5,517.6 L345,521.2 M377.5,514 L380,517.6 L377.5,521.2 M380.5,514 L383,517.6 L380.5,521.2" stroke="#444" stroke-width="1.1" fill="none"/>
<text x="313.0" y="489.5" font-size="9" font-weight="normal" text-anchor="start" fill="#333" >R<tspan font-size="5.8" dy="2">s</tspan></text>
<text x="340.0" y="489.5" font-size="9" font-weight="normal" text-anchor="start" fill="#333" >R<tspan font-size="5.8" dy="2">ct,1</tspan></text>
<text x="375.5" y="489.5" font-size="9" font-weight="normal" text-anchor="start" fill="#333" >R<tspan font-size="5.8" dy="2">ct,2</tspan></text>
<text x="340.0" y="528.5" font-size="9" font-weight="normal" text-anchor="start" fill="#333" >CPE<tspan font-size="5.8" dy="2">1</tspan></text>
<text x="375.5" y="528.5" font-size="9" font-weight="normal" text-anchor="start" fill="#333" >CPE<tspan font-size="5.8" dy="2">2</tspan></text>
<text x="310.0" y="565.5" font-size="10.2" font-weight="bold" text-anchor="middle" fill="#333" >Z' (Ω)</text>
<text x="0" y="0" font-size="10.2" font-weight="bold" text-anchor="middle" fill="#333" stroke="#333" stroke-width="0.25" transform="translate(187.0,483.0) rotate(-90)">-Z'' (Ω)</text>
<rect x="40.5" y="575.6" width="129.1" height="114.2" fill="none" stroke="#858585" stroke-width="1.2"/>
<line x1="40.5" y1="670.8" x2="38.5" y2="670.8" stroke="#858585" stroke-width="0.8" />
<line x1="40.5" y1="632.7" x2="38.5" y2="632.7" stroke="#858585" stroke-width="0.8" />
<line x1="40.5" y1="594.6" x2="38.5" y2="594.6" stroke="#858585" stroke-width="0.8" />
<line x1="40.5" y1="689.8" x2="40.5" y2="692.3" stroke="#858585" stroke-width="1.2" />
<text x="40.5" y="702.7" font-size="8.3" font-weight="bold" text-anchor="middle" fill="#222" stroke="#222" stroke-width="0.25">-5</text>
<line x1="72.8" y1="689.8" x2="72.8" y2="692.3" stroke="#858585" stroke-width="1.2" />
<text x="72.8" y="702.7" font-size="8.3" font-weight="bold" text-anchor="middle" fill="#222" stroke="#222" stroke-width="0.25">-4</text>
<line x1="105.0" y1="689.8" x2="105.0" y2="692.3" stroke="#858585" stroke-width="1.2" />
<text x="105.0" y="702.7" font-size="8.3" font-weight="bold" text-anchor="middle" fill="#222" stroke="#222" stroke-width="0.25">-3</text>
<line x1="137.3" y1="689.8" x2="137.3" y2="692.3" stroke="#858585" stroke-width="1.2" />
<text x="137.3" y="702.7" font-size="8.3" font-weight="bold" text-anchor="middle" fill="#222" stroke="#222" stroke-width="0.25">-2</text>
<line x1="169.6" y1="689.8" x2="169.6" y2="692.3" stroke="#858585" stroke-width="1.2" />
<text x="169.6" y="702.7" font-size="8.3" font-weight="bold" text-anchor="middle" fill="#222" stroke="#222" stroke-width="0.25">-1</text>
<line x1="40.5" y1="689.8" x2="38.0" y2="689.8" stroke="#858585" stroke-width="1.2" />
<text x="30.7" y="692.8" font-size="8.3" font-weight="bold" text-anchor="end" fill="#222" stroke="#222" stroke-width="0.25">0.2</text>
<line x1="40.5" y1="651.7" x2="38.0" y2="651.7" stroke="#858585" stroke-width="1.2" />
<text x="30.7" y="654.7" font-size="8.3" font-weight="bold" text-anchor="end" fill="#222" stroke="#222" stroke-width="0.25">0.3</text>
<line x1="40.5" y1="613.7" x2="38.0" y2="613.7" stroke="#858585" stroke-width="1.2" />
<text x="30.7" y="616.7" font-size="8.3" font-weight="bold" text-anchor="end" fill="#222" stroke="#222" stroke-width="0.25">0.4</text>
<line x1="40.5" y1="575.6" x2="38.0" y2="575.6" stroke="#858585" stroke-width="1.2" />
<text x="30.7" y="578.6" font-size="8.3" font-weight="bold" text-anchor="end" fill="#222" stroke="#222" stroke-width="0.25">0.5</text>
<path d="M66.3 646 69.5 644.4 72.6 642.2 85.2 631 93.1 624.7 100.9 619.1 108.8 612.8 123 600.3 126.1 598.1 129.3 596.5" fill="none" stroke="#7a52a8" stroke-width="1.3" stroke-linejoin="round" stroke-linecap="round" />
<path d="M84.1 651 85.6 650.1 88.5 647.6 91.5 644.4 99 635.4 105 630.2 118.4 617.3 134.8 602.8 139.3 599.6 143.8 597.3" fill="none" stroke="#d04848" stroke-width="1.3" stroke-linejoin="round" stroke-linecap="round" />
<path d="M82.5 665.1 83.8 664.4 86.6 662.7 92.1 657.9 98.9 654.3 111.3 646.9 127.7 635.3 134.6 626.3 137.3 623.9" fill="none" stroke="#40a060" stroke-width="1.3" stroke-linejoin="round" stroke-linecap="round" />
<path d="M88.9 667 91.7 666 95.8 663.9 105.4 657.6 113.6 653 120.5 648.7 127.3 643.8 138.3 634.1 141 632.2 143.8 630.8" fill="none" stroke="#38b0d8" stroke-width="1.3" stroke-linejoin="round" stroke-linecap="round" />
<text x="42.0" y="590.0" font-size="17" font-weight="bold" text-anchor="start" fill="#111" >c</text>
<text x="101.0" y="605.0" font-size="7.5" font-weight="bold" text-anchor="start" fill="#7a52a8" >65.2</text>
<text x="141.0" y="593.0" font-size="7.5" font-weight="bold" text-anchor="start" fill="#d04848" >73.4</text>
<text x="129.0" y="622.0" font-size="7.5" font-weight="bold" text-anchor="start" fill="#40a060" >61.8</text>
<text x="120.0" y="655.0" font-size="7.5" font-weight="bold" text-anchor="start" fill="#38b0d8" >52.8</text>
<text x="107.4" y="715.0" font-size="10.2" font-weight="bold" text-anchor="middle" fill="#333" >log <tspan font-style="italic">j</tspan> (A/cm<tspan font-size="6" dy="-4">2</tspan><tspan dy="4">)</tspan></text>
<text x="0" y="0" font-size="10.2" font-weight="bold" text-anchor="middle" fill="#333" stroke="#333" stroke-width="0.25" transform="translate(12.0,633.0) rotate(-90)"><tspan font-style="italic">η</tspan> (V)</text>
<rect x="210.7" y="575.4" width="196.5" height="115.3" fill="none" stroke="#666" stroke-width="1.2"/>
<line x1="210.7" y1="690.7" x2="210.7" y2="693.2" stroke="#666" stroke-width="1.2" />
<text x="210.7" y="703.6" font-size="8.3" font-weight="bold" text-anchor="middle" fill="#222" stroke="#222" stroke-width="0.25">0</text>
<line x1="250.0" y1="690.7" x2="250.0" y2="693.2" stroke="#666" stroke-width="1.2" />
<text x="250.0" y="703.6" font-size="8.3" font-weight="bold" text-anchor="middle" fill="#222" stroke="#222" stroke-width="0.25">2</text>
<line x1="289.3" y1="690.7" x2="289.3" y2="693.2" stroke="#666" stroke-width="1.2" />
<text x="289.3" y="703.6" font-size="8.3" font-weight="bold" text-anchor="middle" fill="#222" stroke="#222" stroke-width="0.25">4</text>
<line x1="328.6" y1="690.7" x2="328.6" y2="693.2" stroke="#666" stroke-width="1.2" />
<text x="328.6" y="703.6" font-size="8.3" font-weight="bold" text-anchor="middle" fill="#222" stroke="#222" stroke-width="0.25">6</text>
<line x1="367.9" y1="690.7" x2="367.9" y2="693.2" stroke="#666" stroke-width="1.2" />
<text x="367.9" y="703.6" font-size="8.3" font-weight="bold" text-anchor="middle" fill="#222" stroke="#222" stroke-width="0.25">8</text>
<line x1="407.2" y1="690.7" x2="407.2" y2="693.2" stroke="#666" stroke-width="1.2" />
<text x="407.2" y="703.6" font-size="8.3" font-weight="bold" text-anchor="middle" fill="#222" stroke="#222" stroke-width="0.25">10</text>
<line x1="210.7" y1="680.2" x2="208.2" y2="680.2" stroke="#666" stroke-width="1.2" />
<text x="200.9" y="683.2" font-size="8.3" font-weight="bold" text-anchor="end" fill="#222" stroke="#222" stroke-width="0.25">0</text>
<line x1="210.7" y1="659.3" x2="208.2" y2="659.3" stroke="#666" stroke-width="1.2" />
<text x="200.9" y="662.2" font-size="8.3" font-weight="bold" text-anchor="end" fill="#222" stroke="#222" stroke-width="0.25">2</text>
<line x1="210.7" y1="638.3" x2="208.2" y2="638.3" stroke="#666" stroke-width="1.2" />
<text x="200.9" y="641.3" font-size="8.3" font-weight="bold" text-anchor="end" fill="#222" stroke="#222" stroke-width="0.25">4</text>
<line x1="210.7" y1="617.3" x2="208.2" y2="617.3" stroke="#666" stroke-width="1.2" />
<text x="200.9" y="620.3" font-size="8.3" font-weight="bold" text-anchor="end" fill="#222" stroke="#222" stroke-width="0.25">6</text>
<line x1="210.7" y1="596.4" x2="208.2" y2="596.4" stroke="#666" stroke-width="1.2" />
<text x="200.9" y="599.4" font-size="8.3" font-weight="bold" text-anchor="end" fill="#222" stroke="#222" stroke-width="0.25">8</text>
<line x1="210.7" y1="575.4" x2="208.2" y2="575.4" stroke="#666" stroke-width="1.2" />
<text x="200.9" y="578.4" font-size="8.3" font-weight="bold" text-anchor="end" fill="#222" stroke="#222" stroke-width="0.25">10</text>
<path d="M210.7 595.3 216.6 595.8 222.5 597.2 250 597.4 289.3 596.9 293.2 597.1 367.9 595.6 407.2 595.3" fill="none" stroke="#38b0d8" stroke-width="1.3" stroke-linejoin="round" stroke-linecap="round" />
<path d="M210.7 658.2 215.6 659.1 220.5 660.4 225.4 661.1 250 662.9 289.3 665 348.2 666.6 407.2 667.1" fill="none" stroke="#7a52a8" stroke-width="1.3" stroke-linejoin="round" stroke-linecap="round" />
<line x1="210.7" y1="680.2" x2="407.2" y2="680.2" stroke="#444" stroke-width="1.4" />
<text x="212.4" y="589.9" font-size="16.5" font-weight="bold" text-anchor="start" fill="#111" >d</text>
<text x="311.3" y="715.5" font-size="10" font-weight="bold" text-anchor="middle" fill="#333" >time (h)</text>
<text x="0" y="0" font-size="10.2" font-weight="bold" text-anchor="middle" fill="#333" stroke="#333" stroke-width="0.25" transform="translate(186.0,636.0) rotate(-90)"><tspan font-style="italic">j</tspan> (mA/cm<tspan font-size="6" dy="-4">2</tspan><tspan dy="4">)</tspan></text>
<rect x="472.2" y="450.7" width="194.0" height="227.2" fill="none" stroke="#333" stroke-width="1.3"/>
<line x1="472.2" y1="677.9" x2="468.7" y2="677.9" stroke="#333" stroke-width="1.3" />
<text x="460.8" y="681.9" font-size="11" font-weight="bold" text-anchor="end" fill="#222" stroke="#222" stroke-width="0.25">-25</text>
<line x1="472.2" y1="640.0" x2="468.7" y2="640.0" stroke="#333" stroke-width="1.3" />
<text x="460.8" y="644.0" font-size="11" font-weight="bold" text-anchor="end" fill="#222" stroke="#222" stroke-width="0.25">-20</text>
<line x1="472.2" y1="602.2" x2="468.7" y2="602.2" stroke="#333" stroke-width="1.3" />
<text x="460.8" y="606.1" font-size="11" font-weight="bold" text-anchor="end" fill="#222" stroke="#222" stroke-width="0.25">-15</text>
<line x1="472.2" y1="564.3" x2="468.7" y2="564.3" stroke="#333" stroke-width="1.3" />
<text x="460.8" y="568.3" font-size="11" font-weight="bold" text-anchor="end" fill="#222" stroke="#222" stroke-width="0.25">-10</text>
<line x1="472.2" y1="526.4" x2="468.7" y2="526.4" stroke="#333" stroke-width="1.3" />
<text x="460.8" y="530.4" font-size="11" font-weight="bold" text-anchor="end" fill="#222" stroke="#222" stroke-width="0.25">-5</text>
<line x1="472.2" y1="488.6" x2="468.7" y2="488.6" stroke="#333" stroke-width="1.3" />
<text x="460.8" y="492.5" font-size="11" font-weight="bold" text-anchor="end" fill="#222" stroke="#222" stroke-width="0.25">0</text>
<line x1="472.2" y1="450.7" x2="468.7" y2="450.7" stroke="#333" stroke-width="1.3" />
<text x="460.8" y="454.7" font-size="11" font-weight="bold" text-anchor="end" fill="#222" stroke="#222" stroke-width="0.25">5</text>
<text x="424.0" y="451.5" font-size="18" font-weight="bold" text-anchor="start" fill="#111" >a</text>
<text x="0" y="0" font-size="15.9" font-weight="bold" text-anchor="middle" fill="#333" stroke="#333" stroke-width="0.25" transform="translate(435.5,560.0) rotate(-90)">Electrostatic potential (eV)</text>
<path d="M472.2 643 473.2 647.6 473.7 648.4 474.2 648 474.7 646.7 475.7 640.8 477.2 625.8 481.2 575.9 482.7 565.5 483.2 564 483.7 563.6 484.2 564.2 484.7 565.9 486.2 576.8 490.2 627 491.7 641.6 492.7 647 493.2 648.2 493.7 648.3 494.2 647.3 495.2 642.3 496.2 633.6 499.7 589.2 501.2 573.2 502.2 566.4 502.7 564.5 503.2 563.6 503.7 563.8 504.2 565.1 505.7 574.9 509.7 624.6 511.2 640.1 512.2 646.3 512.7 647.9 513.2 648.4 513.7 647.9 514.7 643.6 516.2 630.4 520.7 574.9 522.2 565.1 522.7 563.8 523.2 563.6 523.7 564.5 524.2 566.4 525.7 577.8 529.2 622.1 530.7 638.4 531.7 645.3 532.2 647.3 532.7 648.3 533.2 648.2 534.2 644.8 535.7 632.6 539.2 588 540.7 572.3 541.7 565.9 542.2 564.2 542.7 563.6 543.2 564 543.7 565.5 545.2 575.9 549.2 625.8 550.7 640.8 551.7 646.7 552.2 648 552.7 648.4 553.2 647.6 553.7 645.8 555.2 634.6 560.2 574 561.2 566.9 561.7 564.8 562.2 563.7 562.7 563.7 563.2 564.8 563.7 566.9 565.2 578.9 568.7 623.4 570.2 639.2 571.2 645.8 571.7 647.6 572.2 648.4 573.5 644.3 574.6 632.3 579.3 550.8 580.5 535.7 581.7 524.3 582.8 515.9 585.2 502.9 587.5 494.6 588.7 491.5 591 486.7 592.2 484.5 593.4 483.1 598.1 477.9 601.6 475.7 605.1 473.9 611 472 614.5 471.3 619.1 470.8 649.6 470.1 656.6 469.6 666 468.5" fill="none" stroke="#111" stroke-width="1.6" stroke-linejoin="round" stroke-linecap="round" />
<line x1="472.2" y1="468.8" x2="666" y2="468.8" stroke="#40a8d8" stroke-width="1.4" stroke-dasharray="4,2.5"/>
<line x1="472.2" y1="506.7" x2="666" y2="506.7" stroke="#30a050" stroke-width="1.4" stroke-dasharray="4,2.5"/>
<line x1="487.7" y1="473.0" x2="487.7" y2="502.5" stroke="#111" stroke-width="1.1" />
<path d="M485.3,474.5 L487.7,469.2 L490.1,474.5 Z M485.3,501 L487.7,506.3 L490.1,501 Z" fill="#111"/>
<text x="491.0" y="491.5" font-size="11" font-weight="bold" text-anchor="start" fill="#111" >Φ = 4.82 eV</text>
<text x="630.5" y="463.9" font-size="12.3" font-weight="normal" text-anchor="start" fill="#111" >E<tspan font-size="9.5" font-weight="bold" dy="2.6">vac</tspan></text>
<text x="631.0" y="518.4" font-size="12" font-weight="normal" text-anchor="start" fill="#111" >E<tspan font-size="9.5" font-weight="bold" dy="3">f</tspan></text>
<line x1="520.6" y1="669.7" x2="575.0" y2="669.7" stroke="#111" stroke-width="1.3" />
<path d="M573,666.8 L579,669.7 L573,672.6 Z" fill="#111"/>
<text x="580.0" y="674.3" font-size="12.5" font-weight="bold" text-anchor="start" fill="#111" ><tspan font-style="italic">Z</tspan> axis</text>
<line x1="720.9" y1="450.7" x2="720.9" y2="677.6" stroke="#333" stroke-width="1.2" />
<line x1="716.9" y1="450.7" x2="720.9" y2="450.7" stroke="#333" stroke-width="1.2" />
<text x="709.5" y="454.7" font-size="11.2" font-weight="bold" text-anchor="end" fill="#111" >0</text>
<line x1="716.9" y1="479.1" x2="720.9" y2="479.1" stroke="#333" stroke-width="1.2" />
<text x="709.5" y="483.1" font-size="11.2" font-weight="bold" text-anchor="end" fill="#111" >-1</text>
<line x1="716.9" y1="507.4" x2="720.9" y2="507.4" stroke="#333" stroke-width="1.2" />
<text x="709.5" y="511.4" font-size="11.2" font-weight="bold" text-anchor="end" fill="#111" >-2</text>
<line x1="716.9" y1="535.8" x2="720.9" y2="535.8" stroke="#333" stroke-width="1.2" />
<text x="709.5" y="539.8" font-size="11.2" font-weight="bold" text-anchor="end" fill="#111" >-3</text>
<line x1="716.9" y1="564.1" x2="720.9" y2="564.1" stroke="#333" stroke-width="1.2" />
<text x="709.5" y="568.1" font-size="11.2" font-weight="bold" text-anchor="end" fill="#111" >-4</text>
<line x1="716.9" y1="592.5" x2="720.9" y2="592.5" stroke="#333" stroke-width="1.2" />
<text x="709.5" y="596.5" font-size="11.2" font-weight="bold" text-anchor="end" fill="#111" >-5</text>
<line x1="716.9" y1="620.9" x2="720.9" y2="620.9" stroke="#333" stroke-width="1.2" />
<text x="709.5" y="624.9" font-size="11.2" font-weight="bold" text-anchor="end" fill="#111" >-6</text>
<line x1="716.9" y1="649.2" x2="720.9" y2="649.2" stroke="#333" stroke-width="1.2" />
<text x="709.5" y="653.2" font-size="11.2" font-weight="bold" text-anchor="end" fill="#111" >-7</text>
<line x1="716.9" y1="677.6" x2="720.9" y2="677.6" stroke="#333" stroke-width="1.2" />
<text x="709.5" y="681.6" font-size="11.2" font-weight="bold" text-anchor="end" fill="#111" >-8</text>
<text x="688.0" y="451.8" font-size="18.5" font-weight="bold" text-anchor="start" fill="#111" >b</text>
<text x="0" y="0" font-size="15.2" font-weight="bold" text-anchor="middle" fill="#333" stroke="#333" stroke-width="0.25" transform="translate(691.2,559.3) rotate(-90)">Energy (eV)</text>
<line x1="720.9" y1="450.7" x2="826.3" y2="450.7" stroke="#40a8d8" stroke-width="1.4" stroke-dasharray="4,2.5"/>
<line x1="720.9" y1="576.9" x2="827.7" y2="576.9" stroke="#222" stroke-width="0.9" stroke-dasharray="2.5,1.5"/>
<line x1="720.9" y1="609.5" x2="827.7" y2="609.5" stroke="#222" stroke-width="0.9" stroke-dasharray="2.5,1.5"/>
<line x1="720.9" y1="588.5" x2="827.7" y2="588.5" stroke="#30a050" stroke-width="1.4" stroke-dasharray="4,2.5"/>
<rect x="749.1" y="526.5" width="58.3" height="23.9" fill="#8ccce0" />
<rect x="749.1" y="606.0" width="58.5" height="24.7" fill="#d66ab8" />
<text x="778.1" y="543.7" font-size="14.2" font-weight="normal" text-anchor="middle" fill="#111" stroke="#111" stroke-width="0.3">CB</text>
<text x="778.3" y="623.6" font-size="14.2" font-weight="normal" text-anchor="middle" fill="#111" stroke="#111" stroke-width="0.3">VB</text>
<line x1="730.8" y1="456.0" x2="730.8" y2="583.0" stroke="#111" stroke-width="1.1" />
<path d="M728.4,457.5 L730.8,451.5 L733.2,457.5 Z M728.4,582 L730.8,588 L733.2,582 Z" fill="#111"/>
<rect x="722.5" y="509.0" width="61.0" height="12.0" fill="#fff" />
<text x="722.5" y="518.5" font-size="11" font-weight="bold" text-anchor="start" fill="#111" >Φ = 4.82 eV</text>
<line x1="763.6" y1="557.0" x2="763.6" y2="564.0" stroke="#111" stroke-width="1.1" />
<line x1="763.6" y1="577.0" x2="763.6" y2="601.0" stroke="#111" stroke-width="1.1" />
<path d="M761.2,557.5 L763.6,551.5 L766,557.5 Z M761.2,600 L763.6,606 L766,600 Z" fill="#111"/>
<text x="754.7" y="575.0" font-size="11" font-weight="bold" text-anchor="start" fill="#111" >E<tspan font-size="7.5" dy="2">g</tspan><tspan dy="-2"> = 1.9 eV</tspan></text>
<text x="828.0" y="456.2" font-size="12.7" font-weight="normal" text-anchor="start" fill="#111" >E<tspan font-size="9.8" font-weight="bold" dy="3.4">vac</tspan></text>
<text x="827.8" y="593.5" font-size="12.5" font-weight="normal" text-anchor="start" fill="#111" >E<tspan font-size="9.8" font-weight="bold" dy="3">f</tspan></text>
</svg></body></html>
